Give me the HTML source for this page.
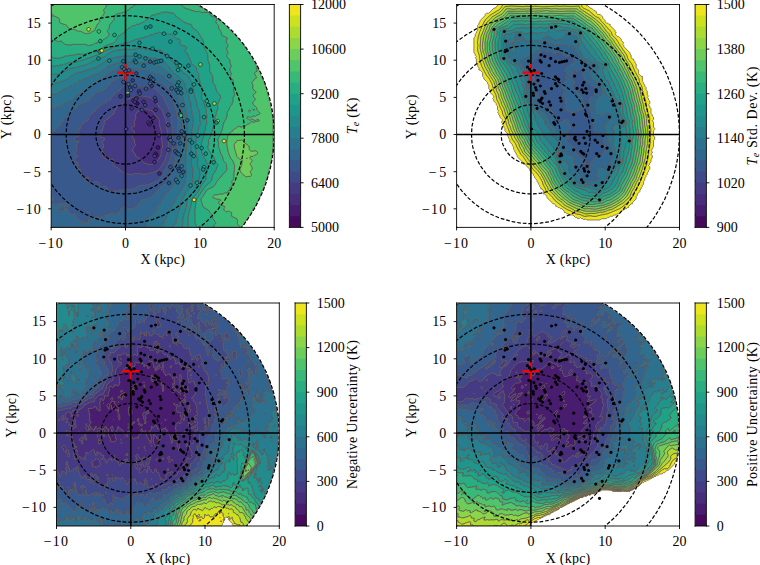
<!DOCTYPE html>
<html><head><meta charset="utf-8"><style>
html,body{margin:0;padding:0;background:#fff;width:760px;height:565px;overflow:hidden}
svg{display:block}
text{font-family:"Liberation Serif",serif}
</style></head><body>
<svg width="760" height="565" viewBox="0 0 760 565">
<defs>
<style type="text/css">*{stroke-linejoin: round; stroke-linecap: butt}</style>
</defs>
<g id="figure_1">
<g id="patch_1">
<path d="M0 565l760 0 0-565-760 0z" style="fill: #ffffff"/>
</g>
<g id="axes_1">
<g id="patch_2">
<path d="M51.2 227.4l223 0 0-222.9-223 0z" style="fill: #ffffff"/>
</g>
<g id="QuadContourSet_1">
<path clip-path="url(#p6381751999)" style="fill: #460a5d; stroke: #615252; stroke-opacity: 0.8; stroke-width: 0.9"/>
<path clip-path="url(#p6381751999)" style="fill: #481c6e; stroke: #615252; stroke-opacity: 0.8; stroke-width: 0.9"/>
<path d="M149.1 164.3l2.5 .4 4.9-2.6 2.5-3.1 2.3-4.7-.2-3.7 1.4-3.7 .1-1.2-1.4-9.9 .4-3.8-1.6-4.9-1-7.8-1.3-2.1-3.2-2.5-.7-2.5-1.3-1.2-7.1-2.1-2.5-.1-1.3-.6-1.2 .5-.2 1.1-1 1-2.4 1.4-.7 1.3-.6 1.2 .4 2.5-.2 1.2-1.7 3.7 .8 2.5-.6 1.6-2.7 .9-.5 1.2 2.9 2.5 .6 1.2-.3 1.5-1.8 2.3 .2 1.2 1.5 2.5 .6 3.7 .8 1.2 0 1.3-1.3 .8-2 4.1 3.2 3.7-.2 1.3 1.2 1.2 2.8 1.3 3.6 3.7 1.8 1.2 3.2 1.2z" clip-path="url(#p6381751999)" style="fill: #472d7b; stroke: #615252; stroke-opacity: 0.8; stroke-width: 0.9"/>
<path d="M130.5 174.5l1.2 .1 2.5-.9 3.7-.2 1.3-.1 3.7 .9 4.9-.4 2.5-.9 2.5-.2 3.7-1.7 3.8-3.1 4.9-8.3 .7-2.9 1.2-2.5 1.1-7.4 .2-6.2-.9-4.9 0-3.8-.9-4.9-.5-6.2-3.6-9.9-.8-1.2-2.7-3.2-1.8-3-6.9-6.2-7.4-1.3-5-.1-4.9 1.2-2.5 1.3-2.5 .6-1.2 1-2.6 1-1.1 1.6-2.5 1.5-1.3 1.5-2.3 1.6-2.2 3.7-.7 2.5-2.2 1.6-1.2 1.6-2.5 1.3-1.2 1.4-2.5 1.4-.4 3.8-.9 2.2-.5 2.8-.8 1.2-1.1 4-1 1 1 1.5 2.4 .3 .9 .6 .6 1.3-1.5 1.3-.5 1.2 0 1.2 1 2.5 0 1.2-1.5 1.2-.3 1.3 .2 1.2 1.9 2.5 0 1.2-2 1.1 .3 1.4 2.2 1.4 6.2 1.3 1.2-.5 1 .3 .5 1.2-.8 1.3-.2 1.2 2 3.1 1.2 1 2.5 .9 3.7 3.4 2.5 1.6 1.2 .6 4 .6zM147.8 164.2l-3.2-1.2-1.8-1.2-3.6-3.7-2.8-1.3-1.2-1.2 .2-1.3-3.2-3.7 2-4.1 1.3-.8 0-1.3-.8-1.2-.6-3.7-1.5-2.5-.2-1.2 1.8-2.3 .3-1.5-.6-1.2-2.9-2.5 .5-1.2 2.7-.9 .6-1.6-.8-2.5 1.7-3.7 .2-1.2-.4-2.5 .6-1.2 .7-1.3 2.4-1.4 1-1 .2-1.1 1.2-.5 1.3 .6 2.5 .1 7.1 2.1 1.3 1.2 .7 2.5 3.2 2.5 1.3 2.1 1 7.8 1.6 4.9-.4 3.8 1.4 9.9-.1 1.2-1.4 3.7 .2 3.7-2.3 4.7-2.5 3.1-4.9 2.6-2.5-.4z" clip-path="url(#p6381751999)" style="fill: #443b84; stroke: #615252; stroke-opacity: 0.8; stroke-width: 0.9"/>
<path d="M109.4 191.6l1.3 .3 1.2-.3 1.2-.9 2.7 .8 2.3-1.2 2.5 .4 2.5-1 8.6 .1 1.3-.9 2.4-.8 2.3-1.6 3.9-1.5 2.5 .2 5-.7 2.5-1.1 2.3-.6 1.4-1.2 2.4-1.2 1.3-1.5 2.5-1.9 1.8-2.8 1.2-3.8 2.1-2.4 3.5-8.7 2-6.2 .9-6.2 .1-6.2-.5-4.9 .3-5-1.3-6.2 .1-4.9-1.1-5-2.3-7.4-3-5-1.9-4.9-.9-1.3-3.5-2.9-2.5-3.3-2.5-1.7-3.7-.7-2.5-.9-3.7 .4-4.9 0-3.3-2-1.7-.3-5 .1-4.9 1.2-1.2 1.2-2.5 1.4-1.3 1.8-4.9 3.5-4.7 6-2.4 1.2-1.6 1.6-1.2 .2-1.1 .7-.9 1.2-2.7 1.2-1.5 1.6-1.7 .9-1.8 2.5-1.5 .9-1.2 1.5-2.4 1.3-.6 1.3-.2 2.4-1.9 2.5-2.6 1.2-2.2 2.1-1.3 .4-.1 3.7-1.9 1.3-.7 1.2 .2 1.2 1.9 2.5-.5 1.3-2.6 .6-1.2 1.7-1.8 1.4 .5 1.1 1.3 .8 2.5-.2 .7 .8-.7 .8-1.3 .5-.4 1.1-.2 1.3 .6 2.4-1 2.5-.5 2.5 .5 1.2 1.4 1.3 .7 1.2-2.3 .4-1.3 2.6-2.5 .7 1.3 1.5 2.5-.4 1.7 1.4 .7 1.2-.7 2.5 .4 1.3 3.1 2.4-.8 1.3-.1 1.2 .4 1.3 3.7 3.7 .9 2.4 1.6 1.3 6.4 1 2.5-1.3 1.3 .3 2.1 1.2 .1 2.5 1.3 1.2 1.4 .3 2.5-.4 1.2 .6 2.1 2 1.4 2.5zM85.6 177.9l1.5-1.1 1.3 .9 0 .5-1.3 .5-1.2-.8zM129.5 174.2l-4-.6-1.2-.6-2.5-1.6-3.7-3.4-2.5-.9-1.2-1-2-3.1 .2-1.2 .8-1.3-.5-1.2-1-.3-1.2 .5-6.2-1.3-2.2-1.4-.3-1.4 2-1.1 0-1.2-1.9-2.5-.2-1.2 .3-1.3 1.5-1.2 0-1.2-1-2.5 0-1.2 .5-1.2 1.5-1.3-.6-1.3-.9-.6-2.4-.3-1-1.5 1-1 1.1-4 .8-1.2 .5-2.8 .9-2.2 .4-3.8 2.5-1.4 1.2-1.4 2.5-1.3 1.2-1.6 2.2-1.6 .7-2.5 2.2-3.7 2.3-1.6 1.3-1.5 2.5-1.5 1.1-1.6 2.6-1 1.2-1 2.5-.6 2.5-1.3 4.9-1.2 5 .1 7.4 1.3 6.9 6.2 1.8 3 2.7 3.2 .8 1.2 3.6 9.9 .5 6.2 .9 4.9 0 3.8 .9 4.9-.2 6.2-1.1 7.4-1.2 2.5-.7 2.9-4.9 8.3-3.8 3.1-3.7 1.7-2.5 .2-2.5 .9-4.9 .4-3.7-.9-1.3 .1-3.7 .2-2.5 .9-1.2-.1z" clip-path="url(#p6381751999)" style="fill: #3e4a89; stroke: #615252; stroke-opacity: 0.8; stroke-width: 0.9"/>
<path d="M84.6 224.5l.3-.8-.8-2.5 .5-.2 2.2 1.4 1.1 0 .5-.6 0-2.4 1.2-.7 1.2 0 1.4-1.2 1.1-.5 2.5 .3 2.5-.5 2.5 .5 2.4-1.3 2.5-.6 1.3-1 3.7-.6 1.2-.9 2.5 1 1.2 .1 1.3-1 2.6-.5 .7-1.2-.2-2.5 1.8-.3 2.5-1.9 1.2 .2 2.5 1.6 2.5-.2 2.5 .4 2.4-1.6 2.1-.7 1-2.4 3.1-3.8 2.5-.7 1.3-.9 2.4 0 4.2-2.1 1.9-2.4 5.1-4.2 1.2-2.2 2.5-2.6 2.7-2.2 1.7-2.5 1.6-3.7 1.4-2.2 .6-2.7 3.5-7.5 2.4-11.1 1.2-14.9-.1-9.9-.4-4.9 .1-3.7-.7-7.5-3.5-9.9 0-3.7-.6-2.1-2.3-5.3-3.2-3.7-5.6-3.9-5-1.9-3.7-2.3-6.2-1.6-6.2-1.2-3.7-.2-3.7-1.1-5-.3-4.9 1.5-1.3 .9-2.5 .6-4.6 2-3.7 2.5-4.5 5-1.9 1.2-1.4 2.1-2.4 .4-1.3 1-2.5 .3-3.7 2.6-1.3 2.3-3.6 3-2.5 1.1-1.3 1.2-3.1 .9-.9 1.2-2.1 .3-1.9 2.2-1.9 .9-2.5 2.8-.7 1.2-.2 1.3-.9 1.2-1.9 .8-1.2 1.2-3.1 1.7-.6 1.4-1.2 1.4-1.3 3.4-2 1.3-.6 1.2-1.1 1.2-1.2 .4-1.4 2.1-2.2 1.2-.4 3.8-1 1 0 59.2 2.3 1.7 .5 1.2-.6 1.3-2 1.2 0 1.2 2.3 1.7 2.5-.6 2.4 .3 2.5-1.3 3.7 1.1 1.3-.9 2.4 .9 .8 1.3-.2 1.2-.6 .7-2.4-1-1.2 1.6 2.9 2.5 2.2 3.7 1 .5 1.3 .1 1.2-1 1.2 .4 1.3 1.5 1.5 3.4 4 2.5 2.3 2.5zM87.6 212.5l.3-1.2 .5-.3 1.2 .2 .7 1.3-.7 .8-1.2-.2zM109.2 191.5l-1.4-2.5-2.1-2-1.2-.6-2.5 .4-1.4-.3-1.3-1.2-.1-2.5-2.1-1.2-1.3-.3-2.5 1.3-6.4-1-1.6-1.3-.9-2.4-3.7-3.7-.4-1.3 .1-1.2 .8-1.3-3.1-2.4-.4-1.3 .7-2.5-.7-1.2-1.7-1.4-2.5 .4-1.3-1.5 2.5-.7 1.3-2.6 2.3-.4-.7-1.2-1.4-1.3-.5-1.2 .5-2.5 1-2.5-.6-2.4 .2-1.3 .4-1.1 1.3-.5 .7-.8-.7-.8-2.5 .2-1.3-.8-.5-1.1 1.8-1.4 1.2-1.7 2.6-.6 .5-1.3-1.9-2.5-.2-1.2 .7-1.2 1.9-1.3 .1-3.7 1.3-.4 2.2-2.1 2.6-1.2 1.9-2.5 .2-2.4 .6-1.3 2.4-1.3 1.2-1.5 1.5-.9 1.8-2.5 1.7-.9 1.5-1.6 2.7-1.2 .9-1.2 1.1-.7 1.2-.2 1.6-1.6 2.4-1.2 4.7-6 4.9-3.5 1.3-1.8 2.5-1.4 1.2-1.2 4.9-1.2 5-.1 1.7 .3 3.3 2 4.9 0 3.7-.4 2.5 .9 3.7 .7 2.5 1.7 2.5 3.3 3.5 2.9 .9 1.3 1.9 4.9 3 5 2.3 7.4 1.1 5-.1 4.9 1.3 6.2-.3 5 .5 4.9-.1 6.2-.9 6.2-2 6.2-3.5 8.7-2.1 2.4-1.2 3.8-1.8 2.8-2.5 1.9-1.3 1.5-2.4 1.2-1.4 1.2-2.3 .6-2.5 1.1-5 .7-2.5-.2-3.9 1.5-2.3 1.6-2.4 .8-1.3 .9-8.6-.1-2.5 1-2.5-.4-2.3 1.2-2.7-.8-1.2 .9-1.2 .3-1.3-.3zM58.6 210.2l1.3-.1 3.7 .7 .7-.7 .4-2.5-3.6-1.2-2.4 2.4-.3 1.3zM85.9 177.9l1.2 .8 1.3-.5 0-.5-1.3-.9-1.5 1.1z" clip-path="url(#p6381751999)" style="fill: #38598c; stroke: #615252; stroke-opacity: 0.8; stroke-width: 0.9"/>
<path d="M52.4 227.4l92.9 0 .7-1.2 0-3.8 1.6-2.4 .9-2.5 3.1-3.3 1.4-.4 3.2-2.5 .5-1.2 0-2.5 2.3-2 2.1-3 1.1-3.7 1.7-1.6 1.3-2.6 2.5-2.8 2.5-1.7 2.4-2.4 .6-1.3 .2-2.4 1.7-2.5 .6-2.5 3.1-7 .6-4.1 .8-2.5 .2-5 1.2-8.6-.4-6.2 1.3-7.5 .5-6.2-.9-8.6 .4-5-.5-4.9-1.5-5-.4-3.7-1.5-3.7-1.8-9.9-2.1-3.7-.8-2.5-1.3-1.8-4.9-3.1-2.6-2.5-3.6-2.4-7.5-3-3.7-.8-3.7-2-8.7-.2-6.2-.7-3.7-1.1-3.7-.3-1.2 .1-6.2 2.7-2.5 .6-5 2.1-3.7 2.4-4.9 4.3-1.6 .7-2.2 1.9-9.1 5.6-5.7 4.7-6.2 3.5-1.3 1.7-1.2 .5-1.4 2-7.3 3.4-1.2 1-2.5 .9-1.2 1.5-2.5 .4-1.8 1.4-3.2-.2-1.2 1 0 27.5 1-1 .4-3.8 2.2-1.2 1.4-2.1 1.2-.4 1.1-1.2 .6-1.2 2-1.3 1.3-3.4 1.2-1.4 .6-1.4 3.1-1.7 1.2-1.2 1.9-.8 .9-1.2 .2-1.3 .7-1.2 2.5-2.8 1.9-.9 1.9-2.2 2.1-.3 .9-1.2 3.1-.9 1.3-1.2 2.5-1.1 3.6-3 1.3-2.3 3.7-2.6 2.5-.3 1.3-1 2.4-.4 1.4-2.1 1.9-1.2 4.5-5 3.7-2.5 4.6-2 2.5-.6 1.3-.9 4.9-1.5 5 .3 4.9 1.3 2.5 0 11.2 2.4 6.1 3.3 5 2.1 4.4 3.1 3 3.5 2.8 6.4 .3 4.9 3.5 9.9 .7 7.5-.1 3.7 .4 4.9 .1 9.9-1 9.9 0 3.8-2.6 12.3-3.5 7.5-.6 2.7-4.7 8.4-2.7 2.2-2.5 2.6-1.7 2.6-4.6 3.8-1.9 2.4-4.2 2.1-2.4 0-1.3 .9-2.5 .8-3.1 3.7-1 2.4-2.1 .7-2.4 1.6-2.5-.4-2.5 .2-2.5-1.6-1.2-.2-2.5 1.9-1.8 .3 .2 2.5-.7 1.2-2.6 .5-1.3 1-1.2-.1-2.5-1-1.2 .9-3.7 .6-1.3 1-2.5 .6-2.4 1.3-2.5-.5-2.5 .5-2.5-.3-1.1 .5-1.4 1.2-1.2 0-1.2 .7 0 2.4-.5 .6-1.1 0-2.2-1.4-.5 .2 .8 2.5-.3 .8-3.1-3.3-4-2.5-1.5-3.4-1.3-1.5-1.2-.4-1.2 1-1.3-.1-1-.5-2.2-3.7-2.9-2.5 1.2-1.6 2.4 1 .6-.7 .2-1.2-.7-1.2-2.5-1-1.3 .9-3.7-1.1-2.5 1.3-2.4-.3-2.5 .6-1-.4-1.3-1.3 0-1.2 2-1.2 .6-1.3-.5-1.2-2.3-1.7 0 31.4zM58.4 210.1l.3-1.3 2.4-2.4 3.6 1.2-.4 2.5-.7 .7-3.7-.7-1.3 .1zM88.4 213.1l1.2 .2 .7-.8-.7-1.3-1.2-.2-.5 .3-.3 1.2z" clip-path="url(#p6381751999)" style="fill: #31668e; stroke: #615252; stroke-opacity: 0.8; stroke-width: 0.9"/>
<path d="M145.4 227.4l16 0 1.3-.8 1.4-2.9 .7-3.7 2.4-2.5 .1-3.7 4.2-5 .3-2.5 .6-1.2 1.6-1.2 2.6-6.2 2.2-2.9 1.2-2.6 3.8-5.7 1.4-4.9 1.2-7.4-.8-6.2 .6-7.5-.1-4.9 1.6-29.7-.8-3.8 .4-3.7-.6-3.7 0-2.5-1.5-4.9-.4-3.7-.9-2.5-.7-3.7-1.4-3.7-.7-3.8-2.5-6.1-4.8-5.3-4.2-3.4-3.2-4.4-6.2-4.1-7.4-3.2-11.2-.9-7.4 .2-5-1.1-4.9 0-5 .7-8.9 2.9-4.4 2.5-4.3 3.7-4.7 2.4-18.5 7.6-2.5 1.8-2.1 .6-1.6 1.7-2.5 .9-1.3 1.1-2.4 .6-3.7 2-2.5 1.9-1.7 .4-2 1.2-2.5 .2-2.5 1 0 14.5 1.2-1 3.2 .2 1.8-1.4 2.5-.4 1.2-1.5 2.5-.9 1.2-1 7.3-3.4 1.4-2 1.2-.5 1.3-1.7 6.2-3.5 5.7-4.7 9.1-5.6 2.2-1.9 1.6-.7 4.9-4.3 3.7-2.4 5-2.1 2.5-.6 6.2-2.7 4.9 .2 3.7 1.1 6.2 .7 8.7 .2 3.7 2 5 1.2 7.4 3.3 2.4 1.7 2.6 2.5 3.7 2.1 1.7 1.6 1.6 3.7 2.1 3.7 1.8 9.9 1.5 3.7 .4 3.7 1.3 3.7 .7 6.2-.4 5 .6 3.7 .2 6.2-.4 4.9-1.3 7.5 .4 6.2-1.2 8.6-.2 5-.8 2.5-.6 4.1-3.1 7-.6 2.5-1.7 2.5-.2 2.4-.6 1.2-2.5 2.6-2.1 1.2-2.8 3.2-1.3 2.6-1.7 1.6-1.1 3.7-2.1 3-2.3 2 0 2.5-.5 1.2-3.2 2.5-1.4 .4-3.1 3.3-.9 2.5-1.6 2.4 0 3.8-.7 1.2z" clip-path="url(#p6381751999)" style="fill: #2c728e; stroke: #615252; stroke-opacity: 0.8; stroke-width: 0.9"/>
<path d="M161.5 227.4l10.9 0 3.5-3.7 .6-1.3-.1-3.7 1.2-2.4 0-2.5 2.4-5 1.2-6.2 2.1-4.9 2.9-5 4.3-4.9 2.2-5-.1-3.7 .7-3.7-.8-7.4-1.1-3.8 .2-11.1-.4-8.7 .8-6.2 .2-8.6 1.2-5 .1-6.2-.1-1.2-1-2.5-.4-3.7-1.1-3.7 .4-3.7-1.8-3.7-.7-3.8-1.3-3.1-.5-3.1-1.5-2.4-1.1-5-5.9-6.2-5.4-3.7-2.4-3.7-5.6-6.2-2.4-1.6-7.4-3.1-5-.2-7.4-1.6-3.7 .2-2.5-.4-11.2-.3-4.9 .6-9.9 2.2-4 1.7-9.7 6.7-3.7 1.5-2.5 .3-6.2 2.3-7.4 1.8-4.9 2.2-5 4.1-3.7 1.8-2.5 .5-4.9 1.9-3 1.7-2 1.8 0 8 2.5-1 2.5-.2 2-1.2 1.7-.4 2.5-1.9 3.7-2 2.4-.6 1.3-1.1 2.5-.9 1.6-1.7 2.1-.6 2.5-1.8 18.5-7.6 4.7-2.4 4.3-3.7 4.4-2.5 8.9-2.9 5-.7 4.9 0 5 1.1 7.4-.2 11.2 .9 1.2 .4 6.2 2.8 6.2 4.1 3.2 4.4 4.2 3.4 3.9 4 1.1 1.6 2.3 5.8 .7 3.8 1.4 3.7 .7 3.7 .9 2.5 .4 3.7 1.5 4.9 0 2.5 .6 3.7-.4 3.7 .8 3.8-1.6 29.7 .1 4.9-.6 7.5 .6 7.4-.6 2.5-.4 3.7-1.5 4.9-3.7 5.7-1.2 2.6-2.2 2.9-2.6 6.2-1.6 1.2-.6 1.2-.3 2.5-4.2 5-.1 3.7-2 1.9-1.6 5.5-.9 1.7-1.3 .8z" clip-path="url(#p6381751999)" style="fill: #277e8e; stroke: #615252; stroke-opacity: 0.8; stroke-width: 0.9"/>
<path d="M172.6 227.4l9.8 0 .6-8.7 1.1-4.9 2.4-6.2 .4-6.2 1.8-4.5 2.5-3 2.8-2.4 1.8-2.5 1-3.7 2.2-5 1.1-7.4-1.2-4.9-1.4-3.8-.1-1.2 .6-2.5-.1-1.2-1.4-3.7-.6-12.4 1.2-8.7 1.9-7.4 1.5-2.5 .3-1.2-1-3.7 .3-3.7-1.2-6.2-1.8-3.8 .2-2.4-.3-1.3-1.1-2.4-1.8-6.2-.4-5-1.7-3.7-.1-2.5-.5-1.2-1.9-2.5-.9-2.5-1.1-1.2-2.5-1.1-1.9-1.4-1.6-2.5-1.3-1.2-4.1-2.5-1-3.7-1.3-1.1-2.6-1.4-1.3-1.2-1-2.5-3.8-2.5-3.6-3.5-1.3-.5-7.4 0-5-1.1-2.4 .1-3.8-1.3-4.9 .7-2.5 .9-3.7 .3-3.7-.4-11.2 1-3.7 1.4-3.7 2-2.5 2.1-3.6 2-6.3 1.8-6.2 3.7-3.7 1.5-9.9 2.7-7.5 1.4-6.1 3.8-3.8 1.4-7.4 .4 0 12.4 2-1.8 4.2-2.3 6.2-1.8 4.3-2.1 1.9-1.9 3.7-2.6 3.7-1.5 7.4-1.8 6.2-2.3 2.5-.3 3.7-1.5 10-6.8 3.7-1.6 4.9-1.2 9.9-1.6 11.2 .3 2.5 .4 3.7-.2 7.4 1.6 3.7 0 1.3 .2 7.4 3.1 3.7 2.8 4.3 5 3.1 4.4 4.7 3 5.3 5.5 1.1 2 .6 3.7 1.5 2.4 .5 3.1 1.3 3.1 .7 3.8 1.8 3.7-.4 3.7 1.1 3.7 .4 3.7 1 2.5 .1 6.2-1.3 6.2-.2 8.6-.8 6.2 .4 8.7-.2 11.1 1.1 3.8 .7 6.2-.6 4.9 .2 2.5-.4 2-1.9 4.2-4.3 4.9-2.9 5-2.1 4.9-1.2 6.2-2.4 5 0 2.5-1.3 2.8 0 3.9-3.9 4.4z" clip-path="url(#p6381751999)" style="fill: #238a8d; stroke: #615252; stroke-opacity: 0.8; stroke-width: 0.9"/>
<path d="M182.5 227.4l5.9 0-.2-8.7 .6-4.9 2.2-7.5 .8-6.1 1.3-2.5 3.1-3.1 2.3-3.1 2.9-6.2 4-5 .6-1.2 .1-3.7 1.2-2.5 .1-3.7 1.5-2.5-.1-1.2-2.3-3.7-.9-2.5-2.7-3.7-1.7-6.2 .4-7.4 2-5 .4-3.7 1.4-2.5 .1-3.7 1.5-3.7-.6-3.7 .6-3.7-.8-3.8 .3-2.4-1.8-3.8-.7-3.7-2.3-3.7-.1-7.4 .9-2.5-.1-1.2-2-2.5-.4-3.7-1.2-3.7-.1-3.8-1.8-2.4-.5-3.7-.9-1.3-4-2.5-.9-3.7-2.1-3.7-.6-2.5-2.5-2.4-.4-1.3 1.2-1.1 .6-1.4-.5-1.2-2.5-1.1-2.5-.1-1.3-1-.4-1.5 .8-1.3 .2-1.2-.6-.7-1.2-.8-2.5-.4-1.3-.6-1.6-2.4-1.3-1.3-2-.3-2.4 .5-6.1-1.4-2.6-1.2-2.5 1.6-2.5 0-1.2 1.2-2.5 .3-1.2 .4-1.3 1.1-2.4 .2-2.5 1.3-6.5 1.3-7.2 2.8-6.1 1.3-5 1.7-6.2 3.1-6.2 2.4-6.2 3.6-21 7.3-8.7 1-6.2 2-2.5 .3-2.5 .8-2.4 .1-2.5 .7-2.5-.5 0 8.6 7.4-.4 3.8-1.4 6.1-3.8 7.5-1.4 9.9-2.7 3.7-1.5 6.2-3.7 6.3-1.8 3.6-2 2.5-2.1 3.7-2 3.7-1.4 11.2-1 3.7 .4 3.7-.3 2.5-.9 4.9-.7 3.8 1.3 2.4-.1 5 1.1 7.4 0 1.3 .5 3.6 3.5 3.8 2.5 1 2.5 1.3 1.2 2.6 1.4 1.3 1.1 1 3.7 4.1 2.5 1.3 1.2 1.6 2.5 1.9 1.4 2.5 1.1 1.1 1.2 .9 2.5 1.9 2.5 .5 1.2 .1 2.5 1.7 3.7 .4 5 1.8 6.2 1.1 2.4 .3 1.3-.2 2.4 1.8 3.8 1.2 6.2-.3 3.7 1 3.7-.3 1.2-1.5 2.5-1.9 7.4-1.2 8.7 .6 12.4 1.4 3.7 .1 1.2-.6 2.5 .1 1.2 1.4 3.8 1.2 6.2-1.5 7.4-1.8 3.7-1 3.7-1.8 2.5-2.8 2.4-2.5 3-1.8 4.5-.4 6.2-2.4 6.2-1.1 4.9-.6 8.7z" clip-path="url(#p6381751999)" style="fill: #1f968b; stroke: #615252; stroke-opacity: 0.8; stroke-width: 0.9"/>
<path d="M188.7 227.4l8.5 0-2.2-5 .3-4.9-.5-5 1.4-12.3 8-12.4 3.1-3.3 2.3-1.7 2.1-2.5 1.1-4.9 3.1-5 2-4.9-.2-1.3-2.1-2.4-1.7-5-2.3-2.5-3.1-4.9-.6-2.5 .9-2.5-.3-4.4 1.9-3 .4-2.5 1.8-3.7 1.2-6.2 1.1-2.5 .1-4.9 1.3-2.5 .1-2.5 1.5-3.7-.3-3.7 1.9-4.9 1.4-2.5-.9-2.5-3.3-3.7-1.3-5-2.3-3.7-.3-6.2-3.3-6.2 .3-4.9-2-6.2 .2-2.5-.3-2.5-4-7.4-.1-5-.4-1.2-5.2-8.7-1.8-1.8-3.7-1.9-.6-2.4-.7-1.3-3.7-.8-3.8-1.7-2.9-2.4-4.2-2.5-2.8-3.6-1.2-.5-2.5-.1-3.7-.8-4.9 .5-2.5 1.2-2.5 .3-1.2 .8-3.7 .5-1.1 1.7-1.4 .3-1.5 2.2-2.2 .8-2.5 2-2.5 .8-1.2 1.3-2.5-.2-2.2 1.5-1.5-.1-1.3 .6-1.2 1.3-2.5 1.1-1.2 1.6-1.3 .6-1.9 2.3-1.8 .8-4 2.9-1.8 3.7-2.3 2.5-6.7 2.3-3.8 1.9-2.3 2-3.9 2.3-6.2 1-7.4 1.8-3.7-.2-3.7 .3-2.5 .9-3.6 .1-1.4 .5-2.4-.1-2.5 1.1-5 1.5-4.9-.6-2.5-1 0 9.1 2.5 .5 2.5-.7 2.4-.1 2.5-.8 2.5-.3 6.2-2 8.7-1 21-7.3 6.2-3.6 6.2-2.4 6.2-3.1 5-1.7 6.1-1.3 7.2-2.8 6.5-1.3 2.5-1.3 2.4-.2 1.3-1.1 1.2-.4 2.5-.3 1.2-1.2 2.5 0 2.5-1.6 2.6 1.2 6.1 1.4 2.4-.5 2 .3 1.3 1.3 1.6 2.4 1.3 .6 2.5 .4 1.2 .8 .6 .7-.2 1.2-.8 1.3 .4 1.5 1.3 1 2.5 .1 2.5 1.1 .5 1.2-.6 1.4-1.2 1.1 .4 1.3 2.5 2.4 .6 2.5 2.1 3.7 .9 3.7 4 2.5 .9 1.3 .5 3.7 1.8 2.4 .1 3.8 1.2 3.7 .4 3.7 2 2.5 .1 1.2-.9 2.5 .3 3.7-.4 2.5 .2 1.2 2.3 3.7 .7 3.7 1.8 3.8-.3 2.4 .8 3.8-.6 3.7 .6 3.7-1.5 3.7-.1 3.7-1.4 2.5-.4 3.7-2 5-.4 7.4 1.7 6.2 2.7 3.7 .9 2.5 2.3 3.7 .1 1.2-1.5 2.5-.1 3.7-1.2 2.5-.1 3.7-.6 1.2-4 5-2.9 6.2-2.3 3.1-3.1 3.1-1.3 2.5-.8 6.1-2.2 7.5-.6 4.9 .2 8.7z" clip-path="url(#p6381751999)" style="fill: #1fa287; stroke: #615252; stroke-opacity: 0.8; stroke-width: 0.9"/>
<path d="M197.4 227.4l17 0-.6-1.2 .6-1.3 1.3-1.2 0-1.3-.6-1.2-2.1-2.5-.4-3.7-2.5-2.5-1.6-2.4-4.3-2.5-1.1-1.3-2-6.1 .1-1.3 3.4-4.9 1.5-3.1 3.7-2.5 2.5-.9 2.6-2.2 1.9-3.7 2.9-3.6 1.2-.9 1.3-2.2 2.4-1.8 2-2.7 .4-1.2-.5-5-3-3.7-.8-3.7-2.1-3.7-.5-2.5-1.6-3.7-.1-1.2 .4-2.5-.9-3.7 .5-1.6 1.7-2.1 .6-2.5 1.2-2.5 2.2-8.7 1.7-2.4 1.5-3.7 0-3.8 .6-1.2 1.3-1.2 .5-2.5 2.1-2.5 .9-2.5 .4-1.2 .2-3.7 1.3-2.5 0-1.2-1.1-3.8 .6-2.4-.6-2.5 0-3.7-.4-1.3-2.3-2.4-.4-1.3 1.2-2.5-1.6-3.7 .1-1.2 1.3-2.5-1.3-3.7 0-2.5-3.3-3.7-.1-1.2 1.6-2.5-1.7-3.7 .1-1.3 .4-.7 1-.5 .2-1.2-1.8-2.5-.1-1.3 1-3.7-5.2-2.5-.6-1.2-.4-2.5-2.8-3.7 .3-2.4-2.4-2.5-.2-1.3 .7-2.4-.3-1.3-1.8-1.1-4-1.4-.8-1.2 1.1-1.2-1.2 0-.6-.6-4.4-.5-2.5 .5-3.7-1.4-2.4 .4-1.3-.3-11.1-3.8-2.6-3-44.3 0-2.7 .4-1.2 1.8-2.5 .9-1.3 1.9-2.4 1.2-1.3 1.3-2.4 .3-2.5 .9-2.5 .1-3.8 2.3-.6 1.3 .4 2.5-2.9 3.7-1.5 1.2-.4 1.3 0 2.4-1.9 2.5 .1 1.2 1.5 2.5-.2 1.3-3.1 2.8-2.5 1.3-1.2 1.3-2.5 .4-2.5 1.5-2.4 .6-1.3 1-4.9 1.1-3.8-1.4-2.4 .4-2.5-.3-2.5 .3-3.7-.2-2.5 .5-4.9-.2-1.4-.5-2.3-2.3-1.3-.7-1.2 0-1.3 .6-3.7-1.5-3.7 .2 0 16.3 2.5 1 4.9 .6 5-1.5 2.5-1.1 2.4 .1 1.4-.5 3.6-.1 2.5-.9 3.7-.3 3.7 .2 7.4-1.8 6.2-1 3.9-2.3 2.3-2 3.8-1.9 6.7-2.3 2.3-2.5 1.8-3.7 4-2.9 1.8-.8 1.9-2.3 1.3-.6 1.2-1.6 2.5-1.1 1.2-1.3 1.3-.6 1.5 .1 2.2-1.5 2.5 .2 1.2-1.3 2.5-.8 2.5-2 2.2-.8 1.5-2.2 1.4-.3 1.1-1.7 3.7-.5 1.2-.8 2.5-.3 2.5-1.2 4.9-.5 7.3 1.3 2.9 3.7 4.2 2.5 2.9 2.4 3.8 1.7 3.7 .8 .7 1.3 .6 2.4 2.4 1.1 2.5 1.9 5.8 9.4 .4 1.2 .1 5 4 7.4 .3 2.5-.2 2.5 2 6.2-.3 4.9 3.3 6.2 .3 6.2 2.3 3.7 1.3 5 3.3 3.7 .9 2.5-1.4 2.5-1.9 4.9 .3 3.7-1.5 3.7-.1 2.5-1.3 2.5-.1 4.9-1.1 2.5-1.2 6.2-1.8 3.7-.4 2.5-1.9 3 .3 4.4-.9 2.5 .6 2.5 3.1 4.9 2.3 2.5 1.7 5 2.1 2.4 .2 1.3-2 4.9-3.1 5-1.1 4.9-2.1 2.5-2.3 1.7-3.1 3.3-8 12.4-1.4 12.3 .5 5-.3 4.9 2.2 5z" clip-path="url(#p6381751999)" style="fill: #28ae80; stroke: #615252; stroke-opacity: 0.8; stroke-width: 0.9"/>
<path d="M214.7 227.4l25.3 0-.5-1.2-2-2.5 0-3.7-.5-1.3-5.2-2.4-.2-3.8-2-1.1-1.2-.2-1.3 .5-1.7-.4-1.2-1.2-.2-1.3 .6-1.2 .1-1.3-3.8-1-1.8-1.4-.3-1.3 .5-1.2 .4-.6 1.4-.6-1.4-1-2.5-.1-4.1-1.4 .1-1.3 1.5-1.5 2.5 0 2.5-.8 2.5 .3 2.4-1.2 2.5-.2 1.3-2.3 1.2 0 .6-.5 0-2.4 .6-1.2 1.9-1.3-.7-3.7 1.6-2.5 .3-1.2 .8-12.4-1.3-3.7-3.4-5-1.7-4.9-1.5-7.5 .2-3.7 .8-4.9 3-3.8 2.2-1.2 1.6-2.1 1.3-.4 2.4-1.9 3.7 .9 1.2-1.3 2.5 .2 1.3-1.6 2.4-.8 2.5-2 2.5 .7 .8-.4 .4-.7 2.5 0 1.2-.4-.5-1.3-.7-.5-1.2 .1-1.3 1.4-3.7-1.9-1.2 1-1.3-.1-2.2-1.3-.1-1.2 1.1-.5 2.5 1.1 2.4-1.6 2.5 .2 1.3-1.2 2.4-.7 .8-1-.6-1.3-2.4-2.4-.6-2.5-2.8-2.5-.8-1.2 .2-1.4 2.4-2.3-.4-1.3-1.9-2.5 .1-1.2 1.1-1.2 1.2-.5 .5-.8-.6-1.2-1.7-1.3-.8-1.2-.1-3.7-1-2.5 1.2-1.1 1.3-2.1 2.4-1.7-2.1-3.8 .3-1.2 .6-.7 1.6-.5 0-1.3-1-2.4 .7-2.5-1.3-1.3 0-1.2-2.5-2.5 0-1.2-1.2-1.3 0-1.2-2.5-2.5 0-1.2-2.5-2.5 0-1.2-2.4-2.5 0-1.2-5-5 0-1.2-18.6-18.6-1.2 0-5-5-1.2 0-2.4-2.3-1.2 1.1 .8 1.2 4 1.4 1.8 1.1 .3 1.3-.7 2.4 .2 1.3 2.4 2.5-.3 2.4 2.8 3.7 .4 2.5 .6 1.2 5.2 2.5-1 3.7 .1 1.3 1.8 2.5-.2 1.2-1 .5-.4 .7-.1 1.3 1.7 3.7-1.6 2.5 .1 1.2 3.3 3.7 0 2.5 1.3 3.7-1.3 2.5-.1 1.2 1.6 3.7-1.2 2.5 .4 1.3 2.3 2.4 .4 1.3 0 3.7 .6 2.5-.6 2.4 1.1 3.8 0 1.2-1.3 2.5-.2 3.7-.4 1.2-.9 2.5-2.1 2.5-.5 2.5-1.3 1.2-.6 1.2 0 3.8-1.5 3.7-1.7 2.4-2.2 8.7-1.2 2.5-.6 2.5-1.7 2.1-.5 1.6 .9 3.7-.4 2.5 .1 1.2 1.6 3.7 .5 2.5 2.1 3.7 .8 3.7 3 3.7 .5 5-.4 1.2-2 2.7-2.4 1.8-1.3 2.2-1.2 .9-2.9 3.6-1.9 3.7-2.6 2.2-2.5 .9-3.7 2.5-1.5 3.1-3.4 4.9-.1 1.3 2 6.1 1.1 1.3 4.3 2.5 1.6 2.4 2.5 2.5 .4 3.7 2.7 3.7 0 1.3-1.3 1.2-.6 1.3 .6 1.2zM248.3 111l1.1-.8 1.2 .8-1.2 .9zM252.9 109.8l.2-.4 1.3 .3-1.3 .2zM88.4 45.5l4.9-1.1 1.3-1 2.4-.6 2.5-1.5 2.5-.4 1.2-1.3 2.5-1.3 3.1-2.8 .2-1.3-1.5-2.5-.1-1.2 1.9-2.5 0-2.4 .4-1.3 1.5-1.2 2.9-3.7-.4-2.5 .7-1.4 3.7-2.2 2.5-.1 2.5-.9 2.4-.3 1.3-1.3 2.4-1.2 1.3-1.9 2.5-.9 1.2-1.8 2.7-.4-30.9 0 .2 2.5-2.6 2.5 0 1.2 .8 2.5-2.4 3.3-2 1.6-.5 1.3 .3 2.4-2.6 2.5-2.6 6.1-2.5 1.1-1.3 1.2-4.9 1-5-2.5-2.4 0-5-2.1-1.2 .4-2.5-.7-1.3-.8-1.6-2.4-.8-.7-5.6-1.8-.9-1.3 .1-2.4-.9-1.3-5.1-2.5-2.5 .5 0 24.3 3.7-.2 3.7 1.5 1.3-.6 1.2 0 1.3 .7 2.3 2.3 1.4 .5 4.9 .2 2.5-.5 3.7 .2 2.5-.3 2.5 .3 2.4-.4 3.5 1.3zM52.4 15l.3-.6-.3-.3-.6 .3zM201.1 12l1.2 .6 2.5-.5 4.4 .5-1.9-1.9-1.2 0-2.5-2.5-1.3 0-1.2-1.2-1.2 0-2.5-2.5-16.2 0 2.6 3 11.1 3.8 1.3 .3 2.4-.4 2.3 .7z" clip-path="url(#p6381751999)" style="fill: #38b977; stroke: #615252; stroke-opacity: 0.8; stroke-width: 0.9"/>
<path d="M239.5 226.2l.5 1.2 .8 0 3.7-3.7 0-1.3 2.4-2.4 0-1.3 2.5-2.4 0-1.3 2.5-2.5 0-1.2 1.2-1.2 0-1.3 2.5-2.5 0-1.2 1.3-1.2 0-1.3 1.2-1.2 0-1.2 1.2-1.3 0-1.2 1.3-1.3 0-2.4 1.2-1.3 0-1.2 1.2-1.3 0-1.2 1.3-1.2 0-2.5 1.2-1.2 0-2.5 1.3-1.3 0-2.4 1.2-1.3 0-3.7 1.2-1.2 0-3.7 1.3-1.3 0-4.9 1.2-1.3 0-6.2 1.3-1.2 0-17.3 1.2-1.3-1.2-1.2 0-17.3-1.3-1.3 0-6.2-1.2-1.2 0-5-1.3-1.2 0-3.7-1.2-1.3 0-3.7-1.2-1.2 0-2.5-1.3-1.2 0-2.5-1.2-1.2 0-2.5-1.3-1.3 0-1.2-1.2-1.2 0-1.3-1.2-1.2 0-2.5-1.3-1.2 0-1.3-1.2-1.2 0-1.2-1.2-1.5-.3 .2-.4 1.3 1 2.4 0 1.3-1.6 .5-.6 .7-.3 1.2 2.1 3.8-2.4 1.7-1.3 2.1-1.2 1.1 1 2.5 .1 3.7 .8 1.2 1.7 1.3 .6 1.2-.5 .8-1.2 .5-1.1 1.2-.1 1.2 1.9 2.5 .4 1.3-2.4 2.3-.2 1.4 .8 1.2 2.8 2.5 .6 2.5 2.4 2.4 .6 1.3-.8 1-2.4 .7-1.3 1.2-2.5-.2-2.4 1.6-2.5-1.1-1.1 .5 .1 1.2 2.2 1.3 1.3 .1 1.2-1 3.7 1.9 1.3-1.4 1.2-.1 .7 .5 .6 1.2-1.3 .5-2.5 0-.4 .7-.8 .4-2.5-.7-2.5 2-2.4 .8-1.3 1.6-2.5-.2-1.2 1.3-3.7-.9-2.4 1.9-1.3 .4-1.6 2.1-2.2 1.2-3 3.8-.8 4.9-.2 3.7 1.5 7.5 1.7 4.9 3.4 5 1.3 3.7-.8 12.4-.3 1.2-1.6 2.5 .7 3.7-1.9 1.3-.6 1.2 0 2.4-.6 .5-1.2 0-1.3 2.3-2.5 .2-2.4 1.2-2.5-.3-2.5 .8-2.5 0-1.5 1.5-.1 1.3 4.1 1.4 2.5 .1 1.4 1-1.4 .6-.4 .6-.5 1.2 .3 1.3 1.8 1.4 3.8 1-.1 1.3-.6 1.2 .2 1.3 1.2 1.2 1.7 .4 1.3-.5 1.2 .2 2 1.1 .2 3.8 5.2 2.4 .5 1.3 0 3.7 2 2.5zM245.7 176.6l-3.7-3.1-1.2-1.6-.6-1.5-.1-1.2 1.5-3.7 .4-2.7 .6-1-.1-1.3-3-1.5-2.5-2.6-2.5-8.3-.2-2.4 .2-1.3 2.5-3.7 5-.5 1.2 .8 1.8 2.2 3.4 2.5 .7 1.2 .1 2.5 .7 1.2 2 .9 3.7-.6 1.7 1 .5 1.2-.9 1.2-2.5 .9-1.3 1.3-2.4-.3-.8 .6 .1 1.3 1.9 2.4-.1 1.3-1.6 1.2 0 1.2 1.9 3.8-.2 1.7-1.2 .9-.6 1.1 1.3 2.5-.1 1.2-.6 .9-5 .4zM246.9 158.9l.5-.8-.8 0zM249.4 111.9l1.2-.9-1.2-.8-1.1 .8zM253.1 109.9l1.3-.2-1.3-.3-.2 .4zM84.6 33.3l1.3 .4 4-.7 .9-.3 1.3-1.2 2.5-1.1 2.6-6.1 2.6-2.5-.3-2.4 .5-1.3 2-1.6 2.4-3.3-.8-2.5 0-1.2 2.6-2.5-.2-2.5-52.3 0-2.5 2.5 0 9.1 2.5-.5 5.1 2.5 .9 1.3-.1 2.4 .9 1.3 5.6 1.8 .8 .7 1.6 2.4 1.3 .8 2.5 .7 1.2-.4 5 2.1 2.4 0 3.3 1.8zM51.8 14.4l.6-.3 .3 .3-.3 .6z" clip-path="url(#p6381751999)" style="fill: #50c46a; stroke: #615252; stroke-opacity: 0.8; stroke-width: 0.9"/>
<path d="M245.7 176.7l5-.4 .6-.9 .1-1.2-1.3-2.5 .6-1.1 1.2-.9 .2-1.7-1.9-3.8 0-1.2 1.6-1.2 .1-1.3-1.9-2.4-.1-1.3 .8-.6 2.4 .3 1.3-1.3 2.5-.9 .9-1.2-.5-1.2-1.7-1-3.7 .6-2-.9-.7-1.2-.1-2.5-.7-1.2-3.4-2.5-1.8-2.2-1.2-.8-5 .5-2.5 3.7-.2 1.3 .2 2.4 2.5 8.3 2.5 2.6 3 1.5 .1 1.3-.6 1-.4 2.7-1.5 3.7 .1 1.2 .6 1.5 1.2 1.6 3.7 3.1zM246.6 158.1l.8 0-.5 .8z" clip-path="url(#p6381751999)" style="fill: #6ccd5a; stroke: #615252; stroke-opacity: 0.8; stroke-width: 0.9"/>
<path clip-path="url(#p6381751999)" style="fill: #8bd646; stroke: #615252; stroke-opacity: 0.8; stroke-width: 0.9"/>
<path clip-path="url(#p6381751999)" style="fill: #addc30; stroke: #615252; stroke-opacity: 0.8; stroke-width: 0.9"/>
<path clip-path="url(#p6381751999)" style="fill: #cde11d; stroke: #615252; stroke-opacity: 0.8; stroke-width: 0.9"/>
<path clip-path="url(#p6381751999)" style="fill: #efe51c; stroke: #615252; stroke-opacity: 0.8; stroke-width: 0.9"/>
</g>
<g id="matplotlib.axis_1">
<g id="xtick_1">
<g id="line2d_1">
<defs>
<path id="mfb5e76a77d" d="M0 0l0 3" style="stroke: #000000; stroke-width: 0.9"/>
</defs>
<g>
<use href="#mfb5e76a77d" x="51.2" y="227.4" style="stroke: #000000; stroke-width: 0.9"/>
</g>
</g>
</g>
<g id="xtick_2">
<g id="line2d_2">
<g>
<use href="#mfb5e76a77d" x="125.5" y="227.4" style="stroke: #000000; stroke-width: 0.9"/>
</g>
</g>
</g>
<g id="xtick_3">
<g id="line2d_3">
<g>
<use href="#mfb5e76a77d" x="199.9" y="227.4" style="stroke: #000000; stroke-width: 0.9"/>
</g>
</g>
</g>
<g id="xtick_4">
<g id="line2d_4">
<g>
<use href="#mfb5e76a77d" x="274.2" y="227.4" style="stroke: #000000; stroke-width: 0.9"/>
</g>
</g>
</g>
</g>
<g id="matplotlib.axis_2">
<g id="ytick_1">
<g id="line2d_5">
<defs>
<path id="m0a2475117b" d="M0 0l-3 0" style="stroke: #000000; stroke-width: 0.9"/>
</defs>
<g>
<use href="#m0a2475117b" x="51.2" y="208.8" style="stroke: #000000; stroke-width: 0.9"/>
</g>
</g>
</g>
<g id="ytick_2">
<g id="line2d_6">
<g>
<use href="#m0a2475117b" x="51.2" y="171.7" style="stroke: #000000; stroke-width: 0.9"/>
</g>
</g>
</g>
<g id="ytick_3">
<g id="line2d_7">
<g>
<use href="#m0a2475117b" x="51.2" y="134.5" style="stroke: #000000; stroke-width: 0.9"/>
</g>
</g>
</g>
<g id="ytick_4">
<g id="line2d_8">
<g>
<use href="#m0a2475117b" x="51.2" y="97.4" style="stroke: #000000; stroke-width: 0.9"/>
</g>
</g>
</g>
<g id="ytick_5">
<g id="line2d_9">
<g>
<use href="#m0a2475117b" x="51.2" y="60.2" style="stroke: #000000; stroke-width: 0.9"/>
</g>
</g>
</g>
<g id="ytick_6">
<g id="line2d_10">
<g>
<use href="#m0a2475117b" x="51.2" y="23.1" style="stroke: #000000; stroke-width: 0.9"/>
</g>
</g>
</g>
</g>
<g id="line2d_11">
<path d="M155.3 134.5l-.5-5.1-2.3-7.4-2.6-4.5-3.3-4-4-3.3-6.9-3.6-5-1.3-5.2-.5-5.1 .5-5 1.3-6.9 3.6-4 3.3-4.7 6.2-2.2 4.7-1.3 5-.5 5.1 .5 5.2 1.3 5 2.2 4.7 4.7 6.1 4 3.4 6.9 3.6 5 1.3 5.1 .4 5.2-.4 5-1.3 6.9-3.6 4-3.4 3.3-3.9 2.6-4.5 2.3-7.4 .5-5.2" clip-path="url(#p6381751999)" style="fill: none; stroke-dasharray: 3.72,1.92; stroke-dashoffset: 0; stroke: #000000; stroke-width: 1.2"/>
</g>
<g id="line2d_12">
<path d="M185 134.5l-.1-4.1-1.2-8.2-2.3-8-1.5-3.9-3.9-7.3-4.9-6.7-2.8-3.1-6.2-5.5-6.8-4.7-3.7-1.9-3.8-1.7-7.9-2.5-4-.9-8.3-.9-4.1 0-8.3 .9-4.1 .9-7.8 2.5-3.8 1.7-7.2 4.1-3.4 2.5-6.1 5.5-5.4 6.4-2.3 3.4-2.1 3.6-3.3 7.6-1.3 3.9-1.8 8.2-.5 8.2 .5 8.3 1.8 8.1 1.3 4 3.3 7.5 2.1 3.6 2.3 3.5 5.4 6.3 6.1 5.6 3.4 2.4 7.2 4.1 3.8 1.7 7.8 2.6 4.1 .9 8.3 .8 4.1 0 8.3-.8 4-.9 7.9-2.6 7.5-3.6 3.5-2.2 3.3-2.4 6.2-5.6 2.8-3.1 4.9-6.7 3.9-7.3 1.5-3.8 2.3-8 1.2-8.2 .1-4.2" clip-path="url(#p6381751999)" style="fill: none; stroke-dasharray: 3.72,1.92; stroke-dashoffset: 0; stroke: #000000; stroke-width: 1.2"/>
</g>
<g id="line2d_13">
<path d="M214.7 134.5l-.5-9.3-1.4-9.2-2.4-9-3.4-8.7-6.7-12.3-5.4-7.6-6.3-6.9-6.9-6.3-7.6-5.5-12.3-6.6-8.7-3.4-9-2.4-9.2-1.4-9.4-.5-9.3 .5-9.2 1.4-13.4 4-8.6 3.8-8 4.6-7.6 5.5-6.9 6.3-6.3 6.9-5.5 7.6-4.6 8-3.8 8.6-2.9 8.8-2 9.2-1.1 13.9 1.1 14 2 9.1 2.9 8.9 3.8 8.5 4.6 8.1 5.5 7.5 6.3 7 6.9 6.2 7.6 5.5 8 4.7 8.6 3.8 13.4 3.9 9.2 1.5 9.3 .5 9.4-.5 9.2-1.5 9-2.4 8.7-3.3 12.3-6.7 7.6-5.5 6.9-6.2 6.3-7 5.4-7.5 6.7-12.3 3.4-8.7 2.4-9 1.4-9.3 .5-9.3" clip-path="url(#p6381751999)" style="fill: none; stroke-dasharray: 3.72,1.92; stroke-dashoffset: 0; stroke: #000000; stroke-width: 1.2"/>
</g>
<g id="line2d_14">
<path d="M244.5 134.5l-.7-12.4-1.9-12.3-3.3-12-4.4-11.6-2.7-5.6-6.2-10.8-7.3-10.1-8.4-9.2-4.5-4.3-9.7-7.9-10.4-6.7-11.1-5.7-11.6-4.4-12-3.3-12.3-1.9-12.5-.7-12.4 .7-12.3 1.9-12 3.3-11.6 4.4-5.7 2.7-10.7 6.2-10.1 7.3-9.3 8.4-8.3 9.2-7.3 10.1-6.2 10.8-5.1 11.3-3.8 11.9-1.5 6-1.9 12.3-.7 12.4 .7 12.5 1.9 12.2 1.5 6.1 3.8 11.8 5.1 11.4 6.2 10.8 7.3 10 8.3 9.3 9.3 8.3 10.1 7.3 10.7 6.2 5.7 2.7 11.6 4.5 12 3.2 12.3 2 12.4 .6 12.5-.6 12.3-2 12-3.2 11.6-4.5 11.1-5.6 10.4-6.8 9.7-7.8 4.5-4.3 8.4-9.3 7.3-10 6.2-10.8 2.7-5.6 4.4-11.6 3.3-12.1 1.9-12.2 .7-12.5" clip-path="url(#p6381751999)" style="fill: none; stroke-dasharray: 3.72,1.92; stroke-dashoffset: 0; stroke: #000000; stroke-width: 1.2"/>
</g>
<g id="line2d_15">
<path d="M274.2 134.5l-.4-10.3-1-10.4-1.8-10.2-2.6-10-3.2-9.9-3.9-9.6-4.5-9.3-5.2-9-5.8-8.6-6.4-8.2-6.9-7.7-7.5-7.2-7.9-6.7-8.4-6.1-8.8-5.5-13.4-6.8M64.6-1l-13.4 6.8-8.8 5.5-8.4 6.1-7.9 6.7-7.5 7.2-7 7.7-6.3 8.2-6.3 9.3M-1 212.5l7.8 11.5 6.5 8 7.1 7.6 11.6 10.4 8.3 6.3 8.7 5.6 13.7 7.3 9.6 4.1 9.8 3.3 10 2.7 15.3 2.7 10.4 .9 10.3 .2 10.4-.5 10.3-1.3 15.2-3.2 9.9-3.1 14.5-5.8 13.7-7.3 8.7-5.6 12.3-9.6 7.6-7.1 7-7.6 6.6-8 5.9-8.5 5.4-8.9 6.8-14 3.7-9.7 4.3-14.9 2-10.2 1.2-10.3 .6-13" clip-path="url(#p6381751999)" style="fill: none; stroke-dasharray: 3.72,1.92; stroke-dashoffset: 0; stroke: #000000; stroke-width: 1.2"/>
</g>
<g id="line2d_16">
<path d="M51.2 134.5l223 0" clip-path="url(#p6381751999)" style="fill: none; stroke: #000000; stroke-width: 1.5; stroke-linecap: square"/>
</g>
<g id="line2d_17">
<path d="M125.5 227.4l0-222.9" clip-path="url(#p6381751999)" style="fill: none; stroke: #000000; stroke-width: 1.5; stroke-linecap: square"/>
</g>
<g id="patch_3">
<path d="M51.2 227.4l0-222.9" style="fill: none; stroke: #000000; stroke-width: 0.9; stroke-linejoin: miter; stroke-linecap: square"/>
</g>
<g id="patch_4">
<path d="M274.2 227.4l0-222.9" style="fill: none; stroke: #000000; stroke-width: 0.9; stroke-linejoin: miter; stroke-linecap: square"/>
</g>
<g id="patch_5">
<path d="M51.2 227.4l223 0" style="fill: none; stroke: #000000; stroke-width: 0.9; stroke-linejoin: miter; stroke-linecap: square"/>
</g>
<g id="patch_6">
<path d="M51.2 4.5l223 0" style="fill: none; stroke: #000000; stroke-width: 0.9; stroke-linejoin: miter; stroke-linecap: square"/>
</g>
<g id="line2d_18">
<path d="M125.5 72.6" clip-path="url(#p6381751999)" style="fill: none; stroke: #ff0000; stroke-width: 1.5; stroke-linecap: square"/>
<defs>
<path id="m2eb061f581" d="M-8.5 0l17 0M0 8.5l0-17" style="stroke: #ff0000; stroke-width: 2.1"/>
</defs>
<g clip-path="url(#p6381751999)">
<use href="#m2eb061f581" x="125.5" y="72.6" style="fill: #ff0000; stroke: #ff0000; stroke-width: 2.1"/>
</g>
</g>
<g id="PathCollection_1">
<defs>
<path id="C0_0_d106ea09ab" d="M 0 1.8 C 0.5 1.8 0.9 1.6 1.3 1.3 C 1.6 0.9 1.8 0.5 1.8 0 C 1.8 -0.5 1.6 -0.9 1.3 -1.3 C 0.9 -1.6 0.5 -1.8 0 -1.8 C -0.5 -1.8 -0.9 -1.6 -1.3 -1.3 C -1.6 -0.9 -1.8 -0.5 -1.8 0 C -1.8 0.5 -1.6 0.9 -1.3 1.3 C -0.9 1.6 -0.5 1.8 0 1.8 z"/>
</defs>
<g clip-path="url(#p6381751999)">
<use href="#C0_0_d106ea09ab" x="88.6" y="29.3" style="fill: #d8e219; stroke: #000000; stroke-width: 0.55"/>
</g>
<g clip-path="url(#p6381751999)">
<use href="#C0_0_d106ea09ab" x="98.9" y="31.5" style="fill: #44bf70; stroke: #000000; stroke-width: 0.55"/>
</g>
<g clip-path="url(#p6381751999)">
<use href="#C0_0_d106ea09ab" x="114.5" y="35" style="fill: #24aa83; stroke: #000000; stroke-width: 0.55"/>
</g>
<g clip-path="url(#p6381751999)">
<use href="#C0_0_d106ea09ab" x="100.3" y="41.1" style="fill: #21a685; stroke: #000000; stroke-width: 0.55"/>
</g>
<g clip-path="url(#p6381751999)">
<use href="#C0_0_d106ea09ab" x="99.7" y="51.6" style="fill: #1e9d89; stroke: #000000; stroke-width: 0.55"/>
</g>
<g clip-path="url(#p6381751999)">
<use href="#C0_0_d106ea09ab" x="101.8" y="50.6" style="fill: #e5e419; stroke: #000000; stroke-width: 0.55"/>
</g>
<g clip-path="url(#p6381751999)">
<use href="#C0_0_d106ea09ab" x="98.4" y="58.5" style="fill: #20928c; stroke: #000000; stroke-width: 0.55"/>
</g>
<g clip-path="url(#p6381751999)">
<use href="#C0_0_d106ea09ab" x="109.3" y="60.6" style="fill: #1f968b; stroke: #000000; stroke-width: 0.55"/>
</g>
<g clip-path="url(#p6381751999)">
<use href="#C0_0_d106ea09ab" x="139.4" y="42.8" style="fill: #218f8d; stroke: #000000; stroke-width: 0.55"/>
</g>
<g clip-path="url(#p6381751999)">
<use href="#C0_0_d106ea09ab" x="135.6" y="54.8" style="fill: #287d8e; stroke: #000000; stroke-width: 0.55"/>
</g>
<g clip-path="url(#p6381751999)">
<use href="#C0_0_d106ea09ab" x="139.4" y="56.4" style="fill: #228c8d; stroke: #000000; stroke-width: 0.55"/>
</g>
<g clip-path="url(#p6381751999)">
<use href="#C0_0_d106ea09ab" x="134.8" y="60.6" style="fill: #26828e; stroke: #000000; stroke-width: 0.55"/>
</g>
<g clip-path="url(#p6381751999)">
<use href="#C0_0_d106ea09ab" x="135.9" y="62.2" style="fill: #297b8e; stroke: #000000; stroke-width: 0.55"/>
</g>
<g clip-path="url(#p6381751999)">
<use href="#C0_0_d106ea09ab" x="123.2" y="61.2" style="fill: #2f6b8e; stroke: #000000; stroke-width: 0.55"/>
</g>
<g clip-path="url(#p6381751999)">
<use href="#C0_0_d106ea09ab" x="122" y="67.1" style="fill: #2f6c8e; stroke: #000000; stroke-width: 0.55"/>
</g>
<g clip-path="url(#p6381751999)">
<use href="#C0_0_d106ea09ab" x="124.1" y="69.1" style="fill: #2c738e; stroke: #000000; stroke-width: 0.55"/>
</g>
<g clip-path="url(#p6381751999)">
<use href="#C0_0_d106ea09ab" x="125.8" y="71.3" style="fill: #3e4c8a; stroke: #000000; stroke-width: 0.55"/>
</g>
<g clip-path="url(#p6381751999)">
<use href="#C0_0_d106ea09ab" x="129" y="70.3" style="fill: #355f8d; stroke: #000000; stroke-width: 0.55"/>
</g>
<g clip-path="url(#p6381751999)">
<use href="#C0_0_d106ea09ab" x="136.3" y="73.5" style="fill: #414287; stroke: #000000; stroke-width: 0.55"/>
</g>
<g clip-path="url(#p6381751999)">
<use href="#C0_0_d106ea09ab" x="146.1" y="27.5" style="fill: #21908d; stroke: #000000; stroke-width: 0.55"/>
</g>
<g clip-path="url(#p6381751999)">
<use href="#C0_0_d106ea09ab" x="150.4" y="26.5" style="fill: #24868e; stroke: #000000; stroke-width: 0.55"/>
</g>
<g clip-path="url(#p6381751999)">
<use href="#C0_0_d106ea09ab" x="164" y="33.7" style="fill: #1f988b; stroke: #000000; stroke-width: 0.55"/>
</g>
<g clip-path="url(#p6381751999)">
<use href="#C0_0_d106ea09ab" x="175.2" y="32.9" style="fill: #238a8d; stroke: #000000; stroke-width: 0.55"/>
</g>
<g clip-path="url(#p6381751999)">
<use href="#C0_0_d106ea09ab" x="170.4" y="41.6" style="fill: #1e9d89; stroke: #000000; stroke-width: 0.55"/>
</g>
<g clip-path="url(#p6381751999)">
<use href="#C0_0_d106ea09ab" x="152.5" y="48.6" style="fill: #1f948c; stroke: #000000; stroke-width: 0.55"/>
</g>
<g clip-path="url(#p6381751999)">
<use href="#C0_0_d106ea09ab" x="145.4" y="58.4" style="fill: #277f8e; stroke: #000000; stroke-width: 0.55"/>
</g>
<g clip-path="url(#p6381751999)">
<use href="#C0_0_d106ea09ab" x="150.1" y="61.6" style="fill: #3b528b; stroke: #000000; stroke-width: 0.55"/>
</g>
<g clip-path="url(#p6381751999)">
<use href="#C0_0_d106ea09ab" x="154.2" y="62.5" style="fill: #2c728e; stroke: #000000; stroke-width: 0.55"/>
</g>
<g clip-path="url(#p6381751999)">
<use href="#C0_0_d106ea09ab" x="156.5" y="61.8" style="fill: #277e8e; stroke: #000000; stroke-width: 0.55"/>
</g>
<g clip-path="url(#p6381751999)">
<use href="#C0_0_d106ea09ab" x="158.9" y="61.3" style="fill: #25838e; stroke: #000000; stroke-width: 0.55"/>
</g>
<g clip-path="url(#p6381751999)">
<use href="#C0_0_d106ea09ab" x="161.3" y="60.8" style="fill: #2f6c8e; stroke: #000000; stroke-width: 0.55"/>
</g>
<g clip-path="url(#p6381751999)">
<use href="#C0_0_d106ea09ab" x="143.7" y="65.7" style="fill: #2f6b8e; stroke: #000000; stroke-width: 0.55"/>
</g>
<g clip-path="url(#p6381751999)">
<use href="#C0_0_d106ea09ab" x="167.2" y="56" style="fill: #27808e; stroke: #000000; stroke-width: 0.55"/>
</g>
<g clip-path="url(#p6381751999)">
<use href="#C0_0_d106ea09ab" x="176.5" y="62.9" style="fill: #25858e; stroke: #000000; stroke-width: 0.55"/>
</g>
<g clip-path="url(#p6381751999)">
<use href="#C0_0_d106ea09ab" x="179.9" y="65.7" style="fill: #20a486; stroke: #000000; stroke-width: 0.55"/>
</g>
<g clip-path="url(#p6381751999)">
<use href="#C0_0_d106ea09ab" x="188.4" y="65.7" style="fill: #228c8d; stroke: #000000; stroke-width: 0.55"/>
</g>
<g clip-path="url(#p6381751999)">
<use href="#C0_0_d106ea09ab" x="200.4" y="64.5" style="fill: #8bd646; stroke: #000000; stroke-width: 0.55"/>
</g>
<g clip-path="url(#p6381751999)">
<use href="#C0_0_d106ea09ab" x="178.1" y="70" style="fill: #1e9b8a; stroke: #000000; stroke-width: 0.55"/>
</g>
<g clip-path="url(#p6381751999)">
<use href="#C0_0_d106ea09ab" x="169.2" y="76.1" style="fill: #2f6c8e; stroke: #000000; stroke-width: 0.55"/>
</g>
<g clip-path="url(#p6381751999)">
<use href="#C0_0_d106ea09ab" x="150.1" y="76.9" style="fill: #34608d; stroke: #000000; stroke-width: 0.55"/>
</g>
<g clip-path="url(#p6381751999)">
<use href="#C0_0_d106ea09ab" x="151.7" y="78.5" style="fill: #33628d; stroke: #000000; stroke-width: 0.55"/>
</g>
<g clip-path="url(#p6381751999)">
<use href="#C0_0_d106ea09ab" x="153.3" y="79.6" style="fill: #34608d; stroke: #000000; stroke-width: 0.55"/>
</g>
<g clip-path="url(#p6381751999)">
<use href="#C0_0_d106ea09ab" x="132.6" y="80.4" style="fill: #424086; stroke: #000000; stroke-width: 0.55"/>
</g>
<g clip-path="url(#p6381751999)">
<use href="#C0_0_d106ea09ab" x="123.5" y="82" style="fill: #375a8c; stroke: #000000; stroke-width: 0.55"/>
</g>
<g clip-path="url(#p6381751999)">
<use href="#C0_0_d106ea09ab" x="150.1" y="83.6" style="fill: #2e6e8e; stroke: #000000; stroke-width: 0.55"/>
</g>
<g clip-path="url(#p6381751999)">
<use href="#C0_0_d106ea09ab" x="151.7" y="86" style="fill: #453781; stroke: #000000; stroke-width: 0.55"/>
</g>
<g clip-path="url(#p6381751999)">
<use href="#C0_0_d106ea09ab" x="135" y="86" style="fill: #34608d; stroke: #000000; stroke-width: 0.55"/>
</g>
<g clip-path="url(#p6381751999)">
<use href="#C0_0_d106ea09ab" x="146.1" y="88.7" style="fill: #3b518b; stroke: #000000; stroke-width: 0.55"/>
</g>
<g clip-path="url(#p6381751999)">
<use href="#C0_0_d106ea09ab" x="130.2" y="87.6" style="fill: #414487; stroke: #000000; stroke-width: 0.55"/>
</g>
<g clip-path="url(#p6381751999)">
<use href="#C0_0_d106ea09ab" x="131" y="89.9" style="fill: #2e6f8e; stroke: #000000; stroke-width: 0.55"/>
</g>
<g clip-path="url(#p6381751999)">
<use href="#C0_0_d106ea09ab" x="177.3" y="85.2" style="fill: #27808e; stroke: #000000; stroke-width: 0.55"/>
</g>
<g clip-path="url(#p6381751999)">
<use href="#C0_0_d106ea09ab" x="176.5" y="89.9" style="fill: #38598c; stroke: #000000; stroke-width: 0.55"/>
</g>
<g clip-path="url(#p6381751999)">
<use href="#C0_0_d106ea09ab" x="180.5" y="88.7" style="fill: #29798e; stroke: #000000; stroke-width: 0.55"/>
</g>
<g clip-path="url(#p6381751999)">
<use href="#C0_0_d106ea09ab" x="178.1" y="92.4" style="fill: #2a778e; stroke: #000000; stroke-width: 0.55"/>
</g>
<g clip-path="url(#p6381751999)">
<use href="#C0_0_d106ea09ab" x="181.2" y="93.1" style="fill: #2b748e; stroke: #000000; stroke-width: 0.55"/>
</g>
<g clip-path="url(#p6381751999)">
<use href="#C0_0_d106ea09ab" x="171.7" y="88.4" style="fill: #2d708e; stroke: #000000; stroke-width: 0.55"/>
</g>
<g clip-path="url(#p6381751999)">
<use href="#C0_0_d106ea09ab" x="190.8" y="89.9" style="fill: #238a8d; stroke: #000000; stroke-width: 0.55"/>
</g>
<g clip-path="url(#p6381751999)">
<use href="#C0_0_d106ea09ab" x="194" y="84.4" style="fill: #1f9e89; stroke: #000000; stroke-width: 0.55"/>
</g>
<g clip-path="url(#p6381751999)">
<use href="#C0_0_d106ea09ab" x="127.8" y="93.1" style="fill: #6ccd5a; stroke: #000000; stroke-width: 0.55"/>
</g>
<g clip-path="url(#p6381751999)">
<use href="#C0_0_d106ea09ab" x="139" y="91.6" style="fill: #443b84; stroke: #000000; stroke-width: 0.55"/>
</g>
<g clip-path="url(#p6381751999)">
<use href="#C0_0_d106ea09ab" x="139.8" y="93.5" style="fill: #3e4a89; stroke: #000000; stroke-width: 0.55"/>
</g>
<g clip-path="url(#p6381751999)">
<use href="#C0_0_d106ea09ab" x="136.6" y="98" style="fill: #453781; stroke: #000000; stroke-width: 0.55"/>
</g>
<g clip-path="url(#p6381751999)">
<use href="#C0_0_d106ea09ab" x="154.9" y="98" style="fill: #3e4989; stroke: #000000; stroke-width: 0.55"/>
</g>
<g clip-path="url(#p6381751999)">
<use href="#C0_0_d106ea09ab" x="155.7" y="101.2" style="fill: #472d7b; stroke: #000000; stroke-width: 0.55"/>
</g>
<g clip-path="url(#p6381751999)">
<use href="#C0_0_d106ea09ab" x="133.4" y="100.3" style="fill: #46337f; stroke: #000000; stroke-width: 0.55"/>
</g>
<g clip-path="url(#p6381751999)">
<use href="#C0_0_d106ea09ab" x="143.7" y="101.9" style="fill: #453781; stroke: #000000; stroke-width: 0.55"/>
</g>
<g clip-path="url(#p6381751999)">
<use href="#C0_0_d106ea09ab" x="206.8" y="101.2" style="fill: #27ad81; stroke: #000000; stroke-width: 0.55"/>
</g>
<g clip-path="url(#p6381751999)">
<use href="#C0_0_d106ea09ab" x="128.5" y="84.1" style="fill: #31678e; stroke: #000000; stroke-width: 0.55"/>
</g>
<g clip-path="url(#p6381751999)">
<use href="#C0_0_d106ea09ab" x="128.1" y="95.5" style="fill: #472d7b; stroke: #000000; stroke-width: 0.55"/>
</g>
<g clip-path="url(#p6381751999)">
<use href="#C0_0_d106ea09ab" x="120.5" y="96.3" style="fill: #443b84; stroke: #000000; stroke-width: 0.55"/>
</g>
<g clip-path="url(#p6381751999)">
<use href="#C0_0_d106ea09ab" x="135.6" y="99.5" style="fill: #3e4a89; stroke: #000000; stroke-width: 0.55"/>
</g>
<g clip-path="url(#p6381751999)">
<use href="#C0_0_d106ea09ab" x="137.3" y="103.5" style="fill: #470d60; stroke: #000000; stroke-width: 0.55"/>
</g>
<g clip-path="url(#p6381751999)">
<use href="#C0_0_d106ea09ab" x="134.9" y="101.9" style="fill: #46327e; stroke: #000000; stroke-width: 0.55"/>
</g>
<g clip-path="url(#p6381751999)">
<use href="#C0_0_d106ea09ab" x="131.7" y="108.3" style="fill: #453781; stroke: #000000; stroke-width: 0.55"/>
</g>
<g clip-path="url(#p6381751999)">
<use href="#C0_0_d106ea09ab" x="142" y="109.9" style="fill: #3e4c8a; stroke: #000000; stroke-width: 0.55"/>
</g>
<g clip-path="url(#p6381751999)">
<use href="#C0_0_d106ea09ab" x="145.2" y="105.1" style="fill: #414487; stroke: #000000; stroke-width: 0.55"/>
</g>
<g clip-path="url(#p6381751999)">
<use href="#C0_0_d106ea09ab" x="155.6" y="109.9" style="fill: #46337f; stroke: #000000; stroke-width: 0.55"/>
</g>
<g clip-path="url(#p6381751999)">
<use href="#C0_0_d106ea09ab" x="168.3" y="114.7" style="fill: #404688; stroke: #000000; stroke-width: 0.55"/>
</g>
<g clip-path="url(#p6381751999)">
<use href="#C0_0_d106ea09ab" x="153.2" y="117.9" style="fill: #472a7a; stroke: #000000; stroke-width: 0.55"/>
</g>
<g clip-path="url(#p6381751999)">
<use href="#C0_0_d106ea09ab" x="148.4" y="122.6" style="fill: #3e4a89; stroke: #000000; stroke-width: 0.55"/>
</g>
<g clip-path="url(#p6381751999)">
<use href="#C0_0_d106ea09ab" x="149.5" y="124.3" style="fill: #482374; stroke: #000000; stroke-width: 0.55"/>
</g>
<g clip-path="url(#p6381751999)">
<use href="#C0_0_d106ea09ab" x="168.3" y="125" style="fill: #414287; stroke: #000000; stroke-width: 0.55"/>
</g>
<g clip-path="url(#p6381751999)">
<use href="#C0_0_d106ea09ab" x="126.1" y="129" style="fill: #433e85; stroke: #000000; stroke-width: 0.55"/>
</g>
<g clip-path="url(#p6381751999)">
<use href="#C0_0_d106ea09ab" x="158.8" y="135.4" style="fill: #472d7b; stroke: #000000; stroke-width: 0.55"/>
</g>
<g clip-path="url(#p6381751999)">
<use href="#C0_0_d106ea09ab" x="169.2" y="138.6" style="fill: #414287; stroke: #000000; stroke-width: 0.55"/>
</g>
<g clip-path="url(#p6381751999)">
<use href="#C0_0_d106ea09ab" x="158" y="147.4" style="fill: #481668; stroke: #000000; stroke-width: 0.55"/>
</g>
<g clip-path="url(#p6381751999)">
<use href="#C0_0_d106ea09ab" x="155.6" y="153.8" style="fill: #472c7a; stroke: #000000; stroke-width: 0.55"/>
</g>
<g clip-path="url(#p6381751999)">
<use href="#C0_0_d106ea09ab" x="156.4" y="155.3" style="fill: #482374; stroke: #000000; stroke-width: 0.55"/>
</g>
<g clip-path="url(#p6381751999)">
<use href="#C0_0_d106ea09ab" x="168.3" y="149.8" style="fill: #375b8d; stroke: #000000; stroke-width: 0.55"/>
</g>
<g clip-path="url(#p6381751999)">
<use href="#C0_0_d106ea09ab" x="178.6" y="82.4" style="fill: #25848e; stroke: #000000; stroke-width: 0.55"/>
</g>
<g clip-path="url(#p6381751999)">
<use href="#C0_0_d106ea09ab" x="190.9" y="91.6" style="fill: #238a8d; stroke: #000000; stroke-width: 0.55"/>
</g>
<g clip-path="url(#p6381751999)">
<use href="#C0_0_d106ea09ab" x="182.5" y="105.1" style="fill: #287c8e; stroke: #000000; stroke-width: 0.55"/>
</g>
<g clip-path="url(#p6381751999)">
<use href="#C0_0_d106ea09ab" x="208.1" y="105.1" style="fill: #1e9c89; stroke: #000000; stroke-width: 0.55"/>
</g>
<g clip-path="url(#p6381751999)">
<use href="#C0_0_d106ea09ab" x="214.4" y="103.5" style="fill: #addc30; stroke: #000000; stroke-width: 0.55"/>
</g>
<g clip-path="url(#p6381751999)">
<use href="#C0_0_d106ea09ab" x="180.2" y="113.9" style="fill: #31688e; stroke: #000000; stroke-width: 0.55"/>
</g>
<g clip-path="url(#p6381751999)">
<use href="#C0_0_d106ea09ab" x="181" y="115.5" style="fill: #5ec962; stroke: #000000; stroke-width: 0.55"/>
</g>
<g clip-path="url(#p6381751999)">
<use href="#C0_0_d106ea09ab" x="187.4" y="120.3" style="fill: #32648e; stroke: #000000; stroke-width: 0.55"/>
</g>
<g clip-path="url(#p6381751999)">
<use href="#C0_0_d106ea09ab" x="204.1" y="117.1" style="fill: #1e9d89; stroke: #000000; stroke-width: 0.55"/>
</g>
<g clip-path="url(#p6381751999)">
<use href="#C0_0_d106ea09ab" x="217.6" y="121.1" style="fill: #9bd93c; stroke: #000000; stroke-width: 0.55"/>
</g>
<g clip-path="url(#p6381751999)">
<use href="#C0_0_d106ea09ab" x="216.4" y="122.6" style="fill: #228b8d; stroke: #000000; stroke-width: 0.55"/>
</g>
<g clip-path="url(#p6381751999)">
<use href="#C0_0_d106ea09ab" x="181.7" y="131.4" style="fill: #32648e; stroke: #000000; stroke-width: 0.55"/>
</g>
<g clip-path="url(#p6381751999)">
<use href="#C0_0_d106ea09ab" x="184.2" y="135.4" style="fill: #33628d; stroke: #000000; stroke-width: 0.55"/>
</g>
<g clip-path="url(#p6381751999)">
<use href="#C0_0_d106ea09ab" x="169.8" y="137" style="fill: #3e4c8a; stroke: #000000; stroke-width: 0.55"/>
</g>
<g clip-path="url(#p6381751999)">
<use href="#C0_0_d106ea09ab" x="170.6" y="140.2" style="fill: #2c718e; stroke: #000000; stroke-width: 0.55"/>
</g>
<g clip-path="url(#p6381751999)">
<use href="#C0_0_d106ea09ab" x="178.6" y="137.8" style="fill: #3a538b; stroke: #000000; stroke-width: 0.55"/>
</g>
<g clip-path="url(#p6381751999)">
<use href="#C0_0_d106ea09ab" x="180.2" y="143.4" style="fill: #355e8d; stroke: #000000; stroke-width: 0.55"/>
</g>
<g clip-path="url(#p6381751999)">
<use href="#C0_0_d106ea09ab" x="173.8" y="143.4" style="fill: #38588c; stroke: #000000; stroke-width: 0.55"/>
</g>
<g clip-path="url(#p6381751999)">
<use href="#C0_0_d106ea09ab" x="189.8" y="140.2" style="fill: #24868e; stroke: #000000; stroke-width: 0.55"/>
</g>
<g clip-path="url(#p6381751999)">
<use href="#C0_0_d106ea09ab" x="192.1" y="142.5" style="fill: #25838e; stroke: #000000; stroke-width: 0.55"/>
</g>
<g clip-path="url(#p6381751999)">
<use href="#C0_0_d106ea09ab" x="197.7" y="135.7" style="fill: #218f8d; stroke: #000000; stroke-width: 0.55"/>
</g>
<g clip-path="url(#p6381751999)">
<use href="#C0_0_d106ea09ab" x="224" y="141" style="fill: #eae51a; stroke: #000000; stroke-width: 0.55"/>
</g>
<g clip-path="url(#p6381751999)">
<use href="#C0_0_d106ea09ab" x="196.9" y="146.6" style="fill: #1f9a8a; stroke: #000000; stroke-width: 0.55"/>
</g>
<g clip-path="url(#p6381751999)">
<use href="#C0_0_d106ea09ab" x="201.7" y="148.1" style="fill: #228d8d; stroke: #000000; stroke-width: 0.55"/>
</g>
<g clip-path="url(#p6381751999)">
<use href="#C0_0_d106ea09ab" x="175.4" y="151.3" style="fill: #375a8c; stroke: #000000; stroke-width: 0.55"/>
</g>
<g clip-path="url(#p6381751999)">
<use href="#C0_0_d106ea09ab" x="177" y="153" style="fill: #34618d; stroke: #000000; stroke-width: 0.55"/>
</g>
<g clip-path="url(#p6381751999)">
<use href="#C0_0_d106ea09ab" x="191.3" y="153.7" style="fill: #2c738e; stroke: #000000; stroke-width: 0.55"/>
</g>
<g clip-path="url(#p6381751999)">
<use href="#C0_0_d106ea09ab" x="193.7" y="156.1" style="fill: #218e8d; stroke: #000000; stroke-width: 0.55"/>
</g>
<g clip-path="url(#p6381751999)">
<use href="#C0_0_d106ea09ab" x="205.7" y="153.7" style="fill: #20938c; stroke: #000000; stroke-width: 0.55"/>
</g>
<g clip-path="url(#p6381751999)">
<use href="#C0_0_d106ea09ab" x="154.6" y="156" style="fill: #424086; stroke: #000000; stroke-width: 0.55"/>
</g>
<g clip-path="url(#p6381751999)">
<use href="#C0_0_d106ea09ab" x="154.6" y="162" style="fill: #453581; stroke: #000000; stroke-width: 0.55"/>
</g>
<g clip-path="url(#p6381751999)">
<use href="#C0_0_d106ea09ab" x="178.5" y="154.1" style="fill: #31668e; stroke: #000000; stroke-width: 0.55"/>
</g>
<g clip-path="url(#p6381751999)">
<use href="#C0_0_d106ea09ab" x="213.6" y="162.3" style="fill: #1e9c89; stroke: #000000; stroke-width: 0.55"/>
</g>
<g clip-path="url(#p6381751999)">
<use href="#C0_0_d106ea09ab" x="170.5" y="167.1" style="fill: #38588c; stroke: #000000; stroke-width: 0.55"/>
</g>
<g clip-path="url(#p6381751999)">
<use href="#C0_0_d106ea09ab" x="178.5" y="168.7" style="fill: #3f4889; stroke: #000000; stroke-width: 0.55"/>
</g>
<g clip-path="url(#p6381751999)">
<use href="#C0_0_d106ea09ab" x="179.3" y="171.1" style="fill: #375a8c; stroke: #000000; stroke-width: 0.55"/>
</g>
<g clip-path="url(#p6381751999)">
<use href="#C0_0_d106ea09ab" x="181.7" y="166.3" style="fill: #2b758e; stroke: #000000; stroke-width: 0.55"/>
</g>
<g clip-path="url(#p6381751999)">
<use href="#C0_0_d106ea09ab" x="183.3" y="171.9" style="fill: #3c508b; stroke: #000000; stroke-width: 0.55"/>
</g>
<g clip-path="url(#p6381751999)">
<use href="#C0_0_d106ea09ab" x="181.7" y="175.9" style="fill: #27808e; stroke: #000000; stroke-width: 0.55"/>
</g>
<g clip-path="url(#p6381751999)">
<use href="#C0_0_d106ea09ab" x="159.4" y="173.5" style="fill: #482979; stroke: #000000; stroke-width: 0.55"/>
</g>
<g clip-path="url(#p6381751999)">
<use href="#C0_0_d106ea09ab" x="204" y="167.1" style="fill: #1fa287; stroke: #000000; stroke-width: 0.55"/>
</g>
<g clip-path="url(#p6381751999)">
<use href="#C0_0_d106ea09ab" x="203.2" y="169.5" style="fill: #23898e; stroke: #000000; stroke-width: 0.55"/>
</g>
<g clip-path="url(#p6381751999)">
<use href="#C0_0_d106ea09ab" x="176.2" y="179.8" style="fill: #29798e; stroke: #000000; stroke-width: 0.55"/>
</g>
<g clip-path="url(#p6381751999)">
<use href="#C0_0_d106ea09ab" x="177.7" y="182.3" style="fill: #2c728e; stroke: #000000; stroke-width: 0.55"/>
</g>
<g clip-path="url(#p6381751999)">
<use href="#C0_0_d106ea09ab" x="168.9" y="183" style="fill: #3e4989; stroke: #000000; stroke-width: 0.55"/>
</g>
<g clip-path="url(#p6381751999)">
<use href="#C0_0_d106ea09ab" x="190.5" y="185.5" style="fill: #1f968b; stroke: #000000; stroke-width: 0.55"/>
</g>
<g clip-path="url(#p6381751999)">
<use href="#C0_0_d106ea09ab" x="196.9" y="182.7" style="fill: #20a386; stroke: #000000; stroke-width: 0.55"/>
</g>
<g clip-path="url(#p6381751999)">
<use href="#C0_0_d106ea09ab" x="194.1" y="199.8" style="fill: #ece51b; stroke: #000000; stroke-width: 0.55"/>
</g>
</g>
</g>
<g id="axes_2">
<g id="patch_7">
<path d="M289.4 227.4l11.2 0 0-222.9-11.2 0z" style="fill: #ffffff"/>
</g>
<g id="patch_8">
<path d="M289.4 227.4l11.2 0 0-14.5-11.2 0z" clip-path="url(#p7b3d6b9c51)" style="fill: #460a5d"/>
</g>
<g id="patch_9">
<path d="M289.4 216.3l11.2 0 0-14.5-11.2 0z" clip-path="url(#p7b3d6b9c51)" style="fill: #481c6e"/>
</g>
<g id="patch_10">
<path d="M289.4 205.1l11.2 0 0-14.5-11.2 0z" clip-path="url(#p7b3d6b9c51)" style="fill: #472d7b"/>
</g>
<g id="patch_11">
<path d="M289.4 194l11.2 0 0-14.5-11.2 0z" clip-path="url(#p7b3d6b9c51)" style="fill: #443b84"/>
</g>
<g id="patch_12">
<path d="M289.4 182.8l11.2 0 0-14.5-11.2 0z" clip-path="url(#p7b3d6b9c51)" style="fill: #3e4a89"/>
</g>
<g id="patch_13">
<path d="M289.4 171.7l11.2 0 0-14.5-11.2 0z" clip-path="url(#p7b3d6b9c51)" style="fill: #38598c"/>
</g>
<g id="patch_14">
<path d="M289.4 160.5l11.2 0 0-14.5-11.2 0z" clip-path="url(#p7b3d6b9c51)" style="fill: #31668e"/>
</g>
<g id="patch_15">
<path d="M289.4 149.4l11.2 0 0-14.5-11.2 0z" clip-path="url(#p7b3d6b9c51)" style="fill: #2c728e"/>
</g>
<g id="patch_16">
<path d="M289.4 138.2l11.2 0 0-14.4-11.2 0z" clip-path="url(#p7b3d6b9c51)" style="fill: #277e8e"/>
</g>
<g id="patch_17">
<path d="M289.4 127.1l11.2 0 0-14.5-11.2 0z" clip-path="url(#p7b3d6b9c51)" style="fill: #238a8d"/>
</g>
<g id="patch_18">
<path d="M289.4 116l11.2 0 0-14.5-11.2 0z" clip-path="url(#p7b3d6b9c51)" style="fill: #1f968b"/>
</g>
<g id="patch_19">
<path d="M289.4 104.8l11.2 0 0-14.5-11.2 0z" clip-path="url(#p7b3d6b9c51)" style="fill: #1fa287"/>
</g>
<g id="patch_20">
<path d="M289.4 93.7l11.2 0 0-14.5-11.2 0z" clip-path="url(#p7b3d6b9c51)" style="fill: #28ae80"/>
</g>
<g id="patch_21">
<path d="M289.4 82.5l11.2 0 0-14.5-11.2 0z" clip-path="url(#p7b3d6b9c51)" style="fill: #38b977"/>
</g>
<g id="patch_22">
<path d="M289.4 71.4l11.2 0 0-14.5-11.2 0z" clip-path="url(#p7b3d6b9c51)" style="fill: #50c46a"/>
</g>
<g id="patch_23">
<path d="M289.4 60.2l11.2 0 0-14.5-11.2 0z" clip-path="url(#p7b3d6b9c51)" style="fill: #6ccd5a"/>
</g>
<g id="patch_24">
<path d="M289.4 49.1l11.2 0 0-14.5-11.2 0z" clip-path="url(#p7b3d6b9c51)" style="fill: #8bd646"/>
</g>
<g id="patch_25">
<path d="M289.4 37.9l11.2 0 0-14.5-11.2 0z" clip-path="url(#p7b3d6b9c51)" style="fill: #addc30"/>
</g>
<g id="patch_26">
<path d="M289.4 26.8l11.2 0 0-14.5-11.2 0z" clip-path="url(#p7b3d6b9c51)" style="fill: #cde11d"/>
</g>
<g id="patch_27">
<path d="M289.4 15.6l11.2 0 0-11.1-11.2 0z" clip-path="url(#p7b3d6b9c51)" style="fill: #efe51c"/>
</g>
<g id="matplotlib.axis_3"/>
<g id="matplotlib.axis_4">
<g id="ytick_7">
<g id="line2d_19">
<defs>
<path id="m253cf10b20" d="M0 0l3 0" style="stroke: #000000; stroke-width: 0.9"/>
</defs>
<g>
<use href="#m253cf10b20" x="300.6" y="227.4" style="stroke: #000000; stroke-width: 0.9"/>
</g>
</g>
</g>
<g id="ytick_8">
<g id="line2d_20">
<g>
<use href="#m253cf10b20" x="300.6" y="182.8" style="stroke: #000000; stroke-width: 0.9"/>
</g>
</g>
</g>
<g id="ytick_9">
<g id="line2d_21">
<g>
<use href="#m253cf10b20" x="300.6" y="138.2" style="stroke: #000000; stroke-width: 0.9"/>
</g>
</g>
</g>
<g id="ytick_10">
<g id="line2d_22">
<g>
<use href="#m253cf10b20" x="300.6" y="93.7" style="stroke: #000000; stroke-width: 0.9"/>
</g>
</g>
</g>
<g id="ytick_11">
<g id="line2d_23">
<g>
<use href="#m253cf10b20" x="300.6" y="49.1" style="stroke: #000000; stroke-width: 0.9"/>
</g>
</g>
</g>
<g id="ytick_12">
<g id="line2d_24">
<g>
<use href="#m253cf10b20" x="300.6" y="4.5" style="stroke: #000000; stroke-width: 0.9"/>
</g>
</g>
</g>
</g>
<g id="patch_28">
<path d="M289.4 227.4l0-222.9" style="fill: none; stroke: #000000; stroke-width: 0.9; stroke-linejoin: miter; stroke-linecap: square"/>
</g>
<g id="patch_29">
<path d="M300.6 227.4l0-222.9" style="fill: none; stroke: #000000; stroke-width: 0.9; stroke-linejoin: miter; stroke-linecap: square"/>
</g>
<g id="patch_30">
<path d="M289.4 227.4l11.2 0" style="fill: none; stroke: #000000; stroke-width: 0.9; stroke-linejoin: miter; stroke-linecap: square"/>
</g>
<g id="patch_31">
<path d="M289.4 4.5l11.2 0" style="fill: none; stroke: #000000; stroke-width: 0.9; stroke-linejoin: miter; stroke-linecap: square"/>
</g>
</g>
<g id="axes_3">
<g id="patch_32">
<path d="M456.6 227.4l222.9 0 0-222.9-222.9 0z" style="fill: #ffffff"/>
</g>
<g id="QuadContourSet_2">
<path clip-path="url(#p42eccacd5f)" style="fill: #460a5d; stroke: #615252; stroke-opacity: 0.8; stroke-width: 0.9"/>
<path clip-path="url(#p42eccacd5f)" style="fill: #481c6e; stroke: #615252; stroke-opacity: 0.8; stroke-width: 0.9"/>
<path clip-path="url(#p42eccacd5f)" style="fill: #472d7b; stroke: #615252; stroke-opacity: 0.8; stroke-width: 0.9"/>
<path clip-path="url(#p42eccacd5f)" style="fill: #443b84; stroke: #615252; stroke-opacity: 0.8; stroke-width: 0.9"/>
<path clip-path="url(#p42eccacd5f)" style="fill: #3e4a89; stroke: #615252; stroke-opacity: 0.8; stroke-width: 0.9"/>
<path d="M586.6 172.1l2.9-1.7 1.4-3.7-1.2-2.5 1.2-1.2 .4-1.2 1.7-1.3 1.1-1.7 2.4-1.7 1.3-.2 1.2-1 2.5 0 .8-1.6 3.7-3.7 .8-1.2-.1-1.3-1.5 .3-.2-.3-2.1-12.3-1.4-1.4-1.3-.2-.3-.9-.9-.6-3.4-.7-1.8-1.2-.4-1.2 .8-2.5-1.4-3.7 .5-1.3-.5-3.7-.9-1.2-.6-5-1.2-2.4-.5-3.8-1.1-2.4 .7-2.5-.1-1.4 2.5-2.9 1.7-.7 1.5-2.4-.1-2.5 1-1.3 .3-1.2 .8-1.2-.3-.3-1.2 .4-1.2-.9-1.3-.4-2.5-2-1.5-.5-3.4-3.6-2.5-3.4-1-.5-.2-1.2 1.2-1 .5-1.5 1-1.2-1.5-2.9-1.2-.1-2.5 1.1-2.5 2-2.5-2.5-1.2 .8 0 .7 1.2 .2 .3 .7-1.5 1.3-.7 2.4-.5 .2-.7 1 .9 2.5 2.3 2.5 .2 1.2-.4 1.3-1.6 2.4 .2 1.3 1.5 1.9 1.3 .5 2.5 3.2 1.2 .6 1.3 1.2 .1 1.2 1.2 1.3 1.1 2.2 .2 2.7 1.4 3.7-.3 1.3-2.5 2.3-1.3 0-2.2 1.4-5.2 1.8-2.4-.6-2.6-1.1-1.7-1.3-.8-2.5 .7-1.3 .1-1.2-1.2-2.5 .3-2.4-.2-1.3-1.8-2.5-.5-1.2 .9-2.5 1.1-1.2 .1-1.3-3.1-2.3-.3-1.4 1.8-2.4 1.4-1.3 2.2-3.7-.2-.7-1.3-.5 1.3-1.5 .4-1-1.1-2.5-.2-1.2-.8-1.3 .1-1.2 2.8-3 2.5-.3 2-1.7 2-2.4 0-1.3-2.7-4.3-2.5-.6-1.3 .2-1.2 .9-1.2-.1-1.3-.5-1.2-1.6-2.4-1.4-1.3 .1-1.3-.6-1.2 .6-1.2-.4 0 1.7-1.3-.5-1.2 0-1.2-1.9-1.3-1.1-2.5 1.6-2.4-1.1-.4-.9-.9-.4-1.2 .9-2.5 .9-3.7 4.1-1 1.9-3.6 3.8-1.9 3.7-1.3 1.2-.1 3.7 .5 1.1 1.2 .8 1.2 1.4 .8 1.7 1.8 2.5 .2 1.2-.8 5 .5 1 1.3 .7 1.2 2 0 1.2-.7 1.2 .3 1.3 1.6 2.5-.2 2.4 1.1 2.5 .7 3.7 2.9 2.5 1.7 3.5 3.7 .8 1.3 .7 1.2 .2 2.1 2.2-.2 2.5 .7 1.3-.2 2.4 .5 1.3 .3 3.7 .5 1 3.7-.4 1.3-1.5 1.2-.4 1.3 .3 3.7-3.2 2.4 1 .5 .7 1 2.5-.4 1.2 1 1.3 .4 2.4-1.2 1-1.3 2.3-1.2 .4 .5 2.5-1.1 1.3 .6 1 1.2-1.4 1.5 .4-1.2 2.4-.3 1.6-1.2 .5-.1 .4 1.3 2.2 1.3 .3 2.5 3.1 3 1.8 1.1 2.5-.3 2.5 1.1 .6 2.5 3.6 2.5 1.2 1.2-.4-.2 1.2 .9 1.2 .5 2.1 1.3 0 .2 .4-1.5 1.3-1.2-1.2-1.8 3.6 1.4 3.7 1.6 1 1.4 .3zM586.4 161.8l.2-.5 .3 .5-.3 .1zM547.9 72.6l.3-.3 .3 .3-.3 .3zM574.9 72.6l.6-.3 0 .5zM568 77.6l0-1.5-.8 .2 .7 1.3zM571.8 72.1l.4-.7-.5 0zM559.4 52.5l.1-.9-.5 0z" clip-path="url(#p42eccacd5f)" style="fill: #38598c; stroke: #615252; stroke-opacity: 0.8; stroke-width: 0.9"/>
<path d="M587.9 181.8l3.7-.2 2.5-1.4 1.2 .6 1.2 0 .7-.5 .9-2.4-1.6-1.1-.3-1.4 1-2.5 .2-2.5 .6-1.2-.4-1.2 .2-1.3 1.2 .6 1.2 0 1.3 .9 1.2-.3 3.7 2.1 2.7-2 1.5-2.5 .3-1.3-1.8-2.4 1.6-1.3 1.2-2.4 .5-5-1.4-6.2-2.3-3.7 .1-2.5-1.5-3.7-.9-4.5-.8-1.7-.1-1.2-1.2-3.7 .9-1.2 0-1.5 2.5-.5 2.5-2.3 1.4-2 .4-2.4-1.2-1.3-1.9-.7-1.2-1.4-1.3-.6-3.7 3.5-1.2 .4-3.7-2.5-1.9-2.4-.9-2.5-.2-3.7 .9-3.7 1.5-2.5 4.3-3.1 1.4-3.1-2.1-7.4-.6-1.2-1.2-.9-2.5-.9-4.4-3.2-1.5-3.7-1-1.3 .8-2.4 2.7-3.7 0-1.3-1-1.2-3-1.5-1.2-1.2-3.8-1.7-3.7-3.1-3.4-4.9-1.6-1.2-.5-3.8-.7-1-3.7-1.8-2.5 .4-3.7-.8-1.2 .2-7.4-.4-1.3 .5-1.2 0-6.2-3.1-.8-1.4-.4-.1-2.5 1-1.5 1.6-2 4.9-2.6 2.5-3.7 2.5-3.8 3.3-5 1.6-3.7 2.2-1.2 .3-.8 1.3 .8 1.3 1.8 1.1 1 1.3 .7 2.5 1.7 2.4 1.5 3.7 2.3 8.7-.2 3.7 .5 2.5 .8 1.2-.1 5 .5 1.2 1.8 2.3 2.1 3.9 2.3 2.5 .6 2.3 1.2 1.9 1.8 2 1.9 1.2 1.3 .1 1.3 1.2 1.2 2.2 2.4 2.4 1.3 5.1 1.2 2 4.4 4.4 .6 1.2 2.6 2.5 1.6 2.5 1.9 6.2 0 3.7-.6 2.4 .7 3.8 1.2-.2 2.5 .9 2.4 2.4 3.8 1.2 2.4 1.9-.2 4.9 1.5 5-.6 1.2 .1 1.2 4.8 5 .9 1.2 .3 2.5 1.2 1.2 .7 .4 1.2-.2 2.5 .5 .9 .6zM585.5 171.7l-1.4-.3-1.6-1-1.4-3.7 1.8-3.6 1.2 1.2 1.5-1.3-.2-.4-1.3 0-.5-2.1-.9-1.2 .2-1.2-1.2 .4-2.5-1.2-2.5-3.6-1.1-.6 .3-2.5-1.1-2.5-3-1.8-2.5-3.1-1.3-.3-1.3-2.2 .1-.4 1.2-.5 .3-1.6 1.2-2.4-1.5-.4-1.2 1.4-.6-1 1.1-1.3-.5-2.5 1.2-.4 1.3-2.3 1.2-1-.4-2.4-1-1.3 .4-1.2-1-2.5-.5-.7-2.4-1-3.7 3.2-1.3-.3-1.2 .4-1.3 1.5-3.7 .4-.5-1-.3-3.7-.5-1.3 .2-2.4-.7-1.3 .2-2.5-2.1-2.2-1.2-.2-1.3-.7-3.7-.8-1.7-3.5-2.9-2.5-.7-3.7-1.1-2.5 .2-2.4-1.6-2.5-.3-1.3 .7-1.2 0-1.2-1.2-2-1.3-.7-.5-1 .8-5-.2-1.2-1.8-2.5-.8-1.7-1.2-1.4-1.2-.8-.5-1.1 .1-3.7 1.3-1.2 1.9-3.7 3.6-3.8 1-1.9 3.7-4.1 2.5-.9 1.2-.9 .9 .4 .4 .9 2.4 1.1 2.5-1.6 1.3 1.1 1.2 1.9 1.2 0 1.3 .5 0-1.7 1.2 .4 1.2-.6 1.3 .6 1.3-.1 2.4 1.4 1.2 1.6 1.3 .5 1.2 .1 1.2-.9 1.3-.2 2.5 .6 2.7 4.3 0 1.3-2 2.4-2 1.7-2.5 .3-2.8 3-.1 1.2 .8 1.3 .2 1.2 1.1 2.5-.4 1-1.3 1.5 1.3 .5 .2 .7-2.2 3.7-1.4 1.3-1.8 2.4 .3 1.4 3.1 2.3-.1 1.3-1.1 1.2-.9 2.5 .5 1.2 1.8 2.5 .2 1.3-.3 2.4 1.2 2.5-.1 1.2-.7 1.3 .8 2.5 1.7 1.3 2.6 1.1 2.4 .6 5.2-1.8 2.2-1.4 1.3 0 2.5-2.3 .3-1.3-1.4-3.7-.2-2.7-1.1-2.2-1.2-1.3-.1-1.2-1.3-1.2-1.2-.6-2.5-3.2-1.3-.5-1.5-1.9-.2-1.3 1.6-2.4 .4-1.3-.2-1.2-2.3-2.5-.9-2.5 .7-1 .5-.2 .7-2.4 1.5-1.3-.3-.7-1.2-.2 0-.7 1.2-.8 2.5 2.5 2.5-2 2.5-1.1 1.2 .1 1.5 2.9-1 1.2-.5 1.5-1.2 1 .2 1.2 1 .5 2.5 3.4 3.4 3.6 1.5 .5 2.5 2 1.3 .4 1.2 .9 1.2-.4 .3 .3-.8 1.2-.3 1.2-1 1.3 .1 2.5-1.5 2.4-1.7 .7-2.5 2.9 .1 1.4-.7 2.5 1.1 2.4 .5 3.8 1.2 2.4 .6 5 .9 1.2 .5 3.7-.5 1.3 1.4 3.7-.8 2.5 .4 1.2 1.8 1.2 3.4 .7 .9 .6 .3 .9 1.3 .2 1.4 1.4 2.1 12.3 .2 .3 1.5-.3 .1 1.3-.8 1.2-3.7 3.7-.8 1.6-2.5 0-1.2 1-1.3 .2-2.4 1.7-1.1 1.7-1.7 1.3-.4 1.2-1.2 1.2 1.2 2.5-1.4 3.7-2.9 1.7zM567.9 77.6l-.7-1.3 .8-.2 0 1.5zM571.7 71.4l.5 0-.4 .7zM559 51.6l.5 0-.1 .9zM599 179.3l0-.4-.8 .2zM586.6 161.9l.3-.1-.3-.5-.2 .5zM548.2 72.9l.3-.3-.3-.3-.3 .3zM575.5 72.8l0-.5-.6 .3z" clip-path="url(#p42eccacd5f)" style="fill: #31668e; stroke: #615252; stroke-opacity: 0.8; stroke-width: 0.9"/>
<path d="M587.9 185.5l2.4-.1 7.5 1 3.1-1.1 4.3-4.6 4.3-7.8 4.5-4.9 1.5-2.5 1.5-3.7 0-3.7-1.1-3.8-.1-2.4-2.9-8.7 1.2-1.2-.4-2.5 .4-1.3-.8-1.2-.1-1.2 1.2-2.5-.5-3.4-1.5-.3 .3-3.7 3.6-1.5 2.5 .3 2.5-.8 .5-.5 .1-1.3-.6-1.3-1.2-.7-1.6-1.7-.8-2.4-1.9-3.8-.4-1.2 .4-1.2 1.8-3.8 0-1.2-1.2-2.5-1.8-2.4-6.9-4-1.5-2.2-.5-2.5-1.9-3.7-1.1-4.6-3.6-5.3-.4-1.3-2.3-2.5 .1-1.8 2.6-4.3-.9-2.5-10.3-5.5-2-.7-1.4-1.3-5.5-8.6-.3-1.3 .3-3.7-1.4-3.7-.1-2.5-.6-1.2-2.7-1.1-1.2 .1-3.7-1.8-2.5-.1-1.2 .6-3.7 4.5-3.8 .8-3.7 .1-4.9-3.2-1.3-.4-3.7 1-4.9 3.2-3.7 .3-2.5-.4-1.3 .5-1.2-.5-2.5 .6-2.5-.1-2.4-2-3.7 3.1-2.5-.7-1.1-.8 1.1-1 2.5 .3 1.2-1 1.2 0 .6-.8-.1-1.2-.8-1.2-2-1.3-2.6-.1-2.3 1.4-.6 2.4 1.2 2.5-2 1.4-1.3-.4 .4 1.5-.4 .8-1.2-1.1-1.3-.2-1.2-1.9-1.2-1-.8 .9 0 2.5-.6 1.2-.6 3.7 1.1 3.8-.3 1.2 1.2 2.9 1.2 2 3.5 2.5 2.2 2.5 5 3.7 4.1 6.2 2.6 9.9-.2 2.5 .7 6.2-.4 2.5 .3 2.4 6.9 9.9 1.3 4.1 3.3 3.4 2.9 1.5 2.5 4.1 1.2 .7 .6 2.3-.4 2.5 3.4 2.5 2.7 3.7-.8 2.5 .5 1.2 1.5 1.6 1.2 .3 1.2 .9 .8 .9 .5 1.7 1.2 1 1.2 .2 .5 .9 .2 1.2-.8 4.9 .5 2.5-.1 5 1 3.3 1.3 1.6 1.2 .4 1.2-.3 2.5 .1 .8 1.1 2.7 4.9-.2 5 2.9 3.1 2.4 1.9 .6 1.2 .7 3.7 4.9 2.6 3.7 .2 2.8 .9zM587.5 181.6l-.9-.6-2.5-.5-1.2 .2-.7-.4-1.2-1.2-.3-2.5-.9-1.2-4.8-5-.1-1.2 .6-1.2-1.5-5 .2-4.9-2.4-1.9-3.8-1.2-2.4-2.4-2.5-.9-1.2 .2-.7-3.8 .6-2.4 0-3.7-1.9-6.2-1.6-2.5-2.6-2.5-.6-1.2-4.4-4.4-1.2-2-1.3-5.1-2.4-2.4-1.2-2.2-1.3-1.2-1.3-.1-1.9-1.2-1.8-2-1.2-1.9-.6-2.3-2.3-2.5-2.1-3.9-1.8-2.3-.5-1.2 .1-5-.8-1.2-.5-2.5 .2-3.7-2.3-8.7-1.5-3.7-1.7-2.4-.7-2.5-1-1.3-1.8-1.1-.8-1.3 .8-1.3 1.2-.3 3.7-2.2 5-1.6 3.8-3.3 3.7-2.5 2.6-2.5 2-4.9 1.5-1.6 2.5-1 .4 .1 .8 1.4 6.2 3.1 1.2 0 1.3-.5 7.4 .4 1.2-.2 3.7 .8 2.5-.4 3.7 1.8 .7 1 .5 3.8 1.6 1.2 3.4 4.9 3.7 3.1 3.8 1.7 1.2 1.2 3 1.5 1 1.2 0 1.3-2.7 3.7-.8 2.4 1 1.3 1.5 3.7 4.4 3.2 2.5 .9 1.2 .9 .6 1.2 2.1 7.4-1.4 3.1-4.3 3.1-1.5 2.5-.9 3.7 .2 3.7 .9 2.5 1.9 2.4 3.7 2.5 1.2-.4 3.7-3.5 1.3 .6 1.2 1.4 1.9 .7 1.2 1.3-.4 2.4-1.4 2-2.5 2.3-2.5 .5 0 1.5-.9 1.2 1.2 3.7 .1 1.2 .8 1.7 .9 4.5 1.5 3.7-.1 2.5 2.3 3.7 1.4 6.2-.5 5-1.2 2.4-1.6 1.3 1.8 2.4-.3 1.3-1.5 2.5-2.7 2-3.7-2.1-1.2 .3-1.3-.9-1.2 0-1.2-.6-.2 1.3 .4 1.2-.6 1.2-.2 2.5-1 2.5 .3 1.4 1.6 1.1-.9 2.4-.7 .5-1.2 0-1.2-.6-2.5 1.4-3.7 .2zM598.2 179.1l.8-.2 0 .4zM512.1 51.6l-1.2-1.3-.3-1.2 .6-2.5 2.4-1.9 2.2 6.9-1 .8-1.2-1.1-1.3 .4zM509.8 40l.5-.8-.5-.3-.7 .3z" clip-path="url(#p42eccacd5f)" style="fill: #2c728e; stroke: #615252; stroke-opacity: 0.8; stroke-width: 0.9"/>
<path d="M596.5 190.3l1.3 .2 2.4-1.1 5.2-5.3 2-2.5 4.9-8.7 7.3-8.7 .6-1.2 .4-2.5-.9-7.4 .6-2.5 0-4.9 1.1-5-1-3.7 .7-1.2 .8-3.8-1.9-3.7 2.5-.9 1.3-1.1 .7-1.7 .2-2.5-.9-2.4-2.3-3.7-2.1-5-.1-1.2 1.3-3.8 .1-1.2-.4-1.2-4-5.1-1.6-1.1-.8-3.8-2.3-3.7-.2-2.1-2.1-2.8-.7-3.7-.9-1.1-1.3-.1-1.2-1.3-.2-2.5-1.1-2.5-1.2-1.2 0-2.5 1.2-2.4-.1-2.5-3.6-2.4-4-1.3-1-2.5-3.8-3.7-3.5-5.3-1.7-.9-.8-1.3-.1-1.2-.7-1.2-2.4-2.5-1.5-2.5-.4-4.9-1.1-1.3-5-2.7-3.7-.7-1.2-.6-6.2-.2-1.2 .3-2.5-.1-1.3 .7-1.2-.2-1.2-.5-1.3-2.1-1.2-.4-1.3 .3-6.1 5-2.5-.6-3.7 .3-1.3 .5-7.4-1-2.5 1.1-3.7 .3-1.2-.5-1.3-1.1-6.2-.3-3.7 .9-2.5 1-4.9 .6-1.2 3.7-.4 2.5 .3 2.5-.5 6.2 .6 2.5 0 4.6 3.7 4.6 3.7 2.9 4.5 2.7 1.7 2.5-.1 2.5 2.5 3.7 .7 3.7 2.3 3.7 .1 1.3-.4 1.2 1.3 3.7 .1 1.2-.3 6.2 1.2 2 2.6 3 3.9 6.2 1.6 4.9 2 3.8-.2 2.4 1 2.5 1.8 2.5 .4 2.5 .5 .9 3.3 4 2.9 6.5 1.3 1.1 3.7 5 2.8 2.3 .9 1.2 .6 2.5 2.2 2.5 .9 5.9 1.1 2.7 1.4 2.8 4.9 7.1 .2 2.5 1.1 1.8 2.4 2.2 4.7 5.9 1.5 1.3 5 2.2 8.7 1.2 3.7 1.3 2.5 .3 2.4 1.1zM586.9 185.3l-2.8-.9-3.7-.2-4.9-2.6-.7-3.7-.6-1.2-2.4-1.9-2.9-3.1 .2-5-2.7-4.9-.8-1.1-2.5-.1-1.2 .3-1.2-.4-1.3-1.6-1-3.3 .1-5-.5-2.5 .8-4.9-.2-1.2-.5-.9-1.2-.2-1.2-1-.5-1.7-.8-.9-1.2-.9-1.2-.3-1.5-1.6-.5-1.2 .8-2.5-2.7-3.7-3.4-2.5 .4-2.5-.6-2.3-1.2-.7-2.5-4.1-2.9-1.5-3.3-3.4-1.3-4.1-6.9-9.9-.3-2.4 .4-2.5-.7-6.2 .2-2.5-2.6-9.9-4.1-6.2-5-3.7-2.2-2.5-3.5-2.5-1.2-2-1.2-2.9 .3-1.2-1.1-3.8 .6-3.7 .6-1.2 0-2.5 .8-.9 1.2 1 1.2 1.9 1.3 .2 1.2 1.1 .4-.8-.4-1.5 1.3 .4 2-1.4-1.2-2.5 .6-2.4 2.3-1.4 2.6 .1 2 1.3 .8 1.2 .1 1.2-.6 .8-1.2 0-1.2 1-2.5-.3-1.1 1 1.1 .8 2.5 .7 3.7-3.1 2.4 2 2.5 .1 2.5-.6 1.2 .5 1.3-.5 2.5 .4 3.7-.3 4.9-3.2 3.7-1 1.3 .4 4.9 3.2 3.7-.1 3.8-.8 3.7-4.5 1.2-.6 2.5 .1 3.7 1.8 1.2-.1 2.7 1.1 .6 1.2 .1 2.5 1.4 3.7-.3 3.7 .3 1.3 5.5 8.6 1.4 1.3 2 .7 10.3 5.5 .9 2.5-2.6 4.3-.1 1.8 2.3 2.5 .4 1.3 3.6 5.3 1.1 4.6 1.9 3.7 .5 2.5 1.5 2.2 6.9 4 1.8 2.4 1.2 2.5 0 1.2-1.8 3.8-.4 1.2 .4 1.2 1.9 3.8 .8 2.4 1.6 1.7 1.2 .7 .6 1.3-.1 1.3-.5 .5-2.5 .8-2.5-.3-3.6 1.5-.3 3.7 1.5 .3 .5 3.4-1.2 2.5 .1 1.2 .8 1.2-.4 1.3 .4 2.5-1.2 1.2 2.9 8.7 .1 2.4 1.1 3.8 0 3.7-1.5 3.7-1.5 2.5-4.5 4.9-4.3 7.8-4.3 4.6-3.1 1.1-7.5-1-2.4 .1zM509.1 39.2l.7-.3 .5 .3-.5 .8zM512.3 51.7l1.3-.4 1.2 1.1 1-.8-2.2-6.9-2.4 1.9-.6 2.5 .3 1.2 1.2 1.3z" clip-path="url(#p42eccacd5f)" style="fill: #277e8e; stroke: #615252; stroke-opacity: 0.8; stroke-width: 0.9"/>
<path d="M589.1 192.7l3.7-.4 3.7 1.2 2.5-.1 1.2-.5 2.5-2.9 5-1.7 3.3-3 3.1-6.2 4-6.2 .5-1.2-.2-1.3 .7-2.4 2.2-2.7 1.2-2.3 .6-4.9 .8-2.5 0-3.7 .8-2.5 .8-1.3 .1-3.7 .6-1.2 1.7-1.2 1-2.5-.5-1.3-1.9-2.4 .2-3.8-.7-4.9 .5-5-1.2-3.7-1.9-3.7-.8-6.2 .2-2.5-.7-3.7-1.9-2.4-.4-1.3 .1-2.5-2-2.4-1-3.8-1.3-2.4-1.4-3.7-4-7.7-1.3-4.4-2.4-2.8 .7-3.7-.7-1.3-1.3-1.1-2.4-1.3-2.6-2.3-1.5-2.7-2.5-2.5-.9-2.7-2.5-2.6-4.9-6.9-2.7-2.6-3.3-6.2-1.5-1.2-2.4-1.1-6.2-2.1-1.3-.9-7.4-.2-6.2-2.3-2.5-.3-3.7 .7-3.7 2.3-2.5 .2-3.7-1-4.9 1-3.8-.9-4.9 .5-6.2 0-3.7 .5-1.3-.2-3.7 2.3-7.4 .6-1.2 .4-.8 .4-.8 1.3-.8 6.2 .4 6.2-.5 2.4 .5 5-.4 3.7 1.1 2.5 6.2 5.7 2.8 4.2 1.1 3.7 2.8 3.7-.3 2.5 1 2.5 1 1.2 .3 2 1.7 4.2 .9 3.7 .9 1.3 1.5 4.9 2 2.5 .2 3.7 2 2.5 .5 1.2 .2 3.3 1.8 2.9 .2 2.5 2.3 3.7 .5 2.5-.5 3.7 .6 2.4 2.5 .4 1.7 .9 .8 1.3 .5 2.4 2.2 3.7 .7 2.5 2.6 2.5 1.5 2.5 2.5 2.4 2.2 3.8 4.4 3.7 1.5 2.5 7.8 17.3 1.3 1.8 6.7 6.9 2 1.5 5 2.6 7.4 2.2 3.7 2.3zM596.5 190.2l-2.4-1.1-2.5-.3-3.7-1.3-8.7-1.2-5-2.2-1.5-1.3-4.7-5.9-2.4-2.2-1.1-1.8-.2-2.5-4.9-7.1-1.4-2.8-1.1-2.7-.9-5.9-2.2-2.5-.6-2.5-.9-1.2-2.8-2.3-3.7-5-1.3-1.1-2.9-6.5-3.3-4-.5-.9-.4-2.5-1.8-2.5-1-2.5 .2-2.4-2-3.8-1.6-4.9-3.9-6.2-2.6-3-1.2-2 .3-6.2-.1-1.2-1.3-3.7 .4-1.2-.1-1.3-2.3-3.7-.7-3.7-2.5-3.7 .1-2.5-1.7-2.5-4.5-2.7-3.7-2.9-3.7-4.6 0-4.6-.6-2.5 .5-6.2-.3-2.5 .4-2.5 1.2-3.7 4.9-.6 2.5-1 3.7-.9 6.2 .3 1.3 1.1 1.2 .5 3.7-.3 2.5-1.1 7.4 1 1.3-.5 3.7-.3 2.5 .6 6.1-5 1.3-.3 1.2 .4 1.3 2.1 1.2 .5 1.2 .2 1.3-.7 2.5 .1 1.2-.3 6.2 .2 1.2 .6 3.7 .7 5 2.7 1.1 1.3 .4 4.9 1.5 2.5 2.4 2.5 .7 1.2 .1 1.2 .8 1.3 1.7 .9 3.5 5.3 3.8 3.7 1 2.5 4 1.3 3.6 2.4 .1 2.5-1.2 2.4 0 2.5 1.2 1.2 1.1 2.5 .2 2.5 1.2 1.3 1.3 .1 .9 1.1 .7 3.7 2.1 2.8 .2 2.1 2.3 3.7 .8 3.8 1.6 1.1 4 5.1 .4 1.2-.1 1.2-1.3 3.8 .1 1.2 2.1 5 2.3 3.7 .9 2.4-.2 2.5-.7 1.7-1.3 1.1-2.5 .9 1.9 3.7-.8 3.8-.7 1.2 1 3.7-1.1 5 0 4.9-.6 2.5 .9 7.4-.4 2.5-.6 1.2-7.3 8.7-4.9 8.7-2 2.5-5.2 5.3-2.4 1.1-1.3-.2z" clip-path="url(#p42eccacd5f)" style="fill: #238a8d; stroke: #615252; stroke-opacity: 0.8; stroke-width: 0.9"/>
<path d="M590.3 196.5l2.5-.2 2.5-.7 3.7 1.2 3.7-3.1 5-1.9 4.9-3.1 2.5-2.7 2.1-3.2 1-2.5 .3-2.4 1.4-2.5 1.3-1.2 1.7-2.5 .5-2.5 2.6-7.4 .3-2.1 3.2-11.6-.2-2.4 1.6-5 0-1.2-1.1-5 .5-4.9-1.5-5 .7-2.5 0-1.2-1.8-3.7-1.7-11.2-1.1-2.4-2.3-9.9-2.2-6.2-2.8-6.4-7.7-13.4-1.1-3.8-3.7-4.9-2.4-2.5-1.5-3.7-1.4-1.2-2-3.5-2.5-2.4-1.7-2.8-1.6-1.3-5.4-7.2-4.9-4.2-2.7-.9-7.2-4.9-1.3-.2-2.5 .4-3.7-.8-6.2-.4-6.1 0-5 .8-16.1-.3-6.2 .9-3.7-1-3.7 .5-3.7-.2-5 4.1-2.5 .7-3.7 .3-2.3 1.3-1 2.5 .4 2.5-.2 2.4-1.8 6.2 .6 2.5-.1 2.5 1.2 3.7 1 6.2 5.9 8.1 5.4 10.5 .1 2.4 .6 2.5 1.6 2.5 1.4 4.9 3.3 6.8 3 9.3 1.9 3.8 .1 2.5 1.8 3.7 1 3.7 1.3 2.4 .7 3.8 1.3 3.7 1.3 1.9 1.2 .5 1.3 2 4.3 9.2 2.7 2.5 1.6 2.9 1.3 .9 2.5 3.3 2.4 2.3 2.5 3.8 5.8 6.6 1.6 2.8 2.3 5.9 2.5 4.9 6.4 7.1 6.2 4.8 3.7 1.4 2.5 2.1 2.4 1 6 .9zM589.1 192.7l-3.7-2.3-7.4-2.2-5-2.6-2-1.5-6.7-6.9-1.3-1.8-7.8-17.3-1.5-2.5-4.4-3.7-2.2-3.8-2.5-2.4-1.5-2.5-2.6-2.5-.7-2.5-2.2-3.7-.5-2.4-.8-1.3-1.7-.9-2.5-.4-.6-2.4 .5-3.7-.5-2.5-2.3-3.7-.2-2.5-1.8-2.9-.2-3.3-.5-1.2-2-2.5-.2-3.7-2-2.5-1.5-4.9-.9-1.3-.9-3.7-1.7-4.2-.3-2-1-1.2-1-2.5 .3-2.5-2.8-3.7-1.1-3.7-2.8-4.2-6.2-5.7-1.1-2.5 .4-3.7-.5-5 .5-2.4-.4-6.2 .8-6.2 .8-1.3 .8-.4 1.2-.4 7.4-.6 3.7-2.3 1.3 .2 3.7-.5 6.2 0 4.9-.5 3.8 .9 4.9-1 3.7 1 2.5-.2 3.7-2.3 3.7-.7 2.5 .3 6.2 2.3 7.4 .2 1.3 .9 6.2 2.1 2.4 1.1 1.5 1.2 3.3 6.2 2.7 2.6 4.9 6.9 2.5 2.6 .9 2.7 2.5 2.5 1.5 2.7 2.6 2.3 2.4 1.3 1.3 1.1 .7 1.3-.7 3.7 2.4 2.8 1.3 4.4 4 7.7 1.4 3.7 1.3 2.4 1 3.8 2 2.4-.1 2.5 .4 1.3 1.9 2.4 .7 3.7-.2 2.5 .8 6.2 1.9 3.7 1.2 3.7-.5 5 .7 4.9-.2 3.8 1.9 2.4 .5 1.3-1 2.5-1.7 1.2-.6 1.2-.1 3.7-.8 1.3-.8 2.5 0 3.7-.8 2.5-.6 4.9-1.2 2.3-2.2 2.7-.7 2.4 .2 1.3-.5 1.2-4 6.2-3.1 6.2-3.3 3-5 1.7-2.5 2.9-1.2 .5-2.5 .1-3.7-1.2-3.7 .4z" clip-path="url(#p42eccacd5f)" style="fill: #1f968b; stroke: #615252; stroke-opacity: 0.8; stroke-width: 0.9"/>
<path d="M599 200.2l2.2-1.3 1.5-2.1 7.5-2.5 4.9-3.4 2-1.9 5.3-11.1 2.6-3.8 2.8-8.6 2.9-7.4 .6-6.2 1.1-5-.3-2.5 .3-3.7 1.5-6.2-.7-6.2-1-4.9 .4-2.5-.7-2.5-.8-1.2-1.1-7.5-6-21-3.5-8.7-6.4-12.3-3.6-5-6.4-11.1-2.4-2.5-5.2-7.8-2.2-2.1-1.7-2.5-3.2-2.5-1.5-2.3-2.5-1.7-2.5-2.4-4.9-2.7-5-4-1.2-.3-5-.4-4.9 .5-12.4-.1-3.7 .1-2.5 .6-3.7-.4-5 .6-7.4-1.1-1.3 .4-3.7-.5-6.2 .5-3.7-.2-4.9 4.5-7.5 2.9-1.8 1.1-1.2 1.2-.1 5-1.4 3.7-.6 4.9 .1 3.7 2.2 9.9 3.4 7.5 6.4 9.9 2.4 7.4 1.7 3.7 .9 3.7 4.4 11.2 1.8 3.7 1.4 5 3.8 8.6 .4 2.5 2.2 5.8 2.8 5.3 .7 2.5 6.2 11.2 10.2 11.1 2.2 3.7 3.8 5 2.6 2.2 3.7 8.6 1.3 1.6 1.7 3.7 5.3 6.2 6.6 4.9 9 5 8.3 1.4 2.5 0 2.5-.7 3.6 1.8zM590.1 196.4l-6-.9-2.4-1-2.5-2.1-3.7-1.4-6.2-4.8-6.4-7.1-2.5-4.9-2.3-5.9-1.6-2.8-5.8-6.6-2.5-3.8-2.4-2.3-2.5-3.3-1.3-.9-1.6-2.9-2.7-2.5-4.3-9.2-1.3-2-1.2-.5-1.3-1.9-1.3-3.7-.7-3.8-1.3-2.4-1-3.7-1.8-3.7-.1-2.5-1.9-3.8-3-9.3-3.3-6.8-1.4-4.9-1.6-2.5-.6-2.5-.1-2.4-5.4-10.5-5.9-8.1-1-6.2-1.2-3.7 .1-2.5-.6-2.5 1.8-6.2 .2-2.4-.4-2.5 1-2.5 2.3-1.3 3.7-.3 2.5-.7 5-4.1 3.7 .2 3.7-.5 3.7 1 6.2-.9 16.1 .3 5-.8 6.1 0 6.2 .4 3.7 .8 2.5-.4 1.3 .2 7.2 4.9 2.7 .9 4.9 4.2 5.4 7.2 1.6 1.3 1.7 2.8 2.5 2.4 2 3.5 1.4 1.2 1.5 3.7 2.4 2.5 3.7 4.9 1.1 3.8 7.7 13.4 2.8 6.4 2.2 6.2 2.3 9.9 1.1 2.4 1.7 11.2 1.8 3.7 0 1.2-.7 2.5 1.5 5-.5 4.9 1.1 5 0 1.2-1.6 5 .2 2.4-3.2 11.6-.3 2.1-2.6 7.4-.5 2.5-1.7 2.5-1.3 1.2-1.4 2.5-.3 2.4-1 2.5-2.1 3.2-2.5 2.7-4.9 3.1-5 1.9-3.7 3.1-3.7-1.2-2.5 .7-2.5 .2z" clip-path="url(#p42eccacd5f)" style="fill: #1fa287; stroke: #615252; stroke-opacity: 0.8; stroke-width: 0.9"/>
<path d="M589.1 201.5l5 .6 2.4-.5 3.7 .2 3.8-2.3 7.4-3.2 2.5-1.9 3.7-2.1 2.3-2.1 1.7-4.9 5.6-9.9 1.6-5 2-3.7 1.4-3.7 2.8-14.9 1.7-14.8-1.6-8.7-.5-6.2-1.2-3.7-1.5-8.7-3-9.9-.8-4.9-3.1-6.7-1.5-4.5-1.1-1.2-1.6-3.7-2.2-3.7-1.1-3.7-4.3-6.2-1.6-3.8-6.5-8.6-3-5-8-9.8-2.8-2.6-1-1.6-3.5-2.1-2.5-2.4-11.3-7.3-3.7-.3-2.5 .4-8.7 0-2.4-.4-3.7 .4-5-.5-3.7 .5-5-.4-2.4 .7-6.2-.8-7.5 .4-2.4-.5-7.5 .6-1.2-.4-3.7 3.6-8.2 5.2-1.7 .6-2.5 1.9-.8 2.4 .1 2.5-2.3 8.7 .2 4.9 .5 3.8 2.6 8.6 2.3 5 3.6 5.9 3.7 7.3 1.2 4.1 4.7 11.2 .6 2.4 3.9 9.9 .8 3.8 3.1 6.2 4.5 12.3 8.6 17.4 7.7 8.6 2 3.2 2.5 2.2 7.2 9.5 1.5 3.7 5.4 9.9 5.3 6.2 5.4 3.8 2.5 2.4 4 2.5 7.1 2.9 5.6 .8zM598.9 200.2l-3.6-1.8-2.5 .7-2.5 0-8.3-1.4-9-5-6.6-4.9-5.3-6.2-1.7-3.7-1.3-1.6-3.7-8.6-2.6-2.2-3.8-5-2.2-3.7-10.2-11.1-6.2-11.2-.7-2.5-2.8-5.3-2.2-5.8-.4-2.5-3.8-8.6-1.4-5-1.8-3.7-4.4-11.2-.9-3.7-1.7-3.7-2.4-7.4-6.4-9.9-3.4-7.5-2.2-9.9-.1-3.7 .6-4.9 1.4-3.7 .1-5 1.2-1.2 1.8-1.1 7.5-2.9 4.9-4.5 3.7 .2 6.2-.5 3.7 .5 1.3-.4 7.4 1.1 5-.6 3.7 .4 2.5-.6 3.7-.1 12.4 .1 4.9-.5 5 .4 1.2 .3 5 4 4.9 2.7 2.5 2.4 2.5 1.7 1.5 2.3 3.2 2.5 1.7 2.5 2.2 2.1 5.2 7.8 2.4 2.5 6.4 11.1 3.6 5 6.4 12.3 3.5 8.7 6 21 1.1 7.5 .8 1.2 .7 2.5-.4 2.5 1 4.9 .7 6.2-1.5 6.2-.3 3.7 .3 2.5-1.1 5-.6 6.2-2.9 7.4-2.8 8.6-2.6 3.8-5.3 11.1-2 1.9-4.9 3.4-7.5 2.5-1.5 2.1-2.2 1.3z" clip-path="url(#p42eccacd5f)" style="fill: #28ae80; stroke: #615252; stroke-opacity: 0.8; stroke-width: 0.9"/>
<path d="M585.4 203.9l1.2 .4 6.2 .3 5-1 4.9-.4 3.7-2 5-1.6 6.2-4.3 4.1-3.8 7.8-14.9 2.1-6.2 3.2-7.4 3.1-16.1 .1-6.2 .9-6.2-1.4-9.9-.2-4.9-2.7-11.2-.3-3.7-1.5-3.7-1.3-5-.8-4.9-4.2-11.2-2.8-3.7-1.2-3.7-1.8-2.5-1.4-3.7-2.4-3.7-2.9-6.2-2.6-3-1.9-3.2-3-3.7-1.3-2.6-4.4-4.8-8.7-11.2-3-1.4-7.4-6-5-2.7-2.5-2-3.7-.2-2.5 .3-9.9-.6-4.9 .4-2.5 .1-1.2-.4-7.5 .4-4.9-.6-13.6 .8-2.5-.5-6.2 .2-2.5-.4-2.5 .1-1.9 2.6-1.8 1.5-7.4 4.3-5 4.1-1.4 2.5-1 3.7-.7 5-.9 2.4-.4 2.5 .4 6.2 3.1 11.2 9 16.1 2 4.9 .5 2.5 3.7 8.7 1.5 4.9 1.8 3.7 2.8 8.7 2.3 5 1.5 4.9 1.7 3.7 .9 3.7 2.2 3.7 1.5 3.8 1.8 2.4 3.6 7.5 4.6 6.2 2.4 2.4 2.6 3.8 3.5 3.7 6.8 8.4 1.6 4 1.6 2.4 1.7 4.6 1.9 2.9 4.5 4.9 11.5 9.9 2.4 1.3 3.3 .8 3.7 1.9 3.4 1zM588.5 201.4l-5.6-.8-7.1-2.9-4-2.5-2.5-2.4-5.4-3.8-5.3-6.2-5.4-9.9-1.5-3.7-7.2-9.5-2.5-2.2-2-3.2-7.7-8.6-8.6-17.4-4.5-12.3-3.1-6.2-.8-3.8-3.9-9.9-.6-2.4-4.7-11.2-1.2-4.1-3.7-7.3-3.6-5.9-2.3-5-2.6-8.6-.5-3.8-.2-4.9 2.3-8.7-.1-2.5 .8-2.4 2.5-1.9 1.7-.6 8.2-5.2 3.7-3.6 1.2 .4 7.5-.6 2.4 .5 7.5-.4 6.2 .8 2.4-.7 5 .4 3.7-.5 5 .5 3.7-.4 2.4 .4 8.7 0 2.5-.4 3.7 .3 11.3 7.3 2.5 2.4 3.5 2.1 1 1.6 2.8 2.6 8 9.8 3 5 6.5 8.6 1.6 3.8 4.3 6.2 1.1 3.7 2.2 3.7 1.6 3.7 1.1 1.2 1.5 4.5 3.1 6.7 .8 4.9 3 9.9 1.5 8.7 1.2 3.7 .5 6.2 1.6 8.7-1.7 14.8-2.8 14.9-1.4 3.7-2 3.7-1.6 5-5.6 9.9-1.7 4.9-2.3 2.1-3.7 2.1-2.5 1.9-7.4 3.2-3.8 2.3-3.7-.2-2.4 .5-5-.6z" clip-path="url(#p42eccacd5f)" style="fill: #38b977; stroke: #615252; stroke-opacity: 0.8; stroke-width: 0.9"/>
<path d="M585.4 206.8l3.7-.3 5 .3 9.9-1.6 6.2-2.3 8.6-5.1 4.8-5.1 6.2-12.4 2.3-3.7 1.6-3.7 2.3-7.4 1.2-2.5 .8-4.9 1.4-5-.2-2.5 1.3-6.2-.2-4.9 1.2-5-.1-1.2-1.2-7.4-.9-9.9-1.2-3.8-1.6-8.6-1.8-3.7-.4-3.8-.9-2.4-1-5-2.8-7.4-8.3-16-2.1-2.6-1.2-3.7-5.2-7.4-1.1-2.5-2.2-2.5-1.8-3.1-3.9-4.3-2.3-3.7-7.7-8.7-18.3-13.3-2.5-.3-11.1 .4-11.2-.5-7.4 .3-6.2-.5-2.5 .4-3.7 .2-3.7-.4-2.5 .4-16.1-.4-2.5 3.1-2.4 1.9-3.8 2-3.7 2.6-3.9 4.1-3.9 8.7-.1 2.4-1.3 5 .2 7.4 3.4 12.4 4.4 7.4 1.6 3.7 2.9 3.8 1.9 4.9 1.4 5 1.9 3.7 2.3 7.4 1.6 3.1 3.2 9.3 1.9 3.7 3.8 11.2 1 3.9 2.1 3.5 1.3 3.7 2.1 2.5 1.4 3.7 5.7 8.7 3.5 3.7 5.9 7.4 1.5 2.5 5.6 6.2 1.7 3.7 1.6 2.5 1.1 3.7 4.3 6.2 8.9 8.6 5.3 4.2 2.5 1.3 3.7 1.2 7.7 3.2zM585.1 203.9l-3.4-1-3.7-1.9-3.3-.8-2.4-1.3-11.5-9.9-4.5-4.9-1.9-2.9-1.7-4.6-1.6-2.4-1.6-4-6.8-8.4-3.5-3.7-2.6-3.8-2.4-2.4-4.6-6.2-3.6-7.5-1.8-2.4-1.5-3.8-2.2-3.7-.9-3.7-1.7-3.7-1.5-4.9-2.3-5-2.8-8.7-1.8-3.7-1.5-4.9-3.7-8.7-.5-2.5-2-4.9-9-16.1-3.1-11.2-.4-6.2 .4-2.5 .9-2.4 .7-5 1-3.7 1.4-2.5 5-4.1 7.4-4.3 1.8-1.5 1.9-2.6 2.5-.1 2.5 .4 6.2-.2 2.5 .5 13.6-.8 4.9 .6 7.5-.4 1.2 .4 2.5-.1 4.9-.4 9.9 .6 2.5-.3 3.7 .2 2.5 2 5 2.7 7.4 6 3 1.4 8.7 11.2 4.4 4.8 1.3 2.6 3 3.7 1.9 3.2 2.6 3 2.9 6.2 2.4 3.7 1.4 3.7 1.8 2.5 1.2 3.7 2.8 3.7 4.2 11.2 .8 4.9 1.3 5 1.5 3.7 .3 3.7 2.7 11.2 .2 4.9 1.4 9.9-.9 6.2-.1 6.2-3.1 16.1-3.2 7.4-2.1 6.2-7.8 14.9-4.1 3.8-6.2 4.3-5 1.6-3.7 2-4.9 .4-5 1-6.2-.3-1.2-.4z" clip-path="url(#p42eccacd5f)" style="fill: #50c46a; stroke: #615252; stroke-opacity: 0.8; stroke-width: 0.9"/>
<path d="M584.1 208.9l1.3 .2 2.5-.4 7.4 .7 9.9-2.4 6.2-2.3 8.7-4.9 4.9-5 4.7-8.3 1.5-3.9 3-4.7 3.1-8.7 .5-2.5 2.4-4.9 .3-5 .9-2.5 .2-2.4 0-3.8 1.2-3.7-.1-4.9 1.1-5-2.1-18.5-1.9-6.2-.8-5-2.3-7.4-.2-2.5-1.5-3.7-.1-2.5-2.2-4.9-.7-2.5-2.3-3.7-2.6-6.2-2.2-3.7-1.3-3.8-2.3-2.7-1.3-3.5-4.4-6.1-2-3.8-2.2-2.4-2.2-3.8-2.7-2.4-3.8-6-1.2-1.4-1.3-.8-3.7-4.5-6.2-5.8-2.8-1.3-7.1-5.4-3.7-2.5-1.2-.5-7.5-.1-4.9 .4-9.9-.4-2.5 .2-3.7-.7-5 .6-3.7-.3-4.9 .5-5-.4-4.9 .4-16.1-.1-2.6 3.3-3.2 2.5-6.4 3.7-4.2 3.7-.9 1.3-1.2 3.7-2.5 4.9-.5 2.5-1.2 7.4 .4 2.5-.2 3.7 1.5 3.7 .7 5 1.8 4.9 3.6 7.6 3 4.8 2.1 2.5 2.9 8.7 1.8 3.7 1.8 6.2 2.7 6.2 .5 2.4 2 3.8 .9 3.7 2.1 3.6 .4 2.6 1.7 3.7 2.3 7.4 2.1 3.7 1.1 3.7 2 2.5 4.5 8.7 3.3 4.4 3 3 1.9 3 2.5 2.2 3.7 5.8 4.6 5.1 7.9 14.9 4.8 5.4 3.8 3.6 7.4 5.7 7.4 3.4 3.7 1.1 3.7 1.8zM584.4 206.3l-7.7-3.2-3.7-1.2-2.5-1.3-5.3-4.2-8.9-8.6-4.3-6.2-1.1-3.7-1.6-2.5-1.7-3.7-5.6-6.2-1.5-2.5-5.9-7.4-3.5-3.7-5.7-8.7-1.4-3.7-2.1-2.5-1.3-3.7-2.1-3.5-1-3.9-3.8-11.2-1.9-3.7-3.2-9.3-1.6-3.1-2.3-7.4-1.9-3.7-1.4-5-1.9-4.9-2.9-3.8-1.6-3.7-4.4-7.4-3.4-12.4-.2-7.4 1.3-5 .1-2.4 3.9-8.7 3.9-4.1 3.7-2.6 3.8-2 2.4-1.9 2.5-3.1 16.1 .4 2.5-.4 3.7 .4 3.7-.2 2.5-.4 6.2 .5 7.4-.3 11.2 .5 11.1-.4 2.5 .3 18.3 13.3 7.7 8.7 2.3 3.7 3.9 4.3 1.8 3.1 2.2 2.5 1.1 2.5 5.2 7.4 1.2 3.7 2.1 2.6 8.3 16 2.8 7.4 1 5 .9 2.4 .4 3.8 1.8 3.7 1.6 8.6 1.2 3.8 .9 9.9 1.2 7.4 .1 1.2-1.2 5 .2 4.9-1.3 6.2 .2 2.5-1.4 5-.8 4.9-1.2 2.5-2.3 7.4-1.6 3.7-2.3 3.7-6.2 12.4-4.8 5.1-8.6 5.1-6.2 2.3-9.9 1.6-5-.3-3.7 .3z" clip-path="url(#p42eccacd5f)" style="fill: #6ccd5a; stroke: #615252; stroke-opacity: 0.8; stroke-width: 0.9"/>
<path d="M585.4 211.3l11.1 0 2.5-.8 5-.6 4.9-2 2.5-.6 4.9-2.6 6.2-4.1 4.3-4.2 4.7-8.6 1.6-3.7 3.1-5 1.2-4.3 2-4.4 .5-2.4 2.6-6.2 .2-3.7 1.2-6.2 .2-3.8 .8-2.4 .3-6.2 .8-5-.5-6.2-.9-3.7-.1-4.9-.8-5-1.9-4.9-.5-5-1.3-3.7-3.2-13.6-3.5-8.7-2.1-3.3-3.7-7.8-1.3-3.8-3.2-4.9-.9-2.5-9.5-13.1-1.5-3-2.6-2.5-2.3-3.7-4.7-5.2-2.5-3.4-6.6-6.2-8-5-2.7-2.3-2.7-1.4-1-1.4-1.3-.6-18.6 .1-3.7-.4-2.4 .4-6.2-.5-2.5 .4-7.4-.1-5 .3-3.7-.2-5 .3-3.7-.4-4.9 .5-5-.5-2.5 .2-3.3 4.4-2.9 1.9-3.7 1.8-2.4 2-1.3 1.7-3.7 3.1-1.2 1.9-4 9.9-1.2 8.6 .1 3.7 .4 3.8 1.5 3.7 .3 3.7 2.8 7.4 1.6 2.5 1.4 3.7 5 7.4 .7 3 1.6 3.2 .6 2.5 2 3.7 .8 4.1 6 14.5 .9 3.7 1.7 2.8 1.2 4.6 1.4 2.5 .8 3.7 5.2 11.2 1.8 2.5 1.5 3.7 1.8 2.4 1.2 3.8 6.1 6.2 1.4 2.4 3.6 3.7 1.6 2.5 4.6 5.5 10 17.7 4.9 5.4 3.7 3.6 2.5 1.4 3.7 3.4 9.9 5 8.6 2.6zM584.1 208.8l-3.7-1.8-3.7-1.1-7.4-3.4-7.4-5.7-3.8-3.6-4.8-5.4-7.9-14.9-4.6-5.1-3.7-5.8-2.5-2.2-1.9-3-3-3-3.3-4.4-4.5-8.7-2-2.5-1.1-3.7-2.1-3.7-2.3-7.4-1.7-3.7-.4-2.6-2.1-3.6-.9-3.7-2-3.8-.5-2.4-2.7-6.2-1.8-6.2-1.8-3.7-2.9-8.7-2.1-2.5-3-4.8-3.6-7.6-1.8-4.9-.7-5-1.5-3.7 .2-3.7-.4-2.5 1.2-7.4 .5-2.5 2.5-4.9 1.2-3.7 .9-1.3 4.2-3.7 6.4-3.7 3.2-2.5 2.6-3.3 16.1 .1 4.9-.4 5 .4 4.9-.5 3.7 .3 5-.6 3.7 .7 2.5-.2 9.9 .4 4.9-.4 7.5 .1 1.2 .5 3.7 2.5 7.1 5.4 2.8 1.3 6.2 5.8 3.7 4.5 1.3 .8 1.2 1.4 3.8 6 2.7 2.4 2.2 3.8 2.2 2.4 2 3.8 4.4 6.1 1.3 3.5 2.3 2.7 1.3 3.8 2.2 3.7 2.6 6.2 2.3 3.7 .7 2.5 2.2 4.9 .1 2.5 1.5 3.7 .2 2.5 2.3 7.4 .8 5 1.9 6.2 2.1 18.5-1.1 5 .1 4.9-1.2 3.7 0 3.8-.2 2.4-.9 2.5-.3 5-2.4 4.9-.5 2.5-3.1 8.7-3 4.7-1.5 3.9-4.7 8.3-4.9 5-8.7 4.9-6.2 2.3-9.9 2.4-7.4-.7-2.5 .4-1.3-.2z" clip-path="url(#p42eccacd5f)" style="fill: #8bd646; stroke: #615252; stroke-opacity: 0.8; stroke-width: 0.9"/>
<path d="M585.4 214.1l4.9-.7 5 .1 4.9-1.2 2.5 .1 2.5-.7 2.5-1.2 4.9-1.3 11.2-6.6 5.3-4.9 1-1.3 1.7-4.9 2.5-3.7 2.1-5 2.2-3.7 3.8-9.9 3-11.1 1-8.7 1.4-6.2-.2-2.5 .6-6.2-.6-7.4-1.1-3.7 .4-5-1.6-6.2-1.4-3.7-.3-3.7-1.2-3.7-2.9-13.6-4.6-10.9-4.3-7.7-2-5-3.1-4.9-1.4-3.7-8.9-12.4-2.2-3.7-2.5-2.5-1.6-3.1-2.5-2.6-5-6.7-5.5-4.9-8-5.8-7.5-4.7-1.2-2.8-1.2-.2-5 .5-6.2-.1-1.2-.4-6.2 .4-2.5-.4-6.2 .6-8.7 .2-7.4-.7-2.5 .6-6.2-.5-2.4 .5-12.4-.7-6.2 .6-3.7 4.5-2.9 2.2-6.3 3.7-1.9 2.5-2.9 2.4-1.4 2.5-5 12.4-.8 11.1 2.2 9.9 .2 2.5 1.7 3.7 .6 2.5 3 5 .9 2.4 4.9 7.5 2.2 6.2 .9 3.7 2 3.7 .2 2.5 1.9 3.7 1.1 3.7 2 3.7 2.3 7.5 1.9 3.7 .6 3.7 1.7 3.7 .6 2.5 2 3.7 2.1 4.9 3.5 5 1.1 3.7 3.3 6.2 3 3.1 3.9 5.6 2.7 2.4 2.1 3.2 2.5 2.2 3.7 4.6 3.5 6.1 1.2 3.8 1.6 2.4 1.1 2.8 1.9 2.2 3.1 2.5 3.8 4.9 4.9 3.4 2.4 2.8 8.7 4.4 2.5 1.7 6.2 1.4 3 1.2zM585.3 211.3l-8.6-2.6-9.9-5-3.7-3.4-2.5-1.4-3.7-3.6-4.9-5.4-10-17.7-4.6-5.5-1.6-2.5-3.6-3.7-1.4-2.4-6.1-6.2-1.2-3.8-1.8-2.4-1.5-3.7-1.8-2.5-5.2-11.2-.8-3.7-1.4-2.5-1.2-4.6-1.7-2.8-.9-3.7-6-14.5-.8-4.1-2-3.7-.6-2.5-1.6-3.2-.7-3-5-7.4-1.4-3.7-1.6-2.5-2.8-7.4-.3-3.7-1.5-3.7-.4-3.8-.1-3.7 1.2-8.6 4-9.9 1.2-1.9 3.7-3.1 1.3-1.7 2.4-2 3.7-1.8 2.9-1.9 3.3-4.4 2.5-.2 5 .5 4.9-.5 3.7 .4 5-.3 3.7 .2 5-.3 7.4 .1 2.5-.4 6.2 .5 2.4-.4 3.7 .4 18.6-.1 1.3 .6 1 1.4 2.7 1.4 2.7 2.3 8 5 6.6 6.2 2.5 3.4 4.7 5.2 2.3 3.7 2.6 2.5 1.5 3 9.5 13.1 .9 2.5 3.2 4.9 1.3 3.8 3.7 7.8 2.1 3.3 3.5 8.7 3.2 13.6 1.3 3.7 .5 5 1.9 4.9 .8 5 .1 4.9 .9 3.7 .5 6.2-.8 5-.3 6.2-.8 2.4-.2 3.8-1.2 6.2-.2 3.7-2.6 6.2-.5 2.4-2 4.4-1.2 4.3-3.1 5-1.6 3.7-4.7 8.6-4.3 4.2-6.2 4.1-4.9 2.6-2.5 .6-4.9 2-5 .6-2.5 .8-11.1 0z" clip-path="url(#p42eccacd5f)" style="fill: #addc30; stroke: #615252; stroke-opacity: 0.8; stroke-width: 0.9"/>
<path d="M584.1 216.5l6.2-.6 2.5 .5 3.7 0 2.5-.9 6.2-1 6.2-2 8.7-3.9 6-4.7 6-6.2 1.6-2.5 1.8-5 2.4-3.7 3.2-6.1 .5-2.5 3.2-7.3 .2-1.4 1.8-5 1.6-7.4 .4-4.9 1.6-9.9-.1-6.2 .7-6.2-1.6-7.5 .4-3.7-3.2-11.1-.2-3.7-4-13.7-.1-2.4-1-2.5-1.6-2.5-.6-3.7-4.2-7.7-3-7.2-3.9-4.9-1-3.7-6.8-9.9-2-3.8-2.9-3.7-2.7-2.4-1.5-3.8-10.1-11.1-1.7-2.5-5.2-2.8-5-4.6-6.2-3.2-1.2-1.6-.1-1.4-78.8 0-1.3 2.5-2.1 2.5-9.4 5.7-4.9 4.8-2.9 5.6-2.5 6.1-2 7.5-.3 3.7 .5 2.5-.4 1.2 .2 4.5 1.5 4.2 .6 4.9 1.8 6.2 4.7 8.8 2.9 3.6 2.6 5 2.1 7.4 1.9 3.7 1 5 1.9 3.3 1.4 4.1 1.9 3.7 .8 3.7 2.3 3.7 1 5.3 6.2 15.8 2.9 3.7 1.5 3.7 4.1 7.4 2.4 2.5 3.2 5 2 2.3 2.5 2 1.8 3.1 2.7 2.5 3.9 4.9 2.7 4.6 1.2 4.1 1.6 2.5 1.5 3.7 5.4 4.9 2.8 3.8 7.5 6.1 5.8 3.8 2.7 .8 3.7 2.4 2.5 .9 3.7 .5 3.4 1.6zM584.7 213.8l-3-1.2-6.2-1.4-2.5-1.7-8.7-4.4-2.4-2.8-4.9-3.4-3.8-4.9-3.1-2.5-1.9-2.2-1.1-2.8-1.6-2.4-1.2-3.8-3.5-6.1-3.7-4.6-2.5-2.2-2.1-3.2-2.7-2.4-3.9-5.6-3-3.1-3.3-6.2-1.1-3.7-3.5-5-2.1-4.9-2-3.7-.6-2.5-1.7-3.7-.6-3.7-1.9-3.7-2.3-7.5-2-3.7-1.1-3.7-1.9-3.7-.2-2.5-2-3.7-.9-3.7-2.2-6.2-4.9-7.5-.9-2.4-3-5-.6-2.5-1.7-3.7-.2-2.5-2.2-9.9 .8-11.1 5-12.4 1.4-2.5 2.9-2.4 1.9-2.5 6.3-3.7 2.9-2.2 3.7-4.5 6.2-.6 12.4 .7 2.4-.5 6.2 .5 2.5-.6 7.4 .7 8.7-.2 6.2-.6 2.5 .4 6.2-.4 1.2 .4 6.2 .1 5-.5 1.2 .2 1.2 2.8 7.5 4.7 8 5.8 5.5 4.9 5 6.7 2.5 2.6 1.6 3.1 2.5 2.5 2.2 3.7 8.9 12.4 1.4 3.7 3.1 4.9 2 5 4.3 7.7 4.6 10.9 2.9 13.6 1.2 3.7 .3 3.7 1.4 3.7 1.6 6.2-.4 5 1.1 3.7 .6 7.4-.6 6.2 .2 2.5-1.4 6.2-1 8.7-3 11.1-3.8 9.9-2.2 3.7-2.1 5-2.5 3.7-1.7 4.9-1 1.3-5.3 4.9-11.2 6.6-4.9 1.3-2.5 1.2-2.5 .7-2.5-.1-4.9 1.2-5-.1-4.9 .7z" clip-path="url(#p42eccacd5f)" style="fill: #cde11d; stroke: #615252; stroke-opacity: 0.8; stroke-width: 0.9"/>
<path d="M584.1 220l1.3-1.3 1.2 1.3 13.6 0 1.3-1.3 4.9 0 1.3-1.2 1.2 0 1.3-1.2 2.4 0 1.3-1.3 2.4 0 1.3-1.2 1.2 0 3.7-3.7 1.3 0 1.2-1.3 1.3 0 1.2-1.2 1.2 0 0-1.3 2.5-2.4 1.2 0 0-1.3 3.8-3.7 0-2.5 1.2-1.2 0-1.2 2.5-2.5 0-1.3 1.2-1.2 0-1.2 1.3-1.3 0-1.2 1.2-1.2 0-2.5 1.2-1.3 0-2.4 1.3-1.3 0-1.2 1.2-1.2 0-1.3 1.2-1.2 0-1.3 1.3-1.2 0-2.5-1.3-1.2 1.3-1.3 0-1.2 1.2-1.2 0-2.5 1.3-1.2 0-2.5-1.3-1.3 1.3-1.2 0-1.2-1.3-1.3 1.3-1.2 0-1.3 1.2-1.2 0-6.2 1.2-1.2 0-2.5-1.2-1.2 0-5 1.2-1.2 0-1.3-1.2-1.2 0-5-1.2-1.2 1.2-1.2 0-2.5-1.2-1.2 0-1.3-1.3-1.2 0-5-1.2-1.2 0-1.3-1.3-1.2 1.3-1.2 0-2.5-1.3-1.2 0-1.3-1.2-1.2 1.2-1.3-1.2-1.2 0-3.7-1.2-1.3 0-2.4-1.3-1.3 0-1.2-1.2-1.2 0-1.3-1.2-1.2 0-5-1.3 0-2.5-2.5 0-3.7-2.4-2.4 0-3.8-1.3-1.2 0-1.2-1.2-1.3 0-1.2-1.3 0-1.2-1.3 0-2.4-1.2-1.3 0-1.2-6.2-6.2 0-1.2-1.3-1.3 1.3-1.2-2.5-2.5 0-1.2-2.5-2.5-1.2 0-2.5-2.5 1.2-1.2-1.2-1.3 0-1.2-4.9-4.9 0-1.3-1.3 0-1.2-1.2-1.3 0-1.2-1.3 0-1.2-2.5-2.5 0-1.2-2.5-2.5-2.4 0-1.3-1.2 0-1.3-1.2-1.2-1.2 0-2.5-2.5-1.3 0-2.4-2.5-1.3 0-1.2-1.2-3.8 0 .1 1.4 .6 1.1 1.5 1.2 5.3 2.5 6.2 5.5 4 1.9 1.7 2.5 10.1 11.1 1.5 3.8 2.7 2.4 2 2.5 2.9 5 6.8 9.9 1 3.7 3.9 4.9 3 7.2 4.2 7.7 .6 3.7 1.6 2.5 1 2.5 .1 2.4 4 13.7 .2 3.7 3.2 11.1-.4 3.7 1.6 7.5-.7 6.2 .1 6.2-1.6 9.9-.4 4.9-1.6 7.4-1.8 5-.2 1.4-3.2 7.3-.5 2.4-3.2 6.2-2.4 3.7-2.6 6.2-.8 1.3-6 6.2-6 4.7-12.4 5.2-8.7 1.7-2.5 .9-3.7 0-2.5-.5-6.2 .6-3.7-1.8-3.7-.5-2.5-.9-3.7-2.4-2.7-.8-4.7-3-8.6-6.9-2.8-3.8-5.4-4.9-1.5-3.7-1.6-2.5-1.2-4.1-2.7-4.6-3.9-4.9-2.7-2.5-1.8-3.1-2.5-2-2-2.3-3.2-5-2.4-2.5-4.1-7.4-1.5-3.7-2.9-3.7-6.2-15.8-1-5.3-2.3-3.7-.8-3.7-1.9-3.7-1.4-4.1-1.9-3.3-1-5-1.9-3.7-2.1-7.4-2.6-5-2.9-3.6-4.7-8.8-1.8-6.2-.6-4.9-1.7-5 0-3.7 .4-1.2-.5-2.5 .5-5 1.8-6.2 4.1-9.6 1.3-2.1 4.4-4.4 3-2.1 6.9-4 2.1-2.5 1.3-2.5-4.1 0-3.7 3.7-1.2 0-5 5-2.5 0-1.2 1.2 0 1.2-5 5 0 1.2-1.2 1.3 0 1.2-1.2 1.3 0 4.9-1.3 1.2 0 1.3-1.2 1.2 0 2.5-1.3 1.2 0 14.9 1.3 1.2 0 1.3 1.2 1.2-1.2 1.2 1.2 1.3 0 3.7 1.3 1.2 0 2.5 1.2 1.3 0 2.4 1.2 0 2.5 2.5 0 3.7 1.2 1.3 0 1.2 3.8 3.7 0 1.3 1.2 1.2 0 3.7 1.2 1.2 0 2.5 3.8 3.7 0 1.3-1.3 1.2 1.3 1.3 0 1.2 2.4 2.5 0 1.2 1.3 1.2 0 3.8 1.2 1.2-1.2 1.2 1.2 1.3 0 1.2 1.2 1.3 0 1.2 2.5 2.5 0 1.2-1.2 1.2 1.2 1.3 0 1.2 1.3 1.3 0 1.2 1.2 1.2 0 2.5 2.5 2.5 0 2.5 1.2 1.2 0 1.2 1.2 1.3 0 2.5 2.5 2.4 0 1.3 1.3 1.2 0 2.5 1.2 1.2 0 1.3 1.2 1.2 0 1.2 1.3 1.3 0 1.2 6.2 6.2 0 1.2 1.2 0 5 5 0 1.2 3.7 3.8 0 1.2 1.2 1.2 0 1.3 2.5 2.4 0 1.3 1.2 1.2 0 1.3 1.3 1.2 0 1.2 1.2 1.3 0 1.2 1.2 0 1.3 1.2 0 3.8 1.2 0 2.5 2.4 0 1.3 6.2 6.2 1.2 0 1.3 1.2 0 1.2 1.2 0 1.2 1.3 1.3 0 1.2 1.2 1.3 0 2.4 2.5 0 1.2 1.3 0 1.2 1.3 1.2 0 1.3 1.2 3.7 0 2.5 2.5 1.2 0 1.3 1.2 1.2 0 1.2-1.2 1.3 1.2 1.2 0z" clip-path="url(#p42eccacd5f)" style="fill: #efe51c; stroke: #615252; stroke-opacity: 0.8; stroke-width: 0.9"/>
</g>
<g id="matplotlib.axis_5">
<g id="xtick_5">
<g id="line2d_25">
<g>
<use href="#mfb5e76a77d" x="456.6" y="227.4" style="stroke: #000000; stroke-width: 0.9"/>
</g>
</g>
</g>
<g id="xtick_6">
<g id="line2d_26">
<g>
<use href="#mfb5e76a77d" x="530.9" y="227.4" style="stroke: #000000; stroke-width: 0.9"/>
</g>
</g>
</g>
<g id="xtick_7">
<g id="line2d_27">
<g>
<use href="#mfb5e76a77d" x="605.2" y="227.4" style="stroke: #000000; stroke-width: 0.9"/>
</g>
</g>
</g>
<g id="xtick_8">
<g id="line2d_28">
<g>
<use href="#mfb5e76a77d" x="679.5" y="227.4" style="stroke: #000000; stroke-width: 0.9"/>
</g>
</g>
</g>
</g>
<g id="matplotlib.axis_6">
<g id="ytick_13">
<g id="line2d_29">
<g>
<use href="#m0a2475117b" x="456.6" y="208.8" style="stroke: #000000; stroke-width: 0.9"/>
</g>
</g>
</g>
<g id="ytick_14">
<g id="line2d_30">
<g>
<use href="#m0a2475117b" x="456.6" y="171.7" style="stroke: #000000; stroke-width: 0.9"/>
</g>
</g>
</g>
<g id="ytick_15">
<g id="line2d_31">
<g>
<use href="#m0a2475117b" x="456.6" y="134.5" style="stroke: #000000; stroke-width: 0.9"/>
</g>
</g>
</g>
<g id="ytick_16">
<g id="line2d_32">
<g>
<use href="#m0a2475117b" x="456.6" y="97.4" style="stroke: #000000; stroke-width: 0.9"/>
</g>
</g>
</g>
<g id="ytick_17">
<g id="line2d_33">
<g>
<use href="#m0a2475117b" x="456.6" y="60.2" style="stroke: #000000; stroke-width: 0.9"/>
</g>
</g>
</g>
<g id="ytick_18">
<g id="line2d_34">
<g>
<use href="#m0a2475117b" x="456.6" y="23.1" style="stroke: #000000; stroke-width: 0.9"/>
</g>
</g>
</g>
</g>
<g id="line2d_35">
<path d="M560.6 134.5l-.4-5.1-1.4-5-3.6-6.9-3.3-4-4-3.3-6.8-3.6-5-1.3-5.2-.5-5.2 .5-5 1.3-6.8 3.6-4 3.3-3.3 4-3.6 6.9-1.4 5-.4 5.1 .4 5.2 1.4 5 3.6 6.9 3.3 3.9 4 3.4 6.8 3.6 5 1.3 5.2 .4 5.2-.4 5-1.3 6.8-3.6 4-3.4 3.3-3.9 3.6-6.9 1.4-5 .4-5.2" clip-path="url(#p42eccacd5f)" style="fill: none; stroke-dasharray: 3.72,1.92; stroke-dashoffset: 0; stroke: #000000; stroke-width: 1.2"/>
</g>
<g id="line2d_36">
<path d="M590.3 134.5l-.5-8.2-.8-4.1-1-4.1-2.8-7.8-3.9-7.3-4.9-6.7-2.7-3.1-6.2-5.5-6.9-4.7-3.6-1.9-3.8-1.7-7.9-2.5-4.1-.9-8.2-.9-4.2 0-8.2 .9-4.1 .9-7.9 2.5-7.4 3.6-3.5 2.2-3.4 2.5-6.2 5.5-2.7 3.1-4.9 6.7-3.9 7.3-2.8 7.8-1 4.1-.8 4.1-.5 8.2 .5 8.3 .8 4.1 1 4 2.8 7.8 3.9 7.3 4.9 6.7 2.7 3.1 6.2 5.6 6.9 4.6 3.6 1.9 3.8 1.7 7.9 2.6 4.1 .9 8.2 .8 4.2 0 8.2-.8 4.1-.9 7.9-2.6 7.4-3.6 3.5-2.2 3.4-2.4 6.2-5.6 2.7-3.1 4.9-6.7 3.9-7.3 2.8-7.8 1-4 .8-4.1 .5-8.3" clip-path="url(#p42eccacd5f)" style="fill: none; stroke-dasharray: 3.72,1.92; stroke-dashoffset: 0; stroke: #000000; stroke-width: 1.2"/>
</g>
<g id="line2d_37">
<path d="M620.1 134.5l-.5-9.3-1.5-9.2-4-13.4-3.8-8.6-4.6-8-5.5-7.6-6.3-6.9-6.9-6.3-7.5-5.5-8.1-4.6-8.5-3.8-13.5-4-9.2-1.4-9.3-.5-9.3 .5-9.2 1.4-13.5 4-8.5 3.8-8.1 4.6-7.5 5.5-6.9 6.3-6.3 6.9-5.5 7.6-4.6 8-3.8 8.6-4 13.4-1.5 9.2-.5 9.3 .5 9.3 1.5 9.3 4 13.4 3.8 8.5 4.6 8.1 5.5 7.5 6.3 7 6.9 6.2 7.5 5.5 8.1 4.7 8.5 3.8 13.5 3.9 9.2 1.5 9.3 .5 9.3-.5 9.2-1.5 13.5-3.9 8.5-3.8 8.1-4.7 7.5-5.5 6.9-6.2 6.3-7 5.5-7.5 4.6-8.1 3.8-8.5 4-13.4 1.5-9.3 .5-9.3" clip-path="url(#p42eccacd5f)" style="fill: none; stroke-dasharray: 3.72,1.92; stroke-dashoffset: 0; stroke: #000000; stroke-width: 1.2"/>
</g>
<g id="line2d_38">
<path d="M649.8 134.5l-.7-12.4-1.9-12.3-3.2-12-2.1-5.9-5.1-11.3-6.2-10.8-7.3-10.1-8.3-9.2-9.3-8.4-10.1-7.3-10.7-6.2-11.4-5.1-5.9-2-12-3.3-12.3-1.9-12.4-.7-12.4 .7-12.3 1.9-12 3.3-5.9 2-11.4 5.1-10.7 6.2-10.1 7.3-9.3 8.4-8.3 9.2-7.3 10.1-6.2 10.8-5.1 11.3-2.1 5.9-3.2 12-1.9 12.3-.7 12.4 .7 12.5 1.9 12.2 3.2 12.1 2.1 5.8 5.1 11.4 6.2 10.8 7.3 10 8.3 9.3 9.3 8.3 10.1 7.3 10.7 6.2 11.4 5.1 5.9 2.1 12 3.2 12.3 2 12.4 .6 12.4-.6 12.3-2 12-3.2 5.9-2.1 11.4-5.1 10.7-6.2 10.1-7.3 9.3-8.3 8.3-9.3 7.3-10 6.2-10.8 5.1-11.4 2.1-5.8 3.2-12.1 1.9-12.2 .7-12.5" clip-path="url(#p42eccacd5f)" style="fill: none; stroke-dasharray: 3.72,1.92; stroke-dashoffset: 0; stroke: #000000; stroke-width: 1.2"/>
</g>
<g id="line2d_39">
<path d="M679.5 134.5l-.4-10.3-1-10.4-1.8-10.2-2.6-10-3.2-9.9-3.8-9.6-4.6-9.3-5.2-9-5.8-8.6-6.4-8.2-6.9-7.7-7.5-7.2-7.9-6.7-8.4-6.1-8.8-5.5-13.4-6.8M470-1l-8.9 4.3-8.9 5.2-8.6 5.8-8.2 6.4-7.7 6.9-7.2 7.5-6.7 7.9-6.1 8.4-5.5 8.8-4.9 9.2-4.2 9.5-3.5 9.7-2.9 10-2.1 10.1-1.9 15.5-.4 10.3 .4 10.4 1 10.3 1.8 10.2 2.6 10.1 3.2 9.8 3.8 9.7 4.6 9.3 8 13.3 6.1 8.4 6.7 8 7.2 7.4 7.7 7 8.2 6.3 8.6 5.8 8.9 5.2 9.4 4.6 9.6 3.9 9.8 3.2 10.1 2.5 10.2 1.8 15.5 1.3 10.4 0 10.3-.7 10.3-1.4 10.1-2.2 10-2.8 9.8-3.6 9.4-4.2 9.2-4.9 8.8-5.5 8.4-6.1 7.9-6.6 7.5-7.2 10.2-11.8 6.1-8.4 5.5-8.8 4.9-9.1 4.2-9.5 3.5-9.8 2.9-9.9 2.1-10.2 1.5-10.2 .8-15.6" clip-path="url(#p42eccacd5f)" style="fill: none; stroke-dasharray: 3.72,1.92; stroke-dashoffset: 0; stroke: #000000; stroke-width: 1.2"/>
</g>
<g id="line2d_40">
<path d="M456.6 134.5l222.9 0" clip-path="url(#p42eccacd5f)" style="fill: none; stroke: #000000; stroke-width: 1.5; stroke-linecap: square"/>
</g>
<g id="line2d_41">
<path d="M530.9 227.4l0-222.9" clip-path="url(#p42eccacd5f)" style="fill: none; stroke: #000000; stroke-width: 1.5; stroke-linecap: square"/>
</g>
<g id="patch_33">
<path d="M456.6 227.4l0-222.9" style="fill: none; stroke: #000000; stroke-width: 0.9; stroke-linejoin: miter; stroke-linecap: square"/>
</g>
<g id="patch_34">
<path d="M679.5 227.4l0-222.9" style="fill: none; stroke: #000000; stroke-width: 0.9; stroke-linejoin: miter; stroke-linecap: square"/>
</g>
<g id="patch_35">
<path d="M456.6 227.4l222.9 0" style="fill: none; stroke: #000000; stroke-width: 0.9; stroke-linejoin: miter; stroke-linecap: square"/>
</g>
<g id="patch_36">
<path d="M456.6 4.5l222.9 0" style="fill: none; stroke: #000000; stroke-width: 0.9; stroke-linejoin: miter; stroke-linecap: square"/>
</g>
<g id="line2d_42">
<path d="M530.9 72.6" clip-path="url(#p42eccacd5f)" style="fill: none; stroke: #ff0000; stroke-width: 1.5; stroke-linecap: square"/>
<g clip-path="url(#p42eccacd5f)">
<use href="#m2eb061f581" x="530.9" y="72.6" style="fill: #ff0000; stroke: #ff0000; stroke-width: 2.1"/>
</g>
</g>
<g id="PathCollection_2">
<defs>
<path id="m4749da2731" d="M 0 1.6 C 0.4 1.6 0.8 1.4 1.1 1.1 C 1.4 0.8 1.6 0.4 1.6 0 C 1.6 -0.4 1.4 -0.8 1.1 -1.1 C 0.8 -1.4 0.4 -1.6 0 -1.6 C -0.4 -1.6 -0.8 -1.4 -1.1 -1.1 C -1.4 -0.8 -1.6 -0.4 -1.6 0 C -1.6 0.4 -1.4 0.8 -1.1 1.1 C -0.8 1.4 -0.4 1.6 0 1.6 z"/>
</defs>
<g clip-path="url(#p42eccacd5f)">
<use href="#m4749da2731" x="494" y="29.3"/>
<use href="#m4749da2731" x="504.3" y="31.5"/>
<use href="#m4749da2731" x="519.8" y="35"/>
<use href="#m4749da2731" x="505.6" y="41.1"/>
<use href="#m4749da2731" x="505.1" y="51.6"/>
<use href="#m4749da2731" x="507.2" y="50.6"/>
<use href="#m4749da2731" x="503.8" y="58.5"/>
<use href="#m4749da2731" x="514.7" y="60.6"/>
<use href="#m4749da2731" x="544.7" y="42.8"/>
<use href="#m4749da2731" x="541" y="54.8"/>
<use href="#m4749da2731" x="544.7" y="56.4"/>
<use href="#m4749da2731" x="540.1" y="60.6"/>
<use href="#m4749da2731" x="541.2" y="62.2"/>
<use href="#m4749da2731" x="528.5" y="61.2"/>
<use href="#m4749da2731" x="527.4" y="67.1"/>
<use href="#m4749da2731" x="529.5" y="69.1"/>
<use href="#m4749da2731" x="531.1" y="71.3"/>
<use href="#m4749da2731" x="534.3" y="70.3"/>
<use href="#m4749da2731" x="541.7" y="73.5"/>
<use href="#m4749da2731" x="551.5" y="27.5"/>
<use href="#m4749da2731" x="555.8" y="26.5"/>
<use href="#m4749da2731" x="569.4" y="33.7"/>
<use href="#m4749da2731" x="580.5" y="32.9"/>
<use href="#m4749da2731" x="575.7" y="41.6"/>
<use href="#m4749da2731" x="557.9" y="48.6"/>
<use href="#m4749da2731" x="550.7" y="58.4"/>
<use href="#m4749da2731" x="555.5" y="61.6"/>
<use href="#m4749da2731" x="559.5" y="62.5"/>
<use href="#m4749da2731" x="561.9" y="61.8"/>
<use href="#m4749da2731" x="564.3" y="61.3"/>
<use href="#m4749da2731" x="566.6" y="60.8"/>
<use href="#m4749da2731" x="549.1" y="65.7"/>
<use href="#m4749da2731" x="572.6" y="56"/>
<use href="#m4749da2731" x="581.8" y="62.9"/>
<use href="#m4749da2731" x="585.3" y="65.7"/>
<use href="#m4749da2731" x="593.8" y="65.7"/>
<use href="#m4749da2731" x="605.7" y="64.5"/>
<use href="#m4749da2731" x="583.4" y="70"/>
<use href="#m4749da2731" x="574.6" y="76.1"/>
<use href="#m4749da2731" x="555.5" y="76.9"/>
<use href="#m4749da2731" x="557.1" y="78.5"/>
<use href="#m4749da2731" x="558.7" y="79.6"/>
<use href="#m4749da2731" x="538" y="80.4"/>
<use href="#m4749da2731" x="528.9" y="82"/>
<use href="#m4749da2731" x="555.5" y="83.6"/>
<use href="#m4749da2731" x="557.1" y="86"/>
<use href="#m4749da2731" x="540.3" y="86"/>
<use href="#m4749da2731" x="551.5" y="88.7"/>
<use href="#m4749da2731" x="535.6" y="87.6"/>
<use href="#m4749da2731" x="536.3" y="89.9"/>
<use href="#m4749da2731" x="582.6" y="85.2"/>
<use href="#m4749da2731" x="581.8" y="89.9"/>
<use href="#m4749da2731" x="585.8" y="88.7"/>
<use href="#m4749da2731" x="583.4" y="92.4"/>
<use href="#m4749da2731" x="586.6" y="93.1"/>
<use href="#m4749da2731" x="577" y="88.4"/>
<use href="#m4749da2731" x="596.1" y="89.9"/>
<use href="#m4749da2731" x="599.3" y="84.4"/>
<use href="#m4749da2731" x="533.2" y="93.1"/>
<use href="#m4749da2731" x="544.3" y="91.6"/>
<use href="#m4749da2731" x="545.2" y="93.5"/>
<use href="#m4749da2731" x="542" y="98"/>
<use href="#m4749da2731" x="560.2" y="98"/>
<use href="#m4749da2731" x="561.1" y="101.2"/>
<use href="#m4749da2731" x="538.8" y="100.3"/>
<use href="#m4749da2731" x="549.1" y="101.9"/>
<use href="#m4749da2731" x="612.1" y="101.2"/>
<use href="#m4749da2731" x="533.9" y="84.1"/>
<use href="#m4749da2731" x="533.5" y="95.5"/>
<use href="#m4749da2731" x="525.8" y="96.3"/>
<use href="#m4749da2731" x="541" y="99.5"/>
<use href="#m4749da2731" x="542.6" y="103.5"/>
<use href="#m4749da2731" x="540.3" y="101.9"/>
<use href="#m4749da2731" x="537.1" y="108.3"/>
<use href="#m4749da2731" x="547.4" y="109.9"/>
<use href="#m4749da2731" x="550.6" y="105.1"/>
<use href="#m4749da2731" x="561" y="109.9"/>
<use href="#m4749da2731" x="573.7" y="114.7"/>
<use href="#m4749da2731" x="558.5" y="117.9"/>
<use href="#m4749da2731" x="553.8" y="122.6"/>
<use href="#m4749da2731" x="554.9" y="124.3"/>
<use href="#m4749da2731" x="573.7" y="125"/>
<use href="#m4749da2731" x="531.5" y="129"/>
<use href="#m4749da2731" x="564.1" y="135.4"/>
<use href="#m4749da2731" x="574.5" y="138.6"/>
<use href="#m4749da2731" x="563.4" y="147.4"/>
<use href="#m4749da2731" x="561" y="153.8"/>
<use href="#m4749da2731" x="561.7" y="155.3"/>
<use href="#m4749da2731" x="573.7" y="149.8"/>
<use href="#m4749da2731" x="584" y="82.4"/>
<use href="#m4749da2731" x="596.2" y="91.6"/>
<use href="#m4749da2731" x="587.9" y="105.1"/>
<use href="#m4749da2731" x="613.4" y="105.1"/>
<use href="#m4749da2731" x="619.8" y="103.5"/>
<use href="#m4749da2731" x="585.5" y="113.9"/>
<use href="#m4749da2731" x="586.3" y="115.5"/>
<use href="#m4749da2731" x="592.7" y="120.3"/>
<use href="#m4749da2731" x="609.4" y="117.1"/>
<use href="#m4749da2731" x="623" y="121.1"/>
<use href="#m4749da2731" x="621.7" y="122.6"/>
<use href="#m4749da2731" x="587.1" y="131.4"/>
<use href="#m4749da2731" x="589.5" y="135.4"/>
<use href="#m4749da2731" x="575.2" y="137"/>
<use href="#m4749da2731" x="575.9" y="140.2"/>
<use href="#m4749da2731" x="584" y="137.8"/>
<use href="#m4749da2731" x="585.5" y="143.4"/>
<use href="#m4749da2731" x="579.1" y="143.4"/>
<use href="#m4749da2731" x="595.1" y="140.2"/>
<use href="#m4749da2731" x="597.5" y="142.5"/>
<use href="#m4749da2731" x="603" y="135.7"/>
<use href="#m4749da2731" x="629.3" y="141"/>
<use href="#m4749da2731" x="602.2" y="146.6"/>
<use href="#m4749da2731" x="607.1" y="148.1"/>
<use href="#m4749da2731" x="580.8" y="151.3"/>
<use href="#m4749da2731" x="582.3" y="153"/>
<use href="#m4749da2731" x="596.7" y="153.7"/>
<use href="#m4749da2731" x="599" y="156.1"/>
<use href="#m4749da2731" x="611" y="153.7"/>
<use href="#m4749da2731" x="560" y="156"/>
<use href="#m4749da2731" x="560" y="162"/>
<use href="#m4749da2731" x="583.9" y="154.1"/>
<use href="#m4749da2731" x="618.9" y="162.3"/>
<use href="#m4749da2731" x="575.9" y="167.1"/>
<use href="#m4749da2731" x="583.9" y="168.7"/>
<use href="#m4749da2731" x="584.6" y="171.1"/>
<use href="#m4749da2731" x="587.1" y="166.3"/>
<use href="#m4749da2731" x="588.6" y="171.9"/>
<use href="#m4749da2731" x="587.1" y="175.9"/>
<use href="#m4749da2731" x="564.7" y="173.5"/>
<use href="#m4749da2731" x="609.4" y="167.1"/>
<use href="#m4749da2731" x="608.5" y="169.5"/>
<use href="#m4749da2731" x="581.5" y="179.8"/>
<use href="#m4749da2731" x="583.1" y="182.3"/>
<use href="#m4749da2731" x="574.3" y="183"/>
<use href="#m4749da2731" x="595.8" y="185.5"/>
<use href="#m4749da2731" x="602.2" y="182.7"/>
<use href="#m4749da2731" x="599.5" y="199.8"/>
</g>
</g>
</g>
<g id="axes_4">
<g id="patch_37">
<path d="M695.1 227.4l11.3 0 0-222.9-11.3 0z" style="fill: #ffffff"/>
</g>
<g id="patch_38">
<path d="M695.1 227.4l11.3 0 0-14.5-11.3 0z" clip-path="url(#p87b4551f37)" style="fill: #460a5d"/>
</g>
<g id="patch_39">
<path d="M695.1 216.3l11.3 0 0-14.5-11.3 0z" clip-path="url(#p87b4551f37)" style="fill: #481c6e"/>
</g>
<g id="patch_40">
<path d="M695.1 205.1l11.3 0 0-14.5-11.3 0z" clip-path="url(#p87b4551f37)" style="fill: #472d7b"/>
</g>
<g id="patch_41">
<path d="M695.1 194l11.3 0 0-14.5-11.3 0z" clip-path="url(#p87b4551f37)" style="fill: #443b84"/>
</g>
<g id="patch_42">
<path d="M695.1 182.8l11.3 0 0-14.5-11.3 0z" clip-path="url(#p87b4551f37)" style="fill: #3e4a89"/>
</g>
<g id="patch_43">
<path d="M695.1 171.7l11.3 0 0-14.5-11.3 0z" clip-path="url(#p87b4551f37)" style="fill: #38598c"/>
</g>
<g id="patch_44">
<path d="M695.1 160.5l11.3 0 0-14.5-11.3 0z" clip-path="url(#p87b4551f37)" style="fill: #31668e"/>
</g>
<g id="patch_45">
<path d="M695.1 149.4l11.3 0 0-14.5-11.3 0z" clip-path="url(#p87b4551f37)" style="fill: #2c728e"/>
</g>
<g id="patch_46">
<path d="M695.1 138.2l11.3 0 0-14.4-11.3 0z" clip-path="url(#p87b4551f37)" style="fill: #277e8e"/>
</g>
<g id="patch_47">
<path d="M695.1 127.1l11.3 0 0-14.5-11.3 0z" clip-path="url(#p87b4551f37)" style="fill: #238a8d"/>
</g>
<g id="patch_48">
<path d="M695.1 116l11.3 0 0-14.5-11.3 0z" clip-path="url(#p87b4551f37)" style="fill: #1f968b"/>
</g>
<g id="patch_49">
<path d="M695.1 104.8l11.3 0 0-14.5-11.3 0z" clip-path="url(#p87b4551f37)" style="fill: #1fa287"/>
</g>
<g id="patch_50">
<path d="M695.1 93.7l11.3 0 0-14.5-11.3 0z" clip-path="url(#p87b4551f37)" style="fill: #28ae80"/>
</g>
<g id="patch_51">
<path d="M695.1 82.5l11.3 0 0-14.5-11.3 0z" clip-path="url(#p87b4551f37)" style="fill: #38b977"/>
</g>
<g id="patch_52">
<path d="M695.1 71.4l11.3 0 0-14.5-11.3 0z" clip-path="url(#p87b4551f37)" style="fill: #50c46a"/>
</g>
<g id="patch_53">
<path d="M695.1 60.2l11.3 0 0-14.5-11.3 0z" clip-path="url(#p87b4551f37)" style="fill: #6ccd5a"/>
</g>
<g id="patch_54">
<path d="M695.1 49.1l11.3 0 0-14.5-11.3 0z" clip-path="url(#p87b4551f37)" style="fill: #8bd646"/>
</g>
<g id="patch_55">
<path d="M695.1 37.9l11.3 0 0-14.5-11.3 0z" clip-path="url(#p87b4551f37)" style="fill: #addc30"/>
</g>
<g id="patch_56">
<path d="M695.1 26.8l11.3 0 0-14.5-11.3 0z" clip-path="url(#p87b4551f37)" style="fill: #cde11d"/>
</g>
<g id="patch_57">
<path d="M695.1 15.6l11.3 0 0-11.1-11.3 0z" clip-path="url(#p87b4551f37)" style="fill: #efe51c"/>
</g>
<g id="matplotlib.axis_7"/>
<g id="matplotlib.axis_8">
<g id="ytick_19">
<g id="line2d_43">
<g>
<use href="#m253cf10b20" x="706.4" y="227.4" style="stroke: #000000; stroke-width: 0.9"/>
</g>
</g>
</g>
<g id="ytick_20">
<g id="line2d_44">
<g>
<use href="#m253cf10b20" x="706.4" y="182.8" style="stroke: #000000; stroke-width: 0.9"/>
</g>
</g>
</g>
<g id="ytick_21">
<g id="line2d_45">
<g>
<use href="#m253cf10b20" x="706.4" y="138.2" style="stroke: #000000; stroke-width: 0.9"/>
</g>
</g>
</g>
<g id="ytick_22">
<g id="line2d_46">
<g>
<use href="#m253cf10b20" x="706.4" y="93.7" style="stroke: #000000; stroke-width: 0.9"/>
</g>
</g>
</g>
<g id="ytick_23">
<g id="line2d_47">
<g>
<use href="#m253cf10b20" x="706.4" y="49.1" style="stroke: #000000; stroke-width: 0.9"/>
</g>
</g>
</g>
<g id="ytick_24">
<g id="line2d_48">
<g>
<use href="#m253cf10b20" x="706.4" y="4.5" style="stroke: #000000; stroke-width: 0.9"/>
</g>
</g>
</g>
</g>
<g id="patch_58">
<path d="M695.1 227.4l0-222.9" style="fill: none; stroke: #000000; stroke-width: 0.9; stroke-linejoin: miter; stroke-linecap: square"/>
</g>
<g id="patch_59">
<path d="M706.4 227.4l0-222.9" style="fill: none; stroke: #000000; stroke-width: 0.9; stroke-linejoin: miter; stroke-linecap: square"/>
</g>
<g id="patch_60">
<path d="M695.1 227.4l11.3 0" style="fill: none; stroke: #000000; stroke-width: 0.9; stroke-linejoin: miter; stroke-linecap: square"/>
</g>
<g id="patch_61">
<path d="M695.1 4.5l11.3 0" style="fill: none; stroke: #000000; stroke-width: 0.9; stroke-linejoin: miter; stroke-linecap: square"/>
</g>
</g>
<g id="axes_5">
<g id="patch_62">
<path d="M56.5 526l222.8 0 0-223-222.8 0z" style="fill: #ffffff"/>
</g>
<g id="QuadContourSet_3">
<path d="M113.4 419.8l.4-.3-.5 0zM119.6 420.2l.4-.7-.4-5-1.2 .2-.6 1 0 1.3 1.4 1.2-.6 1.3zM129.5 415.9l2.5-2.6 .2-1.3-2.7-5.6-1.2 1.9 .4 1.2-.5 2.5 1.2 3.7zM118.4 413.8l.3-3-.3-3.7 .3-1.3-.3-.4-.5 .4 .2 1.3-1.1 0-1.1-2.7-2.1-1 1.6-1.3-.7-.6-2.5-.3-1.1 .9-1.4 2.3-1.2-.6-1.4 .8-.6 1.2 1.3 1.3 .7 2.4 1.2-1.2-1-1.2 1-2.1 1.3 0 .5 .8-.1 2.5 .8 .5 1.2-1.4 1.3-.5 .4 .2-.2 1.2 1 2.1 1.3-1.1 .9 .2-.5 1.3 .6 2.5zM118.4 402.4l0-.8-.7 .5zM111 400.1l1.2 .1 .8-1.8-.8-1-1.2 .9-.4 1.3zM120.9 399.7l1.2 .3 .3-.4 .5-1.2-.6-1.2 1-1.5 1 .2 .1 1.3 .3 0 1-3.8-1.1-.9-2.5 1-1.2 1-1.3 2.3-1.2-.5-.3 .9 .3 1.6 1.2-1.5 1.3 .4 .4 .7-.5 1.2zM134.5 394.3l.2-.9-.4 0zM120.9 392.3l2.1-1.3-.9-.8-1.2 .4-.3 .4 .2 1.2zM132 391.9l1.9-.9 .5-1.3-1.2-.5-.3-.7 1.6-1.9 .8-1.8-.8-.2-1.3 1.4-2.4 1-.3 1.5 .3 .6 1.6 .6-1.2 1.3zM144.4 387.4l.7-1.4-.7-1.5-.6 1.5 .4 1.2zM137 385.1l0-1.6-.9 1.3zM143.1 382.7l1.3-.1 0-.7-1.4 .4z" clip-path="url(#p9298c22aac)" style="fill: #460a5d; stroke: #615252; stroke-opacity: 0.8; stroke-width: 0.9"/>
<path d="M174.1 467.3l.7-.8-.7-.5-.4 .5zM175.3 465.7l1.3-.2 0-.6-1.5 .4zM169.1 462.7l2.5-1.9 1.3 0 0-1-2.5 .2-1.3-.6-.5 2.2zM156.8 460.4l.3-1.3-.3-.7-.6 .7 .3 1.2zM162.9 460l.6-2.1-.6-.3-.2 .3-.5 1.2zM167.9 458.4l1.2 .6 .7-1.1 0-1.3-.7-.6-1 .6-.6 1.3zM145.6 451.3l0-1.5-.7 .6zM179 450.6l1.1-1.4-.6-1.2-.2-5-1.3-1.2 .4-2.5-.6-2.7-.5 .2-.4 1.2-1.6 1-1.2 1.5 1.2 .1 1.3-.8 .6 .7 .5 1.3-.9 1.2 1 4.3 .6 .7-.1 1.2 .5 1.2zM138.2 448.2l1.2-.2-1.2-.4-.2 .4zM144.4 448.4l.5-.4 0-1.3-.5-.8-.4 2.1zM151.8 446.4l.3-.9-.3-.5-.4 .5zM155.5 446.2l1.3-.5 1.2 .1 .3-.3 .4-2.5-.5-1.2 1-2.1 1.5-.4-.2-1-1.3 .9-1.2-.5-1.2 .2-.5-.9 .8-1.2-1.6-.5-.8-.7 .1-1.3-.5-.9-.7 .9 .2 3.7-.4 2.5 .7 3.7 1 1.3zM98.6 443.4l1.2 .5 1.3-.5 .3-1.6-.3-.8-1.6-.5 .7-1.2-.4-1-1.4 1 .1 3.7zM120.9 443.1l1.2 .2 0-.7-1.2-.3-.1 .7zM150.6 443.4l.7-.4-.4-1.2 1.2-1.3-.8-1.2 0-1.3 .6-1.2-1.6-1.2 .8-2.5-.5-.5-1.5 .5-.4-1.3 1.9-1.4 1.2-2.3-1-1.2 1-.7 1.2 1.5 2.1-2.1 .4-1 1.8 2.3-.2 1.2 2 1.3-.2 1.2 1.6 .8 1.2-1.8 1.2-.9 1.3 .3 1.2-1.4 .4 .5-.1 1.3 2.2 1.2-1.1 1.2 0 1.3 1.1 .4 1.2-.9 .7 .5-.4 2.5 1.2 1.2 .3 1.2-.4 1.3 .7 1.2-.1 2.5 .5 .5 .5-.5 .3-1.2-.2-5-.5-1.2 1.2-1.6 .5 .3 .4 2.5 1.5 0 1.3-1.2 .4-1.3-1.7-1.2 1-2.5-1-2.2 .1-1.5 1-1.3-1.1-.9 0-.5 1.3-.4 1.2-1.2 2.5 1.3 .9-2-.5-1.2 .8-2.4 2.1-.1 0 2.5 .4 .1 .5-1.3-.2-1.3 .7-1.2-.5-2.5-1 0-1.7 2.5-.3 1-.4-1-1.1-1.3 .9-1.2 .2-1.2-2.1-1.2-1.2 .5-2-3.1 .9-1.2 .2-1.2-1.4-1.3 .7-1.2 1.6 0-.1 1.2 1.3 1 1.5-2.2-.5-1.2 .3-2 1.2-.7 1.3-.1 1.2-1.1 .5 .1-.5 2.2-.6 .3 1.8 .5 .9-1.7-1.4-2.5 1.1-1.2-.6-1.2-1.2 .2-.2-.3 1.7-2.5-.3-.7-1.5-.5 .7-2.5-2.1-1.2 .5-1.9 .9-.6-1.4-1.2 .1-2.5-.9-1.1-1.2-.1-.5 1.2 .4 6.2 .6 1.2-.5 2-1.3 .8-.7-.3-.9-1.2-2.6-1.3 .5-.8 0-1-1.2-.6-1.2 .4-.2-.5 .8-1.2-.6-.8-.1-1.7 1.3 .8 .6-2-.8-1.3 .6-1.2 0-1.2-.4-.8-1.2 1-.5-1.5-1.5-1.2-.5-1.5-1.3-.6-1.2 .3-2.5 1.4-.4-2.1-1.3-1.2 .1-1.3-1-2.4 .7-2.5-.6-2.1-.6 3.3-.6 .6-1.2-.3-1.3 .4-1.2 1.5-1.2-.2-.1 .5-1.2 1.1-.6-1.1 .6-.9 1.3-.4 .5-1.2-.5-.9-1.3 1.7-1.2-.2-.5-.6 .1-2.5-1.3-1.2 .5-1.2-.1-.7-1.2-.5-1.7-.1-.8-1.1-.5 2.4 .2 1.2-.7 1.2 .1 1.3 .8 1.2-1.1 1.3-.5-1.3 .4-1.2-1.1-.8-1.3 0-1.2 1.7-.7-.9 .9-1.3-1.5-1.1-1.5-.1 1-1.2-.7-1.2-1.2 .6-1.3 0-1.2 1.4-2.5-1.6-.7 .8 0 2.4-.5 1.4-1.3 .4-3.2-1.8 0-2.4-.5-.4-.6 .4-.6 1.2 .8 1.2-.8 2.2-1.2 .6-1.3-.2-2.5 2.8-1.2 3-2.5 .7-.7 2.1 .9 6.2-.2 1.2-1.2 2.3-1.2-.9-1.3 .3-1.2-.8-.5 .4 .2 1.2-1 1.1-1.2 .4-1.2-1.6-1.3 .9-.7 1.7 .6 1.2-1.5 3.7 .4 1.3-.8 1.2-.5 .3-2.4-.6-.5 2.8-.8 1.9-1.2 0-1.2-1.9-1.4 1.2 .9 1.3-.7 1.2-.1 1.3 .3 2.4-.3 2.5 .6 1.2-.6 1.5-2.5-1.2-1.2-3-1.2-.3-1.3 1.6-1.2-.1-1.2 .5-2.5-.3-.5 1.3 1 2.5-.4 1.3 1.1 1.2-.5 2.5 .5 1.2-.4 2.5 .4 .7 1.5 .5-2.4 3.7 .9 .9 1.4 .4-1.4 1.1-.9 1.4 .9 .3 1.3-1 1.2 .1 1 .6-.1 1.2 .3 .5 .7-.5 .6-2.5 1.2 1 1.2-.2 1.3-.9 1.6 .1 .9 1.5 1.2-.7 1.2 .4 1.3-2.3 1.2-.5 .5 .4 .1 1.2 .6 1.1 1.3-.1 .5 .3-.5 1.2 .2 5 1.5 2.4 .8 3.8 3.7 .2 1.2-2.2 .8-.5-1.4-1.3 .1-2.4-1.3-2.5 1.1-1.3 1.8-1.2 .7-3.7 .7-.5 .5 1.7 3.2 1.6 1 .9 0 2.5 2.7 .5 .1 2 1.2 1.5 .8-2.8-.2-2.5 .6-.9 1.2 .8 3.7 7.3 1.3 .1 1.2-1.8 1.3 .1 1 .6 .2 .7 .5-3.1 2.4-2.5 .3-1.3-.9-1.2 1.4-1.9 .4 .7-.2 1.2 1 .9 1.1 .3 .2 1.3 1.1-1.3-.2-1.2 .3-.5 0 1.7 1.3 2.4-.3 1.4 .2 1.2 1.4 1.2-.1 2 2.1 .5 .3 1.3-.9 1.2zM112 435.6l.8 0-.6 .2zM112 431.8l-.6-2.4-.9-1.3 .5-1.2 1.2-.9 .7 .9-.2 1.2 .7 1.3-.2 1.2-1 1.4zM128.1 428.1l.2-1.5 .4 .3-.4 1.5zM94.8 426.9l1.3-.7 .3 .7-1.5 1.2zM100.8 426.9l1.5-.4 .1 .4-1.3 1zM139.4 426.9l.3 0-.3 .1zM140.4 425.6l.6-1.2 .9-.3 .5 .3-.5 1.3-1.2 .3zM128.2 424.4l.1-.8 0 .9zM131.8 424.4l.2-1.4 1.2-.4 1.3-1.1 .4 .4-.7 1.3-2.2 1.4zM138.3 424.4l1.1-1.9 .5 1.9-.5 .2zM144.3 423.2l1.3-2.5 .5 1.2-.5 1.6-1.2-.1zM161.5 423.2l.2-.4 0 .5zM178.7 421.9l.3-.2 0 .7zM137.1 420.7l1.1-2.3 .7 1.1 .2 1.2-.9 .8zM165.1 420.7l.3-1.7 .5 .5-.5 1.4zM113.3 419.5l.5 0-.4 .3zM118.6 419.5l.6-1.3-1.4-1.2 0-1.3 .6-1 1.2-.2 .4 5-.4 .7zM144 419.5l-.3-1.3 .4-1.2-1.1-1.3-.3-1.2 .5-1.2 1.2-1.3 1.2 .6 1.3-.4 1.2-1.9 .6 .5 .3 1.2-.5 1.3-.4 .4-1.2-.1-1.7 2.1 .8 2.5-1.6 2.2zM129.4 415.7l-1.2-3.7 .5-2.5-.4-1.2 1.2-1.9 2.7 5.6-.2 1.3-2.5 2.6zM118.2 413.3l-.6-2.5 .5-1.3-.9-.2-1.3 1.1-1-2.1 .2-1.2-.4-.2-1.3 .5-1.2 1.4-.8-.5 .1-2.5-.5-.8-1.3 0-1 2.1 1 1.2-1.2 1.2-.7-2.4-1.3-1.3 .6-1.2 1.4-.8 1.2 .6 1.4-2.3 1.1-.9 2.5 .3 .7 .6-1.6 1.3 2.1 1 1.1 2.7 1.1 0-.2-1.3 .5-.4 .3 .4-.3 1.3 .3 3.7-.3 3zM174 404.6l.1-1.5 .7 .3-.7 1.6zM103.1 403.4l.4-.4 0 .7zM117.7 402.1l.7-.5 0 .8zM110.6 399.6l.4-1.3 1.2-.9 .8 1-.8 1.8-1.2-.1zM120.8 399.6l.5-1.2-.4-.7-1.3-.4-1.2 1.5-.3-1.6 .3-.9 1.2 .5 1.3-2.3 1.2-1 2.5-1 1.1 .9-1 3.8-.3 0-.1-1.3-1-.2-1 1.5 .6 1.2-.5 1.2-.3 .4-1.2-.3zM180 398.4l.3-.4 .9 .4-.9 1zM180.1 394.7l.2-1.4 0 1.5zM134.3 393.4l.4 0-.2 .9zM120.8 392.2l-.2-1.2 .3-.4 1.2-.4 .9 .8-2.1 1.3zM172.2 392.2l.7-1.7 1.2 0 .3 .5-.8 1.2-.7 .5zM131.2 391l1.2-1.3-1.6-.6-.3-.6 .3-1.5 2.4-1 1.3-1.4 .8 .2-.8 1.8-1.6 1.9 .3 .7 1.2 .5-.5 1.3-1.9 .9zM162.9 391l-.7-3.8 .6-1.2-1.7-1.2 0-1.3 .6-.8 1.2 .1 .3 .7-.2 2.5 .9 3.7-1 2zM144.2 387.2l-.4-1.2 .6-1.5 .7 1.5-.7 1.4zM136.1 384.8l.9-1.3 0 1.6zM143 382.3l1.4-.4 0 .7-1.3 .1zM151.8 381l.6-1.2-.6-.1-.8-1.1-.1-1.3 .9-2.2 2.5 3.3 1.2-1.1 .7 1.3-.7 3.3-1.2-.8-1.3 .7-1.2-.6zM154.8 374.9l.7-.8 .7 .8-.7 .9zM133.6 369.9l.9-1 .4 1-.4 .8zM161.3 369.9l.4-.8 .5 .8-.5 .4zM120.9 440.6l.2-1.3-.2-.5-.2 .5 .2 1.2zM97.3 437.3l3.8-2.6 1-1.6-1-.4-3.5 1.6-.5 2.5zM103.5 437.1l.9-.3 .7-2.5-1-1.2 1-2.5-.3-.4-1.3-.8-.9 1.2-.5 1.2 .3 1.3 1 1.2-.1 2.5zM124.6 436.9l.4-.1-.6 0zM161.7 437.4l0-.8-.5 .2zM160.5 435.3l1-1 .2-1.2-1.2-.7-.7 1.9zM181.5 434.9l.9-.6 .4-.9 1.2 0 1.6-1.6-1.6-.1-1.2 1.3-1.3 .2-.5 1.1zM97.3 433l.7-1.2-.7-1.1-.3 1.1zM87.4 431.2l1.4-.6-.5-1.2 .1-2.5-1-1-1.2 0-.5 2.2 1.4 1.3-.3 1.2zM99.8 430.9l.5-.3-.5-.7-.7 .7zM120.9 430.7l0-.5-.1 .4zM86.2 425.3l.3-.9-.3-1.2-.6 1.2zM190.2 414.6l0-.5-.2 .4zM182.8 413.2l.1-1.2-.3 0zM188.9 412.6l1.3-.6 .4-1.2-.4-1.3-.9-1.2 .8-2.5-1.1-1.2-.1-1.3-.2 1.3-.8 1.2 0 1.3 1 2.4-.6 1.3 .3 1.2zM182.8 403.5l.2-.1-.2-.9-.9 .9zM187.7 391.5l.5-.5 .1-1.3-.6-3.7-.8 2.5 .5 1.2-.1 1.3zM180.3 381l.9-1.2 .2-1.2-.3-3.7-.8-.8-.5 .8-.2 1.2 .5 1.2-.9 2.5zM176.6 378l.7-.7-.7-.6-.7 .6zM158 366.4l1.2 .2 .7-1.7-.7-.2-1.6 1.5zM156.8 363.7l.3-1.2-.5 0zM161.7 362.7l1.2 1 .8-1.2 .1-1.3-.8-1.2 0-1.2-1.4 3.7zM145.6 359.1l.4-.3-.6 0zM149.3 357.9l.6-1.6-.6-.6-.6 .6 .1 1.2z" clip-path="url(#p9298c22aac)" style="fill: #481c6e; stroke: #615252; stroke-opacity: 0.8; stroke-width: 0.9"/>
<path d="M164.2 480.5l2.3-2.8-1.1-1.3 2.5-3.6 1.2-.4 1.3 .3 1.2-1.5 1.4 1.5 .6 1.3-.2 1.2 .7 1.1 2.5-.8 .8-1.5 .4-1.8 1.2-.7 1.3 .4 .6-.4 .7-1.3 3.9-3.7-2.7 .3-.4-.3 1.7-2.4 2.4-1.6 .5-2.2-.6-1.2 1-1.2 .3-.4 1.2 1.2 1.3 .1 2.1-2.2-1-1.2 .9-1.3 .2-1.2-1.2-1.2-.3-2.5-.7-.3-.6-.9 .1-2.5-.8-.9-1.2 0-1.2 2.4-.2-1.5-.7-1.3 .9-.7 1.2 .7 1.2-.2 1.3-2.3 1.2 2.2 1.3-.3 .6-.6 1-5-.7-2.4 2-3.8-1.6-1.2 2.4-1.3 1.2 1.5 .1-3.9-1.3-.2-1.3 .8-1.2 .2-1.2 1.6-1.2-1.2 .5-1.2 1.9-.4 1.2-1.1 1.3-.5 1.2-1.2 .3-1.8-1.2-1.2 .3-1.2-.6-1.6-1.3 1.2-1.1-.9 1.1-2.5 1.3 0 .9-1.2 0-1.2-.5-1.3 .2-3.7-.5-1.2 0-1.3-.8-1.2-.6-2.5-1.2-.2-.8-1 .5-1.3-.9-1-1.3-.2 4.4-5-.4-2.4 .7-2.5-1.2-1.3 .4-1.2-.1-1.2-1-1.3 .2-1.2-.5-1-2.5 .4-1.2 1.3-1.3-.2-.6-1.8-.4-3.7-.5-1.2 .4-3.7-.3-2.5 1.4-.8 .8 .8-.7 1.2 1.2 1 .7-1-.5-3.7-.2-.4-2.5 .9-.8-.5-.2-1.2 .3-1.3-.5-.4-.9 .4-.7 1.3-3.4 1.3-.8-2.6-1.6-1.2 .5-1.2-.6-.7-1.2 1.6-1.2-.1-1.3 .6-.2-.2 .8-1.2 0-1.3-1.4-1.2 .1-1.2-.5-.7-1.2-.8-2.5 2.1-.5-.6 .1-1.3-.9-.8-1.2 .3-.6-.7 .2-1.3-2.1-.4-1.2 .5-.3-1.3-1.2-1.2-1-2-2.5 .2-.5 1.8-.7 .6-1.2-.2-.4-.4 .4-1.1 2.4-1.8 1.6-2.1-.3-.5-1.3-.2-2.4 2.7-1.1-.8 .3-2.4 .8-1.1 1.2 .5 1.2-.7 .1-1.2-1.3-1.2-1.2 2.2-1.4-1 1.4-2.1 1.1-.4-2.4-.4-1.2 1.4-.8 5.2 1.8 1.2-2.3 1.8-1.2-.7-1.2 .6-1-.4-.2-1.3 .4-1.2-1.7-.3-1.2 .7-1.4-1.6-.3-1.3-.8-1-.8 1-.4 1.3-1.3 .2-1.2 .8-1.3-.2-1.2-1-.7 1.4-.3 2.5 .5 3.7-.7 1.9-1.3-1.3-1.2 0-2.5 1.4-1.2 1.3-1.2-.8-1.3-1.7-1.2 1-.9-.6 .2-1.2-.6-.9-1.2 .2-1.3 1-1.2 0-1.2 1.3-1.3-.1-1.2-1.4-.7 2.4 .3 1.2-.5 1.3 .2 1.2 1.2 1.2-.3 1.3 1 .4 1.3-1 .7 .6 0 1.2-.7 1.1-1.3 .5-3.7 4-.5 4.3 .8 1.3-2.1 2.4-1.9 3.4-2.5 1.2-2.9 2.9-.8 4.5-1.5 1.7-1 2.9-1.2 1.1-1.2-.7-3.3 1.6-1.7 2.4-1.2 .5-.5 .8 .1 1.3-.9 1.1-2.4-.2-2.5 1.1-1.3 1.1-2.4 .2-1.3 2.6-3.7 2.4-1.2-.3-1.3 3.8-1.2-.1-1.1-.6 .6-1.2-.7-.8-1.3 .6-1.4 .2-.2 1.2-.8 1.2-1.3-.2-1.2-1.4-1.3 1-1.7 .7-1 1.2 .3 1.1 .5 .1 0 1.3-1 1.2 .5 .7 2.6-.7 .2 1.3-.4 .8-1.9 1.6 .7 .9 1.2-.6 1.3 .6 .3 .4-.4 1.2 1.3 1.2 1.1-1.2 .2-1.4 1.5-1.1 .4-1.2-.3-2.5 .8-1 1.3 1-.7 1.3 1.4 1.2-.7 3.4-2.2 .3 2.2 0 1.2 1-.4 1.5-.8 .9-2.2 .3-1.5 2.1-1.3 .6-.4 1 .3 5 2.6-.3 .1 .3-.3 1.2-1.7 1.3 .2 1.2 .5 .7 1.3-.7 1.1 2.5 1.2 1.2-.7 1.3 .8 .9 1.2-.2 .3 .5-.3 1-2.5 .6-.8 .9 .5 4.9-.1 1.3 1.2 2.5-.2 1.2 .7 .4 2.4-2.5 1.3 .3 1.2-.7 1.3 1.9 1.2 .2 1.2-1.4 1.3 .1 .5-.8 .6-2.5-.3-1.2 .4-1 .8 1 1.7 .6 2.5-2.7 1.2-.8 1.2-.2 .7 .6 .1 2.5 1.2 1.2-.2 1.3 .7 .7 1.3-2-.8-1.2 .7-1.6 1.3 2.1 1.2-.8 .7 .3 .6 .7 .1 1.8 1.1 .5 1.2-.7 .4 .2-.4 2.5 1.5 1.2 1 4 2.2-.3-1.6-1.2 4.4-3.9 .3 .2 0 2.4 .9 .7 2.5-2.3 1.2 2.4 1.3-.1 1 .6-.1 1.2 .9 1.3 .6 1.8 .6-.6-.1-1.2 .8-1.2 2.4 .4 .8-.5-1.7-1.2 2.2-2 1.2 0 1.3-1.1 0 1.4-2.1 1.7 .8 .6 1.3-1.5 1.5 .9 .9 3.7 .3-1.2 1-1 1.2-.7 1.1 .4 1.8 1.3 .2 2.4 .6 1.3 1.3 0 1.1-2.5-2.1-1.2 .4-2.5-.6-1.3 .7-2.4-.7-1.3 0-1.2 1.2-1.4 1.1 1.4 0 1.2 1.9 1.3 .7 1.2 1.2 .2 1.2-1.7 1.3-.7 .5 1-.1 1.2 .8 1 5-2.9 .3 .7-.3 1-1.5 1.4 .1 2.5-.6 1.3-.5 .6-1.2-.2-2.5 3-.9-1 .3-1.2-.7-.9-2.1-.3 .9-.4 .7-.9 .6-1.2 0-1.3-1.3 .6-1.8 1.9-.8 1.3 .1 .9 1.3-.6 1.3 3.4-2.6 .6-.7 .6 1.5 1.2-1 1.3 .1 1.2 1.4 .3 2.4-2 1.3-1.6 1.2 0 .8 .8-.2 1.3 .7 1.2 .7-1.2-.2-3.7 .4-1.3 .3-.3 1.2 .2 .5 .1-.9 2.5 2.8 1.2-.9 1.3 2.2 1.2 1.7-1.2-.1-1.3 .9-1.6 1 1.6-.1 1.3 2.3 1.2 0 1.3 1.3 2.4 .2 2.5 .3 .3 1.2-.5 .8 .2 .9 1.3zM167 470.2l.9-1.8 .7 .6-.2 1.2-.5 .4zM173.7 466.5l.4-.5 .7 .5-.7 .8zM175.1 465.3l1.5-.4 0 .6-1.3 .2zM168.6 461.6l.5-2.2 1.3 .6 2.5-.2 0 1-1.3 0-2.5 1.9zM156.5 460.3l-.3-1.2 .6-.7 .3 .7-.3 1.3zM162.2 459.1l.5-1.2 .2-.3 .6 .3-.6 2.1zM167.5 457.9l.6-1.3 1-.6 .7 .6 0 1.3-.7 1.1-1.2-.6zM113.9 456.6l.8-1.3 0 1.6zM75.7 455.4l1.8-1.6 .6 .3-.6 2-1.2 .3zM125.7 455.4l1.4-2.4 .9 1.1-.9 1.6-1.3-.2zM75.4 451.7l.9-2.1 1.2 .6-.1 1.5-1.1 .9zM144.9 450.4l.7-.6 0 1.5zM178.8 450.4l-.5-1.2 .1-1.2-.6-.7-1-4.3 .9-1.2-.5-1.3-.6-.7-1.3 .8-1.2-.1 1.2-1.5 1.6-1 .4-1.2 .5-.2 .6 2.7-.4 2.5 1.3 1.2 .2 5 .6 1.2-1.1 1.4zM138 448l.2-.4 1.2 .4-1.2 .2zM144 448l.4-2.1 .5 .8 0 1.3-.5 .4zM151.4 445.5l.4-.5 .3 .5-.3 .9zM155.1 445.5l-1-1.3-.7-3.7 .4-2.5-.2-3.7 .7-.9 .5 .9-.1 1.3 .8 .7 1.6 .5-.8 1.2 .5 .9 1.2-.2 1.2 .5 1.3-.9 .2 1-1.5 .4-1 2.1 .5 1.2-.4 2.5-.3 .3-1.2-.1-1.3 .5zM82.1 444.2l-.3-1.2 .6-1.2-1.1-1-1.3 .1-.7-.4 .7-1.9 1.3-.7 1.2-1.4 .6 1.5-.5 3.8 .4 1.2-.5 1.4zM98.5 443l-.1-3.7 1.4-1 .4 1-.7 1.2 1.6 .5 .3 .8-.3 1.6-1.3 .5-1.2-.5zM120.8 443l.1-.7 1.2 .3 0 .7-1.2-.2zM149.6 443l.9-1.2-.3-1.3-2.1-.5 .1-2-1.4-1.2-.2-1.2 .3-1.4-1.3-2.4 0-1.7-.3 .5 .2 1.2-1.1 1.3-.2-1.3-1.1-.3-1-.9 .2-1.2-.4-.7-1.4 1.9 .9 1.2-.3 1.3-2.4 2.5-.5 3.1-.2-.7-1-.6-1.3-.1-1.2 1.8-1.3-.1-3.7-7.3-1.2-.8-.6 .9 .2 2.5-.8 2.8-1.2-1.5-.1-2-2.7-.5 0-2.5-1-.9-3.2-1.6-.5-1.7-.7 .5-.7 3.7-1.8 1.2-1.1 1.3 1.3 2.5-.1 2.4 1.4 1.3-.8 .5-1.2 2.2-3.7-.2-.8-3.8-1.5-2.4-.2-5 .5-1.2-.5-.3-1.3 .1-.6-1.1-.1-1.2-.5-.4-1.2 .5-1.3 2.3-1.2-.4-1.2 .7-.9-1.5-1.6-.1-1.3 .9-1.2 .2-1.2-1-.6 2.5-.7 .5-.3-.5 .1-1.2-1-.6-1.2-.1-1.3 1-.9-.3 .9-1.4 1.4-1.1-1.4-.4-.9-.9 2.4-3.7-1.5-.5-.4-.7 .4-2.5-.5-1.2 .5-2.5-1.1-1.2 .4-1.3-1-2.5 .5-1.3 2.5 .3 1.2-.5 1.2 .1 1.3-1.6 1.2 .3 1.2 3 2.5 1.2 .6-1.5-.6-1.2 .3-2.5-.3-2.4 .1-1.3 .7-1.2-.9-1.3 1.4-1.2 1.2 1.9 1.2 0 .8-1.9 .5-2.8 2.4 .6 .5-.3 .8-1.2-.4-1.3 1.5-3.7-.6-1.2 .7-1.7 1.3-.9 1.2 1.6 1.2-.4 1-1.1-.2-1.2 .5-.4 1.2 .8 1.3-.3 1.2 .9 1.2-2.3 .2-1.2-.9-6.2 .7-2.1 2.5-.7 1.2-3 2.5-2.8 1.3 .2 1.2-.6 .8-2.2-.8-1.2 .6-1.2 .6-.4 .5 .4 0 2.4 3.2 1.8 1.3-.4 .5-1.4 0-2.4 .7-.8 2.5 1.6 1.2-1.4 1.3 0 1.2-.6 .7 1.2-1 1.2 1.5 .1 1.5 1.1-.9 1.3 .7 .9 1.2-1.7 1.3 0 1.1 .8-.4 1.2 .5 1.3 1.1-1.3-.8-1.2-.1-1.3 .7-1.2-.2-1.2 .5-2.4 .8 1.1 1.7 .1 1.2 .5 .1 .7-.5 1.2 1.3 1.2-.1 2.5 .5 .6 1.2 .2 1.3-1.7 .5 .9-.5 1.2-1.3 .4-.6 .9 .6 1.1 1.2-1.1 .1-.5 1.2 .2 1.2-1.5 1.3-.4 1.2 .3 .6-.6 .6-3.3 .6 2.1-.7 2.5 1 2.4-.1 1.3 1.3 1.2 .4 2.1 2.5-1.4 1.2-.3 1.3 .6 .5 1.5 1.5 1.2 .5 1.5 1.2-1 .4 .8 0 1.2-.6 1.2 .8 1.3-.6 2-1.3-.8 .1 1.7 .6 .8-.8 1.2 .2 .5 1.2-.4 1.2 .6 0 1-.5 .8 2.6 1.3 .9 1.2 .7 .3 1.3-.8 .5-2-.6-1.2-.4-6.2 .5-1.2 1.2 .1 .9 1.1-.1 2.5 1.4 1.2-.9 .6-.5 1.9 2.1 1.2-.7 2.5 1.5 .5 .3 .7-1.7 2.5 .2 .3 1.2-.2 .6 1.2-1.1 1.2 1.4 2.5-.9 1.7-1.8-.5 .6-.3 .5-2.2-.5-.1-1.2 1.1-1.3 .1-1.2 .7-.3 2 .5 1.2-1.5 2.2-1.3-1 .1-1.2-1.6 0-.7 1.2 1.4 1.3-.2 1.2-.9 1.2 2 3.1 1.2-.5 2.1 1.2-.2 1.2-.9 1.2 1.1 1.3 .4 1 .3-1 1.7-2.5 1 0 .5 2.5-.7 1.2 .2 1.3-.5 1.3-.4-.1 0-2.5-2.1 .1-.8 2.4 .5 1.2-.9 2-2.5-1.3-1.2 1.2-1.3 .4 0 .5 1.1 .9-1 1.3-.1 1.5 1 2.2-1 2.5 1.7 1.2-.4 1.3-1.3 1.2-1.5 0-.4-2.5-.5-.3-1.2 1.6 .5 1.2 .2 5-.3 1.2-.5 .5-.5-.5 .1-2.5-.7-1.2 .4-1.3-.3-1.2-1.2-1.2 .4-2.5-.7-.5-1.2 .9-1.1-.4 0-1.3 1.1-1.2-2.2-1.2 .1-1.3-.4-.5-1.2 1.4-1.3-.3-1.2 .9-1.2 1.8-1.6-.8 .2-1.2-2-1.3 .2-1.2-1.8-2.3-.4 1-2.1 2.1-1.2-1.5-1 .7 1 1.2-1.2 2.3-1.9 1.4 .4 1.3 1.5-.5 .5 .5-.8 2.5 1.6 1.2-.6 1.2 0 1.3 .8 1.2-1.2 1.3 .4 1.2-.7 .4zM120.9 440.5l-.2-1.2 .2-.5 .2 .5-.2 1.3zM85.2 439.3l-1.3-3.7 1.1-1.8 1 .5-.3 2.5 1.1 1.2-.6 2.3zM97.1 436.8l.5-2.5 3.5-1.6 1 .4-1 1.6-3.8 2.6zM103.3 436.8l.1-2.5-1-1.2-.3-1.3 .5-1.2 .9-1.2 1.3 .8 .3 .4-1 2.5 1 1.2-.7 2.5-.9 .3zM124.4 436.8l.6 0-.4 .1zM161.2 436.8l.5-.2 0 .8zM159.8 434.3l.7-1.9 1.2 .7-.2 1.2-1 1zM181 434.3l.5-1.1 1.3-.2 1.2-1.3 1.6 .1-1.6 1.6-1.2 0-.4 .9-.9 .6zM78.5 431.8l.3-.4 0 .9zM97 431.8l.3-1.1 .7 1.1-.7 1.2zM86.8 430.6l.3-1.2-1.4-1.3 .5-2.2 1.2 0 1 1-.1 2.5 .5 1.2-1.4 .6zM99.1 430.6l.7-.7 .5 .7-.5 .3zM120.8 430.6l.1-.4 0 .5zM85.6 424.4l.6-1.2 .3 1.2-.3 .9zM188.5 424.4l-.1-1.2 .5-1 1 1 .3 1 1.2-.3 .4 .5-2.9 1zM192.3 423.2l.7 0-.3 .3zM194.2 421.9l.9-1 .7 1-.7 .8zM71.3 417l-.3-1.3 .4-2.2 .3 1 1.1 1.2-1.4 1.4zM76.8 415.7l.7-1.4 .3 .2 .6 1.2-.9 .9zM190 414.5l.2-.4 0 .5zM182.6 412l.3 0-.1 1.2zM188.6 412l-.3-1.2 .6-1.3-1-2.4 0-1.3 .8-1.2 .2-1.3 .1 1.3 1.1 1.2-.8 2.5 .9 1.2 .4 1.3-.4 1.2-1.3 .6zM181.9 403.4l.9-.9 .2 .9-.2 .1zM187.3 391l.1-1.3-.5-1.2 .8-2.5 .6 3.7-.1 1.3-.5 .5zM179.2 379.8l.9-2.5-.5-1.2 .2-1.2 .5-.8 .8 .8 .3 3.7-.2 1.2-.9 1.2zM175.9 377.3l.7-.6 .7 .6-.7 .7zM169.9 367.4l.5-1.3 1.2-.4 .3 .5-.3 .9-1.2 .6zM157.6 366.2l1.6-1.5 .7 .2-.7 1.7-1.2-.2zM156.6 362.5l.5 0-.3 1.2zM161.6 362.5l1.4-3.7 0 1.2 .8 1.2-.1 1.3-.8 1.2-1.2-1zM120.6 358.8l.3-.7 .3 .7-.3 .6zM145.4 358.8l.6 0-.4 .3zM148.8 357.5l-.1-1.2 .6-.6 .6 .6-.6 1.6zM170.4 478.1l.2-.4-.2-.6-.2 .6zM170.4 474.9l0-2.1-.1 1.2zM137 469.8l.4-.8-.4-1.2-.2 1.2zM92.4 466.8l2.5-.4 1.2 1.3 1.2-1.3 2.5-.7 .7-1.6-.8-1.3 0-2.5-3.6-1.9-2.5 3.1-1.2-.4-1.2 1.7 1.1 1.3-.1 2.4zM93.2 464.1l.4-.3 0 .3zM186.5 465.7l0-.7-.3 .3zM145.6 463l1.3 .4 .3-.6-.3-.5-1.3 .5zM85 460.3l.5-1.2-.5-.6-.5 .6zM102.3 459.6l.6-.5-.6-.9-.7 .9zM67.6 456.6l1.3 .1 .7-1.3-.1-1.3-.6-.5-1.2 1.8-.1 1.2zM65.2 453l2.4 .3 .6-.4 .7-.8 0-1.7-1.3-.3-.5 .3-.7 1.7-1.3 .8zM63.9 451l1.3 .3 .7-.9 .3-1.2-.2-1.2-1-1.3 0-1.2-1.1-.3-2.5 2.8 1.3 .1 1 1.1-.4 1.2zM66.4 435.7l1.2 .9 .3-2.3-.3-.4-.6 .4-.7 1.3zM112.2 435.8l.6-.2-.8 0zM112.2 432l1-1.4 .2-1.2-.7-1.3 .2-1.2-.7-.9-1.2 .9-.5 1.2 .9 1.3 .6 2.4zM66.4 431.6l1-1-1-.4-.3 .4zM70.1 428.5l.7-.4-.7-.8-.2 .8zM128.3 428.4l.4-1.5-.4-.3-.2 1.5zM71.4 427l1.7-1.4-.5-1.1-1.1 1.1-.4 1.3zM94.9 428.1l1.5-1.2-.3-.7-1.3 .7zM101.1 427.9l1.3-1-.1-.4-1.5 .4zM139.4 427l.3-.1-.3 0zM140.7 426l1.2-.3 .5-1.3-.5-.3-.9 .3-.6 1.2zM128.3 424.5l0-.9-.1 .8zM132 424.6l2.2-1.4 .7-1.3-.4-.4-1.3 1.1-1.2 .4-.2 1.4zM139.4 424.6l.5-.2-.5-1.9-1.1 1.9zM144.4 423.4l1.2 .1 .5-1.6-.5-1.2-1.3 2.5zM161.7 423.3l0-.5-.2 .4zM179 422.4l0-.7-.3 .2zM59 421l1.2-1.5 0-.5-1.2-.3-.3 2zM138.2 421.5l.9-.8-.2-1.2-.7-1.1-1.1 2.3zM165.4 420.9l.5-1.4-.5-.5-.3 1.7zM62.7 420.5l1.7-1-1-1.3 .3-1.2-.2-1.3-.8-.2-1.3 1.5 1.2 2.5zM144.4 420.4l1.6-2.2-.8-2.5 1.7-2.1 1.2 .1 .4-.4 .5-1.3-.3-1.2-.6-.5-1.2 1.9-1.3 .4-1.2-.6-1.2 1.3-.5 1.2 .3 1.2 1.1 1.3-.4 1.2 .3 1.3zM174.1 405l.7-1.6-.7-.3-.1 1.5zM103.5 403.7l0-.7-.4 .4zM198.8 403.6l1.3 .2 .4-.4-.1-1.3-.3-.3-.5 .3-.9 1.3zM180.3 399.4l.9-1-.9-.4-.3 .4zM180.3 394.8l0-1.5-.2 1.4zM172.9 392.7l.7-.5 .8-1.2-.3-.5-1.2 0-.7 1.7zM162.9 391.7l1-2-.9-3.7 .2-2.5-.3-.7-1.2-.1-.6 .8 0 1.3 1.7 1.2-.6 1.2 .7 3.8zM151.8 381.2l1.2 .6 1.3-.7 1.2 .8 .7-3.3-.7-1.3-1.2 1.1-2.5-3.3-.9 2.2 .1 1.3 .8 1.1 .6 .1-.6 1.2zM191.4 379.1l.3-.5-.3-1-.4 1zM155.5 375.8l.7-.9-.7-.8-.7 .8zM190.2 375.6l1.2-.2 .3-.5-.3-1.1-1.4 1.1zM134.5 370.7l.4-.8-.4-1-.9 1zM161.7 370.3l.5-.4-.5-.8-.4 .8zM132 352.8l.4-.2-.4-.8-.1 .8zM132 348.2l.5-.6-.8 0z" clip-path="url(#p9298c22aac)" style="fill: #472d7b; stroke: #615252; stroke-opacity: 0.8; stroke-width: 0.9"/>
<path d="M104.8 487.9l.4-.3-.4-.8-.9 .8zM148.1 488l2.5-.4 2.4-2 .6 2 .7 .7 2.5-2.4 3.7 1.1 2.4-2.4 1.3 .5 1.2-.4 3.7-2.7 1.3 1.3 1.2-.2 1.3-1.7 2.4-.7 1.3 .1 1.2-.6 1.2-2.4 2.5-.1 1.2-1.3 1.3 0 1.1-1.2 .1-.7 1.3-.3 .3-1.5 1.3-1.2 .8-2.7 1.3-1.5 .7-3.2 .5-.9 1.3-.5 2.4-3.4 1.7-1.4 .2-1.3-.4-1.2 1.1-2.5-.6-2.5 .4-1.2-.8-2.5 .9-1.4 1.1 1.4 .1 1 .3-3.5 .7-1.2-.5-2.5 .3-2.5-.3-2.4 .8-3.4 1.2 0 1.3-.9 1.2 .2 2.1-3.4-.9-.1-.4-1.1 .4-1 1.3-.6 .3 1.6-.3 1.2 1.2 .5 1.5-1.7 .2-1.3-1-1.2 .5-2.5-.9-6.2 .7-1.2 .1-1.2-.6-1.3 .7-1.2-.1-1.3-1.5-1.2 .1-1.2 .7-1.3-1.2-1.2-.1-3.7-.8-1.3 .5-2.4-.6-1.3 .1-2.5-.5-1.2 .2-2.5-.4-2.5 .7-1.2-.1-1.2-.9-1.3 1.5-1.3 .8 1.3-.2 1.3 .6 .6 1.2 .3 .4-.9-.1-2.5-.5-1.3-.5-6.1-.5-1.1-1.3-.2 .3-2.5-1.5 .5-.5-.5-.6-1.2 .2-1.2-1.1-1.3 .2-2.5-.6-.4-1.4 .4-.2-1.2 1.3-2.5-2.1-4.9-.1-1.6-1.3-.8-1.2 2-1.2-.2-.6 .6-1.2 2.5-.7 .4-1.2-.2-1.3 1.2-.1-1.4 1.4-.5 .4-.8-.4-1.2-1.3 .1-.9-1.4 .5-1.2-1.1-1.2-1-5-1.2 .5-1.2 1.2-1.3-1.1-1.2-.4-2.5-4.9-1.2 .8-1.3-.4-.4-.7 .1-1.2-.9-1.3-1.2 1.8-2.5 1.9-1.2-1-.7-3.9 0-2.5-.6-1.2 .3-1.2-.8-1.3-.7-2.7-2.5 1.1-2.5 2.3-1.2 0-1.3 2.8-2.4 .3-1.3-.1-.2-1.2-1-.7-1.2 .3-.5-.8-2-1.2-2.5 2.8-2.5 .5-.4-.9 .4-1.2-1.1-1.3-.5-1.2-.8-.6-.7 1.8 .3 2.5-.9 .8-1.5-.8 1-1.2-.7-.7-2.5 .4-.8-1-.1-1.2-.3-.1-.4 1.3 .3 2.5-.5 1.2 .2 1.3-.9 2.1-1.2-1.1-2.5 1-1.1-.8 .3-1.2-.4-1-2.8 2.2 .3 .8 1.2-.2 .5 .7-.5 .4-1.2 0-1.2-.5-1.3 3.8-1.2 .2-1.2 2.9-1.3 .4-1.2-1 .3-1.3-.3-.2-3 .2-2 2.7-1.2 .1-1.2 1.2-2.5 3.2-1.3 .7-1.2-1-1.2 .3-.8 2.7-.5 .6-1.2 .1-.7 3.1 .7 .5 1.3-.5 .1 1.2-.6 1.2 1.7 .4 .4 2.1 1.1 2.5-.4 1.2 .7 2.5-1.3 3.7 .7 1.3-1.2 1.7-1.3 .8-1.2 1.5-1.6 .9-1 1.2-1.1 2.5-1 1.3-.1 1.2-1.4 2.6-1.2 .6-6.2 5-1.7 3-4.5 1.6-2.5 1.8-1.2 .2-3.7 3.6-1.3 .4-1.2-.7-2.5 2.3-1.2-.6-2.5 .6-2.5 2.3-1.2-.7-3.7 .8-1.3 .7-3.7 1.1-1.2-.4-1.2 .6-1.3 1.2 0 54.3 .5 .2-.5 2.6 3.2 6.1 .5 2.3 1.2-3.5-.4-1.3 .5-1.4 1.2-.2 3.4 1.6-.5 1.3 .8 .7 .6-.7-.5-1.3 .3-2.5-.4-.8-1-.4 2-3.7-2-1.2 1-2.3 1.2-.1 .3 3.6 .8 1.2-.2 1.3 1.1 1.2 .2 2.5 .3 .2 1.3-.9 1.2 .1 1.2-2.3 1.3-.3 1.2 .2 1.2-2.3 .5 .3 .1 2.5 1.3 5 .8 1.2 0 1.2 2.3 .8 1.2 .8 1.1-2.8 .5 0 2.1 5 1.3-1 1.2 .3 5-5 1.6 .7 .1 1.2 .7 1.2 1.3-.7 0 .8-1.9 2.5 .6 1.3 1.5-.1-.7 2.5 1.7 2.3 1.3 .9 1.2-1.8 2.5-.3 1.2-1.2 1.2-.5 1.1-3.1-.6-1.3 .8-1.5 1.2 1.3 1.3 .1 1.2-1 .9 1.1-.7 1.3 1 1.4 2-1.4 .5-1.3-1.9-1.2 1.9-1 .4 1 .9 .7 1.2-.6 2.5 1.5 1.2-2.3 1.9 1.9 0 1.3 2.2 1.2-.2 1.2 .5 1.3 .6 .3 1.6-1.6 .8-2 1.3 .2 1.2-1.5 1.2 .2 1.3-.8 1.1 .2-1.3 1.3 1.9 1.2 0 1.2 .8 1.8 1.2-.4 1.2-1.3 1.3 0 1.2 1.6 2.5 .3 .6-2-.6-1.2 1.2-3.5 .6 2.3 1 1.2-.4 2.5 1.2 1.2-.2 2.5zM155.2 483.9l1.6-.5 .3 .5-.3 .7-1.3 .3zM163.4 480.2l-.9-1.3-.8-.2-1.2 .5-.3-.3-.2-2.5-1.3-2.4 0-1.3-2.3-1.2 .1-1.3-1-1.6-.9 1.6 .1 1.3-1.7 1.2-2.2-1.2 .9-1.3-2.8-1.2 .9-2.5-.5-.1-1.2-.2-.3 .3-.4 1.3 .2 3.7-.7 1.2-.7-1.2 .2-1.3-.8-.8-1.2 0-1.3 1.6-2.4 2-1.4-.3-.1-1.2 1-1.3-1.5-1.2 .7-.6 2.6-.6-1.3-3.4-1.3 .6-.1-.9 .8-1.3 1.8-1.9 1.3-.6 0 1.3-.6 1.2-.7 .9-.9 .4 2.1 .3 .7 .9-.3 1.2 .9 1 2.5-3 1.2 .2 .5-.6 .6-1.3-.1-2.5 1.5-1.4 .3-1-.3-.7-5 2.9-.8-1 .1-1.2-.5-1-1.3 .7-1.2 1.7-1.2-.2-.7-1.2-1.9-1.3 0-1.2-1.1-1.4-1.2 1.4 0 1.2 .7 1.3-.7 2.4 .6 1.3-.4 2.5 2.1 1.2-1.1 2.5-1.3 0-.6-1.3-.2-2.4-1.8-1.3-1.1-.4-1.2 .7-1 1-.3 1.2-.9-3.7-1.5-.9-1.3 1.5-.8-.6 2.1-1.7 0-1.4-1.3 1.1-1.2 0-2.2 2 1.7 1.2-.8 .5-2.4-.4-.8 1.2 .1 1.2-.6 .6-.6-1.8-.9-1.3 .1-1.2-1-.6-1.3 .1-1.2-2.4-2.5 2.3-.9-.7 0-2.4-.3-.2-4.4 3.9 1.6 1.2-2.2 .3-1-4-1.5-1.2 .4-2.5-.4-.2-1.2 .7-1.1-.5-.1-1.8-.6-.7-.7-.3-1.2 .8-1.3-2.1-.7 1.6 .8 1.2-1.3 2-.7-.7 .2-1.3-1.2-1.2-.1-2.5-.7-.6-1.2 .2-1.2 .8-2.5 2.7-1.7-.6-.8-1-.4 1 .3 1.2-.6 2.5-.5 .8-1.3-.1-1.2 1.4-1.2-.2-1.3-1.9-1.2 .7-1.3-.3-2.4 2.5-.7-.4 .2-1.2-1.2-2.5 .1-1.3-.5-4.9 .8-.9 2.5-.6 .3-1-.3-.5-1.2 .2-.8-.9 .7-1.3-1.2-1.2-1.1-2.5-1.3 .7-.5-.7-.2-1.2 1.7-1.3 .3-1.2-.1-.3-2.6 .3-.3-5 .4-1 1.3-.6 1.5-2.1 2.2-.3 .8-.9 .4-1.5-1.2-1-2.2 0 2.2-.3 .7-3.4-1.4-1.2 .7-1.3-1.3-1-.8 1 .3 2.5-.4 1.2-1.5 1.1-.2 1.4-1.1 1.2-1.3-1.2 .4-1.2-.3-.4-1.3-.6-1.2 .6-.7-.9 1.9-1.6 .4-.8-.2-1.3-2.6 .7-.5-.7 1-1.2 0-1.3-.5-.1-.3-1.1 1-1.2 1.7-.7 1.3-1 1.2 1.4 1.3 .2 .8-1.2 .2-1.2 1.4-.2 1.3-.6 .7 .8-.6 1.2 1.1 .6 1.2 .1 1.3-3.8 1.2 .3 3.7-2.4 1.3-2.6 2.4-.2 1.3-1.1 2.5-1.1 2.4 .2 .9-1.1-.1-1.3 .5-.8 1.2-.5 1.7-2.4 3.3-1.6 1.2 .7 1.2-1.1 1-2.9 1.5-1.7 .8-4.5 2.9-2.9 2.5-1.2 1.9-3.4 2.1-2.4-.8-1.3 .5-4.3 3.7-4 1.3-.5 .7-1.1 0-1.2-.7-.6-1.3 1-1-.4 .3-1.3-1.2-1.2-.2-1.2 .5-1.3-.3-1.2 .7-2.4 1.2 1.4 1.3 .1 1.2-1.3 1.2 0 1.3-1 1.2-.2 .6 .9-.2 1.2 .9 .6 1.2-1 1.3 1.7 1.2 .8 1.2-1.3 2.5-1.4 1.2 0 1.3 1.3 .7-1.9-.5-3.7 .3-2.5 .7-1.4 1.2 1 1.3 .2 1.2-.8 1.3-.2 .4-1.3 .8-1 .8 1 .3 1.3 1.4 1.6 1.2-.7 1.7 .3-.4 1.2 .2 1.3 1 .4 1.2-.6 1.2 .7 2.3-1.8-1.8-1.2 .8-5.2 1.2-1.4 2.4 .4-1.1 .4-1.4 2.1 1.4 1 1.2-2.2 1.3 1.2-.1 1.2-1.2 .7-1.2-.5-.8 1.1-.3 2.4 1.1 .8 2.4-2.7 1.3 .2 .3 .5-1.6 2.1-2.4 1.8-.4 1.1 .4 .4 1.2 .2 .7-.6 .5-1.8 2.5-.2 1 2 1.2 1.2 .3 1.3 1.2-.5 2.1 .4-.2 1.3 .6 .7 1.2-.3 .9 .8-.1 1.3 .5 .6 2.5-2.1 1.2 .8 .5 .7-.1 1.2 1.4 1.2 0 1.3-.8 1.2 .2 .2 1.3-.6 1.2 .1 1.2-1.6 .6 .7-.5 1.2 1.6 1.2 .8 2.6 3.4-1.3 .7-1.3 .9-.4 .5 .4-.3 1.3 .2 1.2 .8 .5 2.5-.9 .2 .4 .5 3.7-.7 1-1.2-1 .7-1.2-.8-.8-1.4 .8 .3 2.5-.4 3.7 .5 1.2 .4 3.7 .6 1.8 1.3 .2 1.2-1.3 2.5-.4 .5 1-.2 1.2 1 1.3 .1 1.2-.4 1.2 1.2 1.3-.7 2.5 .4 2.4-4.4 5 1.3 .2 .9 1-.5 1.3 .8 1 1.2 .2 .6 2.5 .8 1.2 0 1.3 .5 1.2-.2 3.7 .5 1.3 0 1.2-.9 1.2-1.3 0-1.1 2.5 1.1 .9 1.3-1.2 .6 1.6-.3 1.2 1.2 1.2-.3 1.8-1.2 1.2-1.3 .5-1.2 1.1-1.9 .4-.5 1.2 1.2 1.2 1.2-1.6 1.2-.2 1.3-.8 1.3 .2-.1 3.9-1.2-1.5-2.4 1.3 1.6 1.2-2 3.8 .7 2.4-1 5-.6 .6-1.3 .3-1.2-2.2-1.3 2.3-1.2 .2-1.2-.7-.9 .7 .7 1.3 .2 1.5 1.2-2.4 1.2 0 .8 .9-.1 2.5 .6 .9 .7 .3 .3 2.5 1.2 1.2-.2 1.2-.9 1.3 1 1.2-2.1 2.2-1.3-.1-1.2-1.2-.3 .4-1 1.2 .6 1.2-.5 2.2-2.4 1.6-1.7 2.4 .4 .3 2.7-.3-3.9 3.7-.7 1.3-.6 .4-1.3-.4-1.2 .7-.4 1.8-.8 1.5-2.5 .8-.7-1.1 .2-1.2-.6-1.3-1.4-1.5-1.2 1.5-1.3-.3-1.2 .4-2.5 3.6 1.1 1.3-2.3 2.8zM129.2 478.9l.3-.4 .5 .4-.5 .8zM151.4 478.9l.4-.4 .3 .4-.3 .6zM170.2 477.7l.2-.6 .2 .6-.2 .4zM90.6 475.2l.6-2.3 1.2 1.1-.2 1.2-1 .3zM106 475.2l1.2-.4 1.3 .3-1.3 .4zM112 475.2l.2-.6 0 .8zM170.3 474l.1-1.2 0 2.1zM136.8 469l.2-1.2 .4 1.2-.4 .8zM92.2 466.5l.1-2.4-1.1-1.3 1.2-1.7 1.2 .4 2.5-3.1 3.6 1.9 0 2.5 .8 1.3-.7 1.6-2.5 .7-1.2 1.3-1.2-1.3-2.5 .4zM186.2 465.3l.3-.3 0 .7zM145.6 462.8l1.3-.5 .3 .5-.3 .6-1.3-.4zM84.5 459.1l.5-.6 .5 .6-.5 1.2zM101.6 459.1l.7-.9 .6 .9-.6 .5zM67.6 456.6l.1-1.2 1.2-1.8 .6 .5 .1 1.3-.7 1.3-1.3-.1zM65.1 452.9l1.3-.8 .7-1.7 .5-.3 1.3 .3 0 1.7-.7 .8-.6 .4-2.4-.3zM63.3 450.4l.4-1.2-1-1.1-1.3-.1 2.5-2.8 1.1 .3 0 1.2 1 1.3 .2 1.2-.3 1.2-.7 .9-1.3-.3zM66.3 435.6l.7-1.3 .6-.4 .3 .4-.3 2.3-1.2-.9zM66.1 430.6l.3-.4 1 .4-1 1zM200 430.6l1.3 0-1.2 .6zM69.9 428.1l.2-.8 .7 .8-.7 .4zM71.1 426.9l.4-1.3 1.1-1.1 .5 1.1-1.7 1.4zM204.4 423.2l.6-2.5-2.1-1.2 .8-1.3 1.3-.8 .9 .8-.8 2.5 1.1 1.2-1.2 1.9zM58.7 420.7l.3-2 1.2 .3 0 .5-1.2 1.5zM62.6 419.5l-1.2-2.5 1.3-1.5 .8 .2 .2 1.3-.3 1.2 1 1.3-1.7 1zM198.7 403.4l.9-1.3 .5-.3 .3 .3 .1 1.3-.4 .4-1.3-.2zM202.3 394.7l.3-.7 0 .8zM191 378.6l.4-1 .3 1-.3 .5zM190 374.9l1.4-1.1 .3 1.1-.3 .5-1.2 .2zM198.8 367.4l-.4-1.2 .4-.7 .7 .7-.7 1.3zM196.7 360l-.2-1.2 1.1-1.3 .9 1.3-.9 1.9zM181.1 358.8l.4-.7 0 .9zM131.9 352.6l.1-.8 .4 .8-.4 .2zM131.7 347.6l.8 0-.5 .6zM168.9 346.4l1.5-1.3 0 1.6-1.3 0zM176.2 345.1l-.4-1.2 .8-.6 .6 .6-.6 1.3zM162.6 337.7l.3-.7 0 1.4zM165.8 335.2l.9-.7 .7 .7-.7 .5zM106 486.4l1.3 0 .3-1.3-.4-.5-1.3 1.8zM144.4 486.7l0-1.1-.2 .8zM93.6 484.2l.5-1.6-.4-1.2 .3-1.2-.4-.9-3.7 1.4-.2 .7 .2 1.3 1.3-.4 1.2-1.4 1.2 .5-.7 2.5zM111 482.9l0-.8-.4 .5zM109.7 480.2l.4 0-.4-.5-.3 .5zM76.3 470.7l.3-.5-.3-.4-.2 .4zM167.9 470.6l.5-.4 .2-1.2-.7-.6-.9 1.8zM93.6 464.1l0-.3-.4 .3zM114.7 456.9l0-1.6-.8 1.3zM76.3 456.4l1.2-.3 .6-2-.6-.3-1.8 1.6zM125.8 455.5l1.3 .2 .9-1.6-.9-1.1-1.4 2.4zM76.3 452.6l1.1-.9 .1-1.5-1.2-.6-.9 2.1zM82.5 444.4l.5-1.4-.4-1.2 .5-3.8-.6-1.5-1.2 1.4-1.3 .7-.7 1.9 .7 .4 1.3-.1 1.1 1-.6 1.2 .3 1.2zM86.2 440.3l.6-2.3-1.1-1.2 .3-2.5-1-.5-1.1 1.8 1.3 3.7zM78.8 432.3l0-.9-.3 .4zM188.9 425.4l2.9-1-.4-.5-1.2 .3-.3-1-1-1-.5 1 .1 1.2zM192.7 423.5l.3-.3-.7 0zM195.1 422.7l.7-.8-.7-1-.9 1zM71.4 417.1l1.4-1.4-1.1-1.2-.3-1-.4 2.2 .3 1.3zM77.5 416.6l.9-.9-.6-1.2-.3-.2-.7 1.4zM210 411.9l0-1.4-.6 .3zM170.4 367.7l1.2-.6 .3-.9-.3-.5-1.2 .4-.5 1.3zM108.5 362.7l.4-.2-.4-.5-.2 .5zM120.9 359.4l.3-.6-.3-.7-.3 .7zM177.8 338l.8-1.6-.8-.6-.8 .6 .1 1.3zM175.3 334.5l1.3 .5 1.2-.7 .1-1.6-1.3 .1-1.4 1.2zM153 331.8l1.3-.6 .3-.9-.3-.5-1.3 .2-.2 1.5zM158 328l2.5-1.8 .4-.9-1.3-3.7-1-1.3 0-1.2-1.8-.4-.6 1.6 .4 1.3 .1 3.7 1.1 1.2-.2 1.3zM153 327.1l.5-.6-.5-.6-.3 .6zM162.9 319.3l0-.6-.2 .4z" clip-path="url(#p9298c22aac)" style="fill: #443b84; stroke: #615252; stroke-opacity: 0.8; stroke-width: 0.9"/>
<path d="M108.5 506.3l1.2-1.4-.3-1.2 .3-.8 1.3-.4 1.2 2 .8-2-.2-2.5 .6-2.2 2.5-.9 1.3 .6 1.2 2.2 1.2-1.1 1.3-.1 1.2 1.7 .5-1.5 .7-.5 1.3-.1 2.5-2.4 1.2-.2 1.2-1.6 1.3 0 1.2 1.1 0 2.5 1.2-1.6 1.3-.2 1.2-3 1.3 .4 .6 .7 .6 2.2 2.5-1.4 2.4-.6 .2 1 1.1 1.5 1.2-.6 1.3-1.7 1.2-.2 1.2-1.3 1.3-.2 1.2 .8 1.2-.3 2 .8 .5 .6 1.3-1.9 1.2 .6 2.5-.6 1.2-1 1.2-2 2.5 .2 2.5-.7 .3-1.4 .9-1 1.3 .7 1.2-.1 3.7-2.6 1.3-.4 1.2 .2 1.2-1.3 2.5-.3 1.3-1.2 1.2 0 3.7-3.1 .4-.8 .1-1.3 .7-1.3 1.3-.1 .8-1 .1-1.3 1.3-2.5 1.5-.5 1.2-1.1 1.3 .1 1.7-3.4-.5-1.2 .5-1.3 2-1.7 .4-.8 .2-2.4 .6-2.2 1.3-1.5 .9-3.8 2.7-4.9-.7-1.3 .1-3.7 .7-3 4.4-3.2 1.1-2.5-.4-1.2 .6-2.5 0-2.5 .5-1.1 1.2-.2 1-3.6 .2-2.7 1-1-1.1-1.3 .1-2.8 .5 .4 .9 2.4 1.1 .7 1.6-1.9-2.1-2.5 .7-1.2 .1-1.3-.4-1.2 .7-2.5-1.6-1.2 1-2 2.5-2.3 1.2 .6-.4 2.5 1 1.2-.1 1.2 .7 1.3 1.3-.1 1.7-2.4 3.3-1.8 .2-.7-.2-5-2.5 .5-1.3 1.1-1.3-.3 1.3-1.7 1.3-.1 1.2-1.9-1.2-1-1.3 .9-1.2 1.9-1.2-1.8-1.3-.7-1.2 1.2-1.3 0-1.2 1.1-.5-.4 .5-1.4 1.2-.3 1.3-1.7 1.2-.2 1.3-.7 1.2-2.4 .8 .5-.2 1.3 .4 1.2 .2 .2 1.3-1 1.1-2.9-.6-1.3 3.5-3.7-1.5-.2-2.5 .8-.4-.6 .4-.9 1.2-.4 2.1-2.4-.8-.9-1.3-.3-1.2 .7-1.3-1-2.4 .9-.5-.6 0-2.5-1.4-6.2 .6-1.8 2.5-.8 .7-1.1 .5-1.3-.7-1.2 .7-2.4 2.5-.8 1.3-.1 .8 .8 .4 1.4 .3-2.6-.3-2.9-1.2 .1-3.8 2.7-.9-1.1 .9-1.5 1.3 .1 2.7-3.6-1.5 0-.8-1.2 .3-1.3-.7-1.1-2.5 .8-.3-.9 .4-1.3-.6-1.2 .3-2.5-.6-3.7 .6-1.2-1.1-1.3-.4-2.5-1-1.2 .2-1.4-2.9 .2-2 1.9-.7-.7 .2-1.2-.8-1-2.1 2.2-.1 1.2 .8 1.3-1 1.8-4.8 3.1-.2 1.3 .5 3.7 1.4 2.5 0 1.2-.3 1.3-1.6 .8-1-.8-.2-1.3 .2-1.2-.7-2.5 .3-2.5-1.1-.9-1.2 1.7-.6-.8-.1-1.2-.5-.6-1.7-.7 .1-1.2 1.3-1.2-1-1.1-1.2 .6-.9-.8-.4-1.8-2.4 2.3-.9-1.7 .4-1.3-1.7-1.2 .5-2.5-.8-.9-1.1-.3 .2-1.2-1.6-.6-2.5 2.2-.9-.4 .9-2.5-1.2-.8-1.2 .7-1.3 1.6-1.2-2.7-1.3 0 .1-1.6 .8-.9-2.1-1.2 .1-1.3-.5-1.2-.8-1.1-1-.2 1-.3 .3-.9-.3-1.4-2.5 1-.6-.8 .6-1.5 1.2-.4 1-1.8-1-.9-1.2 .5-.6-.9-.1-1.2-1-1.3 0-1.2 .7-1.2-2.7-.8-.4-.5 .4-1.2-1.2-.9-1 .9-1.5 3.8-1.7-2.6 .4-1.3-2.4 .6-2 2 .7 .7 1.5 .5-1.5 3.3-1.2 0-.7-.8 0-2.5-.6-.9-1.2-.8-2.5 .2-.3 1.5 .3 .5 1.3-.9 .1 .4-.9 2.5-1.7 1.4-.5-.2-.6-1.2 .4-1.3-.5-.5-1.3-.2-.8 2 .6 1.2 .1 1.3-1.1 1.1-1-1.1 .4-1.3-.7-.9-1.8-.3 1.7-1.3 .6-1.2-1.2-2.5 .8-1.2-.1-1.3-1.2-.6-2.1 1.9-.8 2.5 .4 .4 1.3-.7 .7 .3 .1 1.2-.8 1.2-1.3 .5-.4 .8-.4 1.2 .8 1.3-.8 1.2-.4 .5-1.2-.6-.7 2.6-1.3 2.4-.5 3-.4-.5 .1-1.2-1-.8-1.2 1.4-1.2-.1-1.3 .4-1.2 1.2-1-4.6-1.5-1.2-.7 1.2 .5 2.5-.4 2.5 .2 1.2-.8 2.1-2.5 1.7-.9-.1 .2-1.2-.5-1-1.3 .7 0 .7 1.1 .8-2.3 3.3-.8-.8 .2-1.2-.6-1-1.3 .1-.8-.4 .8-1.3-1.2-.4-1.1 .5 0 1.2 1 3.7 1.3-.3 .4 .3-.7 2.5 .6 1.2-.3 2.1-2.5 1.8-1.2-2.4-1.2-.6-2.8 2.9-1.9 1.2-.9 1.2-.8 2.5 .3 1.3-1.4 2.7-1.2-.4-1.2-1.2-1.3 .8-1.2-.3-3.7 2.7-.9 1.9 .2 2.4-.5 3.8 .5 2.4 .8 1.3 0 2.4 1.6 1.3-.1 1.2 1.6 1.3-.2 2.4 1.2 1.3-1.1 2.5-4.4 3.1-1.2 3-1.5 1.3 .5 1.2-1.5 .6-.5 1.9-2.5 2.5-.7 1.5-1.2 .1-.8 .9-1.6 3.7-1.3-.3-2.5 .6-2.5 2.8-1.2-.1-3.7 3.5-1.3 .7-2.2 .2-1.5 1.2-1.2-.7-2.5 .3-1.2 .3-1.3 1.3-3.7 .9-1.2-.5-5 2.6-1.2-1-1.3 .2-1.2 .9 0 4.4 1.3-1.2 1.2-.6 1.2 .4 3.7-1.1 1.3-.7 3.7-.8 1.2 .7 2.5-2.3 2.5-.6 1.2 .6 2.5-2.3 1.2 .7 1.3-.4 3.7-3.6 1.2-.2 2.5-1.8 4.5-1.6 1.7-3 6.2-5 1.2-.6 1.4-2.6 .1-1.2 1-1.3 1.1-2.5 1-1.2 1.6-.9 1.2-1.5 1.3-.8 1.2-1.7-.7-1.3 1.3-3.7-.7-2.5 .4-1.2-1.1-2.5-.4-2.1-1.7-.4 .6-1.2-.1-1.2-1.3 .5-.7-.5 .7-3.1 1.2-.1 .5-.6 .4-2.4 1.6-.6 1.2 1 1.3-.7 2.7-3.5 1-.9 1.2-.1 2.5-2.9 1.2 .3 1.3-.3 .3 .2-.3 1.3 1.2 1 1.3-.4 1.2-2.9 1.2-.2 1.3-3.8 1.2 .5 1.2 0 .5-.4-.5-.7-1.2 .2-.3-.8 2.8-2.2 .4 1-.3 1.2 1.1 .8 2.5-1 1.2 1.1 .9-2.1-.2-1.3 .5-1.2-.3-2.5 .4-1.3 .3 .1 .1 1.2 .8 1 2.5-.4 .7 .7-1 1.2 1.5 .8 .9-.8-.3-2.5 .7-1.8 .8 .6 .5 1.2 1.1 1.3-.4 1.2 .4 .9 2.5-.5 2.5-2.8 2 1.2 .5 .8 1.2-.3 1 .7 .2 1.2 1.3 .1 2.4-.3 1.3-2.8 1.2 0 2.5-2.3 2.5-1.1 .7 2.7 .8 1.3-.3 1.2 .6 1.2 0 2.5 .7 3.9 1.2 1 2.5-1.9 1.2-1.8 .9 1.3-.1 1.2 .4 .7 1.3 .4 1.2-.8 2.5 4.9 1.2 .4 1.3 1.1 1.2-1.2 1.2-.5 1 5 1.1 1.2-.5 1.2 .9 1.4 1.3-.1 .4 1.2-.4 .8-1.4 .5 .1 1.4 1.3-1.2 1.2 .2 .7-.4 1.2-2.5 .6-.6 1.2 .2 1.2-2 1.3 .8 .1 1.6 2.1 4.9-1.3 2.5 .2 1.2 1.4-.4 .6 .4-.2 2.5 1.1 1.3-.2 1.2 .6 1.2 .5 .5 1.5-.5-.3 2.5 1.3 .2 .5 1.1 .5 6.1 .5 1.3 .1 2.5-.4 .9-1.2-.3-.6-.6 .2-1.3-.8-1.3-1.5 1.3 .9 1.3 .1 1.2-.7 1.2 .4 2.5-.2 2.5 .5 1.2-.1 2.5 .6 1.3-.5 2.4 .8 1.3 .1 3.7 1.2 1.2-.7 1.3-.1 1.2 1.5 1.2 .1 1.3-.7 1.2 .6 1.3-.1 1.2-.7 1.2 .9 6.2-.5 2.5 1 1.2-.5 1.8-1.2 1.2-1.2-.5 .3-1.2-.3-1.6-1.3 .6-.4 1 .4 1.1 .9 .1-2.1 3.4-1.2-.2-1.3 .9-1.2 0-.8 3.4 .3 2.4-.3 2.5 .5 2.5-.7 1.2-.3 3.5-.1-1-1.1-1.4-.9 1.4 .8 2.5-.4 1.2 .6 2.5-1.1 2.5 .4 1.2-.2 1.3-1.7 1.4-2.4 3.4-1.3 .5-.9 2.1-.3 2-1.3 1.5-.8 2.7-1.3 1.2-.1 1.3-1.5 .5-.1 .7-1.1 1.2-1.3 0-1.2 1.3-2.5 .1-1.2 2.4-1.2 .6-1.3-.1-2.4 .7-1.3 1.7-1.2 .2-1.3-1.3-3.7 2.7-1.2 .4-1.3-.5-2.4 2.4-3.7-1.1-2.5 2.4-.7-.7-.6-2-2.4 2-2.5 .4-.3-.4 .2-2.5-1.2-1.2 .4-2.5-1-1.2-.6-2.3-1.2 3.5 .6 1.2-.6 2-2.5-.3-1.2-1.6-1.3 0-1.2 1.3-1.2 .4-.8-1.8 0-1.2-1.9-1.2 1.3-1.3-1.1-.2-1.3 .8-1.2-.2-1.2 1.5-1.3-.2-.8 2-1.6 1.6-.6-.3-.5-1.3 .2-1.2-2.2-1.2 0-1.3-1.9-1.9-1.2 2.3-2.5-1.5-1.2 .6-.9-.7-.4-1-1.2 .4-.7 .6 1.9 1.2-.5 1.3-2 1.4-1-1.4 .7-1.3-.9-1.1-1.2 1-1.3-.1-1.2-1.3-.8 1.5 .6 1.3-1.1 3.1-1.2 .5-1.2 1.2-2.5 .3-1.2 1.8-1.3-.9-1.7-2.3 .7-2.5-1.5 .1-.6-1.3 1.9-2.5 0-.8-1.3 .7-.7-1.2-.1-1.2-1.6-.7-5 5-1.2-.3-1.3 1-2.1-5-.5 0-1.1 2.8-1.2-.8-2.3-.8 0-1.2-.8-1.2-1.3-5-.1-2.5-.5-.3-1.2 2.3-1.2-.2-1.3 .3-1.2 2.3-1.2-.1-1.3 .9-.3-.2-.2-2.5-1.1-1.2 .2-1.3-.8-1.2-.3-3.6-1.2 .1-1 2.3 2 1.2-2 3.7 1 .4 .4 .8-.3 2.5 .5 1.3-.6 .7-.8-.7 .5-1.3-3.4-1.6-1.2 .2-.5 1.4 .4 1.3-1.2 3.5-.5-2.3-3.2-6.1 0 19 2.5-2.8 3.7 1.5 .6 .8 .6 2.4 1.5 .1-.3 2.5 1.3 .8 .1 1.6 1.1 1.3 1.1-2.5-.6-1.2 .8-2.6 1.2-.7 1.3 .2 1.2-.6 .5 1.2-1.7 1.3 2.4 .2 1.3-2.4 1.2-.1 .7 1-.3 1.2 1.6 2.5-.1 1.2 .6 .3 2.5-.4 1.2-1.7 1.2 .5-.4 1.3 .4 .6 1.3-.3 1.1-1.5-1.7-1.2 .6-.3 1.2-2.5 .4 1.5-.3 2.5 2.4 2.3 2.5-1.6 1.2-1.5 1.2 0 1.1 .8-.4 1.2 .6 1.2 3.7-3.2 1.2-.5 .7 2.5 .6 .5 2.4-1.5 .4 1-2.6 2.5-.5 1.2 .3 .4 1.2-.2 1.2-.6 .5 .4 2 5.4 1.2 .4 1.2 1.7zM107 496.3l.5 0-.3 .2zM112.8 496.3l.6-1.8 .7 .5-.1 1.3-.6 .8zM95.4 492.6l.7-.6 1.2 .6-1.2 1.1zM105.6 492.6l.4-.5 1.3 .5-1.3 .8zM128.9 492.6l.8-1.3 .3 1.3-.5 .8zM135 491.3l.4-1.2 .6 0-.3 2.3zM82.1 490.1l.4-1.1 .5 1.1-.5 .4zM68.8 487.6l.7 0-.6 .9zM74.5 487.6l-.1-1.2 .4-1.3-1.2-1.2 1.5-1.6 .2 .3 .3 1.3-.4 1.2 1.1 1.3-1.2 2zM80.7 487.6l0-1.2 1.8-1.5 1.2 1.2 1.5 .3 0 1.2-.2 .3-1.3-1.3-1.2 2.1-1.2-1zM103.9 487.6l.9-.8 .4 .8-.4 .3zM105.9 486.4l1.3-1.8 .4 .5-.3 1.3-1.3 0zM144.2 486.4l.2-.8 0 1.1zM57.6 483.9l1.4-1.7 .3 .4 .1 1.3-.4 .8-1.3-.6zM92.9 483.9l.7-2.5-1.2-.5-1.2 1.4-1.3 .4-.2-1.3 .2-.7 3.7-1.4 .4 .9-.3 1.2 .4 1.2-.5 1.6zM110.6 482.6l.4-.5 0 .8zM109.4 480.2l.3-.5 .4 .5-.4 0zM76.1 470.2l.2-.4 .3 .4-.3 .5zM209.4 410.8l.6-.3 0 1.4zM214.7 410.8l.2-1.7 .7 .4-.7 2.4zM214.3 405.8l.6-.6 0 1.3zM217.3 399.6l.8-1.2 1.8-1.3 .3 1.3-.3 .5-1.6 .7-.9 1.3zM218.4 389.7l1.5-.8 .6 .8-.6 1-1.3-.3zM215.5 374.9l.7-.8 .3 .8-.3 .7zM220.9 366.2l.2-1.7 1.5 .4-1.5 1.9zM108.3 362.5l.2-.5 .4 .5-.4 .2zM216.9 361.2l-.1-1.2-.6-.9-1.3 .3-1.2-.6 .2-1.3-1.4-2.5 .6-1.2 0-3.7 .6-1.9 1.2 .8 1.3 2.1 1.2-.5 .9 .7 .2 2.5 1.4 .5 .6 .7-1.2 1.3-.3 1.2 .9 .5 1.3-.5-.1 1.4-1.2 .5-1.3 1.6-1.2 .4zM207.3 355l.2-.6 1.2 .1 .6 .5-1.8 .5zM219.7 341.4l.2-1.6 .2 .4-.2 1.3zM177.1 337.7l-.1-1.3 .8-.6 .8 .6-.8 1.6zM217.5 337.7l1.1-.3 .8 .3-.8 .3zM128.1 335.2l1.4-.2 0 .3-1.2 .3zM188.3 335.2l.6-.6 .4 .6-.4 .3zM175.2 334l1.4-1.2 1.3-.1-.1 1.6-1.2 .7-1.3-.5zM186 332.7l.5-.6 0 1zM152.8 331.5l.2-1.5 1.3-.2 .3 .5-.3 .9-1.3 .6zM157.6 327.8l.2-1.3-1.1-1.2-.1-3.7-.4-1.3 .6-1.6 1.8 .4 0 1.2 1 1.3 1.3 3.7-.4 .9-2.5 1.8zM152.7 326.5l.3-.6 .5 .6-.5 .6zM177.3 322.8l.5-2.2 1 1-1 1.6zM162.7 319.1l.2-.4 0 .6zM164.7 314.2l.7-1.1 .6 1.1-.6 .8zM85 499.1l0-.7-.3 .3zM145.6 498.3l.4-.8-.4-.7-.8 .7zM60.2 488l1.3 0 .3-.4-.3-1.1-1.4 1.1zM155.5 484.9l1.3-.3 .3-.7-.3-.5-1.6 .5zM129.5 479.7l.5-.8-.5-.4-.3 .4zM151.8 479.5l.3-.6-.3-.4-.4 .4zM91.2 475.5l1-.3 .2-1.2-1.2-1.1-.6 2.3zM107.2 475.5l1.3-.4-1.3-.3-1.2 .4zM112.2 475.4l0-.8-.2 .6zM196.4 471.7l.6-1.5-.6-.7-.7 2zM56.6 467.8l.4-1.3-.5-.2 0 2.2zM200.1 431.2l1.2-.6-1.3 0zM205 423.8l1.2-1.9-1.1-1.2 .8-2.5-.9-.8-1.3 .8-.8 1.3 2.1 1.2-.6 2.5zM219.9 417.8l.3-.8-.3-.4-1 .4zM202.6 394.8l0-.8-.3 .7zM231 378.2l.2-.9-.6 0zM240.9 377.5l1-.2-.2-1.2 .7-2.5-1-1.2 0-2.5-.5-.6-1.2 .4-1.3 1.4 1.5 1.3-.4 2.5 1 1.2 .3 1.2zM198.8 367.5l.7-1.3-.7-.7-.4 .7 .4 1.2zM103.5 366.4l0-.4-.2 .2zM102.3 364.3l.9-1.8-.9-.5-.3 1.7zM197.6 360.7l.9-1.9-.9-1.3-1.1 1.3 .2 1.2zM102.3 359.1l1-.3-1.1 0zM181.5 359l0-.9-.4 .7zM233.5 359.5l1.2-1 1.3-.4 .9-1.8-.9-1.3 .5-2.4-.4-1.3-3.8 .2-.3 4.8 .7 2.5zM234.6 355l1.1 0-1 .3zM169.1 346.7l1.3 0 0-1.6-1.5 1.3zM176.6 345.2l.6-1.3-.6-.6-.8 .6 .4 1.2zM205 343.5l.4-.9-.4-.5-.9 .5zM224.8 343l.5-.4-.7 0zM228.6 340.7l.6-.5-.5-2.5 .5-1.3 0-1.2-1.4-1.2-.5-1.2-2.5 .8-.6 1.6 .6 .9 1.1 .3-1.8 2.5 .7 .8 1.3-1 1.2-.2 1.2 .4-.3 1.3zM203.8 339.2l1.2-.4 .4-1.1-.4-1.4-1.2 2.2-1 .4zM162.9 338.4l0-1.4-.3 .7zM124.6 336.7l.5-.3-.6 0zM197.6 336.5l.4-1.3-.2-1.2-.5 1.2 .3 1.2zM166.7 335.7l.7-.5-.7-.7-.9 .7zM203.8 335.2l1.2-.4 .5-.8 .4-1.3-.4-1.2 .8-1.7 1.2 .4 1.2-1.3 1.3 .4 1.2-.3 1.3-1.1 1.2 1.1-1.2 2-1.5 .5-.4 1.2 .6 .5 1.3-1.1 2.4 .1 1.3-2.7 1.2 .1 .9-1.8-.9-1.2-1.2 1.7-1.3 .1-.9-.6 .9-1.5 1.3-.5 1.2 .4 0-1.6-3.5-.5 1-1.5 2.5-2 0-1.5-2.5 1.1-1.2-1-1.2 2.4-.2 1.2 1.3 1.3-1.1 2.9-1.3-2.2-1.2-1-1.3 .7-.4-.4 .4-2.5-1.2-.8-1.2 1.8-.4 1.5-.9 .3-1.2-1.6-2.8-1.2 .1-2.5-1-.7-1.3 .8-1.4-1.3 .3-2.5 1.2-2.5 2.2-2.5-1-.7-2.5 0 0-.8 1.7-.9 .4-1.3-.9-.4-1.2 1.1-.5-.7 .2-2.5-1.8-1.2-2.9 0-1.2 1.1-1.2 0-.4-1.1-9.2 0-.3 .5-.6-.5-1.8 0 .5 1.2-.2 1.3 .8 1.4 1.3-1.3 1.2-.4 .6 .3 .2 1.2-.7 1.3 1.2 1.2-.6 2.5 1 2.5 .2 2.4 .8 1.3-.3 1.2 1.3 .6 .4 .6-.7 1.3 0 1.2 1.6 1 .8-1 .3-1.2-1-3.7 .4-1.3-.1-4.9-1.3-1.3 .9-1.2 1.2-.7 1.1 .7-.9 2.5 1.5 1.2-.3 1.3 .5 1.2 .6 .9 1.2-1.5 .6 .6-.6 1-1.2 .4-.9 2.3 .9 1.1 1.2-.4 .9 .5-1.5 2.5 1.9 .6 .5 .7-.9 1.2 .4 .7 1.2 .2 1.2-.6 .9 .9 .2 1.3 .9 1.2-.6 2.5 1.1 .4 1.2-2.7 1.3 .2 1 .9-.2 1.2 .4 .5 1.3 .1 .6 .6-.2 1.3zM198 327.8l.8-2.4 1.5 1.1-1.5 2.4zM205 326.5l1.3-2 .4 2-.4 .4-1.3-.3zM197.6 324.1l1.2-2 .8 .7-.1 1.3-.7 1-1.2-1zM193.3 312.9l.6-.8 .6 .8-.6 .8zM191.2 311.7l0-2.5-1.2-1.2 .4-1.3 1-1.2 2.5-1.3 0 1.6-2 2.2 .8 1.2 1.2-.2 0 .7-2.5 2.4zM207.5 331.7l0-1.3-.3 1.1zM190.2 329l1.2-.6 .8-1.9-.8-.4-1.9 1.7zM186.5 325.3l1.2 0-1.2 0zM212.5 318.8l1.2 .2 .5-2.4-.5-.5-1.2 .5-.5 1.3zM206.3 315l1.2-.8-.3-1.3-.9-1-.5 2.3zM208.7 312l1.3 .6 1-.9 .6-1.3-1.6-.5-1.4 1.8zM145.6 310.8l.6-.4-.6-1.1-.1 1.1zM206.3 311.6l1.2-3.6-.9-2.2-.7-.3-2.1 2.1-1.2 .1-.9 1.5 .9 .8 1.2-1.5 1.2 0 .9 .7-.3 1.2zM145.6 309.1l.2-2.4-.2-.5-.2 .5 .1 1.3zM155.5 308.4l0-1.7-.5 1.3zM208.7 308.7l1.4-.6-.7-.7-.7-.4-1.1 1zM155.5 304.2l.5-1.2-1.2 0z" clip-path="url(#p9298c22aac)" style="fill: #3e4a89; stroke: #615252; stroke-opacity: 0.8; stroke-width: 0.9"/>
<path d="M118.4 516.5l1.2 0 .9-1.7-.9-1-1.8 2.3zM109.7 515l.7-1.4-.6-1.2 1.2-2.6 .4 .1 .4 1.2-.4 1.3 .8 .8 2.5-2 1.1 1.2 .1 .7 1.3-.4 2.4 0 1.3-1.6 1.2 2.5 1.8 1.2 1.9 .6 1.1-1.8-.5-1.2 .7-1.9 1 .6-.1 1.3 1.5 1.2 0 .6 2.5-.2 1.3-1.6-1.2-2.5 1.3-1.2-.8-1.3 .4-1.2 .2-.4 1.3-.2 1.2 .9 .4-2.8 .9-1.8 1.2-.1 2.5 .8 4.8 3.6 .1 1.3 .2-1.3 1.1-2.5 1.2-.1 1.2 1 1.1-.9-.7-2.5 .9-1.8 2.4-1.9 1.3 .4 .5 .8-.2 1.3 .9 1.6 3-1.6 0-1.3 .7-.2 2.5 .8 1.4-1.8 .2-2.5 .9-.9 1.2 1.1 2.5-.5 2.5-3.4 1.2 .1 1.4-1.3 3.6-2.2 3.7-1.4 1.2 .1 1.3-1.3 4.3-2.7 1.8-3 2.5-1.6 1.3-1.8 2.4-1.7 2.5 .5 1.2-2.4 1.6-1.1 .8-1.3 .6-2.4 1.2-2.5 .1-3.7 1.9-1.6 1.3-.1 .4-2-.4-1.3 .7-2.5-.3-2.4 .2-1.3 .6-1 1.2-.4 1.3-3.6 3-3.6 .7-.6 1.3 1.8 1.1-12.4 1.3-.2 .7-1 3-2.7 1.3-1.9 1.2-.3 1-1.3-.3-3.7 .5-2.1 2.5-.4 .2-1.3 1.1-.9 1.1 .9-.7 1.3 0 1.2 .2 1.3 .6 .5 .8-1.8 1.3-1.2-2-1.3 1.3-2.4-.7-2.5 .5-.9 1.3 0 .3 .9-.3 1.2 1.2 1.1 .4-6 .8-1 1.8-.3 .7-1.5 1.3-.3 1.2-1 .7-2.1 .1-2.5 .4-.5 .7 .5 .2 1.2 .4 .1 1-1.3-.4-1.2 .2-1.3 1-1.2-1.8-1.3 1.1-2.4-.6-3.8 .7-.9 .6 .9-.3 1.3 .9 1.1 2.5-1.4 1 .3-.2 1.2-2.8 2.5-.5 1.2 2.5-1.1 .8 1.1-.5 1.3 1 .6 .6-.6 .1-3.7-.8-3.8 .8-2.4-.7-2-1.3 1.6-1.2-.7-.5-1.4 .5-1.5 2.5 1.2 .2-1-.7-1.2-.1-1.2 1.2-1.3 .4-1.2-1.1-1.2-.1-2.5-.6-1.3 .1-1.2 .7-1.2 1.2-.4 1 .4-.2 2.4 .4 .4 1.3-.7 .5 .3 .1 1.3-.9 1.2 2.7 .9 .7-.9 .6-2.2 1.2-.8 .3-.7-.3-1.3-1.2 1.8-.4-.5 .4-1.7 1.2-1.5 0-1.1-1.2 .1-1.3-.4-.1-1.6-1.7-2.5-2-1.2 0-2.5-.9-1.2-.2-2.8-2.6 1.5-.5-1.2 .2-1.2 .4-.9 1.3-.4 .3-2.5-.3-.2-1.3 .2-1.2-1.7-2.5 1.2-.6-.7 .6-.9 2.5-1.5 0-1.4-2.5 1.2-1.2 0-.9 2.6-.5 0-.6-1.2 .1-1.3-.9-1.2 .3-2.5-.4-1.2-1.4-1.3 .7-2.5-1.3-1.2 2.3-2.5-.3-.3-2.3-2.3-2.3-.8-1.2 1.1-.6-.1 .5-1.3 1.8-.7-.9-1-2 .6-.4-1.4 .4-.8 .3 0-6.5-6.6-1.3 0-4.9-4.9-1.3 0-2.4-2.5-1.3 0-2.4-2.5-1.3 0-1.1-1.1-1.4 .6-1.1-.7 1.1-1 .7 .4-.7-.7-1.2 0-.9-.9 .9 2.2-1.2 3.6-.7-1.2 .3-1.2-.9-.7-1.2 0-1.2 1.5-.9-.8 .9-1.5 1.2-.1 2.1-2.1-.9 0-2.4-2.5-7.1 0 1.8 1.2-.2 2.5 .5 .7 1.2-1.1 .9 .4-.4 1.3-1.7 .9 0 .8 2.5 0 1 .7-2.2 2.5-1.2 2.5-.3 2.5 1.4 1.3 1.3-.8 1 .7-.1 2.5 2.8 1.2 1.2 1.6 .9-.3 .4-1.5 1.2-1.8 1.2 .8-.4 2.5 .4 .4 1.3-.7 1.2 1 1.3 2.2 1.1-2.9-1.3-1.3 .2-1.2 1.2-2.4 1.2 1 2.5-1.1 0 1.5-2.5 2-1 1.5 3.5 .5 0 1.6-1.2-.4-1.3 .5-.9 1.5 .9 .6 1.3-.1 1.2-1.7 .9 1.2-.9 1.8-1.2-.1-1.3 2.7-2.4-.1-1.3 1.1-.6-.5 .4-1.2 1.5-.5 1.2-2-1.2-1.1-1.3 1.1-1.2 .3-1.3-.4-1.2 1.3-1.2-.4-.8 1.7 .4 1.2-.4 1.3-.5 .8-1.2 .4-.8-1.2 .2-1.3-.6-.6-1.3-.1-.4-.5 .2-1.2-1-.9-1.3-.2-1.2 2.7-1.1-.4 .6-2.5-.9-1.2-.2-1.3-.9-.9-1.2 .6-1.2-.2-.4-.7 .9-1.2-.5-.7-1.9-.6 1.5-2.5-.9-.5-1.2 .4-.9-1.1 .9-2.3 1.2-.4 .6-1-.6-.6-1.2 1.5-.6-.9-.5-1.2 .3-1.3-1.5-1.2 .9-2.5-1.1-.7-1.2 .7-.9 1.2 1.3 1.3 .1 4.9-.4 1.3 1 3.7-.3 1.2-.8 1-1.6-1 0-1.2 .7-1.3-.4-.6-1.3-.6 .3-1.2-.8-1.3-.2-2.4-1-2.5 .6-2.5-1.2-1.2 .7-1.3-.2-1.2-.6-.3-1.2 .4-1.3 1.3-.8-1.4 .2-1.3-.5-1.2-21.9 0-.5 1.2-.7-1.2-17.6 0-.2 .8-1.3 .5-1.2 1.9-1.3 .3-.6-1 .5-1.3-1.1-.8-1.2 1.1-2.5 .1-.5 2.1 .5 1.1 1.2-.1 1.3-1.4 .9 .4-.9 1.5-1.3 0-2 2.2-.4 2.2-1.3-.6-.7 .9 .7 1.7 1.3-1.7 1.2 .4 .3 .9-.3 1.2 1 2.5-2.2 1.6-2.5 .7-1.3-.7-2.4 2.1-1.3 .4-1.1 2.1 .6 1.2-.7 1.7-1.2-.1-1.1 .9-.3 1.2-2.4 2.1-1.2 1.9-1.2 0-1.3 1.1-1.2 2-1.3 .2-2.4 1.9 0 1 1.2-.5 1.2 0 1.3-2 1.3 1-1.3 1.5-1.3-.1-.4 1.1-2 1.6-1.3 3.3-1.2 .2-1.2-1-.9 .8-.4 1.5-2.5 2.8-2.1 .7 .9 .9 1.2-.4 1.1 .7-2.3 2.1-1.3 2.9 2.3 1.2-1 .6-.3 1.9 .3 .3 1.2-.9 .4 .6-.4 1.5-1.2 .5-1 1.7 1 1.4 1.2-1.3 1 2.4 1.2 1.2 .1 2.5 1.4 1.2 .6 3.8-.5 1.4-1.3 .6-2.5 3.2-.5 3.4-.7 1-1.2 .3-1-1.3-.3-1.3-.5 2.6 .4 1.2-1.1 2.3-2.5 2.2-1.2 0-1.3 .7-1.2 3.7-1.2-.6-1.3 .4-1.1 1.2-.4 1.3-2.2 1.9-1.2-.6-1.3 .2-1.2 .8-3.7 .3-1.2 .4-1.3 1.1-1.2 .3-2.5 1.3-2.5-1.1-1.2 0-1.2 .4-1.3 1.6-1.2-.1-1.3-.7-1.2 .5 0 4.1 1.2-.9 1.3-.2 1.2 1 5-2.6 1.2 .5 3.7-.9 1.3-1.3 1.2-.3 2.5-.3 1.2 .7 1.5-1.2 2.2-.2 1.7-1 3.3-3.2 1.2 .1 2.5-2.8 2.5-.6 1.3 .3 1.6-3.7 .8-.9 1.2-.1 .7-1.5 2.5-2.5 .5-1.9 1.5-.6-.5-1.2 1.5-1.3 1.2-3 4.4-3.1 1.1-2.5-1.2-1.3 .2-2.4-1.6-1.3 .1-1.2-1.6-1.3 0-2.4-.8-1.3-.5-2.4 .5-3.8-.2-2.4 .9-1.9 3.7-2.7 1.2 .3 1.3-.8 1.2 1.2 1.2 .4 1.4-2.7-.3-1.3 .8-2.5 .9-1.2 1.9-1.2 2.8-2.9 1.2 .6 1.2 2.4 2.5-1.8 .3-2.1-.6-1.2 .7-2.5-.4-.3-1.3 .3-1-3.7 0-1.2 1.1-.5 1.2 .4-.8 1.3 .8 .4 1.3-.1 .6 1-.2 1.2 .8 .8 2.3-3.3-1.1-.8 0-.7 1.3-.7 .5 1-.2 1.2 .9 .1 2.5-1.7 .8-2.1-.2-1.2 .4-2.5-.5-2.5 .7-1.2 1.5 1.2 1 4.6 1.2-1.2 1.3-.4 1.2 .1 1.2-1.4 1 .8-.1 1.2 .4 .5 .5-3 1.3-2.4 .7-2.6 1.2 .6 .4-.5 .8-1.2-.8-1.3 .4-1.2 .4-.8 1.3-.5 .8-1.2-.1-1.2-.7-.3-1.3 .7-.4-.4 .8-2.5 2.1-1.9 1.2 .6 .1 1.3-.8 1.2 1.2 2.5-.6 1.2-1.7 1.3 1.8 .3 .7 .9-.4 1.3 1 1.1 1.1-1.1-.1-1.3-.6-1.2 .8-2 1.3 .2 .5 .5-.4 1.3 .6 1.2 .5 .2 1.7-1.4 .9-2.5-.1-.4-1.3 .9-.3-.5 .3-1.5 2.5-.2 1.2 .8 .6 .9 0 2.5 .7 .8 1.2 0 1.5-3.3-1.5-.5-.7-.7 2-2 2.4-.6-.4 1.3 1.7 2.6 1.5-3.8 1-.9 1.2 .9-.4 1.2 .4 .5 2.7 .8-.7 1.2 0 1.2 1 1.3 .1 1.2 .6 .9 1.2-.5 1 .9-1 1.8-1.2 .4-.6 1.5 .6 .8 2.5-1 .3 1.4-.3 .9-1 .3 1 .2 .8 1.1 .5 1.2-.1 1.3 2.1 1.2-.8 .9-.1 1.6 1.3 0 1.2 2.7 1.3-1.6 1.2-.7 1.2 .8-.9 2.5 .9 .4 2.5-2.2 1.6 .6-.2 1.2 1.1 .3 .8 .9-.5 2.5 1.7 1.2-.4 1.3 .9 1.7 2.4-2.3 .4 1.8 .9 .8 1.2-.6 1 1.1-1.3 1.2-.1 1.2 1.7 .7 .5 .6 .1 1.2 .6 .8 1.2-1.7 1.1 .9-.3 2.5 .7 2.5-.2 1.2 .2 1.3 1 .8 1.6-.8 .3-1.3 0-1.2-1.4-2.5-.5-3.7 .2-1.3 4.8-3.1 1-1.8-.8-1.3 .1-1.2 2.1-2.2 .8 1-.2 1.2 .7 .7 2-1.9 2.9-.2-.2 1.4 1 1.2 .4 2.5 1.1 1.3-.6 1.2 .6 3.7-.3 2.5 .6 1.2-.4 1.3 .3 .9 2.5-.8 .7 1.1-.3 1.3 .8 1.2 1.5 0-2.7 3.6-1.3-.1-.9 1.5 .9 1.1 3.8-2.7 1.2-.1 .3 2.9-.3 2.6-.4-1.4-.8-.8-1.3 .1-2.5 .8-.7 2.4 .7 1.2-.5 1.3-.7 1.1-2.5 .8-.6 1.8 1.4 6.2 0 2.5 .5 .6 2.4-.9 1.3 1 1.2-.7 1.3 .3 .8 .9-2.1 2.4-1.2 .4-.4 .9 .4 .6 2.5-.8 1.5 .2-3.5 3.7 .6 1.3-1.1 2.9-1.3 1-.2-.2-.4-1.2 .2-1.3-.8-.5-1.2 2.4-1.3 .7-1.2 .2-1.3 1.7-1.2 .3-.5 1.4 .5 .4 1.2-1.1 1.3 0 1.2-1.2 1.3 .7 1.2 1.8 1.2-1.9 1.3-.9 1.2 1-1.2 1.9-1.3 .1-1.3 1.7 1.3 .3 1.3-1.1 2.5-.5 .2 5-.2 .7-3.3 1.8-1.7 2.4-1.2 .1-.8-1.3 .1-1.2-1-1.2 .4-2.5-1.2-.6-2.5 2.3-1 2 1.6 1.2-.7 2.5 .4 1.2-.1 1.3-.7 1.2 2.1 2.5-1.6 1.9-1.1-.7-.9-2.4-.5-.4-.1 2.8 1.1 1.3-1 1-.2 2.7-1 3.6-1.2 .2-.5 1.1 0 2.5-.6 2.5 .4 1.2-1.1 2.5-4.4 3.2-.7 3-.1 3.7 .7 1.3-2.7 4.9-.9 3.8-1.3 1.5-.6 2.2-.2 2.4-.4 .8-2 1.7-.5 1.3 .5 1.2-1.7 3.4-1.3-.1-1.2 1.1-1.5 .5-1.3 2.5-.1 1.3-.8 1-1.3 .1-.7 1.3-.1 1.3-.4 .8-3.7 3.1-1.2 0-1.3 1.2-2.5 .3-1.2 1.3-1.2-.2-1.3 .4-3.7 2.6-1.2 .1-1.3-.7-.9 1-.3 1.4-2.5 .7-2.5-.2-1.2 2-1.2 1-2.5 .6-1.2-.6-1.3 1.9-.5-.6-2-.8-1.2 .3-1.2-.8-1.3 .2-1.2 1.3-1.2 .2-1.3 1.7-1.2 .6-1.1-1.5-.2-1-2.4 .6-2.5 1.4-.6-2.2-.6-.7-1.3-.4-1.2 3-1.3 .2-1.1 1.6-.1-2.5-1.2-1.1-1.3 0-1.2 1.6-1.2 .2-2.5 2.4-1.3 .1-.7 .5-.5 1.5-1.2-1.7-1.3 .1-1.2 1.1-1.2-2.2-1.3-.6-2.5 .9-.6 2.2 .2 2.5-.8 2-1.2-2-1.3 .4-.3 .8 .3 1.2-1.2 1.4-1.3-1.8-1.2-.4-2-5.4-.5-.4-1.2 .6-1.2 .2-.3-.4 .5-1.2 2.6-2.5-.4-1-2.4 1.5-.6-.5-.7-2.5-1.2 .5-3.7 3.2-.6-1.2 .4-1.2-1.1-.8-1.2 0-1.2 1.5-2.5 1.6-2.4-2.3 .3-2.5-.4-1.5-1.2 2.5-.6 .3 1.7 1.2-1.1 1.5-1.3 .3-.4-.6 .4-1.3-1.2-.5-1.2 1.7-2.5 .4-.6-.3 .1-1.2-1.6-2.5 .3-1.2-.7-1-1.2 .1-1.3 2.4-2.4-.2 1.7-1.3-.5-1.2-1.2 .6-1.3-.2-1.2 .7-.8 2.6 .6 1.2-1.1 2.5-1.1-1.3-.1-1.6-1.3-.8 .3-2.5-1.5-.1-.6-2.4-.6-.8-3.7-1.5-2.5 2.8 0 12.6 1.2 0 1.3-1.1 1.2 0 1.3 2.5 1.2 1.3 2.5-.4 1.2-1 .4 1.7 1.9 2.5 .2 .7 1.5 .5 .9 1.3 .3 1.2 3.5 2.3 .7-1.1 .4-3.7 1.3-1.1 1.1 1.1 .2 .8 1.2-1.9 3.7-.2 .5 1.3-.3 1.3 2.3 3.9 2.5-1.7 1.2-1.9 1.3-.5 1 1.4 .2 1.4 .6-1.4-.1-2.5 .7-1.2 1.3 .3 .5 .9-1.4 1.3 1.4 2.4-.1 1.3 .8 .7 1.4-2-.9-1.2 .7-2 1.3 1.9 1.2-.6 2.5-.3 1.2-2 1.3 .2 .4 1.6 2.4 1.2 .9 2 1.2 .5-.2 2.4zM116.2 511.1l.3-1.2 .7-.7 2.2 .7-2.2 2zM127 507.4l-.2-1.2 .3-.3 .3 .3-.3 1.3zM79.9 504.9l.1-.8 1.4-.4-1.4 2.2zM89.6 504.9l.3-.4 .4 .4-.4 .9zM91.8 503.7l1.8-1.8 .7 1.8-.7 1.1-1.2-.7zM84.7 498.7l.3-.3 0 .7zM144.8 497.5l.8-.7 .4 .7-.4 .8zM60.1 487.6l1.4-1.1 .3 1.1-.3 .4-1.3 0zM195.7 471.5l.7-2 .6 .7-.6 1.5zM222.2 421.9l.5 0-.3 .4zM218.9 417l1-.4 .3 .4-.3 .8zM224.8 415.7l1.4 0-1.4 .1zM227.2 413.3l1.4-.4 0 .4 0 .3-1.3 .5zM239.6 387.2l.1-3.7-.6-1.2 .6-.6 0 1.8 1.2 1 2.1 .3-.9 1.2-2.4 1.4zM230.6 377.3l.6 0-.2 .9zM240.8 377.3l-.3-1.2-1-1.2 .4-2.5-1.5-1.3 1.3-1.4 1.2-.4 .5 .6 0 2.5 1 1.2-.7 2.5 .2 1.2-1 .2zM103.3 366.2l.2-.2 0 .4zM248.1 366.2l.3-1.3 .4 1.3-.4 1.1zM102 363.7l.3-1.7 .9 .5-.9 1.8zM247.9 362.5l-.3-1.3 .8-.5 .7 .5-.7 1.6zM102.2 358.8l1.1 0-1 .3zM232.7 358.8l-.7-2.5 .3-4.8 3.8-.2 .4 1.3-.5 2.4 .9 1.3-.9 1.8-1.3 .4-1.2 1zM244.5 352.6l.1-1.3 0 1.4zM246.8 350.1l.3-1.2 1.1 1.2-1.1 .8zM204.1 342.6l.9-.5 .4 .5-.4 .9zM224.6 342.6l.7 0-.5 .4zM228.2 340.2l.3-1.3-1.2-.4-1.2 .2-1.3 1-.7-.8 1.8-2.5-1.1-.3-.6-.9 .6-1.6 2.5-.8 .5 1.2 1.4 1.2 0 1.2-.5 1.3 .5 2.5-.6 .5zM202.8 338.9l1-.4 1.2-2.2 .4 1.4-.4 1.1-1.2 .4zM124.5 336.4l.6 0-.5 .3zM197.6 336.4l-.3-1.2 .5-1.2 .2 1.2-.4 1.3zM235.3 332.7l.7-1.2 1.2-.9 .7 .9-1.9 1.7zM207.2 331.5l.3-1.1 0 1.3zM189.5 327.8l1.9-1.7 .8 .4-.8 1.9-1.2 .6zM186.5 325.3l1.2 0-1.2 0zM130.4 317.9l-.2-1.3 .6-1.5 0 3zM212 317.9l.5-1.3 1.2-.5 .5 .5-.5 2.4-1.2-.2zM205.8 314.2l.5-2.3 .9 1 .3 1.3-1.2 .8zM208.6 311.7l1.4-1.8 1.6 .5-.6 1.3-1 .9-1.3-.6zM145.5 310.4l.1-1.1 .6 1.1-.6 .4zM145.5 308l-.1-1.3 .2-.5 .2 .5-.2 2.4zM155 308l.5-1.3 0 1.7zM136.1 306.7l.9-.7 0 1.2zM107.2 496.5l.3-.2-.5 0zM113.4 497.1l.6-.8 .1-1.3-.7-.5-.6 1.8zM96.1 493.7l1.2-1.1-1.2-.6-.7 .6zM106 493.4l1.3-.8-1.3-.5-.4 .5zM129.5 493.4l.5-.8-.3-1.3-.8 1.3zM135.7 492.4l.3-2.3-.6 0-.4 1.2zM82.5 490.5l.5-.4-.5-1.1-.4 1.1zM68.9 488.5l.6-.9-.7 0zM75.1 488.4l1.2-2-1.1-1.3 .4-1.2-.3-1.3-.2-.3-1.5 1.6 1.2 1.2-.4 1.3 .1 1.2zM81.3 487.7l1.2 1 1.2-2.1 1.3 1.3 .2-.3 0-1.2-1.5-.3-1.2-1.2-1.8 1.5 0 1.2zM57.7 484.1l1.3 .6 .4-.8-.1-1.3-.3-.4-1.4 1.7zM217.4 432l.3-.2-.3-.6-.4 .6zM233.5 417.3l.7-1.6-.1-1.2-.6-1.1-.9 2.3 .1 1.3zM245.9 412.1l.3-.1-.2-1.2 .4-1.3-.5-1.7-.5 .5-.1 1.2 .5 1.3 0 1.2zM214.9 411.9l.7-2.4-.7-.4-.2 1.7zM239.7 410.1l.5-.6-.5-.8-.3 .8zM214.9 406.5l0-1.3-.6 .6zM238.5 406.4l1.2 .1 .4-.7-.4-1.3-2 1.3zM217.4 400.9l.9-1.3 1.6-.7 .3-.5-.3-1.3-1.8 1.3-.8 1.2zM218.6 390.4l1.3 .3 .6-1-.6-.8-1.5 .8zM250.8 384.4l1.3-.6 0-1.1-1.3 0-.6 .8zM257 377.8l1.2-.5-1.2-.3-.2 .3zM216.2 375.6l.3-.7-.3-.8-.7 .8zM250.8 375.8l.6-.9-.6-.9-.7 .9zM257 375l0-1.7-.4 .3 .1 1.3zM221.1 366.8l1.5-1.9-1.5-.4-.2 1.7zM217.4 361.4l1.2-.4 1.3-1.6 1.2-.5 .1-1.4-1.3 .5-.9-.5 .3-1.2 1.2-1.3-.6-.7-1.4-.5-.2-2.5-.9-.7-1.2 .5-1.3-2.1-1.2-.8-.6 1.9 0 3.7-.6 1.2 1.4 2.5-.2 1.3 1.2 .6 1.3-.3 .6 .9 .1 1.2zM207.5 355.5l1.8-.5-.6-.5-1.2-.1-.2 .6zM234.7 355.3l1-.3-1.1 0zM219.9 341.5l.2-1.3-.2-.4-.2 1.6zM242.2 340.3l.3-1.4-.3-.8-.6 .8 .5 1.3zM218.6 338l.8-.3-.8-.3-1.1 .3zM128.3 335.6l1.2-.3 0-.3-1.4 .2zM188.9 335.5l.4-.3-.4-.6-.6 .6zM240.9 335.6l.4-.4 0-.8-1.4-1.4 .7 1-.1 1.2zM186.5 333.1l0-1-.5 .6zM198.8 328.9l1.5-2.4-1.5-1.1-.8 2.4zM205 326.6l1.3 .3 .4-.4-.4-2-1.3 2zM197.6 324.1l1.2 1 .7-1 .1-1.3-.8-.7-1.2 2zM177.8 323.2l1-1.6-1-1-.5 2.2zM119.6 319.4l0-1.7-.3 1.4zM125.8 316.8l1.6-.2-1.6-.5-.1 .5zM165.4 315l.6-.8-.6-1.1-.7 1.1zM193.9 313.7l.6-.8-.6-.8-.6 .8zM191.4 312.1l2.5-2.4 0-.7-1.2 .2-.8-1.2 2-2.2 0-1.6-2.5 1.3-1 1.2-.4 1.3 1.2 1.2 0 2.5zM128.3 304l.6-1-1 0zM134.5 303.3l.4-.3-1.4 0zM180.3 303.5l.3-.5-.9 0zM190.2 304.1l1.2 0 1.2-1.1-2.8 0z" clip-path="url(#p9298c22aac)" style="fill: #38598c; stroke: #615252; stroke-opacity: 0.8; stroke-width: 0.9"/>
<path d="M93.6 526l0-.3-.2 .3zM103.5 526l6.7 0 .8-1.5 1.2 0 2.2 1.5 3.2 0 .8-1.6 2 1.6 1.3 0-.6-1.2 1-1.7 1.2 0 2.5 1.6-.1 1.3 5.8 0-.7-1.2 1.2-2.2 1.3-.3 1.2-2.2 2.5-.3 1.2-1.5 .7 .3-.2 2.4 .7 .5 1.3 .1 2.8-3 .1-1.3-1.4-1.2 2.2-3.2 .8 .7 .4 1.7 1.3 .6 .6-1.1-.4-2.4 1-1.6 1.1 .3 .9 1.3 1.7 .1 1.2-.6 1.3-3.2 1.2 .5 1.3-.2 2.4-1.6 1.3-2.8 1.2 0 1.2-.4 1.3-2.9 3.7-2.1 2.5-3 1.2-.7 5-4.9 1.2 .1 2.5-1.4 1.2-.2 1.4-1.5 2.3-1.4 1.3-.5 1.2 .1 1.2-2.4 2.5-1.9 2-2.6 1.7-1.3 1.3-.3 1.2 .4 4.5-3.7 1.7-2.5 1.2-3.7 2.5-.6 2.5-1.7 1.2-1.9 1.6-.8 .2-1.2-.5-4.3-1.3 .8-.2-.2 .2-1.6 1.3-1.6 .4-4.3 .8-1.1 1.2 .2 1.3 1.2 .5-1.5-.1-1.2 1.4-2.5-.3-3.7 1.4-3.8 .6-1.2 1.4-.8 1.6-2.9 .9-.7 1.2 .1 .6-.7 2-3.7-.6-1.2 1.8-1.5 0 1.5 1.2 .5 1.2 0 1.3-1.6 1.2-.7 2.5-.9 1.2 .4 1.3-4.1 1.2-.2 .6 .4 .3 1.2-.4 1.3 .7 .2 1.3-1.2 1.2-.3 2.5-2.7 1.2-.2 1.3-1.6 2.4-1.5 1.3-1.3 1.2-.2 1.2-1.8 .9-.6 .7-2.5-.3-.3-1.3 .2-1.2-1.8-1.9-.5 1.2-1.3 .9-2.4-1.4-.5-.5-.8 1.6-2.5-1.4-1.2 .7-1.2 .8-.8 1.4-.5 .3 1.3-.3 1.2 1 1.2-.2 2.5 .3 .2 1.2-1.2 1.5-.2 .5 2.5 .5 .3 4-2.8 .3-1.3-1.1-1.2 2.2-3.7-1.7-.4-.5-.9 3-2.1 .5-2.8 .7-1.4 1.3 4.5 1.2 .3 2.5-.4 .8-1-.8-.8 0-2.5-1.3-1.2 0-2.3-1.2-.2-.7-3.7-.5-.7-1.3 .2-1.3-.7 1.3-2.2 .6 .3-.6-.6 0-1.2-1.2-1.3 0-2.5-1.3-1.2 0-1.2-1.2-1.3 0-1.2-1.2-1.3 0-1.2-1.3-1.2 0-1.3-2.4-2.4 0-1.3-1.3-1.2 0-1.3-2.5-2.4 0-1.3-2.4-2.5 0-1.2-2.5-2.5 0-1.2-5-5 0-1.2-3.3-3.3 0 .8-.4 .4-.4-.4 .1-1.2-1.3-1.6 .3 .3-2.3 2.5 1.3 1.2-.7 2.5 1.4 1.3 .4 1.2-.3 2.5 .9 1.2-.1 1.3 .6 1.2 .5 0 .9-2.6 1.2 0 2.5-1.1 0 1.3-2.5 1.5-.6 .9 .6 .7 2.5-1.2 1.2 1.7 1.3-.2 .3 .2-.3 2.5-1.3 .4-.4 .9-.2 1.2 .5 1.2 2.6-1.5 .2 2.8 .9 1.2 0 2.5 2 1.2 1.7 2.5 .1 1.6 1.3 .4 1.2-.1 0 1.1-1.2 1.5-.4 1.7 .4 .5 1.2-1.8 .3 1.3-.3 .7-1.2 .8-.6 2.2-.7 .9-2.7-.9 .9-1.2-.1-1.3-.5-.3-1.3 .7-.4-.4 .2-2.4-1-.4-1.2 .4-.8 2.4 .6 1.3 .1 2.5 1.1 1.2-.4 1.2-1.2 1.3 .1 1.2 .7 1.2-.2 1-2.5-1.2-.5 1.5 .5 1.4 1.2 .7 1.3-1.6 .7 2-.8 2.4 .8 3.8-.1 3.7-.6 .6-1-.6 .5-1.3-.8-1.1-2.5 1.1 .5-1.2 2.8-2.5 .2-1.2-1-.3-2.5 1.4-.9-1.1 .3-1.3-.6-.9-.7 .9 .6 3.8-1.1 2.4 1.8 1.3-1 1.2-.2 1.3 .4 1.2-1 1.3-.4-.1-.2-1.2-.7-.5-.4 .5-.1 2.5-.7 2.1-1.2 1-1.3 .3-.7 1.5-1.8 .3-.8 1-.4 6-1.2-1.1 .3-1.2-.3-.9-1.3 0-.5 .9 .7 2.5-1.3 2.4 2 1.3-1.3 1.2-.8 1.8-.6-.5-.2-1.3 0-1.2 .7-1.3-1.1-.9-1.1 .9-.2 1.3-2.5 .4-.5 2.1 .3 3.7-1 1.3-1.2 .3-1.3 1.9-3 2.7-.7 1-1.3 .2-1.1 12.4-1.3-1.8-.7 .6-3 3.6-1.3 3.6-1.2 .4-.6 1-.2 1.3 .3 2.4-.7 2.5 .4 1.3-.4 2-1.3 .1-1.9 1.6-.1 3.7-1.2 2.5-.6 2.4-.8 1.3-1.6 1.1-1.2 2.4-2.5-.5-2.4 1.7-1.3 1.8-2.5 1.6-1.8 3-4.3 2.7-1.3 1.3-1.2-.1-3.7 1.4-3.6 2.2-1.4 1.3-1.2-.1-2.5 3.4-2.5 .5-1.2-1.1-.9 .9-.2 2.5-1.4 1.8-2.5-.8-.7 .2 0 1.3-3 1.6-.9-1.6 .2-1.3-.5-.8-1.3-.4-2.4 1.9-.9 1.8 .7 2.5-1.1 .9-1.2-1-1.2 .1-1.1 2.5-.2 1.3-.1-1.3-4.8-3.6-2.5-.8-1.2 .1-.9 1.8-.4 2.8-1.2-.9-1.3 .2-.2 .4-.4 1.2 .8 1.3-1.3 1.2 1.2 2.5-.8 1.2-.5 .4-2.5 .2 0-.6-1.5-1.2 .1-1.3-1-.6-.7 1.9 .5 1.2-1.1 1.8-1.9-.6-1.8-1.2-1.2-2.5-1.3 1.6-2.4 0-1.3 .4-.1-.7-1.1-1.2-2.5 2-.8-.8 .4-1.3-.4-1.2-.4-.1-1.2 2.6 .6 1.2-.7 1.4 0-2.6-1.2-.5-.9-2-2.4-1.2-.4-1.6-1.3-.2-1.2 2-2.5 .3-1.2 .6-1.3-1.9-.7 2 .9 1.2-1.4 2-.8-.7 .1-1.3-1.4-2.4 1.4-1.3-.5-.9-1.3-.3-.7 1.2 .1 2.5-.6 1.4-.2-1.4-1-1.4-1.3 .5-1.2 1.9-2.5 1.7-2.3-3.9 .3-1.3-.5-1.3-3.7 .2-1.2 1.9-.2-.8-1.1-1.1-1.3 1.1-.4 3.7-.7 1.1-3.5-2.3-.3-1.2-.9-1.3-1.5-.5-.2-.7-1.9-2.5-.4-1.7-1.2 1-2.5 .4-1.2-1.3-1.3-2.5-1.2 0-1.3 1.1-1.2 0 0 8.5 1.1 .7-1.1 2.1 0 2.4 .6 .4-.6 1.4 0 1.6 1.2-.4 .9 1.2-.5 1.2 .5 1.2 1.6-.1 1.3-.7 1.2 1.2 1.2-.7 1.1-.9 .4-1.2 1.9-1.3-.6-1.2 .9-1.5 .4 .2 .1 2.5 1.3 1.3-.9 1.2 .4 .7 1.2 .3 1.3-2.2 2.4-.4 .9 .4 0 1.2 1.4 1.2 .2 .9 .7-2.1 .5-5 1.3 0-.3 1.3 .3 .3 1.2 .6 1.3-.2 .4 .5-.4 1.3-1.3 1.4 2.5 .3 .7-.5 .5-1.6 1.3-.6 .9 1-.4 1.2 .7 .7 2.5-1.4 1.2 1.1 2.5 .1 2.5-2.1 .8 .4 .4 1.8 3.1 .6-.6 1.3 1.2 .6 1.1-3.1-.3-1.2 .5-.4 .3 .4-.3 1.2 1.2 1.3 .1 2.4 .7 1.3 0 1.2zM131.8 521l.4 0-.2 .3zM90.5 518.6l.7-.3 0 .7zM69.9 517.3l1.5-1.8 .6 .6-.6 2.5-1.3-1.1zM83.3 516.1l.4-.5 0 .9zM117.8 516.1l1.8-2.3 .9 1-.9 1.7-1.2 0zM59.6 508.7l.6-1.9 .9 .6-.1 1.3-.8 .7zM154.2 507.4l.1-.3 .1 .3-.1 1zM210.9 461.6l.3-.5 .5 .5-.5 .3zM217 431.8l.4-.6 .3 .6-.3 .2zM238 418.2l.5-1.2 .3 1.2-.3 .8zM232.7 417l-.1-1.3 .9-2.3 .6 1.1 .1 1.2-.7 1.6zM245.8 412l0-1.2-.5-1.3 .1-1.2 .5-.5 .5 1.7-.4 1.3 .2 1.2-.3 .1zM239.4 409.5l.3-.8 .5 .8-.5 .6zM237.7 405.8l2-1.3 .4 1.3-.4 .7-1.2-.1zM250.8 403.4l.4 0-.4 0zM260.5 400.9l-.2-1.3 .4-.5 1.3 .1 .6 .4-1.9 1.4zM256.9 398.4l-.1-1.2-.8-1.3 .7-1.2 .3-1.7 .4 .4 .1 1.3 .8 .8 2.4 .2 0 .3-1.2 .1-2.5 2.4zM256.9 391l-.1-1.3 .2-.3 .2 .3-.2 1.4zM263 389.7l.2-.2 .6 .2-.6 .2zM270.4 387.2l.2-.3 .3 .3-.3 .2zM250.2 383.5l.6-.8 1.3 0 0 1.1-1.3 .6zM256.8 377.3l.2-.3 1.2 .3-1.2 .5zM250.1 374.9l.7-.9 .6 .9-.6 .9zM256.7 374.9l-.1-1.3 .4-.3 0 1.7zM242.1 340.2l-.5-1.3 .6-.8 .3 .8-.3 1.4zM123.3 525.2l.3-.4-.3-.8-.3 .8zM92.4 523.8l.6-.3-.6-.4-.2 .4zM117.2 511.9l2.2-2-2.2-.7-.7 .7-.3 1.2zM127.1 507.5l.3-1.3-.3-.3-.3 .3 .2 1.2zM80 505.9l1.4-2.2-1.4 .4-.1 .8zM89.9 505.8l.4-.9-.4-.4-.3 .4zM92.4 504.1l1.2 .7 .7-1.1-.7-1.8-1.8 1.8zM222.4 422.3l.3-.4-.5 0zM224.8 415.8l1.4-.1-1.4 0zM227.3 414.1l1.3-.5 0-.3 0-.4-1.4 .4zM56.9 403.4l.8-.4 1.3 .7 1.2 .1 1.3-1.6 1.2-.4 1.2 0 2.5 1.1 2.5-1.3 1.2-.3 1.3-1.1 1.2-.4 3.7-.3 1.2-.8 1.3-.2 1.2 .6 2.2-1.9 .4-1.3 1.1-1.2 1.3-.4 1.2 .6 1.2-3.7 1.3-.7 1.2 0 2.5-2.2 1.1-2.3-.4-1.2 .5-2.6 .3 1.3 1 1.3 1.2-.3 .7-1 .5-3.4 2.5-3.2 1.3-.6 .5-1.4-.5-3.4-1.5-1.6-.1-2.5-1.2-1.2-1-2.4-1.2 1.3-1-1.4 1-1.7 1.2-.5 .4-1.5-.4-.6-1.2 .9-.3-.3 .3-1.9 1-.6-2.3-1.2 1.3-2.9 2.3-2.1-1.1-.7-1.2 .4-.9-.9 2.1-.7 2.5-2.8 .4-1.5 .9-.8 1.2 1 1.2-.2 1.3-3.3 2-1.6 .4-1.1 1.3 .1 1.3-1.5-1.3-1-1.3 2-1.2 0-1.2 .5 0-1 2.4-1.9 1.3-.2 1.2-2 1.3-1.1 1.2 0 1.2-1.9 2.4-2.1 .3-1.2 1.1-.9 1.2 .1 .7-1.7-.6-1.2 1.1-2.1 1.3-.4 2.4-2.1 1.3 .7 2.5-.7 2.2-1.6-1-2.5 .3-1.2-.3-.9-1.2-.4-1.3 1.7-.7-1.7 .7-.9 1.3 .6 .4-2.2 2-2.2 1.3 0 .9-1.5-.9-.4-1.3 1.4-1.2 .1-.5-1.1 .5-2.1 2.5-.1 1.2-1.1 1.1 .8-.5 1.3 .6 1 1.3-.3 1.2-1.9 1.3-.5 .2-.8-2.3 0-.4 .3-1-.3-4.6 0-.6 1-.4-1-13.3 0-1.2 2.3-1.2 .2-1.4 1.2-2.8 3.7 1.1 1.3-.7 1.2-.3 2.5-.9 .7-1.2-.6-.7 1.1 .7 1.2 1.2-.1-.4 1.4 .4 1.2 1.3 .2 1 3.6-.4 1.2-1.6 2.5 2 1.2-.7 1.3-2.8 1.8-.8-.6-.2-1.2-1.5-1.1-1.2 3.3-.5 .2 .7 1.3-.2 2.3-3.7 1.8-.9 .8-1.6 2.9-1.2-.6-1.3 1.2-1.1 4 .3 2.4-.4 2.9-1.2-1-2.5 .4-1.3 1.9-1.2 .2-1.1-1.9-.1-1.6-.8 .4-1.9 3.7 .6 1.2-.8 1.3 .4 4.5 1.2 .6 .5 1.1-.4 1.2 .4 1.2 1.4 1.3-.4 1.2 1 .7 1.2-1.4 1.3 .7-.1 1.3-.9 1.2 1.4 1.2 .1 1.3-.6 1.2 .7 1.3-.6 1.7-1.3 .5-1.2 1.7-.4 2.2 .3 2.5-.4 1.3 .7 1.2-.2 1.4-1.2 1.5-3.7 2.5-1.3 2-1.2 .6-.8-.6-.2-2.4-.3-.3-1.2 1-1.2-.3-.4-.4 .1-1.3-1-.6-1.9 1.9-.7 1.2 .2 .7 1.2-.2 .1 .7-.6 1.3-.7 .3-2.1 2.2-1.7 .3-1.2 1.2-1.1-.3-.3-1.2-2.3 0-.2-1.3-1-1.3-1.7 1.3-.8 1.2-1.3 0-1.2 1 0 5.4zM94.8 376.1l-.3-1.2 .4-.7 .3 .7-.3 1.4zM86.7 355l.7-.8 .6 .8-.6 .6zM119.3 319.1l.3-1.4 0 1.7zM125.7 316.6l.1-.5 1.6 .5-1.6 .2zM265.7 403.2l.8-1.1-.2-1.2-.6-.6-1 1.8zM239.7 387.4l2.4-1.4 .9-1.2-2.1-.3-1.2-1 0-1.8-.6 .6 .6 1.2-.1 3.7zM80 370.5l.8-3.1-.8-.9-.8 .9 .7 2.5zM248.4 367.3l.4-1.1-.4-1.3-.3 1.3zM78.8 365.4l1.2-.3 .3-1.4-.3-.5-1.2 .5-.3 1.2zM248.4 362.8l.7-1.6-.7-.5-.8 .5 .3 1.3zM244.6 352.7l0-1.4-.1 1.3zM247.1 350.9l1.1-.8-1.1-1.2-.3 1.2zM98.6 335.5l1.2-.1 1.8-1.4-.5-.6-1.3 .4-1.5 1.4zM236 333.2l1.9-1.7-.7-.9-1.2 .9-.7 1.2zM233.5 330.4l1.2-1.1 2.3 .8-1.8-1.8-1.8 .7-.5 1.3zM103.5 328.8l.3-1-.3-.6-1.1 .6zM232.3 327.9l2-.6-2-1.6-.4 .8 .3 1.3zM130.8 318.1l0-3-.6 1.5 .2 1.3zM108.5 307.1l.5-.4 .5-1.2-1-.8-1 2zM137 307.2l0-1.2-.9 .7zM106 303.3l.8-.3-1.1 0z" clip-path="url(#p9298c22aac)" style="fill: #31668e; stroke: #615252; stroke-opacity: 0.8; stroke-width: 0.9"/>
<path d="M57.7 526l35.7 0 .2-.3 .2 .3 9.3 0 0-1.2-.7-1.3-.1-2.4-1.2-1.3 .3-1.2-.3-.4-.5 .4 .3 1.2-1.1 3.1-1.2-.6 .6-1.3-3.1-.6-.4-1.8-.8-.4-2.5 2.1-2.5-.1-1.2-1.1-2.5 1.4-.7-.7 .4-1.2-.9-1-1.3 .6-.5 1.6-.7 .5-2.5-.3 1.3-1.4 .4-1.3-.4-.5-1.3 .2-1.2-.6-.3-.3 .3-1.3-1.3-.1-.5 5.1-.7 2.1-.2-.9-1.4-1.2 0-1.2-.9-.4-2.4 .4-1.3 2.2-1.2-.3-.4-.7 .9-1.2-1.3-1.3-.1-2.5-.4-.2-.9 1.5 .6 1.2-1.9 1.3-.4 1.2-2.3 1.6-1.2-1.2-1.3 .7-1.6 .1-.5-1.2 .5-1.2-.9-1.2-1.2 .4 0 8.2zM92.2 523.5l.2-.4 .6 .4-.6 .3zM111 526l3.4 0-2.2-1.5-1.2 0-.8 1.5zM118.4 526l2 0-2-1.6-.8 1.6zM122.1 526l3.6 0 .1-1.2-2.5-1.7-1.2 0-1 1.7 .6 1.2zM123 524.8l.3-.8 .3 .8-.3 .4zM132 526l12.9 0-.6-2.5 1.3-1.9 .7 .7 .6 1.5 4.9-3.7 1.2-.1 1.8-2.7-.8-1.2 1.5-2.3 2.5-1.7 1.2-.4 1.3-2 2.4-.5 1.3-2.1 1.6-.9 4.6-6 2.7-2.7 1-1.8 1.2-.5 1.3-1.3 1.2 .2 2.5-1.5 1.2-.2 5-3.9 1.2-.3 2.5-2.5 3.7-2.4 2.5-2.9 1.2-.1 5-3.9 1.2-.4 2.5-3.3 3.7-1.8 1.2-1.4 2.5-1.8 1.2-2.6 1.1-1 .4-1.3-.7-1.2 .8-1.3 .2-1.2-.5-1-1.3 .1 0-.3 1.3-.3 1.2-2.3 1.3-1.2 .7-1.2 0-2.5 1.7-2.9 1.3-.8 1.2-7.5 1.2 .8 1.3-.3 1.2-1.1 .6-1.8-.5-1.2 .3-1.3 .9-1.9 1.2-1.4 1.2 .4 2.5-2.7 2.5-.6 1.2 1.9 1.3-.3 1.2-1.1 .8 .8-.1 1.2 .5 1.2 2.5-1.4 .4 .2 .8 1.7 1.3 0 .9 .8 .2 1.2 1.1 1.3 .3 .9 1.2-1.4 1.2 .5 2.5-.9 1.2 0 1.7-2.9-.4-1.4 2.5 1.2 1.2-.2 .6 1.7 1.3 1.2 .6 1.5 1.2-.2 .9 1.2 .3 1.6 1.3-.3 .4-1.3-1.1-1.2 1.9-3.5 1.3 .4 .3-1.9-.3-.9-1.3 1.9-1.2 .1-.4-1.1 3.5-3.7-.1-1.3-.6-1.2 1.3-1.9 1.2-.1 2.8-4.2-.3-.5-1.2 .4-.4-1.1 .2-2.5-.3-1.2 .5-1.9 1.2 0 .3-.6 2.2-1.2 .6 2.4 .6 .6 0-5.5-1.2-1.3 0-4.9-1.3-1.3 0-3.7-1.2-1.2 0-3.7-.4-.5-.8 1-2.5 .4-1.2-.3-1.3-4.5-.7 1.4-.5 2.8-3 2.1 .5 .9 1.7 .4-2.2 3.7 1.1 1.2-.6 1.7-3.7 2.4-.5-.3-.5-2.5-1.5 .2-1.2 1.2-.3-.2 .2-2.5-1-1.2 .3-1.2-.3-1.3-1.4 .5-1.5 2 1.4 1.2-1.6 2.5 .5 .8 1.4 .5-.9 2.4-1.2 1.3 1.9 .5 1.2 1.8 1.3-.2 .3 .3-.7 2.5-.9 .6-1.2 1.8-1.2 .2-1.3 1.3-2.4 1.5-1.3 1.6-1.2 .2-2.5 2.7-1.2 .3-1.3 1.2-.7-.2 .4-1.3-.3-1.2-.6-.4-1.2 .2-1.3 4.1-1.2-.4-2.5 .9-1.2 .7-1.3 1.6-1.2 0-1.2-.5 0-1.5-1.8 1.5 .6 1.2-2 3.7-.6 .7-1.2-.1-.9 .7-1.6 2.9-1.4 .8-.6 1.2-1.4 3.8 .3 3.7-1.4 2.5 .1 1.2-.5 1.5-1.3-1.2-1.2-.2-.8 1.1-.4 4.3-1.3 1.6-.2 1.6 .2 .2 1.3-.8 .5 4.3-.2 1.2-1.6 .8-1.2 1.9-2.5 1.7-2.5 .6-1.2 3.7-1.7 2.5-4.5 3.7-1.2-.4-1.3 .3-1.7 1.3-2 2.6-2.5 1.9-1.2 2.4-1.2-.1-1.3 .5-2.3 1.4-1.4 1.5-1.2 .2-2.5 1.4-1.2-.1-5 4.9-1.2 .7-2.5 3-3.7 2.1-1.3 2.9-1.2 .4-1.2 0-1.3 2.8-2.4 1.6-1.3 .2-1.2-.5-1.3 3.2-1.2 .6-1.7-.1-.9-1.3-1.1-.3-1 1.6 .4 2.4-.6 1.1-1.3-.6-.4-1.7-.8-.7-2.2 3.2 1.4 1.2-.1 1.3-2.8 3-1.3-.1-.7-.5 .2-2.4-.7-.3-1.2 1.5-2.5 .3-1.2 2.2-1.3 .3-1.2 2.2 .7 1.2zM150.4 518.6l.6 0-.4 .2zM265.5 426.9l.2-.4 .4 .4-.4 .4zM264.4 414.5l0-.3 0 .4zM265.1 413.3l.6-.2 0 .5zM264.7 402.1l1-1.8 .6 .6 .2 1.2-.8 1.1zM132 521.3l.2-.3-.4 0zM91.2 519l0-.7-.7 .3zM70.1 517.5l1.3 1.1 .6-2.5-.6-.6-1.5 1.8zM56.5 516.1l.6-1.3-.6-.4 0 1.8zM83.7 516.5l0-.9-.4 .5zM56.9 511.1l.7-1.2-1.1-.7 0 2.8zM60.2 509.4l.8-.7 .1-1.3-.9-.6-.6 1.9zM154.3 508.4l.1-1-.1-.3-.1 .3zM211.2 461.9l.5-.3-.5-.5-.3 .5zM271.9 441.5l.5-1-.5-.7-.5 .7zM271.9 438.3l.4-1.5-.4-.7-1.4 .7 .2 1.2zM274.3 426.8l.8-1.2-.8-.7-.5 .7zM238.5 419l.3-.8-.3-1.2-.5 1.2zM276.8 415.8l1.3-.4 0-.9-.6-.6-.7 .5 0 1.3zM250.8 403.4l.4 0-.4 0zM260.7 401l1.9-1.4-.6-.4-1.3-.1-.4 .5 .2 1.3zM66.4 398.7l1.2-1.2 1.7-.3 2.1-2.2 .7-.3 .6-1.3-.1-.7-1.2 .2-.2-.7 .7-1.2 1.9-1.9 1 .6-.1 1.3 .4 .4 1.2 .3 1.2-1 .3 .3 .2 2.4 .8 .6 1.2-.6 1.3-2 3.7-2.5 1.2-1.5 .2-1.4-.7-1.2 .4-1.3-.3-2.5 .4-2.2 1.2-1.7 1.3-.5 .6-1.7-.7-1.3 .6-1.2-.1-1.3-1.4-1.2 .9-1.2 .1-1.3-1.3-.7-1.2 1.4-1-.7 .4-1.2-1.4-1.3-.4-1.2 .4-1.2-.5-1.1-1.2-.6-.4-4.5 .8-1.3-.6-1.2 1.9-3.7 .8-.4 .1 1.6 1.1 1.9 1.2-.2 1.3-1.9 2.5-.4 1.2 1 .4-2.9-.3-2.4 1.1-4 1.3-1.2 1.2 .6 1.6-2.9 .9-.8 3.7-1.8 .2-2.3-.7-1.3 .5-.2 1.2-3.3 1.5 1.1 .2 1.2 .8 .6 2.8-1.8 .7-1.3-2-1.2 1.6-2.5 .4-1.2-1-3.6-1.3-.2-.4-1.2 .4-1.4-1.2 .1-.7-1.2 .7-1.1 1.2 .6 .9-.7 .3-2.5 .7-1.2-1.1-1.3 2.8-3.7 1.4-1.2 1.2-.2 1.2-2.3-8.6 .3-13.6-.3 0 2.1 1.4 .4 0 1.2-3 3.7 1.6 .4 1.2-1.9 .3 .3 1.1 5-.1 2.4 .8 1.3-.5 2.4 .2 1.3 .7 1.2-1.2 2.2-1.3-.7-1.2 1-.4 1.2-.8 .9-3.8-1.5-1.2 1.1-.4 .8 .8 2.5-.4 1.2 .1 1.2 1.2 1.3-.7 2.4 .4 1.3-1 1.2-.9-1.2-1.6-.9-1.2 1.3-2.5 .9-1.8-1.3-.7-1.6-1.2-.1-.2 .4 .7 1.3-1.7 3.3-1.3 .2-1.2 1.1-1.4 .3-.3 3.8-.8 3.1-1.2-.7-1.3-2-1.6 .8-2.1 2-1.2 .1-1.1-.9 .1-1.2-.2-.3-.5 .3-.8 5 .9 2.4-.1 1.3 .5 .7 1.2-.5 1.2-2.7-.6-1.2 .6-1 .7 1-.7 1.2 2.5 .7 .3 .5-.2 1.3 1.4 2.5 .6 2.4-.9 2.5-4.9 3.7 0 1.7 1.2-.1 .2 .9-.8 1.2 .2 2.5-1.1 2.5 .3 1.1 .4 .1-.3 3.7 1 2.5-.7 1.3-.1 1.2 .9 1.2-1.2 2.1-1.6-.8 .2-1.3-1.1-2.4-.8 2.4-.4 .7-.5-.7 .2-2.4-1.3-1.3 1.1-1.2-.1-1.3-1-1.2-.9-2.3 0 20.6 1.2-1 1.3 0 .8-1.2 1.7-1.3 1 1.3 .2 1.3 2.3 0 .3 1.2zM62.6 392.2l.1-.5 .3 .5-.3 .1zM74.2 383.5l.1-1.2-.5-.7-2-.6-.8-1.2 .4-6.2 2.4 .2 .6 1.1-.3 1.2 1.7 1.2-.1 5-.2 1.2-.4 .3zM67.4 381l.2-.2 0 .3zM78.4 379.8l.4-.5 .3 .5-.3 1.1zM64.5 377.3l.7-.1 0 .3zM71.2 372.4l.2-.9 .4 .9-.4 1.2zM79.9 369.9l-.7-2.5 .8-.9 .8 .9-.8 3.1zM66.7 366.2l.9-.8 .7 .8-.7 .7zM78.5 364.9l.3-1.2 1.2-.5 .3 .5-.3 1.4-1.2 .3zM76.1 352.6l.2-1.9 .6 .6-.6 1.7zM76.3 348.8l-1.2-1.2 0-1.4-1-1.1-1.5 0-.1-1.2 2.6-2.2 1.1 .9 .4 3.8-.3 2.5zM98.3 335.2l1.5-1.4 1.3-.4 .5 .6-1.8 1.4-1.2 .1zM91.1 334l1.3-.9 .3 .9-.3 .4-1.2-.4zM94.7 331.5l.4 0-.2 .4zM91.1 330.3l.1-1.3 1.2-.6 .9 .6-2.1 1.4zM94.2 327.8l.7-2.1 1.2 .7-1.2 2.1zM102.4 327.8l1.1-.6 .3 .6-.3 1zM97.2 311.7l1.9-1.3-.5-.7-1.3 .1-.8-.6 0-1.2 .8-1.8 2.5-1.1 .6 .4 .3 3.7-.7 1.2 .1 1.3-2.8 .2zM107.5 306.7l1-2 1 .8-.5 1.2-.5 .4zM97.1 304.2l.2-.7 0 1.2zM257 398.5l2.5-2.4 1.2-.1 0-.3-2.4-.2-.8-.8-.1-1.3-.4-.4-.3 1.7-.7 1.2 .8 1.3 .1 1.2zM257 391.1l.2-1.4-.2-.3-.2 .3 .1 1.3zM263.2 389.9l.6-.2-.6-.2-.2 .2zM270.6 387.4l.3-.2-.3-.3-.2 .3zM270.6 383.7l-1.2-1.4 0-2.5-1.2-1.2 0-1.3-1.3-.9-1.3 2.2 1.3 .7 1.3-.2 .5 .7 .4 1.2-.1 1.3 .6 1.2zM60.2 378.9l.2-.3-.3 0zM94.9 376.3l.3-1.4-.3-.7-.4 .7 .3 1.2zM62.7 360.4l.8-1.6-.8-.3-.5 1.5zM87.4 355.6l.6-.6-.6-.8-.7 .8zM86.2 324.5l.4-.4-.4-.7-.3 .7zM92.4 318.4l.4-.5-.1-1.3-.4 0-.1 1.3z" clip-path="url(#p9298c22aac)" style="fill: #2c728e; stroke: #615252; stroke-opacity: 0.8; stroke-width: 0.9"/>
<path d="M145.6 526l9.6 0 .3-.7 1.3-.2 1.2-1.6-.4-2.5 .5-1.2 1.1-1.6 1.4-.9 .3-1.2 .8-.3 1.2 .5 .8-1.5-.3-1.2 .5-1.2 3.7-3.7 4.5-7.5 2-2.5 4.7-2.4 1.5-1.6 1.2 .2 5-4.8 1.2 0 6.2-3.5 1.2-1.5 1.3-2.5 1.2 .2 5-3.5 1.2-.1 4.9-4.3 2.5-.8 1.3-1.2 1.2-.5 1.2-1.6 1.3-.9 1.4 .3 .6-2.4 1.4-1.3 1.5-2.2 1.3-.6 .6-.9-.6-.4-1.3 .8-.4-1.6 1.7-1.3 .8-1.2 .4-1.2-.6-1.3 1.8-2.3 1.4-.2 2-2.4 1.1-2.5-.4-2.5 .7-2.5 .7-1.2 .9-3.7 1.2-1.3-.5-2.4 1.6-2.1 1 .8 .2 1.3 1.3 0 1 1.2 .2 1.3 1.3 1 1.2-1.4 .2 1.6 2.3 1.6 1.7-1.6 2-.7 1.2 .5 1.3 3.3 2.4 2 2.5 3.1 1.8 .5 .7 2.4 1.2-.8 1.3 .1 .4 .7 .1 1.3 .7 .5 1.2 .1 .6 .6-.6 1.3 1.3 .7 1.1-.8 .4-1.2 .9-1 1.3 1 0 1.4 2 1.1 .2 1.2-1.2 1.3 .2 .7 1.3-.1 .7 .6-.1 1.2-.8 1.3 .7 2.5-.3 1.2 2.4 1.2-.5 1.3-2.5 1.2 .3 1.2 2.5-.7 1.3-1.7 1.8 3.1 .6-.7 0-3.7 1-.9 0-1.5-.7-1.3 1-2.5 1.2-1.2 0-6.2 1.3-1.2 0-17.4 .8-.9 .1-.6-.9-1 0-16.4-1.3 .3 0-1.3 .7-.5-1.3-1.9-.6-2.4-2.2 1.2-.3 .6-1.2 0-.5 1.9 .3 1.2-.2 2.5 .4 1.1 1.2-.4 .3 .5-2.8 4.2-1.2 .1-1.3 1.9 .6 1.2 .1 1.3-3.5 3.7 .4 1.1 1.2-.1 1.3-1.9 .3 .9-.3 1.9-1.3-.4-1.9 3.5 1.1 1.2-.4 1.3-1.3 .3-.3-1.6-.9-1.2-1.2 .2-.6-1.5-1.3-1.2-.6-1.7-1.2 .2-2.5-1.2 .4 1.4-1.7 2.9-1.2 0-2.5 .9-1.2-.5-1.2 1.4-.3-.9-1.1-1.3-.2-1.2-.9-.8-1.3 0-.8-1.7-.4-.2-2.5 1.4-.5-1.2 .1-1.2-.8-.8-1.2 1.1-1.3 .3-1.2-1.9-2.5 .6-2.5 2.7-1.2-.4-1.2 1.4-.9 1.9-.3 1.3 .5 1.2-.6 1.8-1.2 1.1-1.3 .3-1.2-.8-1.2 7.5-1.3 .8-1.7 2.9 0 2.5-.7 1.2-1.3 1.2-1.2 2.3-1.3 .3 0 .3 1.3-.1 .5 1-.2 1.2-.8 1.3 .7 1.2-.4 1.3-1.1 1-1.2 2.6-2.5 1.8-1.2 1.4-3.7 1.8-2.5 3.3-1.2 .4-5 3.9-1.2 .1-2.5 2.9-3.7 2.4-2.5 2.5-1.2 .3-5 3.9-1.2 .2-2.5 1.5-1.2-.2-1.3 1.3-1.2 .5-1 1.8-2.7 2.7-4.6 6-1.6 .9-1.3 2.1-2.4 .5-1.3 2-1.2 .4-2.5 1.7-1.5 2.3 .8 1.2-1.8 2.7-1.2 .1-4.9 3.7-.6-1.5-.7-.7-1.3 1.9 .6 2.5zM221 457.9l.4 0-.3 .2zM263.3 450.4l1.1-1.5 0 1.9zM256.6 448l.1-3.8-.7-1.2 1-2.3 1.1 1.1-.8 2.4 .5 2.5-.8 1.7zM252.9 445.5l.4-1.5 1.2-.1 .2 .3-1.4 1.5zM271.4 440.5l.5-.7 .5 .7-.5 1zM270.7 438l-.2-1.2 1.4-.7 .4 .7-.4 1.5zM273.8 425.6l.5-.7 .8 .7-.8 1.2zM150.6 518.8l.4-.2-.6 0zM266.9 466.9l.9-.4-1 0zM238.5 440.7l.2-.2-.2-.5-.1 .5zM265.7 427.3l.4-.4-.4-.4-.2 .4zM264.4 414.6l0-.4 0 .3zM265.7 413.6l0-.5-.6 .2zM62.7 392.3l.3-.1-.3-.5-.1 .5zM61.5 388.9l1.2 .4 1.2-2.1-.9-1.2 .1-1.2 .7-1.3-1-2.5 .3-3.7-.4-.1-.3-1.1 1.1-2.5-.2-2.5 .8-1.2-.2-.9-1.2 .1 0-1.7 4.9-3.7 .9-2.5-.6-2.4-1.4-2.5 .2-1.3-.3-.5-2.5-.7 .7-1.2-.7-1-.6 1 .6 1.2-1.2 2.7-1.2 .5-.5-.7 .1-1.3-.9-2.4 .8-5 .5-.3 .2 .3-.1 1.2 1.1 .9 1.2-.1 2.1-2 1.6-.8 1.3 2 1.2 .7 .8-3.1 .3-3.8 1.4-.3 1.2-1.1 1.3-.2 1.7-3.3-.7-1.3 .2-.4 1.2 .1 .7 1.6 1.8 1.3 2.5-.9 1.2-1.3 1.6 .9 .9 1.2 1-1.2-.4-1.3 .7-2.4-1.2-1.3-.1-1.2 .4-1.2-.8-2.5 .4-.8 1.2-1.1 3.8 1.5 .8-.9 .4-1.2 1.2-1 1.3 .7 1.2-2.2-.7-1.2-.2-1.3 .5-2.4-.8-1.3 .1-2.4-1.1-5-.3-.3-1.2 1.9-1.6-.4 3-3.7 0-1.2-1.4-.4 0-2.1-14.9 0-.4 1.2 .8 1.3-.4 2.5 .8 1.2-.8 7.1-.4-3.4-1.8-1.2 .4-1.3-.4-1.2 .1-2.5-.3-.8-1.3 .2-1.3-.6 1.7-1.3 .2-1.2-3.5 0-.8 .8-1.2-.8-1.5 0-.8 1.2 .1 2.5 .9 1.3 1.3-.1 1.2-1.7 1.3 0 .9 .5-.8 1.3-.2 1.2 1.3 2 1.2 .7 .7 1-.5 2.5 .5 1.2-.2 1.3-.9 2.4-1.4 1.3 2 1.2-1.4 1.3-.5 1.2 .5 .7 1.8 .5-1.8 3.2-1.2 .9-1.3-.3-1.2 1.5-.5-.3-.2-1.2-1.3-2.5-.4-2.5-1.3 .1-3.7 4.8-1.3-.6-2.2 3.1 1.4 1.3 .1 2.4 .7 1.3-1.2 2.5 .3 1.2-.3 1.5-.3-1.5-1-1.2-1.2 0 0 37.3 .9 2.3 1 1.2 .1 1.3-1.1 1.2 1.3 1.3-.2 2.4 .5 .7 .4-.7 .8-2.4 1.1 2.4-.2 1.3zM60.1 378.6l.3 0-.2 .3zM62.2 360l.5-1.5 .8 .3-.8 1.6zM62.2 340.2l.5-.6 .3 .6-.3 .3zM61.2 331.5l.3-1.1 1.2 .5 0 .8-1.2 .2zM71.8 331.5l.8-.7 .5 .7-.5 .8zM85.9 324.1l.3-.7 .4 .7-.4 .4zM92.2 317.9l.1-1.3 .4 0 .1 1.3-.4 .5zM87.2 316.6l.1-1.2 .4 0 .1 1.2-.4 .4zM75.1 383.8l.4-.3 .2-1.2 .1-5-1.7-1.2 .3-1.2-.6-1.1-2.4-.2-.4 6.2 .8 1.2 2 .6 .5 .7-.1 1.2zM67.6 381.1l0-.3-.2 .2zM78.8 380.9l.3-1.1-.3-.5-.4 .5zM65.2 377.5l0-.3-.7 .1zM71.4 373.6l.4-1.2-.4-.9-.2 .9zM67.6 366.9l.7-.7-.7-.8-.9 .8zM76.3 353l.6-1.7-.6-.6-.2 1.9zM76.3 348.9l.3-2.5-.4-3.8-1.1-.9-2.6 2.2 .1 1.2 1.5 0 1 1.1 0 1.4 1.2 1.2zM57.1 338.9l-.6-1.3 0 2.5zM56.5 335.2l.3-1.2-.3-.4 0 1.7zM91.2 334l1.2 .4 .3-.4-.3-.9-1.3 .9zM94.9 331.9l.2-.4-.4 0zM91.2 330.4l2.1-1.4-.9-.6-1.2 .6-.1 1.3zM94.9 328.5l1.2-2.1-1.2-.7-.7 2.1zM63.9 325l.7-.9-.8 0zM68.9 315.6l.6-1.4-.6-1.3 .7-2.5-.7-.8-.7 .8 .6 2.5-.1 2.5zM97.3 311.9l2.8-.2-.1-1.3 .7-1.2-.3-3.7-.6-.4-2.5 1.1-.8 1.8 0 1.2 .8 .6 1.3-.1 .5 .7-1.9 1.3zM97.3 304.7l0-1.2-.2 .7z" clip-path="url(#p9298c22aac)" style="fill: #277e8e; stroke: #615252; stroke-opacity: 0.8; stroke-width: 0.9"/>
<path d="M155.5 526l10.3 0-.2-2.5 .5-2.5-1-1.2 .3-1.3 2.5-3.7 0-1.2 1.5-2.5 1-3.9 2.5-2.8 1.2-2.6 2.5-2.1 2.4-1.1 1.3-1.3 2.5-1 3.7-3.8 2.4-.8 2.3-1.6 3.9-1.1 1.3-3 6.2-4.2 2.4-.1 1.3-.9 1.2-.2 2.5-1.9 2.5-1 1.2 .5 1-.5 .2-1.7 1.3-1.8 1.2 1.7 2.5-.1 2.5-4.1 1.3 1 1.5-3.7-.4-1.2 .1-3.7 1.2-2.3 2.5-1 .2 .8 1 .5 .2-3 1-1.8 2.5-.8 .6-1.1-.1-1.3-1.1-1.2 .5-1.2-.4-3.7 1.2-2.5-.9-1.3 .2-1 1.2-.1 .6 1.1 1.9 .5 1.3 1 2.4-1.5 1.9 1.3 .6 1.3 2.3 1.2 .2 1.4 1.2-2.7 .1 1.3 1.2 2.4 1.2 .7 1.2-.9 2.5 .2 1.6 1.3 2.4 3.7 2.9 4.9 .3 1.3-.8 2.5-2.4 2.4-1.5 4.3-1.7 1.9 .4 1.1 1.3-.4 .2 .6-.2 .6-1.3-.3-1 3.4 1 .6 1.3-1 .5 .4 .5 1.2-.4 1.3 1.5 1.2 .4 2.1 1.2-1.7 1.2-.3 1.1 1.1-1.3 2.5-2.1 1.3 1.1 .5 1.2-.5 1.3 .6 .2 .6-2.7 2.2 0 .8 1.2 .1 1 .6-.1 1.3 .4 .6 .6-4.4 .6-.5 .3 3 1.6 1.3-.1 1.2 .7 .7 0-1.9 1.2-1.3 0-1.2 1.3-1.3 0-1.2 1.2-1.2 0-2.5 1.2-1.3 0-2.4 1.3-1.3 0-2.5 1.2-1.2 0-3.7 .6-.6-1.8-3.1-1.3 1.7-2.5 .7-.3-1.2 2.5-1.2 .5-1.3-2.4-1.2 .3-1.2-.7-2.5 .8-1.3 .1-1.2-.7-.6-1.3 .1-.2-.7 1.2-1.3-.2-1.2-2-1.1 0-1.4-1.3-1-.9 1-.4 1.2-1.1 .8-1.3-.7 .6-1.3-.6-.6-1.2-.1-.7-.5-.1-1.3-.4-.7-1.3-.1-1.2 .8-.7-2.4-1.8-.5-2.5-3.1-2.4-2-1.3-3.3-1.2-.5-2 .7-1.7 1.6-2.3-1.6-.2-1.6-1.2 1.4-1.3-1-.2-1.3-1-1.2-1.3 0-.2-1.3-1-.8-1.6 2.1 .5 2.4-1.2 1.3-.9 3.7-.7 1.2-.7 2.5 .4 2.5-1.1 2.5-2 2.4-1.4 .2-1.8 2.3 .6 1.3-.4 1.2-.8 1.2-1.7 1.3 .4 1.6 1.3-.8 .6 .4-.6 .9-1.3 .6-1.5 2.2-1.4 1.3-.6 2.4-1.4-.3-1.3 .9-1.2 1.6-1.2 .5-1.3 1.2-2.5 .8-4.9 4.3-1.2 .1-5 3.5-1.2-.2-1.3 2.5-1.2 1.5-6.2 3.5-1.2 0-5 4.8-1.2-.2-1.5 1.6-4.7 2.4-2 2.5-4.5 7.5-3.7 3.7-.5 1.2 .3 1.2-.8 1.5-1.2-.5-.8 .3-.3 1.2-1.4 .9-1.1 1.6-.5 1.2 .4 2.5-1.2 1.6-1.3 .2-.3 .7zM259.4 480.2l-.3-1.3 .4-.7 1.3 .7-1.3 2zM266.8 466.5l1 0-.9 .4zM230.6 454.1l.4-.6 .7 .6-.7 .9zM238.4 440.5l.1-.5 .2 .5-.2 .2zM275.3 465.6l.3-.3 0-4.3-1 1.8 .7 1.3 0 1.2zM233.5 460.2l.5-1.1-.5-1.7-.7 1.7zM221.1 458.1l.3-.2-.4 0zM264.4 450.8l0-1.9-1.1 1.5zM257 448.4l.8-1.7-.5-2.5 .8-2.4-1.1-1.1-1 2.3 .7 1.2-.1 3.8zM253.3 445.7l1.4-1.5-.2-.3-1.2 .1-.4 1.5zM278.9 433.4l.4-.3-.3-.3-.1 .3zM59 342.9l.3-1.5-.3-1.2 1.2-2.5-.7-1.3-.1-2.4-1.4-1.3 2.2-3.1 1.3 .6 2.4-3.5 1.3-1.3 1.2-.2 .5 1.3 0 1.3 1.3 2.5 .2 1.2 .5 .3 1.2-1.5 1.3 .3 1.2-.9 1.8-3.2-1.8-.5-.5-.7 .5-1.2 1.4-1.3-2-1.2 1.4-1.3 1.1-3.7-.5-1.2 .5-2.5-.7-1-1.2-.7-1.3-2 .2-1.2 .8-1.3-.9-.5-1.3 0-1.2 1.7-1.4 .1-.8-1.3-.1-2.5 .8-1.2-8.4 0-2.5 2.5 0 28.1 .3 .4-.3 3.6 .6 1.3-.6 1.3 1.2 0 1 1.2 .1 1.2zM63.8 324.1l.8 0-.7 .9zM68.7 315.4l.1-2.5-.6-2.5 .7-.8 .7 .8-.7 2.5 .6 1.3-.6 1.4zM62.7 340.5l.3-.3-.3-.6-.5 .6zM61.5 331.9l1.2-.2 0-.8-1.2-.5-.3 1.1zM72.6 332.3l.5-.8-.5-.7-.8 .7zM87.4 317l.4-.4-.1-1.2-.4 0-.1 1.2zM77.5 316.3l.8-7.1-.8-1.2 .4-2.5-.8-1.3 .4-1.2-3.1 0-.2 1.2-1.7 1.3 1.3 .6 1.3-.2 .3 .8-.1 2.5 .4 1.2-.4 1.3 1.8 1.2 .2 2.5zM70.1 303.8l.8-.8-2 0z" clip-path="url(#p9298c22aac)" style="fill: #238a8d; stroke: #615252; stroke-opacity: 0.8; stroke-width: 0.9"/>
<path d="M166.7 526l.9 0 .6-1.2 .4-1.3-.3-1.2 1.3-3.7 .1-2.5 1.9-6.1 1.3-.8 1.1-3 .1-1.3 2.5-2.8 2.4-.7 1.3-1.5 2.5-1.1 1.6-1.3 2.1-3 2.4-.1 1.3-1 4.9-1.8 1.3-1.9 2.4-2.1 5-2.9 2.5-.8 1.2 .4 2.5-1.4 2.5-.7 2.4 1.1 1.3-1.3 2.4-.1 1.3 1 1.2 .3 1.3-1.7 1.2-.6 1.2 .1 1.3-1.4 1.2-.6 1-1.3-.5-3.7 .8-1.9 1 .6 .2 1.5 1.2 .9 1.3-1.6 1.3 .5 .4 1.2 .7 .7 1.3-1.8 1.2 0 .5-1.4-.4-2.5 .4-3.7-.6-4.9 .7-2.5-.8-1.2-.6-3.8 .2-1.2 .6-1 2.5 .4 .5-1.9 .7-.7 1.6 .7-.2 1.3 1.5 1.2-.8 2.5 1.9 1.2-.4 1.3 .1 .6 1.3 .6 2.8-3.7 1.1-2.5 1-1.2 1.3-.4 1.2 .4 1.6 1.2 1.9 5 1.1 1.2 1.2 3.7-.6 1.3-1.5 1.4-6.8 10.9-.6 .8-1.3 .5-.7 2.5 .8 3.2 1.2-1.2 .2 1.7 2 1.2-.1 2.5 .9 1.2 .2 2.5 .9 1.3 .7 2.4 1 1.3-.2 1.2 .6 .7 1.2-.6 1.3 .6 .2 1.8 2.5 2.5 .2 .8 .8-.8 0-1.3 1.2-1.2 0-1.3 1.2-1.2 0-1.2 1.3-1.3 0-.5-.7-.7 .1-1.2-1.6-1.3-.3-3-.6 .5-.6 4.4-.4-.6 .1-1.3-1-.6-1.2-.1 0-.8 2.7-2.2-.2-.6-1.3-.6-1.2 .5-1.1-.5 2.1-1.3 1.3-2.5-1.1-1.1-1.2 .3-1.2 1.7-.4-2.1-1.5-1.2 .4-1.3-.5-1.2-.5-.4-1.3 1-1-.6 1-3.4 1.3 .3 .2-.6-.2-.6-1.3 .4-.4-1.1 1.7-1.9 1.5-4.3 2.4-2.4 .6-1.3 .2-1.2-.3-1.3-4.5-7.4-1.2-1.6-1.2-.9-2.5-.2-1.2 .9-1.2-.7-.8-1.2-.5-2.5-1.2 2.7-.2-1.4-2.3-1.2-.6-1.3-1.9-1.3-2.4 1.5-1.3-1-1.9-.5-.6-1.1-1.2 .1-.2 1 .9 1.3-1.2 2.5-.1 1.2 .5 2.5-.5 1.2 1.1 1.2 .1 1.3-.6 1.1-2.5 .8-1 1.8-.2 3-1-.5-.2-.8-2.5 1-1.2 2.3-.1 3.7 .4 1.2-1.5 3.7-1.3-1-2.5 4.1-2.5 .1-1.2-1.7-1.3 1.8-.2 1.7-1 .5-1.2-.5-2.5 1-2.5 1.9-1.2 .2-1.3 .9-2.4 .1-6.2 4.2-1.3 3-3.9 1.1-2.3 1.6-2.4 .8-3.7 3.8-2.5 1-1.3 1.3-2.4 1.1-2 1.5-1.7 3.2-2.5 2.8-1 3.9-1.5 2.5 0 1.2-2.5 3.7-.3 1.3 1 1.2-.5 2.5 .2 2.5zM232.8 459.1l.7-1.7 .5 1.7-.5 1.1zM259.5 480.9l1.3-2-1.3-.7-.4 .7 .3 1.3zM231 455l.7-.9-.7-.6-.4 .6z" clip-path="url(#p9298c22aac)" style="fill: #1f968b; stroke: #615252; stroke-opacity: 0.8; stroke-width: 0.9"/>
<path d="M167.9 526l2.8 0 1.1-8.7-.3-1.2 2.6-1.3 0-2.4 1.2-5 1.3-2.4 2.4-1 1.3-1.7 3.9-2.3 2.3-3 1.1-.7 5.1-2.1 2.4-.2 3.7-2.4 1.3-1.3 4.9-2.2 1.3-1.7 2.4 .7 3.8-1.9 1.2 .3 1.2 1.8 5-.9 1.2 .4 2.5-1.4 6.2 1.7 1.2 1 1.7-1.7 .8-4 .4 .2-.3 1.3 1.1 1.1 1.3-.2 .5 .3-.2 1.3 .9 1.2 1.3 .7 1.2-3.1 .9 2.4 1.6 .9 1.2 .3-1.2 1 0 .8 2.4-.6 2.5-2.1 .8 .9-.1 2.5 .6 1.3 0 1.7 1.2 .6 1.2-.4 1.3 2.6 2.6 2.9 1 2.5 1.8 1.2 1.4 3.1 1.8-1.9 0-1.2 .5-.4-.2-.8-2.5-2.5-.2-1.8-1.3-.6-1.2 .6-.6-.7 .2-1.2-1-1.3-.7-2.4-.9-1.3-.2-2.5-.9-1.2 .1-2.5-2-1.2-.2-1.7-1.2 1.2-.8-3.2 .7-2.5 1.3-.5 .6-.8 6.8-10.9 1.5-1.4 .6-1.3-.3-1.2-.9-2.5-1.1-1.2-1.9-5-1.6-1.2-1.2-.4-1.3 .4-1 1.2-1.1 2.5-2.8 3.7-1.3-.6-.1-.6 .4-1.3-1.9-1.2 .8-2.5-1.5-1.2 .2-1.3-1.6-.7-.7 .7-.5 1.9-2.5-.4-.6 1-.2 1.2 .6 3.8 .8 1.2-.7 2.5 .6 4.9-.4 3.7 .4 2.5-.5 1.4-1.2 0-1.3 1.8-.7-.7-.4-1.2-1.3-.5-1.3 1.6-1.2-.9-.2-1.5-1-.6-.8 1.9 .5 3.7-1 1.3-1.2 .6-1.3 1.4-1.2-.1-1.2 .6-1.3 1.7-1.2-.3-1.3-1-2.4 .1-1.3 1.3-2.4-1.1-2.5 .7-2.5 1.4-1.2-.4-2.5 .8-5 2.9-2.4 2.1-1.3 1.9-4.9 1.8-1.3 1-2.4 .1-2.1 3-1.6 1.3-2.5 1.1-1.3 1.5-2.4 .7-2.5 2.8-.1 1.3-1.1 3-1.3 .8-1.9 6.1-.4 3.7-1 2.5 .3 1.2-1 2.5zM241.1 480.2l-1.9-1.3 .1-1.2 1.6-3.2 .7-5.5-.6-1.2 1.1-5 .8 1.3 .5 0 2.5-2.4 1.2-1.7 2.5-4.1 1.2-3 1.3-.7 1.2 .2 1.2 1.6 3.7 8.8-8.6 12.2-2.5 2.3-1.2 2.1-2.5 1.4-1.2-.1z" clip-path="url(#p9298c22aac)" style="fill: #1fa287; stroke: #615252; stroke-opacity: 0.8; stroke-width: 0.9"/>
<path d="M171.6 526l.7 0 .4-1.2-.1-2.5 .3-.6 3.4-4.4-.5-1.2 .8-2.5-.3-2.5 .7-2.4 .8-1.4 1.2-.3 2.5-3.3 3.7-1.9 2.5-3.1 1.2-.1 5-2.7 1.2 0 5-3 1.2 0 3.7-1.4 1.3-1.4 3.7-1.2 1.2 .5 2.5-.5 1.2 .8 1.3 .2 2.4-.3 1.3-.6 1.2 .8 2.5-.5 3.7 .8 2.5-.1 .6 1.3 1.9 .6 2.4-1.6 1.3 1.8 1.2 .5 1.3 1.8 2.4-.8 .4 1.4 .9 1 2.4 .2 1.3 1.2 1.2-.3 1 2.9 1.5 2.4 2 .1 1.2 1.2 1.7 .2 .7 1 1.2 5 .6 1 0-1 1.3-1.2 0-1.3 .6-.6-.6-1.8-1.3-1.9-1.3-.6-1-2.5-2.6-2.9-1.3-2.6-1.2 .4-1.2-.6 0-1.7-.6-1.3 .1-2.5-.8-.9-2.5 2.1-2.4 .6 0-.8 1.2-1-1.2-.3-1.6-.9-.9-2.4-1.2 3.1-1.3-.7-.9-1.2 .2-1.3-.5-.3-1.3 .2-1.1-1.1 .3-1.3-.4-.2-.8 4-1.7 1.7-1.2-1-6.2-1.7-2.5 1.4-1.2-.4-5 .9-1.2-1.8-1.2-.3-3.8 1.9-2.4-.7-1.3 1.7-4.9 2.2-1.3 1.3-3.7 2.4-2.4 .2-6.2 2.8-2.3 3-3.9 2.3-1.3 1.7-2.4 .9-.7 1.3-1.8 6.2 0 2.4-2.6 1.3 .3 1.2-1.1 8.7zM242.2 480.7l1.2 .1 2.5-1.4 1.2-2.1 2.5-2.3 8.6-12.2-3.7-8.8-1.2-1.6-1.2-.2-1.3 .7-1.2 3-2.5 4.1-1.2 1.7-2.5 2.4-.5 0-.8-1.3-1.1 5 .6 1.2-.7 5.5-1.6 3.2-.1 1.2 1.9 1.3zM241.2 478.9l-.3-1.2 1.3-6.2 1.8-5 5.5-8.6 1.8-3.8 .8-1 1.2 .3 1.7 3.2 2.1 6.2-1.2 2.5-2.6 3-2 3.2-1.7 2.3-2.5 2.3-1.2 1.9-2.5 1.8-1.2-.1z" clip-path="url(#p9298c22aac)" style="fill: #28ae80; stroke: #615252; stroke-opacity: 0.8; stroke-width: 0.9"/>
<path d="M172.9 526l1.6 0 .3-1.2 1.8-2.5 .3-1.3-.3-1.2 1.1-2.5 .1-2.9 1.6-3.3-.1-1.2 .5-1.2 1.7-2.5 1.6-1.3 2.1-.8 2.5-3.1 11.1-4.4 1.3-1 1.2-.4 3.7 .1 2.5-2.2 5-1.5 1.2 0 4.9 1.7 1.3-.7 3.7-.6 5 2 1.2-.5 .7 .3 .6 1.2 1.2 .6 2.4-.2 2.5 .6 1.3 1.9 2.4 .5 1.1 1.6 1.4 .7 1.2 1.3 1.3 .7 1.2-.3 .3 1.3 1.1 1.2 1.1 3 2.5 2.5 .6 2 .6 .6 1.7 .2 2-2.3-.6-1-1.2-5-.7-1-1.7-.2-1.2-1.2-2-.1-1.5-2.4-1-2.9-1.2 .3-1.3-1.2-2.4-.2-.9-1-.4-1.4-2.4 .8-1.3-1.8-1.2-.5-1.3-1.8-2.4 1.6-1.9-.6-.6-1.3-2.5 .1-3.7-.8-2.5 .5-1.2-.8-1.3 .6-2.4 .3-1.3-.2-1.2-.8-2.5 .5-1.2-.5-3.7 1.2-1.3 1.4-3.7 1.4-1.2 0-5 3-1.2 0-5 2.7-1.2 .1-2.5 3.1-3.7 1.9-1.2 1.2-1.3 2.1-1.2 .3-1.5 3.8 .3 2.5-.8 2.5 .5 1.2-3.7 5 .2 1.2-.5 2.5zM242.2 479.7l1.2 .1 2.5-1.8 1.2-1.9 2.5-2.3 1.7-2.3 2-3.2 2.6-3 1.2-2.5-2.1-6.2-1.7-3.2-1.2-.3-.8 1-1.8 3.8-5.5 8.6-1.8 5-1.3 6.2 .3 1.2zM242.7 478.9l-.9-1.2 1.6-7.5 1.1-2.4 3.9-6.9 3.3-3 .4-.8 1.2-.2 1.2 1-.3 1.2 1 2.5-.4 1.2 .5 1.3-.4 1.2-1.6 1.7-3.7 5.7-2.5 2.2-1.2 1.8-2.5 2.4zM253.3 460.5l.3-.2-.4 0z" clip-path="url(#p9298c22aac)" style="fill: #38b977; stroke: #615252; stroke-opacity: 0.8; stroke-width: 0.9"/>
<path d="M175.3 526l1.9 0 .5-2.5 1.2-2.5 0-2.4 1.7-3.8 .9-4.7 1.7-2.7 2.7-1.2 1.8-2.1 1.2-.3 5-3.3 1.2-.2 2.5-1.6 1.2 .8 5-2.3 1.2 .6 1.3-.6 1.2-1.6 3.7-.7 2.5-1.3 1.2 1.8 2.5 .6 1.2 .9 2.5-.8 2.5-.2 1.2 .9 3.8 1.1 1.2-.9 1.2 .1 1.3 1.8 2.6-.2 1.1 .9 1.2 .3 1.3 1.9 1.2 .5 1.2-.4 4.8 5.5 .2 2.5 1.2 .4 1.3-.3 .5 1.1 0 1.3 1.1 1.2 .4 1.2 1.7 .7 .6 1.2 1.8-1.9 0-1.2 .5-.4-1.7-.2-.6-.6-.6-2-2.5-2.5-1.1-3-1.1-1.2-.3-1.3-1.2 .3-1.3-.7-1.2-1.3-1.4-.7-1.1-1.6-2.4-.5-1.3-1.9-2.5-.6-2.4 .2-1.2-.6-.6-1.2-.7-.3-1.2 .5-5-2-3.7 .6-1.3 .7-4.9-1.7-3.7 .6-2.5 .9-2.5 2.2-3.7-.1-1.2 .4-1.3 1-11.1 4.4-2.5 3.1-2.1 .8-1.6 1.3-2.2 3.7 .1 1.2-1.6 3.3-.1 2.9-1.1 2.5 .3 1.2-.3 1.3-1.8 2.5-.3 1.2zM222.4 497.6l0-.7-.1 .6zM243.4 479.1l2.5-2.4 1.2-1.8 2.5-2.2 3.7-5.7 1.6-1.7 .4-1.2-.5-1.3 .4-1.2-1-2.5 .3-1.2-1.2-1-1.2 .2-.4 .8-3.3 3-3.9 6.9-1.1 2.4-1.6 7.5 .9 1.2zM243.3 476.4l0-2.4 .9-3.8 4.2-7.2 2.9 4.8-1.7 3.9-2.5 1.8-2.5 2.9-1.2 .5zM253.2 460.3l.4 0-.3 .2z" clip-path="url(#p9298c22aac)" style="fill: #50c46a; stroke: #615252; stroke-opacity: 0.8; stroke-width: 0.9"/>
<path d="M177.8 526l1.2 0 1.3-2.3 1.5-7.6 1.3-3.7 3.4-3.5 1.2-2.2 1.2-.4 1.6-1.4 2.2-.6 4.9-2.6 1.2 0 5-1.8 2.5-.1 1.2-1.3 2.5-1.1 1.2 1 1.3 .2 1.2-.6 2.5 1.1 1.2-.3 1.2 1.2 2.5 .5 1.3 1.1 .7-.4 .5-1 2.5 1.1 2.5 .5 2.4-1.4 1.3 .5 1.2 1.8 1.2 .4 1.3 1.2 2.3 .6 1.4 2.1 1.2-.5 1.3 .7 2 3.9 1.2 1.3 1 2.4 3.2 2.5 1.1 2.6 1.4-1.3 0-1.3 .6-.6-.2-.6-.4-.6-1.7-.7-.4-1.2-1.1-1.2 0-1.3-.5-1.1-1.3 .3-1.2-.4-.2-2.5-4.8-5.5-1.2 .4-1.2-.5-1.3-1.9-1.2-.3-1.1-.9-2.6 .2-1.3-1.8-1.2-.1-1.2 .9-3.8-1.1-1.2-.9-2.5 .2-2.5 .8-1.2-.9-2.5-.6-1.2-1.8-2.5 1.3-3.7 .7-1.2 1.6-1.3 .6-1.2-.6-5 2.3-1.2-.8-2.5 1.6-1.2 .2-5 3.3-1.2 .3-1.8 2.1-2.7 1.2-1.7 2.7-.9 4.7-1.7 3.8 0 2.4-1.2 2.5-.5 2.5zM222.3 497.5l.1-.6 0 .7zM243.4 476.9l1.2-.5 2.5-2.9 2.5-1.8 1.7-3.9-2.9-4.8-4.2 7.2-.9 3.8 0 2.4zM245.8 471.5l.1-1.8 .3 .5-.3 1.4zM248.1 470.2l.3-.4 0 .7z" clip-path="url(#p9298c22aac)" style="fill: #6ccd5a; stroke: #615252; stroke-opacity: 0.8; stroke-width: 0.9"/>
<path d="M179 526l3.1 0-.1-2.5 .4-1.2 1.8-2.5-.3-1.2 .8-2.5 1.8-1.8 .7-3.2 3-2 1.2-1.8 2.5-.9 1.5-.2 2.2-1.9 1.2 .3 3.8-.6 1.2-1.1 2.5 .9 1.2-1.2 2.5-1.5 1.2 0 1.3 1.1 1.2-.7 1.2 .4 1.3 1.1 1.2-.4 1.2 .2 3.8 2 4.9-.2 2.5 .9 1.2-.8 1.3 .6 1.2 1.1 1.2 .3 .9 .7 .4 1.4 2.1 1.1 1.6 2.8 2.5 0 1.6 .9 .1 1.2 1.7 2.5 0 1.3 1.3 1.2 .5 1.2 2 1.4 .2-1.4 1.1-1.1-1.1-2.6-3.2-2.5-1-2.4-1.2-1.3-2-3.9-1.3-.7-1.2 .5-1.4-2.1-2.3-.6-1.3-1.2-1.5-.6-.4-1.3-1.8-.8-2.4 1.4-2.5-.5-2.5-1.1-.5 1-.7 .4-1.3-1.1-2.5-.5-1.2-1.2-1.2 .3-2.5-1.1-1.2 .6-1.3-.2-1.2-1-2.5 1.1-1.2 1.3-2.5 .1-5 1.8-1.2 0-4.9 2.6-2.2 .6-1.6 1.4-1.2 .4-1.2 2.2-2.5 2.2-1.2 2.1-2.5 10.3-1.3 2.5zM245.9 471.6l.3-1.4-.3-.5-.1 1.8zM248.4 470.5l0-.7-.3 .4z" clip-path="url(#p9298c22aac)" style="fill: #8bd646; stroke: #615252; stroke-opacity: 0.8; stroke-width: 0.9"/>
<path d="M182.8 526l1.9 0 .5-1.4 1.3-.8 1.2-2.8-.4-1.2 .4-1.5 1.2-2 1.3-.5 1.2-4 2.5-2.4 1.2 .1 1.3 1.1 .7-.7 .5-1.7 .2 .5 4.8 2 .9-.8 1.5-2.5 1.3 1.2 1.2 .2 1.2 1 1.3 .1 1.2-1.5 1.3 .2 1.2-1.3 1.2-.4 1.3 1 1.2-1.2 1.2-.2 2.5 .5 1.3 1 1.2 .2 1-.8 .7 0 .8 .9 1.2-.1 2.5 1.3 1.2-.5 1.3 .2 .7 .7 .5 2.7 1.2 0 1.3 1.6 2 .6 .3 1.3 1.3 1.2 1.3 5.1 1.3 0 .8 1.1 .3 2.5 2.6 0 3.5-3.6-2-1.4-.5-1.2-1.3-1.2 0-1.3-1.7-2.5-.1-1.2-1.6-.9-2.5 0-1.2-2.4-2.5-1.5-.4-1.4-.9-.7-1.2-.3-2.5-1.7-1.2 .8-2.5-.9-4.9 .2-3.8-2-1.2-.2-1.2 .4-1.3-1.1-1.2-.4-1.2 .7-1.3-1.1-1.2 0-2.5 1.5-1.2 1.2-2.5-.9-1.2 1.1-3.8 .6-1.2-.3-2.2 1.9-1.5 .2-2.5 .9-1.2 1.8-2.5 1.4-1 1.9 .1 1.2-.3 .7-1.8 1.8-.8 2.5 .3 1.2-1.8 2.5-.4 1.2 .1 2.5z" clip-path="url(#p9298c22aac)" style="fill: #addc30; stroke: #615252; stroke-opacity: 0.8; stroke-width: 0.9"/>
<path d="M185.2 526l4 0 2.8-2.5 1.1-2.5-.5-1.2 1-2.5-.5-1.2 .8-1.6 1.2-.6 2.5 5.1 1.2-1.2 1.3-.2 1.2-1 1.2 2 1.3-.2 .8-1.1 .4-3 1.3 1.4 2.4-.8 1.3 2.2 2.5-.3 .7 .5-.1 1.3 .6 .7 .5-2-.2-1.2 .9-1.8 2.5-1.2 .9-.7 .3-1.3 2.5-1.4 .5 1.4-.4 1.3 1.9 1.2-.2 2.5 1.3 1.2-1 2.5 .4 .7 1.2-1.1 0-.8 1.3-1.3 1.2 0 .7 .7-.3-.7 .9-1.1 1.1 1.1-1.1 1.9 0 .6 .5 .5 3.2-2.8 .3 1.1-.1 1.2 1.7 2.5-.3 1.2 2.1 .3 1.2 1.1 1.3-.4 1.2 .1 .2 1.4 3.4 0-.3-2.5-.8-1.1-1.3 0-1.3-5.1-1.3-1.2-.3-1.3-2-.6-1.3-1.6-1.2 0-.5-2.7-.7-.7-1.3-.2-1.2 .5-2.5-1.3-1.2 .1-.8-.9-.7 0-1 .8-1.2-.2-1.3-1-2.5-.5-1.2 .2-1.2 1.2-1.3-1-1.2 .4-1.2 1.3-1.3-.2-1.2 1.5-1.3-.1-1.2-1-1.2-.2-1.3-1.2-1.5 2.5-.9 .8-4.8-2-.2-.5-.5 1.7-.7 .7-1.3-1.1-1.2-.1-2.5 2.4-1.2 4-1.3 .5-1.2 2-.4 1.5 .4 1.2-1.2 2.8-1.3 .8-.5 1.4zM196.5 516.1l1.1-.5 1.2-1.3 .7 .5-.3 1.3-.4 .4-1.2-.1zM228.2 513.6l.4-.3 0 .5zM203.8 526l.9 0-.9-1.1-.7 1.1zM198.8 521.1l1.6-.1 .7-1.2-1-.6-1.5 1.8zM221.1 521.9l.6-.9-.6-.4-.7 .4zM219.9 517.6l.2-.3-.2-.3-.2 .3zM219.9 513.8l1-1.4-1-.5-.8 .5 .4 1.2z" clip-path="url(#p9298c22aac)" style="fill: #cde11d; stroke: #615252; stroke-opacity: 0.8; stroke-width: 0.9"/>
<path d="M190.2 526l12.9 0 .7-1.1 .9 1.1 16.4 0 1.3-1.2 0-1.3 1.2-1.2 0-1.3 1.2-1.2 0-.4-1.2 1.1-.4-.7 1-2.5-1.3-1.2 .2-2.5-1.9-1.2 .4-1.3-.5-1.4-2.5 1.4-.3 1.3-.9 .7-2.5 1.2-.9 1.8 .2 1.2-.5 2-.6-.7 .1-1.3-.7-.5-2.5 .3-1.3-2.2-2.4 .8-1.3-1.4-.4 3-.8 1.1-1.3 .2-1.2-2-1.2 1-1.3 .2-1.2 1.2-2.5-5.1-1.2 .6-.8 1.6 .5 1.2-1 2.5 .5 1.2-1.1 2.5-2.8 2.5zM198.6 521l1.5-1.8 1 .6-.7 1.2-1.6 .1zM220.4 521l.7-.4 .6 .4-.6 .9zM219.7 517.3l.2-.3 .2 .3-.2 .3zM219.5 513.6l-.4-1.2 .8-.5 1 .5-1 1.4zM233.5 526l6.4 0-.2-1.4-1.2-.1-1.3 .4-1.2-1.1-2.1-.3 .3-1.2-1.7-2.5 .1-1.2-.3-1.1-3.2 2.8 3.2 3.2 0 1.3zM229.1 518.6l.6-1.3-1.1-1.1-.9 1.1 .9 1.3 0 .6zM197.6 516.4l1.2 .1 .4-.4 .3-1.3-.7-.5-1.2 1.3-1.1 .5zM228.6 513.8l0-.5-.4 .3z" clip-path="url(#p9298c22aac)" style="fill: #efe51c; stroke: #615252; stroke-opacity: 0.8; stroke-width: 0.9"/>
</g>
<g id="matplotlib.axis_9">
<g id="xtick_9">
<g id="line2d_49">
<g>
<use href="#mfb5e76a77d" x="56.5" y="526" style="stroke: #000000; stroke-width: 0.9"/>
</g>
</g>
</g>
<g id="xtick_10">
<g id="line2d_50">
<g>
<use href="#mfb5e76a77d" x="130.8" y="526" style="stroke: #000000; stroke-width: 0.9"/>
</g>
</g>
</g>
<g id="xtick_11">
<g id="line2d_51">
<g>
<use href="#mfb5e76a77d" x="205" y="526" style="stroke: #000000; stroke-width: 0.9"/>
</g>
</g>
</g>
<g id="xtick_12">
<g id="line2d_52">
<g>
<use href="#mfb5e76a77d" x="279.3" y="526" style="stroke: #000000; stroke-width: 0.9"/>
</g>
</g>
</g>
</g>
<g id="matplotlib.axis_10">
<g id="ytick_25">
<g id="line2d_53">
<g>
<use href="#m0a2475117b" x="56.5" y="507.4" style="stroke: #000000; stroke-width: 0.9"/>
</g>
</g>
</g>
<g id="ytick_26">
<g id="line2d_54">
<g>
<use href="#m0a2475117b" x="56.5" y="470.2" style="stroke: #000000; stroke-width: 0.9"/>
</g>
</g>
</g>
<g id="ytick_27">
<g id="line2d_55">
<g>
<use href="#m0a2475117b" x="56.5" y="433.1" style="stroke: #000000; stroke-width: 0.9"/>
</g>
</g>
</g>
<g id="ytick_28">
<g id="line2d_56">
<g>
<use href="#m0a2475117b" x="56.5" y="395.9" style="stroke: #000000; stroke-width: 0.9"/>
</g>
</g>
</g>
<g id="ytick_29">
<g id="line2d_57">
<g>
<use href="#m0a2475117b" x="56.5" y="358.8" style="stroke: #000000; stroke-width: 0.9"/>
</g>
</g>
</g>
<g id="ytick_30">
<g id="line2d_58">
<g>
<use href="#m0a2475117b" x="56.5" y="321.6" style="stroke: #000000; stroke-width: 0.9"/>
</g>
</g>
</g>
</g>
<g id="line2d_59">
<path d="M160.5 433.1l-.5-5.2-1.3-5-2.2-4.7-4.7-6.1-6.2-4.8-4.7-2.2-5-1.3-5.1-.4-5.2 .4-5 1.3-4.7 2.2-6.1 4.8-3.4 3.9-3.5 6.9-1.4 5-.4 5.2 1 7.7 1.7 4.8 2.6 4.5 3.4 4 3.9 3.3 4.5 2.6 7.4 2.4 5.2 .4 5.1-.4 7.4-2.4 4.5-2.6 4-3.3 3.3-4 2.6-4.5 1.8-4.8 1-7.7" clip-path="url(#p9298c22aac)" style="fill: none; stroke-dasharray: 3.72,1.92; stroke-dashoffset: 0; stroke: #000000; stroke-width: 1.2"/>
</g>
<g id="line2d_60">
<path d="M190.2 433.1l-.6-8.3-.7-4.1-2.3-8-3.4-7.5-2-3.6-4.9-6.7-2.8-3.1-3-2.9-6.5-5.1-7.2-4.2-7.7-3.1-4-1.1-8.1-1.5-4.2-.2-8.2 .2-4.2 .6-8 2-3.9 1.4-7.4 3.7-3.6 2.2-6.5 5.1-3 2.9-5.3 6.3-2.3 3.5-2.1 3.6-3.4 7.5-2.2 8-1.2 8.2-.1 4.2 .1 4.1 1.2 8.2 1 4.1 2.8 7.8 3.9 7.3 2.3 3.4 5.3 6.4 6.2 5.5 3.3 2.5 3.6 2.2 7.4 3.6 7.9 2.6 4 .8 8.3 .9 4.1 0 8.3-.9 4-.8 7.9-2.6 3.8-1.7 7.2-4.1 3.3-2.5 6.2-5.5 2.8-3.1 4.9-6.7 3.8-7.3 1.6-3.9 2.3-8 .7-4 .6-8.3" clip-path="url(#p9298c22aac)" style="fill: none; stroke-dasharray: 3.72,1.92; stroke-dashoffset: 0; stroke: #000000; stroke-width: 1.2"/>
</g>
<g id="line2d_61">
<path d="M219.9 433.1l-.5-9.3-1.5-9.3-2.4-9-3.3-8.7-6.7-12.3-5.5-7.6-6.2-6.9-6.9-6.2-7.6-5.5-8.1-4.7-8.5-3.8-13.4-4-9.2-1.4-9.3-.5-14 1.1-9.1 1.9-8.9 2.9-8.5 3.8-8.1 4.7-7.5 5.5-7 6.2-9 10.7-5.1 7.8-4.2 8.3-3.4 8.7-2.4 9-1.5 9.3-.5 9.3 .5 9.3 1.5 9.2 2.4 9 3.4 8.8 4.2 8.3 5.1 7.8 9 10.7 7 6.2 7.5 5.5 12.3 6.7 8.7 3.3 9 2.4 9.3 1.5 9.3 .5 9.3-.5 9.2-1.5 9-2.4 8.7-3.3 12.3-6.7 7.6-5.5 6.9-6.2 6.2-7 5.5-7.5 6.7-12.3 3.3-8.8 2.4-9 1.5-9.2 .5-9.3" clip-path="url(#p9298c22aac)" style="fill: none; stroke-dasharray: 3.72,1.92; stroke-dashoffset: 0; stroke: #000000; stroke-width: 1.2"/>
</g>
<g id="line2d_62">
<path d="M249.6 433.1l-.7-12.4-1.9-12.3-1.5-6.1-3.8-11.8-5.1-11.4-6.2-10.8-7.3-10.1-8.3-9.2-9.3-8.3-10-7.4-10.8-6.2-11.3-5.1-11.9-3.8-12.1-2.6-6.2-.8-12.4-.6-12.5 .6-12.2 1.9-6.1 1.5-11.8 3.8-11.4 5.1-10.8 6.2-10 7.4-9.3 8.3-4.2 4.5-7.9 9.7-6.7 10.4-5.7 11.1-4.4 11.6-3.3 12.1-1.9 12.3-.7 12.4 .7 12.4 1.9 12.3 3.3 12 4.4 11.7 5.7 11.1 6.7 10.4 7.9 9.7 4.2 4.5 9.3 8.3 10 7.3 5.4 3.3 11 5.6 11.6 4.5 12.1 3.2 12.2 2 12.5 .6 12.4-.6 12.3-2 12-3.2 11.6-4.5 11.1-5.6 5.3-3.3 10-7.3 9.3-8.3 8.3-9.3 7.3-10 6.2-10.8 5.1-11.4 3.8-11.8 1.5-6.1 1.9-12.3 .7-12.4" clip-path="url(#p9298c22aac)" style="fill: none; stroke-dasharray: 3.72,1.92; stroke-dashoffset: 0; stroke: #000000; stroke-width: 1.2"/>
</g>
<g id="line2d_63">
<path d="M279.3 433.1l-.8-15.6-1.5-10.2-3.5-15.2-3.2-9.9-3.8-9.6-7.1-13.8-5.5-8.9-6.1-8.3-10.2-11.8-7.4-7.2-8-6.7-8.4-6.1-8.8-5.5-13.8-7-14.5-5.6-10-2.9-10.1-2.1-10.3-1.5-10.3-.7-15.6 .3-10.3 1.1-15.3 2.9-9.9 2.9-14.5 5.6-13.9 7-8.8 5.5-12.4 9.4-7.7 6.9-10.6 11.4-6.4 8.2-5.8 8.6-5.8 10.2M-1 501.7l7.2 12.4 5.9 8.5 6.6 8 7 7.6 11.6 10.4 8.3 6.3 8.7 5.6 9.9 5.5M197.3 566l7.7-4.2 8.8-5.5 8.4-6.1 8-6.6 7.4-7.2 6.9-7.8 6.4-8.1 5.8-8.6 5.2-9 4.6-9.3 3.8-9.7 3.2-9.8 2.6-10.1 1.8-10.2 1-10.3 .4-10.4" clip-path="url(#p9298c22aac)" style="fill: none; stroke-dasharray: 3.72,1.92; stroke-dashoffset: 0; stroke: #000000; stroke-width: 1.2"/>
</g>
<g id="line2d_64">
<path d="M56.5 433.1l222.8 0" clip-path="url(#p9298c22aac)" style="fill: none; stroke: #000000; stroke-width: 1.5; stroke-linecap: square"/>
</g>
<g id="line2d_65">
<path d="M130.8 526l0-223" clip-path="url(#p9298c22aac)" style="fill: none; stroke: #000000; stroke-width: 1.5; stroke-linecap: square"/>
</g>
<g id="patch_63">
<path d="M56.5 526l0-223" style="fill: none; stroke: #000000; stroke-width: 0.9; stroke-linejoin: miter; stroke-linecap: square"/>
</g>
<g id="patch_64">
<path d="M279.3 526l0-223" style="fill: none; stroke: #000000; stroke-width: 0.9; stroke-linejoin: miter; stroke-linecap: square"/>
</g>
<g id="patch_65">
<path d="M56.5 526l222.8 0" style="fill: none; stroke: #000000; stroke-width: 0.9; stroke-linejoin: miter; stroke-linecap: square"/>
</g>
<g id="patch_66">
<path d="M56.5 303l222.8 0" style="fill: none; stroke: #000000; stroke-width: 0.9; stroke-linejoin: miter; stroke-linecap: square"/>
</g>
<g id="line2d_66">
<path d="M130.8 371.1" clip-path="url(#p9298c22aac)" style="fill: none; stroke: #ff0000; stroke-width: 1.5; stroke-linecap: square"/>
<g clip-path="url(#p9298c22aac)">
<use href="#m2eb061f581" x="130.8" y="371.1" style="fill: #ff0000; stroke: #ff0000; stroke-width: 2.1"/>
</g>
</g>
<g id="PathCollection_3">
<g clip-path="url(#p9298c22aac)">
<use href="#m4749da2731" x="93.9" y="327.8"/>
<use href="#m4749da2731" x="104.2" y="330.1"/>
<use href="#m4749da2731" x="119.7" y="333.6"/>
<use href="#m4749da2731" x="105.5" y="339.6"/>
<use href="#m4749da2731" x="105" y="350.1"/>
<use href="#m4749da2731" x="107.1" y="349.2"/>
<use href="#m4749da2731" x="103.7" y="357"/>
<use href="#m4749da2731" x="114.6" y="359.1"/>
<use href="#m4749da2731" x="144.6" y="341.4"/>
<use href="#m4749da2731" x="140.9" y="353.3"/>
<use href="#m4749da2731" x="144.6" y="355"/>
<use href="#m4749da2731" x="140" y="359.1"/>
<use href="#m4749da2731" x="141.1" y="360.8"/>
<use href="#m4749da2731" x="128.4" y="359.7"/>
<use href="#m4749da2731" x="127.3" y="365.6"/>
<use href="#m4749da2731" x="129.4" y="367.7"/>
<use href="#m4749da2731" x="131" y="369.8"/>
<use href="#m4749da2731" x="134.2" y="368.8"/>
<use href="#m4749da2731" x="141.5" y="372"/>
<use href="#m4749da2731" x="151.3" y="326"/>
<use href="#m4749da2731" x="155.6" y="325"/>
<use href="#m4749da2731" x="169.2" y="332.2"/>
<use href="#m4749da2731" x="180.4" y="331.4"/>
<use href="#m4749da2731" x="175.5" y="340.2"/>
<use href="#m4749da2731" x="157.7" y="347.1"/>
<use href="#m4749da2731" x="150.6" y="357"/>
<use href="#m4749da2731" x="155.3" y="360.2"/>
<use href="#m4749da2731" x="159.4" y="361.1"/>
<use href="#m4749da2731" x="161.7" y="360.3"/>
<use href="#m4749da2731" x="164.1" y="359.8"/>
<use href="#m4749da2731" x="166.5" y="359.3"/>
<use href="#m4749da2731" x="149" y="364.3"/>
<use href="#m4749da2731" x="172.4" y="354.5"/>
<use href="#m4749da2731" x="181.6" y="361.4"/>
<use href="#m4749da2731" x="185.1" y="364.3"/>
<use href="#m4749da2731" x="193.6" y="364.3"/>
<use href="#m4749da2731" x="205.6" y="363"/>
<use href="#m4749da2731" x="183.3" y="368.6"/>
<use href="#m4749da2731" x="174.4" y="374.7"/>
<use href="#m4749da2731" x="155.3" y="375.5"/>
<use href="#m4749da2731" x="156.9" y="377"/>
<use href="#m4749da2731" x="158.5" y="378.2"/>
<use href="#m4749da2731" x="137.8" y="379"/>
<use href="#m4749da2731" x="128.8" y="380.5"/>
<use href="#m4749da2731" x="155.3" y="382.2"/>
<use href="#m4749da2731" x="156.9" y="384.5"/>
<use href="#m4749da2731" x="140.2" y="384.5"/>
<use href="#m4749da2731" x="151.3" y="387.2"/>
<use href="#m4749da2731" x="135.4" y="386.1"/>
<use href="#m4749da2731" x="136.2" y="388.5"/>
<use href="#m4749da2731" x="182.5" y="383.7"/>
<use href="#m4749da2731" x="181.6" y="388.5"/>
<use href="#m4749da2731" x="185.6" y="387.2"/>
<use href="#m4749da2731" x="183.3" y="390.9"/>
<use href="#m4749da2731" x="186.4" y="391.7"/>
<use href="#m4749da2731" x="176.9" y="386.9"/>
<use href="#m4749da2731" x="196" y="388.5"/>
<use href="#m4749da2731" x="199.2" y="383"/>
<use href="#m4749da2731" x="133.1" y="391.7"/>
<use href="#m4749da2731" x="144.2" y="390.1"/>
<use href="#m4749da2731" x="145" y="392.1"/>
<use href="#m4749da2731" x="141.8" y="396.5"/>
<use href="#m4749da2731" x="160.1" y="396.5"/>
<use href="#m4749da2731" x="160.9" y="399.7"/>
<use href="#m4749da2731" x="138.6" y="398.9"/>
<use href="#m4749da2731" x="149" y="400.5"/>
<use href="#m4749da2731" x="211.9" y="399.7"/>
<use href="#m4749da2731" x="133.7" y="382.6"/>
<use href="#m4749da2731" x="133.4" y="394.1"/>
<use href="#m4749da2731" x="125.7" y="394.9"/>
<use href="#m4749da2731" x="140.9" y="398.1"/>
<use href="#m4749da2731" x="142.5" y="402.1"/>
<use href="#m4749da2731" x="140.1" y="400.5"/>
<use href="#m4749da2731" x="136.9" y="406.8"/>
<use href="#m4749da2731" x="147.3" y="408.4"/>
<use href="#m4749da2731" x="150.4" y="403.6"/>
<use href="#m4749da2731" x="160.8" y="408.4"/>
<use href="#m4749da2731" x="173.5" y="413.2"/>
<use href="#m4749da2731" x="158.4" y="416.4"/>
<use href="#m4749da2731" x="153.6" y="421.2"/>
<use href="#m4749da2731" x="154.8" y="422.8"/>
<use href="#m4749da2731" x="173.5" y="423.6"/>
<use href="#m4749da2731" x="131.4" y="427.6"/>
<use href="#m4749da2731" x="164" y="434"/>
<use href="#m4749da2731" x="174.4" y="437.2"/>
<use href="#m4749da2731" x="163.2" y="445.9"/>
<use href="#m4749da2731" x="160.8" y="452.3"/>
<use href="#m4749da2731" x="161.6" y="453.9"/>
<use href="#m4749da2731" x="173.5" y="448.3"/>
<use href="#m4749da2731" x="183.8" y="381"/>
<use href="#m4749da2731" x="196" y="390.1"/>
<use href="#m4749da2731" x="187.7" y="403.6"/>
<use href="#m4749da2731" x="213.3" y="403.6"/>
<use href="#m4749da2731" x="219.6" y="402.1"/>
<use href="#m4749da2731" x="185.4" y="412.4"/>
<use href="#m4749da2731" x="186.2" y="414.1"/>
<use href="#m4749da2731" x="192.6" y="418.8"/>
<use href="#m4749da2731" x="209.3" y="415.6"/>
<use href="#m4749da2731" x="222.8" y="419.6"/>
<use href="#m4749da2731" x="221.5" y="421.2"/>
<use href="#m4749da2731" x="186.9" y="430"/>
<use href="#m4749da2731" x="189.4" y="434"/>
<use href="#m4749da2731" x="175" y="435.5"/>
<use href="#m4749da2731" x="175.8" y="438.7"/>
<use href="#m4749da2731" x="183.8" y="436.4"/>
<use href="#m4749da2731" x="185.4" y="441.9"/>
<use href="#m4749da2731" x="179" y="441.9"/>
<use href="#m4749da2731" x="194.9" y="438.7"/>
<use href="#m4749da2731" x="197.3" y="441.1"/>
<use href="#m4749da2731" x="202.9" y="434.3"/>
<use href="#m4749da2731" x="229.2" y="439.6"/>
<use href="#m4749da2731" x="202.1" y="445.1"/>
<use href="#m4749da2731" x="206.9" y="446.7"/>
<use href="#m4749da2731" x="180.6" y="449.9"/>
<use href="#m4749da2731" x="182.2" y="451.5"/>
<use href="#m4749da2731" x="196.5" y="452.3"/>
<use href="#m4749da2731" x="198.9" y="454.7"/>
<use href="#m4749da2731" x="210.8" y="452.3"/>
<use href="#m4749da2731" x="159.8" y="454.6"/>
<use href="#m4749da2731" x="159.8" y="460.6"/>
<use href="#m4749da2731" x="183.7" y="452.6"/>
<use href="#m4749da2731" x="218.8" y="460.9"/>
<use href="#m4749da2731" x="175.7" y="465.7"/>
<use href="#m4749da2731" x="183.7" y="467.3"/>
<use href="#m4749da2731" x="184.5" y="469.7"/>
<use href="#m4749da2731" x="186.9" y="464.9"/>
<use href="#m4749da2731" x="188.5" y="470.5"/>
<use href="#m4749da2731" x="186.9" y="474.5"/>
<use href="#m4749da2731" x="164.6" y="472.1"/>
<use href="#m4749da2731" x="209.2" y="465.7"/>
<use href="#m4749da2731" x="208.4" y="468.1"/>
<use href="#m4749da2731" x="181.3" y="478.4"/>
<use href="#m4749da2731" x="182.9" y="480.9"/>
<use href="#m4749da2731" x="174.1" y="481.6"/>
<use href="#m4749da2731" x="195.7" y="484.1"/>
<use href="#m4749da2731" x="202.1" y="481.3"/>
<use href="#m4749da2731" x="199.3" y="498.4"/>
</g>
</g>
</g>
<g id="axes_6">
<g id="patch_67">
<path d="M295.1 526l11.3 0 0-223-11.3 0z" style="fill: #ffffff"/>
</g>
<g id="patch_68">
<path d="M295.1 526l11.3 0 0-14.5-11.3 0z" clip-path="url(#pd67575f0bb)" style="fill: #460a5d"/>
</g>
<g id="patch_69">
<path d="M295.1 514.8l11.3 0 0-14.4-11.3 0z" clip-path="url(#pd67575f0bb)" style="fill: #481c6e"/>
</g>
<g id="patch_70">
<path d="M295.1 503.7l11.3 0 0-14.5-11.3 0z" clip-path="url(#pd67575f0bb)" style="fill: #472d7b"/>
</g>
<g id="patch_71">
<path d="M295.1 492.6l11.3 0 0-14.5-11.3 0z" clip-path="url(#pd67575f0bb)" style="fill: #443b84"/>
</g>
<g id="patch_72">
<path d="M295.1 481.4l11.3 0 0-14.5-11.3 0z" clip-path="url(#pd67575f0bb)" style="fill: #3e4a89"/>
</g>
<g id="patch_73">
<path d="M295.1 470.2l11.3 0 0-14.4-11.3 0z" clip-path="url(#pd67575f0bb)" style="fill: #38598c"/>
</g>
<g id="patch_74">
<path d="M295.1 459.1l11.3 0 0-14.5-11.3 0z" clip-path="url(#pd67575f0bb)" style="fill: #31668e"/>
</g>
<g id="patch_75">
<path d="M295.1 448l11.3 0 0-14.5-11.3 0z" clip-path="url(#pd67575f0bb)" style="fill: #2c728e"/>
</g>
<g id="patch_76">
<path d="M295.1 436.8l11.3 0 0-14.5-11.3 0z" clip-path="url(#pd67575f0bb)" style="fill: #277e8e"/>
</g>
<g id="patch_77">
<path d="M295.1 425.6l11.3 0 0-14.4-11.3 0z" clip-path="url(#pd67575f0bb)" style="fill: #238a8d"/>
</g>
<g id="patch_78">
<path d="M295.1 414.5l11.3 0 0-14.5-11.3 0z" clip-path="url(#pd67575f0bb)" style="fill: #1f968b"/>
</g>
<g id="patch_79">
<path d="M295.1 403.4l11.3 0 0-14.5-11.3 0z" clip-path="url(#pd67575f0bb)" style="fill: #1fa287"/>
</g>
<g id="patch_80">
<path d="M295.1 392.2l11.3 0 0-14.5-11.3 0z" clip-path="url(#pd67575f0bb)" style="fill: #28ae80"/>
</g>
<g id="patch_81">
<path d="M295.1 381l11.3 0 0-14.4-11.3 0z" clip-path="url(#pd67575f0bb)" style="fill: #38b977"/>
</g>
<g id="patch_82">
<path d="M295.1 369.9l11.3 0 0-14.5-11.3 0z" clip-path="url(#pd67575f0bb)" style="fill: #50c46a"/>
</g>
<g id="patch_83">
<path d="M295.1 358.8l11.3 0 0-14.5-11.3 0z" clip-path="url(#pd67575f0bb)" style="fill: #6ccd5a"/>
</g>
<g id="patch_84">
<path d="M295.1 347.6l11.3 0 0-14.5-11.3 0z" clip-path="url(#pd67575f0bb)" style="fill: #8bd646"/>
</g>
<g id="patch_85">
<path d="M295.1 336.4l11.3 0 0-14.4-11.3 0z" clip-path="url(#pd67575f0bb)" style="fill: #addc30"/>
</g>
<g id="patch_86">
<path d="M295.1 325.3l11.3 0 0-14.5-11.3 0z" clip-path="url(#pd67575f0bb)" style="fill: #cde11d"/>
</g>
<g id="patch_87">
<path d="M295.1 314.2l11.3 0 0-11.2-11.3 0z" clip-path="url(#pd67575f0bb)" style="fill: #efe51c"/>
</g>
<g id="matplotlib.axis_11"/>
<g id="matplotlib.axis_12">
<g id="ytick_31">
<g id="line2d_67">
<g>
<use href="#m253cf10b20" x="306.4" y="526" style="stroke: #000000; stroke-width: 0.9"/>
</g>
</g>
</g>
<g id="ytick_32">
<g id="line2d_68">
<g>
<use href="#m253cf10b20" x="306.4" y="481.4" style="stroke: #000000; stroke-width: 0.9"/>
</g>
</g>
</g>
<g id="ytick_33">
<g id="line2d_69">
<g>
<use href="#m253cf10b20" x="306.4" y="436.8" style="stroke: #000000; stroke-width: 0.9"/>
</g>
</g>
</g>
<g id="ytick_34">
<g id="line2d_70">
<g>
<use href="#m253cf10b20" x="306.4" y="392.2" style="stroke: #000000; stroke-width: 0.9"/>
</g>
</g>
</g>
<g id="ytick_35">
<g id="line2d_71">
<g>
<use href="#m253cf10b20" x="306.4" y="347.6" style="stroke: #000000; stroke-width: 0.9"/>
</g>
</g>
</g>
<g id="ytick_36">
<g id="line2d_72">
<g>
<use href="#m253cf10b20" x="306.4" y="303" style="stroke: #000000; stroke-width: 0.9"/>
</g>
</g>
</g>
</g>
<g id="patch_88">
<path d="M295.1 526l0-223" style="fill: none; stroke: #000000; stroke-width: 0.9; stroke-linejoin: miter; stroke-linecap: square"/>
</g>
<g id="patch_89">
<path d="M306.4 526l0-223" style="fill: none; stroke: #000000; stroke-width: 0.9; stroke-linejoin: miter; stroke-linecap: square"/>
</g>
<g id="patch_90">
<path d="M295.1 526l11.3 0" style="fill: none; stroke: #000000; stroke-width: 0.9; stroke-linejoin: miter; stroke-linecap: square"/>
</g>
<g id="patch_91">
<path d="M295.1 303l11.3 0" style="fill: none; stroke: #000000; stroke-width: 0.9; stroke-linejoin: miter; stroke-linecap: square"/>
</g>
</g>
<g id="axes_7">
<g id="patch_92">
<path d="M456.6 526l222.9 0 0-223-222.9 0z" style="fill: #ffffff"/>
</g>
<g id="QuadContourSet_4">
<path d="M556.9 417.1l2.1-1.4-2.1-.1-.1 1.4zM554.4 415.4l1.3-.9 2-3.7-.8-.5-.8 .5-2.2 2.5-.2 1.2zM564.3 407.2l2-1.4 .5-1.2-1.2-.4-1.7 .4-.7 1.2 .9 1.3zM529.7 403.5l2.9-3.9-.5-.9-1.4 .9-1.5 3.8zM563.1 400.9l1.2 .5 .8-.5-.8-.6-1.3 .6zM542 399.7l1.3 .6 1.2-.2 1.3-2.9 1.8-2.5-.6-.8-1.3 .8-2.4 2.4-1.3 2.5zM530.9 396.2l1.6-1.5-.4-.5-1.2 .5-.3 1.2zM560.6 396l2.5-.8 1.9-1.8-.1-1.2-.6-.7-1.2 .2-2.6 3 0 1.2zM528.4 393.8l.6-.4 .7-1.3-1.3-.3-.8 1.6zM540.8 389l1.2 0 1.4-.5 1.1-1.6 .3-.9-.3-1.2-1.2 .5-2.8 3.2zM549.5 386.3l.3-.3-1 0zM540.8 383.6l.3-.1-.4 0zM545.8 383.8l1.4-.3-.2-.3-1.3 .3zM542 383.2l.2-.9-.7 0z" clip-path="url(#pf8aac5d967)" style="fill: #460a5d; stroke: #615252; stroke-opacity: 0.8; stroke-width: 0.9"/>
<path d="M574.2 448.4l1.3 0 .1-.4-.1-.4-1.3 .4zM565.6 446.8l1.2 .3 1.2-.4 2.5-1.6 1.3-.4 1.2 1.2 2.1-1.7-.3-3.7 .4-1.2 2.4-1.3 1.6-1.8 1.2 .2 1.3-.6 1.9-1.5 .9-1.2-.4-.7-2.4 0-.7-.6 1.5-2.4 1.6-1.3 3.3-3.7-.8-1.4-2.5 1.1-.7-.9 3.2-3.9 2.5-.9 2.5-.3 1.8-2.4-.4-1.2-1.8-1.2 .5-1.3 .3-2.5-.6-1.2-1.1-.9-2.4 .9-.2-1.2 1.4-1.4 2.5-.9 1.2-1.8 2.3-.9 .6-1.2-.4-.9-1.2-.2-3.8 .8-2.4 1.2-.4-.9 3.1-5-.3-.2-2.4 1.2-1.1-1 2.4-4.9-1.3-.6-.5-.7-.2-2.5-1.3-1.2 .2-2.5-.7-1.1-2.5 .5-.8-.6-.4-1-1.3 1.3-.8-.3-.8-1.3-2.1-.5-.4-.7 1-2.5-.3-1.2-1.5-.2-1.3-2.1-1.2 0-2.5 1.4-1.2 0-2 .9-3 .6-.4-.6 .1-1.2-1.2-1.3-.4-2.5-.5-.9-1.3 .3-1.1-.6 2.3-2.5 .3-1.2-.2-.4-1.3-.2-2.5 .8-.7-.2-.2-2.5-.3-.2-1.2 1.3-1.3-1.3-1.2-.5-1.2 .1-1.3-1.3-1.2-.1-1.3 .8-1.7 2.4-3.2 3.1-2.5 1.2-2.5-.5-1.3 1.2-1.1 2-2.5-1.3-5 2.3-3.7 0-1.7 .7-1.3 1.3-.7 2.4-1.2 1.3 0 1.9 1.5 .5-.9 1.3-1.9 .7-2.5 .1-4.2 4.1-.2 1.3 .7 .8 1.3-.4 1.2-1.2 0 1.6-2.5 3-2.5 1.6-.5 .8-.6 2.5 1.1 .7 3.1-3.2 3.1-1.3-1.2 3.2-2 .6-1.1 2.4-1.2 1.3 .6 .5 3.4-1.8 1.5-1.8 .7 .6-.4 1.2 .5 1.3 .5 .2 1.2-.5 1.4 .3-.6 2.5-1.1 1.2-.4 1.2 .7 .8 1.3 .3 .3 1.4-2.8 1.9-2.4 4.3 2.8 1.2 .9 2.5 4.9 .6 .5 .7-.3 1.2 1 .7 2.5-2.6 1.2-.8 .8 .2-.2 2.5 .7 .5 1.2 .1 1.5-.6 1.8 2.5-.5 2.4 .9 .6 3.7-1.9 .6 .1-.2 1.2-1.8 3.8 .2 .2 2.2-1.5 1.5-2.8 2.5-.3 .3 .6-.9 1.3-1.9 1.4-3 3.5-.3 2.5 .8 .8 1.3-.8 1.2-2.1 2.5-1.4 1.2-1.7 2.5 .6 1.2-1.1 2.5-.9 2.5 1 .7 .7-1.9 3-1.3 1-1.2-1.7-1.7 1.4 .4 .5 1.3 .1 .6 .6 .1 1.3 .5 1.1 2.5-2 1.2-.3 1.3-1.4 1.2-.6 1.2 .2 2.5-1.2 1.3-1 1.2-1.9 1.2 0 1.3 2.6 1.8-.5 .6-.6 .1 .6-.6 1.2-.1 2.5 1.9 1.3-.7 2.4-2 2.5 .2 .9 1.2-.2 .7 .6-.3 1.2-1.6 1.3-1.3 2.4zM539.1 423.2l.5-1.3 2.4-2.2 1.3-1.9 1.2-.7 .8 1.1-5.7 6.1zM524.4 418.2l.3-.4 0 .7zM538.3 418.2l.4-1.2 .9-1.2 1.2-.3 .5 .2 0 1.3-.5 .9-1.2 .7zM556.8 417l.1-1.4 2.1 .1-2.1 1.4zM583.5 417l1.9-1.7 1.2 .1 .1 .3-1 1.3-1.6 .8zM535.9 414.5l1.2-.4 .4 .4-.4 .3zM541.8 414.5l.4 0-.2 .4zM553.7 414.5l.2-1.2 2.2-2.5 .8-.5 .8 .5-2 3.7-1.3 .9zM527 413.3l.2-1.7 1.2-.7 1.3 0 .8 1.1-2.1 2-1.2-.1zM589.3 412l1-.6 .8 .6-.8 .6zM564.1 407.1l-.9-1.3 .7-1.2 1.7-.4 1.2 .4-.5 1.2-2 1.4zM529.2 403.4l1.5-3.8 1.4-.9 .5 .9-2.9 3.9zM563 400.9l1.3-.6 .8 .6-.8 .5-1.2-.5zM542 399.6l1.3-2.5 2.4-2.4 1.3-.8 .6 .8-1.8 2.5-1.3 2.9-1.2 .2-1.3-.6zM516.8 397.2l1.7-3.4 3.7-1.3 .2 .9-1.4 .6-1.2 2.5-2.5 1.2zM530.6 395.9l.3-1.2 1.2-.5 .4 .5-1.6 1.5zM560.5 395.9l0-1.2 2.6-3 1.2-.2 .6 .7 .1 1.2-1.9 1.8-2.5 .8zM527.6 393.4l.8-1.6 1.3 .3-.7 1.3-.6 .4zM522.1 388.5l-.7-1.3 .8-1.8 1.1 .6 0 1.2-1.1 1.3zM540.5 388.5l2.8-3.2 1.2-.5 .3 1.2-.3 .9-1.1 1.6-1.4 .5-1.2 0zM525.9 386l-.9-1.2 .9-.4 .7 .4-.7 1.2zM548.8 386l1 0-.3 .3zM540.7 383.5l.4 0-.3 .1zM545.7 383.5l1.3-.3 .2 .3-1.4 .3zM541.5 382.3l.7 0-.2 .9zM530.3 374.9l1.8-3.2 1.3-.3 1.2 1-.3 2.5-.9 .7-2.5 .2zM551.7 368.7l-.1-1.3 .4-.8 1.2-.2 1.1 1-2.3 1.3zM559.4 442l1.3-.2-1.2-1.3-.1-.7-.5 2zM552 440.6l4.9-2.8 2.5 1.4 1.8-2.4-.6-1.4-1.2 .6-.5-.4-.8-2.1-.4 .8-2.5 1.3-.9 1.2-2.3 1.8-.6 .7 .4 1.2zM581.7 440.9l1.7-.4 2.7-2.5 .7-1.2-1.4-.2-2.5 1.6-1.1 1.1-.4 1.2zM561.9 434l1.3-.9 0-1.3-1.3 .3-.4 1zM509.8 408.4l1.3 .4 .5-.5 .2-1.2-.7-.6-.7 .6-.6 1.2zM513.6 404.9l.4-.3-.4-.9-.5 .9zM596.5 399.8l0-.5-.4 .3zM597.8 398.5l0-.3-.3 .2zM516 378l2.5-.7 .7-1.2-.7-.6-1.2 .4-1.5 1.4zM569.3 374.5l.4-.9 2.5-2.5 .1-1.2-.5-.5-1.3 .5-1.8 2.5 .2 1.2zM516 373.2l1.4-.8-.1-.5-1.6 .5z" clip-path="url(#pf8aac5d967)" style="fill: #481c6e; stroke: #615252; stroke-opacity: 0.8; stroke-width: 0.9"/>
<path d="M563.1 462.3l1.2 .2 1.3-.7 3.7-3.7 2.3-1.5 .6-1.2 .8-.2 1.2 1.4 1.3 0 .5-2.5 2-1.3 1.5 .1-2.8 3.4-1.2 .3 1.2 1.1 5-3.1 3.7-.2 1.8-1.5 .3-1.2-.3-2.5 1.3-3.7 1.8-1.3 1-1.2-.2-1.2 .7-1.3 1.3-1.2 .5-1.3 .2-4.9 2.4-3.7 .3-1.3-.7-1.2 0-1.3 2-3.1 2.9-1.8 1.2-1.2 .5-1.3 .3-1.5-1.2-.1-1.3 .5-.7-.1 2.2-3.7 .9-5 1.2-3.7-1.7-2.5 .7-2.5-.1-1.2-1.2-.4-.8-.8 1.4-3.8-.9-1.2-1-2.3-2.4-.3-1-1.1 .7-1.3-1-1.2-1.2 .7-1.2-1.2-2.5 1-.6-.5 1.1-3.7-1.8-.4-.4-.9 .2-1.2 2.2-2.5 .4-1.2-.4-1.2-2-2.1-1.2-.1-2.5 1.4-.7-.5 .7-2.7-3.6-1-1.3-2.5-1.3-1.1-2.4 1.5-1.2-.4-.1-1.3-2.5-.7-.3-.5 .8-2.4-.5-.8-2.4 .2-1.3 .8-1.1-.2 1.5-2.5 .3-2.5-.7-1.8-2.5-1.8-.5 1.1-1.9 1.5-1.3 .2-1.2 .8-1.2 1.2-2.6 .1-.1-1.3 2.3-2.5 .6-2.4-1.5-.1-2.2-1.2-1.4-2.5-1.3-.6-2.5 1.2-1.2-.3-1.3 1-2.8 1.2-.5 1.3 .8 .5 1.3-.4 1.2-1.3 .7 1.2-.7 1.6-3.7 2.5-.5-.4-.3-2.5-.4-.1-2.5 2.1-1.3 .4-2.4-.1-1.3-2.3-1.2-1.1-1.2 .3-2.3 2-1.5 .3-1.5 3.5-2.2 2.4-1.2 .8-1.3-1-1.2 .9-1.2 .1-1.3-.5-3.7 1.1-2.5 2.2-1.2 .4-.9 1-.4 1.2-2.5 2.5-.6 2.5-.9 1.2-.5 1.3 1.2 1.2-.1 1.2-.3 .4-1.2-.4-1.2 .2-2.5 1.3-3.3 4.7 1.7 2.5-.3 1.2-3.1 3.2-4.9 2.2-1.4 2.1 .6 1.2 2 .5 1.3-.2 2.4-2.9 3.8-3 .2 .7-.4 1.2 1 2.5 .2 1.2-.6 3.7 .4 2.5-1.9 2.5 .1 1.2 1.7 1.3 2 3.7 1.6 1.2 .8 2.5 3 1.2 1.2 3.8-.1 2.4 .7 1.2 2.4-1 1.3 .5 .4 .6-.1 2.4 .7 1.3 2.5 1.2 .2 1.4 3.1 1.1 .6 1.3 3.7-.9 1.3 1.2 1.2 .3 3.1 1.8 .4 1.3-1 2.7 1.2 1.4 .5 2.1 .8 1.1 1.8-1.1 1.1 0-.4 1.2-1.3 1.2 0 1.5 2.5 .9 1.2-1.4 1.2 .3-1.7 2.5 .4 1.2 2.9-2.5 1-2.5 1.2-1 1.2 .4 1.1 3.1-1.4 2.5 .3 1.2 .8 1.3 .4 .2 1.3-1.3 1.6-.2-1.1 2.5 .7 .7 2.5-.5 2.5-1.7 .3 .3-.8 2.4 .5 1.1 1.2-1.7 1.2 .4 .1 2.7 1.2 .3 1.2 1.7 1.3 .5 .8 2.5zM580.1 451.7l.5 0-.2 .3zM551.8 449.2l1.4-1.4 1.2-.3 .5 .5-.8 1.2-.9 .6-1.2-.2zM574.2 448l1.3-.4 .1 .4-.1 .4-1.3 0zM565.5 446.7l1.3-2.4 1.6-1.3 .3-1.2-.7-.6-1.2 .2-.2-.9 2-2.5 .7-2.4-1.9-1.3 .1-2.5 .6-1.2-.1-.6-.6 .6-1.8 .5-1.3-2.6-1.2 0-1.2 1.9-1.3 1-2.5 1.2-1.2-.2-1.2 .6-1.3 1.4-1.2 .3-2.5 2-.5-1.1-.1-1.3-.6-.6-1.3-.1-.4-.5 1.7-1.4 1.2 1.7 1.3-1 1.9-3-.7-.7-2.5-1-2.5 .9-1.2 1.1-2.5-.6-1.2 1.7-2.5 1.4-1.2 2.1-1.3 .8-.8-.8 .3-2.5 3-3.5 1.9-1.4 .9-1.3-.3-.6-2.5 .3-1.5 2.8-2.2 1.5-.2-.2 1.8-3.8 .2-1.2-.6-.1-3.7 1.9-.9-.6 .5-2.4-1.8-2.5-1.5 .6-1.2-.1-.7-.5 .2-2.5-.8-.2-1.2 .8-2.5 2.6-1-.7 .3-1.2-.5-.7-4.9-.6-.9-2.5-2.8-1.2 2.4-4.3 2.8-1.9-.3-1.4-1.3-.3-.7-.8 .4-1.2 1.1-1.2 .6-2.5-1.4-.3-1.2 .5-.5-.2-.5-1.3 .4-1.2-.7-.6-1.5 1.8-3.4 1.8-.6-.5 1.2-1.3 1.1-2.4 2-.6 1.2-3.2-3.1 1.3-3.1 3.2-1.1-.7 .6-2.5 .5-.8 2.5-1.6 2.5-3 0-1.6-1.2 1.2-1.3 .4-.7-.8 .2-1.3 4.2-4.1 2.5-.1 1.9-.7 .9-1.3-1.5-.5 0-1.9 1.2-1.3 .7-2.4 1.3-1.3 1.7-.7 3.7 0 5-2.3 2.5 1.3 1.1-2 1.3-1.2 2.5 .5 2.5-1.2 3.2-3.1 1.7-2.4 1.3-.8 1.2 .1 1.3 1.3 1.2-.1 1.2 .5 1.3 1.3 1.2-1.3 .3 .2 .2 2.5 .7 .2 2.5-.8 1.3 .2 .2 .4-.3 1.2-2.3 2.5 1.1 .6 1.3-.3 .5 .9 .4 2.5 1.2 1.3-.1 1.2 .4 .6 3-.6 2-.9 1.2 0 2.5-1.4 1.2 0 1.3 2.1 1.5 .2 .3 1.2-1 2.5 .4 .7 2.1 .5 .8 1.3 .8 .3 1.3-1.3 .4 1 .8 .6 2.5-.5 .7 1.1-.2 2.5 1.3 1.2 .2 2.5 .5 .7 1.3 .6-2.4 4.9 1.1 1 2.4-1.2 .3 .2-3.1 5 .4 .9 2.4-1.2 3.8-.8 1.2 .2 .4 .9-.6 1.2-2.3 .9-1.2 1.8-2.5 .9-1.4 1.4 .2 1.2 2.4-.9 1.1 .9 .6 1.2-.3 2.5-.5 1.3 1.8 1.2 .4 1.2-1.8 2.4-2.5 .3-2.5 .9-3.2 3.9 .7 .9 2.5-1.1 .8 1.4-3.3 3.7-1.6 1.3-1.5 2.4 .7 .6 2.4 0 .4 .7-.9 1.2-1.9 1.5-1.3 .6-1.2-.2-1.6 1.8-2.4 1.3-.4 1.2 .3 3.7-2.1 1.7-1.2-1.2-1.3 .4-2.5 1.6-1.2 .4-1.2-.3zM558.9 441.8l.5-2 .1 .7 1.2 1.3-1.3 .2zM551.8 440.5l-.4-1.2 .6-.7 2.3-1.8 .9-1.2 2.5-1.3 .4-.8 .8 2.1 .5 .4 1.2-.6 .6 1.4-1.8 2.4-2.5-1.4-4.9 2.8zM581.4 440.5l.4-1.2 1.1-1.1 2.5-1.6 1.4 .2-.7 1.2-2.7 2.5-1.7 .4zM561.5 433.1l.4-1 1.3-.3 0 1.3-1.3 .9zM509.8 408.3l.6-1.2 .7-.6 .7 .6-.2 1.2-.5 .5-1.3-.4zM513.1 404.6l.5-.9 .4 .9-.4 .3zM596.1 399.6l.4-.3 0 .5zM597.5 398.4l.3-.2 0 .3zM515.8 377.3l1.5-1.4 1.2-.4 .7 .6-.7 1.2-2.5 .7zM568.9 373.6l-.2-1.2 1.8-2.5 1.3-.5 .5 .5-.1 1.2-2.5 2.5-.4 .9zM515.7 372.4l1.6-.5 .1 .5-1.4 .8zM529 363.7l.5-1.2 1.8-1.3 .8-.5 1.3 .1 .3 .4-.9 1.3-1.9 1.4-1.2 .3zM562.5 361.2l.5-1.2 .5 0 .1 1.2-.5 .5zM545.6 357.5l.2-.2 0 .3zM549.5 454.3l.3-.2-.3-.4-.2 .4zM594.1 443.1l0-.5-.8 .4zM539.6 424.3l5.7-6.1-.8-1.1-1.2 .7-1.3 1.9-2.4 2.2-.5 1.3zM524.7 418.5l0-.7-.3 .4zM539.6 418.6l1.2-.7 .5-.9 0-1.3-.5-.2-1.2 .3-.9 1.2-.4 1.2zM584.1 417.8l1.6-.8 1-1.3-.1-.3-1.2-.1-1.9 1.7zM537.1 414.8l.4-.3-.4-.4-1.2 .4zM542 414.9l.2-.4-.4 0zM527.2 413.9l1.2 .1 2.1-2-.8-1.1-1.3 0-1.2 .7-.2 1.7zM590.3 412.6l.8-.6-.8-.6-1 .6zM498.7 399l1.7-1.8-.5-.7-1.8 .7-.3 1.2zM517.3 397.7l2.5-1.2 1.2-2.5 1.4-.6-.2-.9-3.7 1.3-1.7 3.4zM473.9 394l1-.6-1-.3-.4 .3zM485.1 391.5l.5-.5-.8 0zM486.3 390.2l.6-.5-.8 0zM481.4 388.9l1.2-.7 .4-1-1.6-.8-.7 .8 .5 1.3zM493.8 389l.1-1.8-.8 1.3zM522.2 388.5l1.1-1.3 0-1.2-1.1-.6-.8 1.8 .7 1.3zM525.9 386l.7-1.2-.7-.4-.9 .4 .9 1.2zM530.9 375.8l2.5-.2 .9-.7 .3-2.5-1.2-1-1.3 .3-1.8 3.2zM552 368.7l2.3-1.3-1.1-1-1.2 .2-.4 .8 .1 1.3zM532.1 354.1l3-1.5 .7-1.3-1.2-1.1-1.2 .7-1.1 1.7-.2 1.2z" clip-path="url(#pf8aac5d967)" style="fill: #472d7b; stroke: #615252; stroke-opacity: 0.8; stroke-width: 0.9"/>
<path d="M565.6 471.5l1.2 0 5-2.5 0-2.4 1.2 .5 .4-.6 3.3-1.3 5-3 2.4-.2 1.3-1.4 2.8-1.5 .5-2.5 1.6-.9 .8-1.6 3.5-3.7 1.2-2.4 2-2 .3-.5-.6-1.3 0-1.2 .8-1.2 .4-2.5-.5-1.3-1-1.2 .4-1.2 1.9-2.5 .2-1.3-1.9-1.2 1.2-1.7 1.1 .5-.3 1.2 .4 .4 .7-1.6-.7-.4-.2-.9 1.5-1 1.2 1.4 1.3-.5-.1-2.4 1.4-1.2 .6-1.2 .2-3.7 .8-2.5 0-3.7 .9-1.3 .5-2.5 .9-1.2-.3-.5-1.2 .8-.1-.3-.3-1.2 .6-2.5-.8-2.5 .9-3.7 2-2.5-1.1-.9-1.2 .2-1.3-1.1-1.2-.3-.2-1.6 1.3-2.5-1.1-1.1-1.2 .9-.5-1 1.7-2.7 2.5-1.1 .8-1.2-.5-1.2-2.8-.5-.7-.8 .1-1.2 .8-1.2-.2-.9-1.2 .5-2.5 1.7-1.1-2.6-1.4 .4-1.2-.5-1.3-2.3 .2-2.5-1.5-1.3 .4-3.7-.3-.6-1.6-.6-1.8-3.7-.3-1.5-1-1-2.7 .4-1.3 1 .3-2.6-.3-.5-1.2 .3-2.5-1.6-1.2 0-1.3-1.5-2.4 1-.7-.2-.9-2.5-.9-.5-1.3 .2-.5-.9 .5-1.6 2.5-1.5 3-3.1 0-1.3-.5-.8-6.2 4.1-1.2-1.8-1.4-.2 1.4-3.3 0-1.3-1.3-.2-1.2 .7-1.3-1.9-1.8-.2 1.1-2.5 .1-1.3-.6-.8-2.5 1.2-1.2 0-1.2 2-1.3 .3-.7-1.4-.5-.2-2.5 2.8-1.2 0-2.5 2-1.2-.2-2.5 1.2-1.3-.3-.2-.4 4.2-6.2-.2-.3-1.3 .2-1.2 1.2-1.5 .2 .2-3.9-1.2 .4-1.1-.2-1.4-1.6-1.2-.7-1.3 .1-2.4 .5-1.3 1.7-3.7 2.6-1.2-.7-1.3-2-1.9 2.5-1.8 1.1-.7 1.4 .3 5-.8 1.7-5 1.5-2.4 2.3-1.4 .7-1 1.2-.9 2.5 1.3 1.2-.5 .3-1.3-.5-1.2 1-2.5 2.8-2.2 1.4-1 2.5-2.1 2.4-2.1 1.5-1.2 .4-1.3 1.2-2.1 3.1-.9 2.5 .5 1.2 1.3-.5 .4 .6-.4 .3-1.3-.2-1.2 .8-1.2 .1-2.6-2.3-3.6-.7-6.4 4.4-2.3 3.2-1.2 .1-1.3 .8-1.2-.2-1.2-2-1.3-.4-1.2 .3-6.9 3.2-1.7 2.5-2.6 2.2-3.7 .5-1.2-.7-2.5 1.6 0 3.7 .4 .1-.4 .3 0 8.8 5 .4 1.2-.3 1.8-1.8 .7-1.3 1.2-.8 .9 .9 1.6 .6 3.7-.7 1.2 1 1.3 .5 2.5-1.6 1.2 .7 2.5-1.6 1.2 1.4 2.5-.2 2.5-1 1.2 1.4 1.5 .7 .3 2.5 .7 .9 4.9 1.2 0 1.9 .6 1 1.8 1.2 .1 1.5 2.3 2.2 .5 1.3 2.2 1.1-1.3 2.5 0 1.5 1.3 .2 1.2-.8 1.2 1 1.3-.1 .8 .8-1.6 2.4 .4 1.3 .4 .3 1.2-.5 1.1 .2-.1 2.4 .2 .5 2.3 .8-.2 1.2 .4 1.3 1.3-.4 1.6 .4 0 3.7 .8 .8 3.8 .9 .5 .8-.8 2.4 .3 .3 1.2 .1 1.2 2.2 1.7-.1 2.3-1.2-.1 1.2-.6 1.3 .3 1.2 1.4 .3 1.4 .9 1 2.5 2.5 1 1.3 0 .5 1.5 .7 .7 1.3 0 .5 .5-.1 1.3 .8 .8 2.5-.3 1.6 .7 1.5 2.5 .1 2.5 .5 .4 2.5 1 1.2-.4 2.5-1.6 .6 .6-1.9 2.4 0 1.5 2.5 .2 .7 .8 .6 2 2.4-.1 1.3 1.2 2.4 .9 1.1 1 1.4-.1 1.3 1.4 2.6-.1 1 1.2 .1 1.3zM562.7 461.6l-.8-2.5-1.3-.5-1.2-1.7-1.2-.3-.1-2.7-1.2-.4-1.2 1.7-.5-1.1 .8-2.4-.3-.3-2.5 1.7-2.5 .5-.7-.7 1.1-2.5-1.6 .2-1.3 1.3-.4-.2-.8-1.3-.3-1.2 1.4-2.5-1.1-3.1-1.2-.4-1.2 1-1 2.5-2.9 2.5-.4-1.2 1.7-2.5-1.2-.3-1.2 1.4-2.5-.9 0-1.5 1.3-1.2 .4-1.2-1.1 0-1.8 1.1-.8-1.1-.5-2.1-1.2-1.4 1-2.7-.4-1.3-3.1-1.8-1.2-.3-1.3-1.2-3.7 .9-.6-1.3-3.1-1.1-.2-1.4-2.5-1.2-.7-1.3 .1-2.4-.4-.6-1.3-.5-2.4 1-.7-1.2 .1-2.4-1.2-3.8-3-1.2-.8-2.5-1.6-1.2-2-3.7-1.7-1.3-.1-1.2 1.9-2.5-.4-2.5 .6-3.7-.2-1.2-1-2.5 .4-1.2-.2-.7-3.8 3-2.4 2.9-1.3 .2-2-.5-.6-1.2 1.4-2.1 4.9-2.2 3.1-3.2 .3-1.2-1.7-2.5 3.3-4.7 2.5-1.3 1.2-.2 1.2 .4 .3-.4 .1-1.2-1.2-1.2 .5-1.3 .9-1.2 .6-2.5 2.5-2.5 .4-1.2 .9-1 1.2-.4 2.5-2.2 3.7-1.1 1.3 .5 1.2-.1 1.2-.9 1.3 1 1.2-.8 2.2-2.4 1.5-3.5 1.5-.3 2.3-2 1.2-.3 1.2 1.1 1.3 2.3 2.4 .1 1.3-.4 2.5-2.1 .4 .1 .3 2.5 .5 .4 3.7-2.5 .7-1.6-.7-1.2-1.2 1.3-1.3 .4-.8-.5 .5-1.3 2.8-1.2 1.3-1 1.2 .3 2.5-1.2 1.3 .6 1.4 2.5 2.2 1.2 1.5 .1-.6 2.4-2.3 2.5 .1 1.3 2.6-.1 1.2-1.2 1.2-.8 1.3-.2 1.9-1.5 .5-1.1 2.5 1.8 .7 1.8-.3 2.5-1.5 2.5 1.1 .2 1.3-.8 2.4-.2 .5 .8-.8 2.4 .3 .5 2.5 .7 .1 1.3 1.2 .4 2.4-1.5 1.3 1.1 1.3 2.5 3.6 1-.7 2.7 .7 .5 2.5-1.4 1.2 .1 2 2.1 .4 1.2-.4 1.2-2.2 2.5-.2 1.2 .4 .9 1.8 .4-1.1 3.7 .6 .5 2.5-1 1.2 1.2 1.2-.7 1 1.2-.7 1.3 1 1.1 2.4 .3 1 2.3 .9 1.2-1.4 3.8 .8 .8 1.2 .4 .1 1.2-.7 2.5 1.7 2.5-1.2 3.7-.9 5-2.2 3.7 .7 .1 1.3-.5 1.2 .1-.3 1.5-.5 1.3-1.2 1.2-2.9 1.8-2 3.1 0 1.3 .7 1.2-.3 1.3-2.4 3.7-.2 4.9-.5 1.3-1.3 1.2-.7 1.3 .2 1.2-1 1.2-1.8 1.3-1.3 3.7 .3 2.5-.3 1.2-1.8 1.5-3.7 .2-5 3.1-1.2-1.1 1.2-.3 2.8-3.4-1.5-.1-2 1.3-.5 2.5-1.3 0-1.2-1.4-.8 .2-.6 1.2-2.3 1.5-3.7 3.7-1.3 .7-1.2-.2zM549.3 454.1l.2-.4 .3 .4-.3 .2zM593.3 443l.8-.4 0 .5zM497.8 398.4l.3-1.2 1.8-.7 .5 .7-1.7 1.8zM473.5 393.4l.4-.3 1 .3-1 .6zM484.8 391l.8 0-.5 .5zM486.1 389.7l.8 0-.6 .5zM481.2 388.5l-.5-1.3 .7-.8 1.6 .8-.4 1-1.2 .7zM493.1 388.5l.8-1.3-.1 1.8zM486.1 381l.1-1.2 1.4-.6 .5 .6-1.8 1.3zM532.1 353.8l.2-1.2 1.1-1.7 1.2-.7 1.2 1.1-.7 1.3-3 1.5zM529.2 348.8l-.4-1.2 .9-.6 1.2 .2 0 .5-1.2 1.3zM560.5 345.1l.1-.4 .3 .4-.3 .3zM561.5 343.9l.4-.5 0 .8zM562.6 342.6l.5-.3 .4 .3-.4 .2zM564.2 341.4l.4 0-.3 .2zM536.3 340.2l0-1.3 .8-1.2 2.5-1.4 .3 .1 0 1.3-1.6 2.1-1.2 .6zM594.1 455.5l0-.5-.5 .4zM580.4 452l.2-.3-.5 0zM552 449.6l1.2 .2 .9-.6 .8-1.2-.5-.5-1.2 .3-1.4 1.4zM499.9 367.5l1.3-.1 2.5-1.4 3.1-4.8-.7-.9-3.7 1.8-.9 1.6-1.7 1.2-.4 1.3 .5 1.2zM529.7 364.2l1.2-.3 1.9-1.4 .9-1.3-.3-.4-1.3-.1-.8 .5-1.8 1.3-.5 1.2zM563.1 361.7l.5-.5-.1-1.2-.5 0-.5 1.2zM502.4 360.6l2.6-3.1-.1-.6-1.2-.3-1.3 .3-.7 .6-.3 1.3 .3 1.2zM545.8 357.6l0-.3-.2 .2zM590.3 355.3l.4-.3-.4-.3-.5 .3zM573 345.2l2.1-1.3 .7-1.3-.3-.3-3.1 1.6 .5 1.2zM561.9 336.5l1.2-.3 1.3-2.2 2.5-2.5 .3-1.2-.4-.3-3.7 2-1.7 3.2 .2 1.2zM576.7 335.4l0-.3-.3 .1zM529.7 333.6l1.2-.2 .5-.7 1.2-2.4-.5-1-1.2 .3-.9 .7-1.1 1.2-.2 1.2z" clip-path="url(#pf8aac5d967)" style="fill: #443b84; stroke: #615252; stroke-opacity: 0.8; stroke-width: 0.9"/>
<path d="M565.6 476.3l3.7-.8 1.2-.9 2.5-.6 2.5-1.4 .7 .1 .5 .7 .1 1.8 2.4-.3 2.2-2.2 1.5-2.8 5-2.9 3.4-2.9 .6-1.3-.5-1.2 .6-1.3 2.1-1.4 1.2 .6 3.4-2.9 1.5-6.2 2.3-2.4 1.2-2.5 1.9-1.3 .2-3.7 2.4-2.5-.3-2.4 1-2.5 2.2-3.7-1-2.5 1.3-.9 3-5.3-.1-1.2-1.7 .2-.7-.2 .4-2.5 3.4-3.7-.6-.9-2.3-.4 2.3-3.2 .5-1.7-1.8-2.5 1.7-3.7-1.5-1.3 1.6-4.9 1-1.3-.3-.3-1.2 .3-.3-1.2 .6-1.2 3.2-3.8 .5-1.2-.3-.9-3.7 .1-2.5-1.1-.1-1.8 .7-2.5-.6-.7-1.7-.5-.1-1.3 .7-1.2-.1-.7-1.2-.7-1.2-3.6 1.2-2.5-1.3-.9-2.5 .5-1.2-1.4-1.2 .1-1.3 1.8-1.2 .2-1.2-.2 1.2-2.7 2.8-3.5 .1-1.3-.4-.4-2.5 2.1-2.5 .6-2.3-1-.1-1.3 .9-2.4-.1-1.3-.7-1.2 .3-1.3 2-.5 .8-1.9-.8-1.5-2.5-.1-1.2-1.2-2.5-.7 0-.6 1.4-2.1-.1-1.5-1.3 0-2.5 .8-.4-.6 1.8-2.5 .3-1.2-.4-.2-1.3 .4-1.2 1.4-1.2 .3-1.3-.5-2.5 .8-.4-1 2.3-4.9-.6-.5-1.3 0-2.7-3.2 .8-2.5 0-1.2-.5-.3-2.5 .3-.3-1.3 1.5-1.7 2.5-1.5 1.2 .3 .8-.8-.8-.2-1.2-1.9-1.2 .3-2.5 2.5-4.3 3-.7 1.4-.8-.1 .8-2.6-1.2 .4-.6-.3-.7-1.3-1.2-.7-2.5 1.4-1.2-.3 .7-2.8-3-1.3 .2-1.2 4.4-5-2.3 0-1.2-1.8-1.3-.5-1.2 .6-.6-.7 1-2.5 .1-2.5-.7-1.2 .2-1.2 1.2-.8 2.3-3-3.6 0-1.8 1.2-3.1 .8-3.7 3.3-1.2 .3-.7-.6 .5-1.3 4.7-3.7-10.5 0-1.2 1.2-2.7 1.5-2.5 .3-.8-.5 .4-1.3-.8-1-1.3 .3-.9-.5-6.3 0 .3 1.2 2.8 2.5-.5 1.3-1.6 1.2-2.4 .6-2.5 1.2-.9-.6 2.1-3 2.3-1.9 0-1.3-1-.9-1.6 .9-.9 1.2-1.3 .5-2.6 3.3-1.8 3.7 .7 1 1.3-.9 .3 1.2-1.1 2.4 0 1.3 .8 .5 1.2-1.1 1.1 .6-3.6 4.4-1.2 .4-1.2-1.2-3 1.3-1.1 2.5 .3 3.7-.9 2.5-3 3.7 .2 3.3-1.2-.5-1.3 .3-6.8 6.8-1.2 2.5-1.9 1.6-1.2 .4-3.3 4.2 .8 3.7-1.2 .4-1 2.1 1 .4 .5 .8 0 1.3-9.2 6.8-.9-.6 .3-1.3 1.9-.7 2.4-3 2.1-1.2 1-1.3 .4-1.2-2.2 .1-3.7 3.1-1.3 1.7-3.7 2.3-1.2-.3-4.3 4.2-3.2 2-2.4 2.4-2.5 0-.7 .6-.6 1.7-2.4 0-1.3-.4-1.2-.9-2.5 .9-.5-1.3 .7-1.2-.2-.4-2.5 .5-1.2 .9 0 3.5 .5 .4-.5 1.3 0 7.3 2.5-1.6 1.2 .7 3.7-.5 2.6-2.2 1.7-2.5 6.9-3.2 1.2-.3 1.3 .4 1.2 2 1.2 .2 1.3-.8 1.2-.1 2.3-3.2 6.4-4.4 3.6 .7 2.6 2.3 1.2-.1 1.2-.8 1.3 .2 .4-.3-.4-.6-1.3 .5-.5-1.2 .9-2.5 2.1-3.1 1.3-1.2 1.2-.4 2.1-1.5 2.1-2.4 1-2.5 2.2-1.4 2.5-2.8 1.2-1 1.3 .5 .5-.3-1.3-1.2 .9-2.5 1-1.2 1.4-.7 2.4-2.3 5-1.5 .8-1.7-.3-5 .7-1.4 1.8-1.1 1.9-2.5 1.3 2 1.2 .7 3.7-2.6 1.3-1.7 2.4-.5 1.3-.1 1.2 .7 1.4 1.6 1.1 .2 1.2-.4-.2 3.9 1.5-.2 1.2-1.2 1.3-.2 .2 .3-4.2 6.2 .2 .4 1.3 .3 2.5-1.2 1.2 .2 2.5-2 1.2 0 2.5-2.8 .5 .2 .7 1.4 1.3-.3 1.2-2 1.2 0 2.5-1.2 .6 .8-.1 1.3-1.1 2.5 1.8 .2 1.3 1.9 1.2-.7 1.3 .2 0 1.3-1.4 3.3 1.4 .2 1.2 1.8 6.2-4.1 .5 .8 0 1.3-3 3.1-2.5 1.5-.5 1.6 .5 .9 1.3-.2 .9 .5 .9 2.5 .7 .2 2.4-1 1.3 1.5 1.2 0 2.5 1.6 1.2-.3 .3 .5-.3 2.6 1.3-1 2.7-.4 1 1 .3 1.5 1.8 3.7 1.6 .6 .3 .6-.4 3.7 1.5 1.3-.2 2.5 1.3 2.3 1.2 .5 1.4-.4 1.1 2.6 2.5-1.7 1.2-.5 .2 .9-.8 1.2-.1 1.2 .7 .8 2.8 .5 .5 1.2-.8 1.2-2.5 1.1-1.7 2.7 .5 1 1.2-.9 1.1 1.1-1.3 2.5 .2 1.6 1.2 .3 1.3 1.1 1.2-.2 1.1 .9-2 2.5-.9 3.7 .8 2.5-.6 2.5 .3 1.2 .1 .3 1.2-.8 .3 .5-.9 1.2-.5 2.5-.9 1.3 0 3.7-.8 2.5-.2 3.7-.6 1.2-1.4 1.2 .1 2.4-1.3 .5-1.2-1.4-1.5 1 .2 .9 .7 .4-.7 1.6-.4-.4 .3-1.2-1.1-.5-1.2 1.7 1.9 1.2-.2 1.3-1.9 2.5-.4 1.2 1 1.2 .5 1.3-.4 2.5-.8 1.2 0 1.2 .6 1.3-.3 .5-2 2-1.2 2.4-3.5 3.7-.8 1.6-1.6 .9-.5 2.5-2.8 1.5-1.3 1.4-2.4 .2-5 3-3.3 1.3-.4 .6-1.2-.5 0 2.4-1.3 .9-3.7 1.6-1.2 0-.1-1.3-1-1.2-2.6 .1-1.3-1.4-1.4 .1-1.1-1-2.4-.9-1.3-1.2-2.4 .1-.6-2-.7-.8-1.2 .1-1.4-.5 .1-1.3 1.9-2.4-.6-.6-2.5 1.6-1.2 .4-2.5-1-.5-.4-.1-2.5-1.5-2.5-1.6-.7-2.5 .3-.8-.8 .1-1.3-.5-.5-1.3 0-.7-.7-.5-1.5-1.3 0-2.5-1-1-2.5-1.4-.9-1.4-.3-.3-1.2 .6-1.3 .1-1.2-2.3 1.2-1.8 0-1.1-2.1-1.5-.4 .8-2.4-.5-.8-3.8-.9-.8-.8 0-3.7-1.6-.4-1.3 .4-.4-1.3 .2-1.2-2.3-.8-.2-.5 .1-2.4-1.1-.2-1.2 .5-.4-.3-.4-1.3 1.6-2.4-.8-.8-1.3 .1-1.2-1-1.2 .8-1.3-.2 0-1.5 1.3-2.5-2.2-1.1-.5-1.3-2.3-2.2-.1-1.5-1.8-1.2-.6-1 0-1.9-4.9-1.2-.7-.9-.3-2.5-1.5-.7-1.2-1.4-2.5 1-2.5 .2-1.2-1.4-2.5 1.6-1.2-.7-2.5 1.6-1.3-.5-1.2-1-3.7 .7-1.6-.6-.9-.9-1.2 .8-.7 1.3-1.8 1.8-1.2 .3-5-.4 0 2.9 1.2 0 1.3 .9 1.2 .1 1.3-.5 2.4 .7 1.3-.5 1.2 1 6.2-3.2 2.5 1.2 3.7-.8 4.9-2.2 1.3 .8 2.5 4.1 2.4 .7 1.3 1.2 1.2 .2 1.3 1.9 2.4 1-1.5 2.5-.1 1.2 .4 .3 2.6-.3-.5 2.5 1.5 4.9 1.7 1.3 .9 1.9 1.2 1.2 .9 1.8-.7 2.5 .4 1.2 .7 .7 1.2-.2 1.2-.9 1.3-.3 1.1 .7-1.1 2.7 1.2 .4 1.2-.7 .5 2.6 3.3 .6 2.4 4 2.5 1 1.3 1.8 1.5 0 2.2 1.7 1.2 0 .7 .8-.4 2.5 2.2 2.2 1.2 4.3 2.1 3.4 1.6-.1 1.3-.7 1.2-1.5 1.3-.4 .3 .2 .4 2.5 2.1 0 .8 1.2 .1 1.6 2.4 2.6 2.5 1 2.5 .3 .4 .7-.2 1.3 .4 1.2 3.1-.4 .8 .4 .5 1.8 1.2-.2 .7 .9-.9 1.2-.1 1.3 .3 .4 1.2-.2 1.3-1 1.2-.1 2.5-.9 2.5-.2 .6 .7 0 1.3 .6 .9 1.7 .3zM593.6 455.4l.5-.4 0 .5zM499.9 367.4l-.5-1.2 .4-1.3 1.7-1.2 .9-1.6 3.7-1.8 .7 .9-3.1 4.8-2.5 1.4-1.3 .1zM501.7 360l-.3-1.2 .3-1.3 .7-.6 1.3-.3 1.2 .3 .1 .6-2.6 3.1zM589.8 355l.5-.3 .4 .3-.4 .3zM505.9 351.3l1.5-1.6 1.1 .4-1.1 1.5-1.3 .2zM503.4 348.8l-.4-1.2 .7-.7 2.4-1 .4 .5-1.6 2.3-1.2 .4zM506.8 345.1l.6-.6 .4 .6-.4 .5zM572.9 345.1l-.5-1.2 3.1-1.6 .3 .3-.7 1.3-2.1 1.3zM508.3 343.9l.3-.2 0 .4zM509.6 342.6l.2-.1 0 .4zM513.6 342.6l-1.2-2.4 2.4-2.1 1.5-.4-.3-.9-1.2 .2-.5-.6 .5-.8 1.2 .4 1.3 .9 .6-1.7 2.2-1.2 2.1-1.9 .6 .6-.6 1.1-1.2 .6-1.6 2-2.8 5-.6 2.2-1.2-.3zM561.6 336.4l-.2-1.2 1.7-3.2 3.7-2 .4 .3-.3 1.2-2.5 2.5-1.3 2.2-1.2 .3zM576.4 335.2l.3-.1 0 .3zM516.9 332.7l.4-.5 .7 .5-.7 .9zM528.7 332.7l.2-1.2 1.1-1.2 .9-.7 1.2-.3 .5 1-1.2 2.4-.5 .7-1.2 .2zM531.8 321.6l-.5-1.3 .9-1.2 1.2-.7 .9 .7-.2 1.2-.7 1-1.3 .4zM555.5 317.9l1.2 0-1 .5zM532.3 314.2l.4-1.3 2.5-2.5 .7-.4 1.2 .2 .2 .2-.3 1.3-3.6 3zM540.1 311.7l.7-1.7 1.2 .1 .2 .3-1.4 1.6zM543.1 309.2l.2-.2 0 .3zM539.3 306.7l.3-.6 .3 .6-.3 .5zM536.6 304.2l.5-.6 0 .9zM457 392.2l-.4-.1 0 .4zM486.3 381.1l1.8-1.3-.5-.6-1.4 .6-.1 1.2zM461.6 374l0-.6-.6 .2zM471.5 372.5l0-.7-.1 .6zM472.7 371.7l.3-.6-.2-1.2-1.1 1.2zM600.2 360.1l2.5-.4 2-3.4-.1-1.3-.7 0-3.7 3.3-1.1 .5 .4 1.2zM529.7 349l1.2-1.3 0-.5-1.2-.2-.9 .6 .4 1.2zM560.6 345.4l.3-.3-.3-.4-.1 .4zM561.9 344.2l0-.8-.4 .5zM563.1 342.8l.4-.2-.4-.3-.5 .3zM564.3 341.6l.3-.2-.4 0zM537.1 340.4l1.2-.6 1.6-2.1 0-1.3-.3-.1-2.5 1.4-.8 1.2 0 1.3zM573 323.6l3.1-2 0-1.3-.6-1.2-2.5-1.7-.5 1.7-2.4 2.5 1.7 .6 .4 .6zM576.7 323.1l0-.7-.3 .4zM511.1 321.4l1.4-1.1-.2-.3-1.6 .3zM569.3 316.5l1.4-1.1-.1-1.2-1.6 1.2zM569.3 310.6l0-.4-.3 .2zM568 305.3l1.3-.7 1.3-1.6-2.2 0-.9 1.2z" clip-path="url(#pf8aac5d967)" style="fill: #3e4a89; stroke: #615252; stroke-opacity: 0.8; stroke-width: 0.9"/>
<path d="M561.9 481.7l3.7-.9 1.2 .5 2.5 0 2.5-1.8 1.2 .2 2.5-1.1 4.9 .2 2.5-1.8 2.5-.9 3.2-4.6 .5-2.5 1.2-1.7 1.3-.7 3.7-.2 1.7-1.1 2.2-2.5 2.4-3.7 .1-2.5 2.3-6 1.7-1.4 3.2-4 1.3-2.2 .2-1.2-.9-1.3 .3-1.2 4.1-4.8 1.4-2.7 0-2.4 1.7-3.8-.4-3.7 .7-1.2 .3-2.5 1.7-2.5 .8-3.1 1.4-1.8-1.4-1.1-1.3-2.6 1.3-1.8 1.2-.7 .4-1.2-.3-1.3 .2-1.2 .7-2.5 .6-1.2 1.3-1.3-.6-1.2-1.2-1.3 .4-1.2 2.1-1.2 .5-1.3-.3-1.2-1.3-.5-1.5-2 2.3-6.2 0-1.2 2.9-2.6 1.3-2.4-1.3-.8-2.5 .5-1.2-.2-.9-.7 .4-1.3 3-1.7 .6-2-.4-1.2 .6-2.5-.8-2.6-1.3-.4-1.2 .6-1.8 1.2-1.9 2.4-1.1-1.2 1.6-1.2 .3-1.3-1.8-2.4 .3-1.3 2.6-2.5 .5-.3 .7 .3-1.2 2.5 .5 .4 2.7-1.6 .8-2.5 1.5-.5 .7-.7-1.2-1.3-.2-1.2 .7-2.5-2.3-1.2 .7-3.8-.9-.3-.8 1.6-1.7 .7-4.9 5.8-2.5 1.2-.8-.3 .1-1.2 3.3-2.5 1.2-1.2 1.2-1.9 3.7-3.1 0-1.4-1.3-.3-1.2 .1-2.5 2.6-1.2 .4-.5-.2-.8-1.1-.9-.1 2.2-.4 3.7-3.3 .4-1.3-.4-1-1.2 .2-1.3 1.2-1.2 .5-1.1-.9 0-1.2 2-2.5 .4-1.2-1.6-1.2-.4-1.3 3.1-2.5 1.5-2.4-.2-1.1-5-.6-2.4 2.4-.7-.7-.6-2.2-.4-.3 .2-2.5-.6-1.2-2.9 .7-.5-.7 .4-1.3 1.7-2.4-.3-.5-2.5 0-.4-.8 .5-1.2-.1-1.6-3.7 2.5-.7 1.6-1.8 1.5-1.3-.7-2.4 1.1-.8-.7 .8-2 2.9-4.2-.5-1.8-.2 .6-2.2 .6 0-.9 1.9-1 1.8-.3 1.2 .9 1.3-.1 0-2.5-1.3-1.7-4.3 0-.6 .3-.9-.3-26.3 0-1.3 1.6-1.3 .7-.5-1.1 .9-1.2-1.8 0-2.3 3-1.2 .7-.2 1.3 .7 1.2-.1 2.5-1 2.5 .6 .7 1.2-.6 1.3 .5 1.2 1.8 2.3 0-4.4 5-.2 1.2 3 1.3-.7 2.8 1.2 .3 2.5-1.4 1.2 .7 .7 1.3 .6 .3 1.2-.4-.8 2.6 .8 .1 .7-1.4 4.3-3 2.5-2.5 1.2-.3 1.2 1.9 .8 .2-.8 .8-1.2-.3-2.5 1.5-1.5 1.7 .3 1.3 2.5-.3 .5 .3 0 1.2-.8 2.5 2.7 3.2 1.3 0 .6 .5-2.3 4.9 .4 1 2.5-.8 1.3 .5 1.2-.3 1.2-1.4 1.3-.4 .4 .2-.3 1.2-1.8 2.5 .4 .6 2.5-.8 1.3 0 .1 1.5-1.4 2.1 0 .6 2.5 .7 1.2 1.2 2.5 .1 .8 1.5-.8 1.9-2 .5-.3 1.3 .7 1.2 .1 1.3-.9 2.4 .1 1.3 2.3 1 2.5-.6 2.5-2.1 .4 .4-.1 1.3-2.8 3.5-1.2 2.7 1.2 .2 1.2-.2 1.3-1.8 1.2-.1 1.2 1.4 2.5-.5 1.3 1-1.2 2.4 1.2 3.6 1.2 .7 .1 .7-.7 1.2 .1 1.3 1.7 .5 .6 .7-.7 2.5 .1 1.8 2.5 1.1 3.7-.1 .3 .9-1.2 2.5-2.5 2.5-.6 1.2 .3 1.2 1.2-.3 .3 .3-1 1.3-1.6 4.9 1.5 1.3-1.7 3.7 1.8 2.5-.5 1.7-2.3 3.2 2.3 .4 .6 .9-3.4 3.7-.4 2.5 .7 .2 1.7-.2 .1 1.2-3 5.3-1.3 .9 1 2.5-2.2 3.7-1 2.5 .3 2.4-2.4 2.5-.2 3.7-1.9 1.3-1.2 2.5-2.3 2.4-1.5 6.2-3.4 2.9-1.2-.6-2.1 1.4-.6 1.3 .5 1.2-.6 1.3-3.4 2.9-5 2.9-1.5 2.8-2.2 2.2-2.4 .3-.1-1.8-.5-.7-.7-.1-2.5 1.4-2.5 .6-1.2 .9-3.7 .8-.8-1.1-1.7-.3-.6-.9 0-1.3-.6-.7-2.5 .2-2.5 .9-1.2 .1-1.3 1-1.2 .2-.3-.4 .1-1.3 .9-1.2-.7-.9-1.2 .2-.5-1.8-.8-.4-3.1 .4-.4-1.2 .2-1.3-.4-.7-2.5-.3-2.5-1-2.4-2.6-.1-1.6-.8-1.2-2.1 0-.4-2.5-.3-.2-1.3 .4-1.2 1.5-1.3 .7-1.6 .1-2.1-3.4-1.2-4.3-2.2-2.2 .4-2.5-.7-.8-1.2 0-2.2-1.7-1.5 0-1.3-1.8-2.5-1-2.4-4-3.3-.6-.5-2.6-1.2 .7-1.2-.4 1.1-2.7-1.1-.7-1.3 .3-1.2 .9-1.2 .2-.7-.7-.4-1.2 .7-2.5-.9-1.8-1.2-1.2-.9-1.9-1.7-1.3-1.5-4.9 .5-2.5-2.6 .3-.4-.3 .1-1.2 1.5-2.5-2.4-1-1.3-1.9-1.2-.2-1.3-1.2-2.4-.7-2.5-4.1-1.3-.8-4.9 2.2-3.7 .8-2.5-1.2-6.2 3.2-1.2-1-1.3 .5-2.4-.7-1.3 .5-1.2-.1-1.3-.9-1.2 0 0 4 1.2-.5 1.3 .2 1.2 .8 3.7 .7 2.5-.4 .8 .5 .4 1.7 3.8-1.2 1.2-.1 1.2 .9 3.8-1.6 3.7-.8 2.4-1.5-.2 1.4-1.2 1.2-1 2.1-1.7 1.7 .1 1.2 2.8-.4 .9 .4 .1 2.5 1.5-.5 .9 .5-.6 2.5 .9 1.2 1.3-.3 4 .3-1.1 1.2-.2 1.3 1 .4 2.5-.9 1.2 .1 .3 .4-1.1 3.7 .8 .8 1.2 .3 .3 1.4 1 .5 1.2-.3 .6 1-.1 2.5 1.8 2.5 .2 1.8 2.5 2 1.2 .4 .2 .7-1.4 4 1.2 .5 1.9-.8 .5-1.2 1.3-.8 1.2-.2 .3 1 2.2 .5 .9 .7-.2 1.3-1.6 2.5 .9 1.1 1.3 .3 1.2 1 1.2 .1 .7 2.4 .6 .5 1.2 .2 1.3 1.3 2.4-1 1.4 .2-.5 2.5 1.8 1.3 .8 1.2-1 3.7 3.7 1.6 2.5 1.8 1.2 0 .2 1.6 1.1 1 3.7-1.6 1 .6 .2 .5 1.3 .8 1.2 2.4 4.7 2.5-.2 2.4 .5 .5 2.4-.2 2.5 1.7 1.3-.3 2.4 .9 1.3-.4 2.4 .6 1.3-.4 1.2 .6 .7 2zM613.5 430.6l.4-.5 .8 .5-.8 .6zM620.6 368.7l0-1.3 .7-.8 1 .8-1 1.4zM599.5 360l-.4-1.2 1.1-.5 3.7-3.3 .7 0 .1 1.3-2 3.4-2.5 .4zM613.2 357.5l-1-1.2-.1-1.3 .5-1.1 1.3 .7 1.2-.6 1.2-1.4 3.8-1.4 .4 1.4-2.2 3.7-3.2 1.6-1.2-.1zM608.6 353.8l.2-1.2 .7-1.3 1.9-1.4 1.8 .2 .1 1.2-.7 .2-2.4 2.1-1.3 .6zM614 342.6l1.1-1.1 .4 1.1-.4 .2zM605.4 338.9l.9-1.2 .8 0-.7 1.7zM605.7 332.7l.7-1.4 2.5-1.6 1.8-3.2 .7-.5 1.2-.1 .6 1.9-.6 .7-6.2 4.9zM613.8 330.3l-.1-1.3 1.1 0-.9 1.3zM605 327.8l-1-1-1.3 .4-.8-.7-.2-2.4-.4-1.3 .2-.8 3.9-.4 .3 2.5 .7 .3 1.3 0 2.5-1.7 1.2 0-1.2 2.3-2.5 1.4-1.3 1.2-1.2 .3zM591.3 326.5l-.8-1.2 1.1-.7 1.2 0 .3 .7-1.5 1.4zM593.2 324.1l1.3-2.5 4-2.5 1.7-2.2 .4 1-.3 1.2-2.5 2.8-1.3 .4-2.4 2.1zM572.2 322.8l-.4-.6-1.7-.6 2.4-2.5 .5-1.7 2.5 1.7 .6 1.2 0 1.3-3.1 2zM576.4 322.8l.3-.4 0 .7zM591.3 321.6l.3-1.7 1.2-1 .6 .2-.3 1.2-1.5 1.6zM606.1 320.3l.3-.4 .5 .4-.5 .7zM593.7 317.9l.4-.4 .6 .4-.6 .8zM569 315.4l1.6-1.2 .1 1.2-1.4 1.1zM569 310.4l.3-.2 0 .4zM606.4 450.4l2 0 1-1.2-.5-.4-1 .4-1.5 1.2zM508.6 444.4l0-.3-1.1 .1zM492.5 429.7l1.3-1.7-1.3-.3-.9 1.7zM487.6 424.7l.9-.3 1.3-1.2-1-1.7 0 .4-1.2 1.1-.5 1.4zM456.6 381l.5-1.2-.5-.4 0 1.7zM460.3 377.4l2.5-.9 1.2 .9 1.3 .4 2.4 0 .6-1.7 .7-.6 2.5 0 2.4-2.4 3.2-2 4.3-4.2 1.2 .3 3.7-2.3 1.3-1.7 3.7-3.1 2.2-.1-.4 1.2-1 1.3-2.1 1.2-2.4 3-1.9 .7-.3 1.3 .9 .6 9.2-6.8 0-1.3-.5-.8-1-.4 1-2.1 1.2-.4-.8-3.7 3.3-4.2 1.2-.4 1.9-1.6 1.2-2.5 6.8-6.8 1.3-.3 1.2 .5-.2-3.3 3-3.7 .9-2.5-.3-3.7 1.1-2.5 3-1.3 1.2 1.2 1.2-.4 3.6-4.4-1.1-.6-1.2 1.1-.8-.5 0-1.3 1.1-2.4-.3-1.2-1.3 .9-.7-1 2-4 2.4-3 1.3-.5 .9-1.2 1.6-.9 1 .9 0 1.3-2.3 1.9-2.1 3 .9 .6 2.5-1.2 2.4-.6 1.6-1.2 .5-1.3-2.8-2.5-.3-1.2-17.5 0-1.3 2-1.2 .9-2.5 4.5-5.4 5-.4 1.2 .3 1.3 1 1.2 0 1.2-1 2.5 .6 .6 1.2 0 .5 .7-1.7 3.6-2.5 2.1-2.5 1.3-1.2-.3-1.3 .6-1.4 1.3 .1 1.3 1.3-.1 2.5-1.9 1.9 2-.7 .6-2.4 .2-5.3 5.4-.7 1.2-.2 2.2 1.2-.4 1.3 .1 .4 .6-.8 1.2-.9 1-1.2-.5-1.3-1.6-3.7 3.1-2.8 3-.1 3.7-.8 .4-1.2 2.8-2.5 .4-5 4.9-2.4 1.9-.7-.5-.5-2.5-.7-1.2 .8-3.7-.2-.5-1.2-.4-3.7 1.2-1 .9-.9 2.5 1.9 1.2-.7 1.3-1.8 1.7-2.5 1.3-1.2 .3-1.3-.8-1.2 .7 0 10.2 1.2-.9 2.5-.5 .2 .4-.7 1.2 .3 1.2zM461 373.6l.6-.2 0 .6zM471.4 372.4l.1-.6 0 .7zM471.7 371.1l1.1-1.2 .2 1.2-.3 .6zM492.7 350.1l1.1-1.1 .4 1.1-.4 .2zM500.8 332.7l1.6-1.7 1.3 .5-.3 1.2-1 .7-1.2-.1zM510.7 320.3l1.6-.3 .2 .3-1.4 1.1zM505.8 316.6l.3-.4 0 .6zM510.6 311.7l.5-.8 0 .9zM461.6 361.5l.4-.3-.8 0zM506.1 351.8l1.3-.2 1.1-1.5-1.1-.4-1.5 1.6zM503.7 349.1l1.2-.4 1.6-2.3-.4-.5-2.4 1-.7 .7 .4 1.2zM507.4 345.6l.4-.5-.4-.6-.6 .6zM508.6 344.1l0-.4-.3 .2zM509.8 342.9l0-.4-.2 .1zM514.8 343.3l1.2 .3 .6-2.2 2.8-5 1.6-2 1.2-.6 .6-1.1-.6-.6-2.1 1.9-2.2 1.2-.6 1.7-1.3-.9-1.2-.4-.5 .8 .5 .6 1.2-.2 .3 .9-1.5 .4-2.4 2.1 1.2 2.4zM632.4 340.1l1.1-1.2-1.1-.7-.8 .7zM517.3 333.6l.7-.9-.7-.5-.4 .5zM532.1 321.7l1.3-.4 .7-1 .2-1.2-.9-.7-1.2 .7-.9 1.2 .5 1.3zM615.1 320.6l.5-.3-1.1 0zM555.7 318.4l1-.5-1.2 0zM533.4 314.7l3.6-3 .3-1.3-.2-.2-1.2-.2-.7 .4-2.5 2.5-.4 1.3zM540.8 312l1.4-1.6-.2-.3-1.2-.1-.7 1.7zM543.3 309.3l0-.3-.2 .2zM553.2 308.6l1.2-.3 3.7-3.3 3.1-.8 1.8-1.2-5.3 0-4.7 3.7-.5 1.3zM539.6 307.2l.3-.5-.3-.6-.3 .6zM540.8 306l2.5-.3 2.7-1.5 1.2-1.2-9.8 0 .9 .5 1.3-.3 .8 1-.4 1.3zM537.1 304.5l0-.9-.5 .6z" clip-path="url(#pf8aac5d967)" style="fill: #38598c; stroke: #615252; stroke-opacity: 0.8; stroke-width: 0.9"/>
<path d="M558.1 484.8l5-1.3 2.5 1 4.9 .3 3.7-.9 3.8-1.4 2.4 .5 7.5-3.7 3.4-2.9 .5-1.2-.2-1-.8-.2 .7-1.3 1.3-1.1 2.5-.6 2.5-1.3 2.4-.4 2.5-2 2.1-5.7 4.1-3.9 1.3-.6 1.1-3 4.5-6.1-1.9-1.8-1.4-3.2 2.6-2 2.2-.5 1-1.2-.7-.3-1.3 .2-.1-1.2 1.9-2.4 2.4-5 .5-2.5 2.1-4.9-.6-1.5-1.2 .4-.5-1.4 2.4-2.5 2-7.4 0-2.5 2.4-3.7 5.3-3.7 1-1.3 1.6-3.7 .2-2.5 .5-1.2-1.5-5 .8-1.2 1.9-1.1 2.5 .2 1.6-1.6 1.2-2.5 .2-3.7 1.9-4.3 1.3-1.9 .3-1.2-1-1.2-.1-1.3 1.6-1.2 .1-1.3-.9-1.6-1.3 2.1-1.2 1.1-3.7 .8-1.2-1.1 1.2-.9 1.2-.3 1.3-.7 1.2-1.5 2.5-1.5 1.2 1.4 2.7-1.5-.2-1.3-2.5 .6-.5-1.7-.7-.7-2.5 1-.5-1.6 1.2-2.5-.7-.2-1.2 .2-3.8-1.2 2.4-5 .2-1.2-1.3-.2-.5-1 .5-1 4.8-2.8 1.6-2.2-1.5-1.5-2.4 2.7-2.7-.2-1.2 1.2 .1-2.6-1.2-2.3 1.6-2.5 .9-2.4-2.5-.6-.4-.7 .6-1-7.3-7.4-.3 .5-1.3 .5-1.6-1.3 0-1.2 .4-.3 1.3 .3-2.5-2.5-1.3 0-1-1-.2 .2-.1-.5-3.6-3.6-1.3 0-2.5-2.5-1.2 0-2.5-2.5-1.2 0-2.5-2.5-1.2 0-1.3-1.2-1.2 0-1.6-1.6 .5 1.6-.1 1.7-1.3 .1-1.2-.9-1.8 .3-2.1 1.3 .2 .6 2.2-.6 .2-.6 .5 1.8-3.3 5-.4 1.2 .8 .7 2.4-1.1 1.3 .7 1.8-1.5 .7-1.6 3.7-2.5 .1 1.6-.5 1.2 .4 .8 2.5 0 .3 .5-1.7 2.4-.4 1.3 .5 .7 2.9-.7 .6 1.2-.2 2.5 .4 .3 .6 2.2 .7 .7 2.4-2.4 5 .6 .2 1.1-1.5 2.4-3.1 2.5 .4 1.3 1.6 1.2-.4 1.2-2 2.5 0 1.2 1.1 .9 1.2-.5 1.3-1.2 1.2-.2 .4 1-.4 1.3-3.7 3.3-2.2 .4 .9 .1 .8 1.1 .5 .2 1.2-.4 2.5-2.6 1.2-.1 1.3 .3 0 1.4-3.7 3.1-1.2 1.9-1.2 1.2-3.3 2.5-.1 1.2 .8 .3 2.5-1.2 4.9-5.8 1.7-.7 .8-1.6 .9 .3-.7 3.8 2.3 1.2-.7 2.5 .2 1.2 1.2 1.3-.7 .7-1.5 .5-.8 2.5-2.7 1.6-.5-.4 1.2-2.5-.7-.3-2.4 1.9-.7 .9-.3 1.3 1.8 2.4-.3 1.3-1.6 1.2 1.1 1.2 1.9-2.4 1.8-1.2 1.2-.6 1.3 .4 .8 2.6-.6 2.5 .4 1.2-.6 2-3 1.7-.4 1.3 .9 .7 1.2 .2 2.5-.5 1.3 .8-1.3 2.4-2.9 2.6 0 1.2-2.3 6.2 1.5 2 1.3 .5 .3 1.2-.5 1.3-2.1 1.2-.4 1.2 1.2 1.3 .6 1.2-1.3 1.3-.6 1.2-.7 2.5-.2 1.2 .3 1.3-.4 1.2-1.2 .7-1.3 1.8 1.3 2.6 1.4 1.1-1.4 1.8-.8 3.1-1.7 2.5-.3 2.5-.7 1.2 .4 3.7-1.7 3.8 0 2.4-1.4 2.7-4.1 4.8-.3 1.2 .9 1.3-.2 1.2-1.3 2.2-3.2 4-1.7 1.4-2.3 6-.1 2.5-2.4 3.7-2.2 2.5-1.7 1.1-3.7 .2-1.3 .7-1.2 1.7-.5 2.5-3.2 4.6-2.5 .9-2.5 1.8-4.9-.2-2.5 1.1-1.2-.2-2.5 1.8-2.5 0-1.2-.5-3.7 .9-.6-.3-.7-2-1.2-.6-1.3 .4-2.4-.6-1.3 .4-2.4-.9-1.3 .3-2.5-1.7-2.4 .2-.5-.5 .2-2.4-4.7-2.5-1.2-2.4-1.3-.8-.2-.5-1-.6-3.7 1.6-1.1-1-.2-1.6-1.2 0-2.5-1.8-3.7-1.6 1-3.7-.8-1.2-1.8-1.3 .5-2.5-1.4-.2-2.4 1-1.3-1.3-1.2-.2-.6-.5-.7-2.4-1.2-.1-1.2-1-1.3-.3-.9-1.1 1.6-2.5 .2-1.3-.9-.7-2.2-.5-.3-1-1.2 .2-1.3 .8-.5 1.2-1.9 .8-1.2-.5 1.4-4-.2-.7-1.2-.4-2.5-2-.2-1.8-1.8-2.5 .1-2.5-.6-1-1.2 .3-1-.5-.3-1.4-1.2-.3-.8-.8 1.1-3.7-.3-.4-1.2-.1-2.5 .9-1-.4 .2-1.3 1.1-1.2-4-.3-1.3 .3-.9-1.2 .6-2.5-.9-.5-1.5 .5-.1-2.5-.9-.4-2.8 .4-.1-1.2 1.7-1.7 1-2.1 1.2-1.2 .5-1.2-.8 0-1.9 1.3-3.7 .8-3.8 1.6-1.2-.9-1.2 .1-3.8 1.2-.4-1.7-.8-.5-2.5 .4-3.7-.7-1.2-.8-1.3-.2-1.2 .5 0 11.7 .9-1.7 2.8-1.9 1.6 .7 .3 1.2-.9 2.5 .3 1.3 1.2 .6 1.2 0 2.5-.9 0 1-1.5 2.9 .3 .5 1.2 .2 1.2-.3 1.1 .9-.5 1.2-1.3 1.3-.1 1.2 .8 .2 1.3-.8 .5-1.9 3.2-2.8 2.5-1.2 .4 .3 .8 .9 .9 .3-1.3 1.3-.1 1.2 .6 1.3 1.2 .8 1.2 0 .2 .4-.2 1.6-2.5 1.8 0 .7 1.3 .4 3.7-1.3-.3 1.8 .3 .9 1.2-.2 1.2-1.3 2.7-.7 0 1.3-1.4 .7-1.2 3 1.2 .5 2.5-.5 2.4 .2 1.3-.7 .3 .5-.6 2.5 .3 .3 2.5 .6 0 1.5 1.2 .2 1.2-.6 1.3 .4-.5 2.5 .5 1 1.2-.4 1.2 .3 1.9 1.6 .6 1.3 1.3 .3 2.4-.4 1.3 2.3 1.2 .2 .5 1.2-1.3 2.5 .8 1.1 2.5-.6 1.2 .4 2.5 4 6.2 1.1-1.2 4 2.4 .1 1.3 1.5 4.9 1.8 5 4.4 2.5-.8 1.2 .2 1.2 1.3 2.5 1 1.2 1.3 3.8 2.4 0 3 2.4-1.3 6.2 .2 2.2 .9 .7 1.3zM606.4 450.4l1.5-1.2 1-.4 .5 .4-1 1.2-2 0zM507.5 444.2l1.1-.1 0 .3zM491.6 429.4l.9-1.7 1.3 .3-1.3 1.7zM487.1 424.4l.5-1.4 1.2-1.1 0-.4 1 1.7-1.3 1.2-.9 .3zM474.7 418.2l.5-.4 0 .5zM632.7 377.3l-.2-1.2 .7-1.2 3-2.2 1.2-.1 .4 1-.5 1.3-3.6 2.6zM633.1 371.1l.6-1.3 1.8-1.1 .7-.9 .2 .9-1.3 2.4-1.4 1zM633.8 363.7l1.1-.5 .3 .5-.3 .3zM635.9 362.5l.3-.2 0 .3zM631.6 338.9l.8-.7 1.1 .7-1.1 1.2zM614.5 320.3l1.1 0-.5 .3zM621.3 439.5l1.9-1.5-.7-.2-3.3 .2 1.2 1.3zM623.8 436.9l.2-.1-.3 0zM613.9 431.2l.8-.6-.8-.5-.4 .5zM625 417.2l.5-.2-.7 0zM621.3 368.8l1-1.4-1-.8-.7 .8 0 1.3zM648.5 367.8l.5-.4-.5-1.1-1 1.1zM457.8 365l1.3 .8 2.5-.9 1.7-1.2 2-2.5-1.9-1.2 .6-2.1 1.3-1.3 2.4-1 1.3-.2 1.2 .4 .2 .5-.8 3.7 .7 1.2 .5 2.5 .7 .5 2.4-1.9 5-4.9 2.5-.4 1.2-2.8 .8-.4 .1-3.7 .9-1.3 5.6-4.8 1.3 1.6 1.2 .5 1.7-2.2-.4-.6-1.3-.1-1.2 .4 .2-2.2 .7-1.2 5.3-5.4 2.4-.2 .7-.6-1.9-2-2.5 1.9-1.3 .1-.1-1.3 1.4-1.3 1.3-.6 1.2 .3 2.5-1.3 2.4-2 .8-1.3 1-2.4-.5-.7-1.2 0-.6-.6 1-2.5 0-1.2-1-1.2-.3-1.3 .4-1.2 5.4-5 2.5-4.5 1.2-.9 1.3-2-19.5 0-1.6 1.4-.9-.2 .8-1.2-3.9 0 .5 1.2 1.4 1.3-.4 1.4-.9 1.1-.2 1.2-.7 0 .1-1.2-.8 0 .1 1.3 1.6 3.6-.9 2.5 .6 3.7-.5 1.2-2.1 1.7-1.2-.3-1.3 .4-3.1 3.2-1 2.5 1.2 2.5-2 2.2-1.2-1 .7-1.2-.7-.2-4.2 3.9-.8 1.2 2.5-.2 .5 1.4-1.8 1.8-1.9 3.2-1.8 .8-2.5-.2-3.7 2.9-1.4 2.7 .2 .9 1.2-.3 1.3-.8 .5 .2-.4 1.2-2.6 2-1.2 0-1.3-.4-2.5 1-1.2-.6 0 14.9zM461.2 361.2l.8 0-.4 .3zM467.9 347.6l-.8-1.2 1.9-1.4 1.2 .2 1.3-.3 1.2-1.6 .4 .6-.4 1.3-2.5 3-1.2 .2zM477.5 338.9l.7 0-.5 .2zM479.8 336.4l.3-1.3 1.3-.3 .2 .4-1.5 2zM490.9 310.4l.4-.4 0 .6zM613.9 357.8l1.2 .1 3.2-1.6 2.2-3.7-.4-1.4-3.8 1.4-1.2 1.4-1.2 .6-1.3-.7-.5 1.1 .1 1.3 1 1.2zM608.9 354.2l1.3-.6 2.4-2.1 .7-.2-.1-1.2-1.8-.2-1.9 1.4-.7 1.3-.2 1.2zM493.8 350.3l.4-.2-.4-1.1-1.1 1.1zM615.1 342.8l.4-.2-.4-1.1-1.1 1.1zM606.4 339.4l.7-1.7-.8 0-.9 1.2zM639.9 337l1.9-.6-.7-.5-1.2-.1-.7 .6zM642.4 335.9l.4-.3-.7-.6-.3 .2zM501.2 333.3l1.2 .1 1-.7 .3-1.2-1.3-.5-1.6 1.7zM606.4 333.4l6.2-4.9 .6-.7-.6-1.9-1.2 .1-.7 .5-1.8 3.2-2.5 1.6-.7 1.4zM613.9 330.3l.9-1.3-1.1 0 .1 1.3zM478.9 329.8l.9-.8-1.1 0zM605.2 327.9l1.2-.3 1.3-1.2 2.5-1.4 1.2-2.3-1.2 0-2.5 1.7-1.3 0-.7-.3-.3-2.5-3.9 .4-.2 .8 .4 1.3 .2 2.4 .8 .7 1.3-.4 1 1zM591.6 326.7l1.5-1.4-.3-.7-1.2 0-1.1 .7 .8 1.2zM594.1 324.4l2.4-2.1 1.3-.4 2.5-2.8 .3-1.2-.4-1-1.7 2.2-4 2.5-1.3 2.5zM472.7 323l1.2 .6 3-3.3 .5-1.2-1-.6-1.5 .6-2.2 2.2-.2 1.5zM591.6 321.9l1.5-1.6 .3-1.2-.6-.2-1.2 1-.3 1.7zM606.4 321l.5-.7-.5-.4-.3 .4zM594.1 318.7l.6-.8-.6-.4-.4 .4zM506.1 316.8l0-.6-.3 .4zM511.1 311.8l0-.9-.5 .8zM597.8 303.3l.6-.3-1.5 0z" clip-path="url(#pf8aac5d967)" style="fill: #31668e; stroke: #615252; stroke-opacity: 0.8; stroke-width: 0.9"/>
<path d="M560.6 487.8l3.7-.9 2.5 .9 2.5-.3 3.7-.8 2.5-1.3 2.5 .7 2.4-.9 8.7-4.5 2.5-1.8 1.4-1.2 1.1-2.5 1.2-.9 1.2-.4 2.5 .4 3.7-.9 1.3-1.3 3-1.9 .8-1.2 0-1.2 3.6-1.4 1.2-1.2 3.7-1 2.6-1.4 .1 1.3-2.4 2.4 .2 1.3 .8 .4 2.5-1.4 1.2-.1 1.2 1.3 3.8-2.8 1.6-2.4-.4-.6-2.5 1-.3-.4 2.8-3.9 1.2 1 2.3 .4 1.4 2 1.3 .1 1.2-2.6 1.3-1.5 0-1-2.5 1.2-.4-.6 2-3.8-.1-1.2-1.8 0-2.2-1.4-.6-1.1 .6-1 1.2 .7 1.3-1 .5-1.1-1.4-2.5 .5-1.3 1.5-1.2 .3-1.2-2.7-1.9-1.2-.2-1.2 .5-.6-.9-.1-1.3 .6-1.2-.5-2.5 .9-2.5 .1-2.4-.8-3.8-1.7-1.2 .3-1.2 3.1-3.7 .7-2.5 1.8-1.3 .2-3.7 1.7-1.2 .5-1.7 2.1-2 .7-5-.8-1.2 .4-2.2 2.5 .6 3.2-2.1 .9-1.3-.4-1.3-2.4 1.7-1-.4-.4-1.2 .6-1.3 2-1.3 2.5-2.9 2.4-1.2 1.3-2 1.2-.1 .3 1.3 1 .7 2.7-4.4 .3-1.2-.6-.4-1.2 1.2-1.2 .4-1.5-2.5 2.7-1.5 3.7-1.1 .4 1.4 .8 .2 2.5-1.5 1.1 .1-.5 1.2 .1 1.2 .6 .3 3.3-2.7-.9-.5-1.2 .2-.9-1 3-4.9-.9-.4-1.2 .2-.8-1.1 1.4-3.1-.6-.6 0-1.2-1.2-1.3 0-1.2-1.3-1.2-1.2-2.3-1.3-.6-.4-.8 .2-1.6-1-.9 0-1.3-2.5-2.4 0-1.3-2.4-2.5 0-1.2-2.5-2.5 0-1.2-3.5-3.5-1.6 2.2-4.8 2.8-.5 1 .5 1 1.3 .2-.2 1.2-2.4 5 3.8 1.2 1.2-.2 .7 .2-1.2 2.5 .5 1.6 2.5-1 .7 .7 .5 1.7 2.5-.6 .2 1.3-2.7 1.5-1.2-1.4-2.5 1.5-1.2 1.5-1.3 .7-1.2 .3-1.2 .9 1.2 1.1 3.7-.8 1.2-1.1 1.3-2.1 .9 1.6-.1 1.3-1.6 1.2 .1 1.3 1 1.2-.3 1.2-1.3 1.9-1.9 4.3-.2 3.7-1.2 2.5-1.6 1.6-2.5-.2-1.9 1.1-.8 1.2 1.5 5-.5 1.2-.2 2.5-1.6 3.7-1 1.3-5.3 3.7-2.4 3.7 0 2.5-2 7.4-2.4 2.5 .5 1.4 1.2-.4 .6 1.5-2.1 4.9-.5 2.5-2.4 5-1.9 2.4 .1 1.2 1.3-.2 .7 .3-1 1.2-2.2 .5-2.6 2 1.4 3.2 1.9 1.8-4.5 6.1-1.1 3-1.3 .6-4.1 3.9-2.1 5.7-2.5 2-2.4 .4-2.5 1.3-2.5 .6-1.3 1.1-.7 1.3 .8 .2 .2 1-1.5 2.3-2.4 1.8-6.2 3.3-1.3 .4-2.4-.5-3.8 1.4-4.9 .9-2.5-.4-1.2 .1-2.5-1-5 1.3-1.5-2.2-2.2-.9-6.2-.2-2.4 1.3 0-3-3.8-2.4-1.2-1.3-2.5-1-1.2-1.3-1.2-.2-2.5 .8-5-4.4-4.9-1.8-1.3-1.5-2.4-.1 1.2-4-6.2-1.1-2.5-4-1.2-.4-2.5 .6-.8-1.1 1.3-2.5-.5-1.2-1.2-.2-1.3-2.3-2.4 .4-1.3-.3-.6-1.3-1.9-1.6-1.2-.3-1.2 .4-.5-1 .5-2.5-1.3-.4-1.2 .6-1.2-.2 0-1.5-2.5-.6-.3-.3 .6-2.5-.3-.5-1.3 .7-2.4-.2-2.5 .5-1.2-.5 1.2-3 1.4-.7 0-1.3-2.7 .7-1.2 1.3-1.2 .2-.3-.9 .3-1.8-3.7 1.3-1.3-.4 0-.7 2.5-1.8 .2-1.6-.2-.4-1.2 0-1.2-.8-.6-1.3 .1-1.2 1.3-1.3-.9-.3-.8-.9-.4-.3-2.5 1.2-3.2 2.8-.5 1.9-1.3 .8-.8-.2 .1-1.2 1.3-1.3 .5-1.2-1.1-.9-1.2 .3-1.2-.2-.3-.5 1.7-3.7-.2-.2-1.2 .6-2.5 .3-1.2-.6-.3-1.3 .9-2.5-.6-1.5-1.3-.4-2.8 1.9-.9 1.7 0 13.8 2.5 .3 2-2.2 1.7-.2-2 2.7 .8 1.2 3.7-1 2.4 1.2 1.3 1.1 .2 2.5 1 1 1.3-.5 2.4 .1 2.5-1.8 1.3 2.4 1.2 .3 2.5 2.9 2.8-.7 .3 1.2 .6 .6 1.2-.3 3.6 2.2 1.4 1.5 1.2 .3 1.5 5.6-.6 2.5 .4 .5 1.2 .1 2.5-1.2 3.7-1 1.2 0 .8 .4-.4 1.2 2.1 1.1 .5 2.6 2 .8 .2 1.7 .8 1.3 1.4 0 3.8 2.4 1.2 .3 1.2-.3 1.4 2.5 2.4 1.2-1.6 2.5 .3 .8 1.3 0 3.7-1.4 2.4 .5 1.3 3 3.7 2.2 2.5-.2-1.1 2.6 1.1 .7 2.5-.9 1.2 .9 1.2 .3 2.5-.9 1 1.1 .4 1.2-.4 1.3 .2 1.2 1.3 .6 2.5-.6 2.4 .4 1.3-.5 2.5-.3 1.7 1.7 2 .1 1.2 .7 2.5 0 .7 .4zM605.3 467.8l2.4-1.5-.1 1.5-1.2 .9zM622.7 459.1l1.3-1.2 .4 1.2-.6 .8zM625.4 455.4l.3-1.3 .6-.4 1.2 .1 .2 .3-.6 1.3-.8 .8zM623.1 452.9l.7-1.6 1.2 .4-1.2 1.9zM625.1 450.4l.3-1.2-.4-.7-3.7 1.1-.7-.4 0-1.2 1.9-2.2 3.8-2.2 .2 .6-.2 1.4 .5 1.1 1.3 1.3 0 1.2-.6 .8-1.2 .5zM620.4 439.3l-1.2-1.3 3.3-.2 .7 .2-1.9 1.5zM623.7 436.8l.3 0-.2 .1zM624.8 417l.7 0-.5 .2zM628.4 412l.2-1.2 2.6-1.6 .4 .3-.6 1.3-2.3 1.4zM648.2 383.5l.3-.4 .4 .4-.4 .5zM649.5 382.3l.3-.3 .5 .3-.5 .2zM647.5 367.4l1-1.1 .5 1.1-.5 .4zM651.8 355l.5-.5 .7 .5-.7 .6zM653.3 353.8l1.4-.7 .5 .7-1.7 .4zM612.6 468l1.9-.2-2.1 0zM633.7 466.6l0-.5-.1 .4zM634.9 465.9l.6-.6-.6-.8-1 .8zM502.4 458l.3-.1-.3-1-.3 1zM638.6 449.8l1.3-.7 .4-1.1 1.3-1.3 .3-1.2-1.6-1.3-.4-1-3.7 1.5-.8 .8-.2 1.2 1 .1 2.4-1.3 1.3 .8-.6 1.7-1.3 1.2zM470.2 444.7l.7-.5-.7-.8-.9 .8zM471.5 443.2l0-.3-.4 .1zM457.8 437.7l1.1-.9 .5-1.2-.3-1.1-1.3 .3-1.2 1.6 0 1.5zM475.2 418.3l0-.5-.5 .4zM633.7 377.5l3.6-2.6 .5-1.3-.4-1-1.2 .1-3 2.2-.7 1.2 .2 1.2zM633.7 372.1l1.4-1 1.3-2.4-.2-.9-.7 .9-1.8 1.1-.6 1.3zM634.9 364l.3-.3-.3-.5-1.1 .5zM636.2 362.6l0-.3-.3 .2zM457.8 351.4l2.5-1 1.3 .4 1.2 0 2.6-2 .4-1.2-.5-.2-1.3 .8-1.2 .3-.2-.9 1.4-2.7 3.7-2.9 2.5 .2 1.8-.8 1.9-3.2 1.8-1.8-.5-1.4-2.5 .2 .8-1.2 4.2-3.9 .7 .2-.7 1.2 1.2 1 2-2.2-1.2-2.5 1-2.5 3.1-3.2 1.3-.4 1.2 .3 2.1-1.7 .5-1.2-.6-3.7 .9-2.5-1.6-3.6-.1-1.3 .8 0-.1 1.2 .7 0 .2-1.2 .9-1.1 .4-1.4-1.4-1.3-.5-1.2-25.6 0-1.3 .3-.4-.3-1.7 0-1.7 2-.2-.5-1 1 0 24.3 1.2 .2 1.3-.5 3.3-3 .3-1.2-1.1-1.1-1.3-.1-.5-1.3 .4-1.2 2.5-1.3 2.6-2.2 1.1 1 .1 .8 1.5 .4-.5 3.8-1.4 1.2-1.3 2.5-2 .5-5.3 5.7-.4 1.2 .3 1.2-.8 1.1 0 13.3 1 .5zM478.7 329l1.1 0-.9 .8zM467.7 327.8l-.4-1.3 .4-.7 1.4 .7-1.4 1.3zM472.5 322.8l.2-1.5 2.2-2.2 1.5-.6 1 .6-.5 1.2-3 3.3-1.2-.6zM462.6 315.4l1.4-2.8 2.5-2.6 1.2 .1 .7 1.6-.3 1.2-2.8 1.4-2.5 1.8zM462.4 309.2l.4-.4 .6 .4-.6 .6zM463.8 308l1.5-1.4 1.2 .1-.7 1.3-1.8 .4zM469 348.4l1.2-.2 2.5-3 .4-1.3-.4-.6-1.2 1.6-1.3 .3-1.2-.2-1.9 1.4 .8 1.2zM638.6 342.7l1.1-1.3 2.7 .2 2.4-2.7 0-1.2-2-2.1-.4 .3-.6-.7 .3-.2-2.2-2.2-.9 2.4-1.6 2.5 1.2 2.3-.1 2.6zM639.2 336.4l.7-.6 1.2 .1 .7 .5-1.9 .6zM477.7 339.1l.5-.2-.7 0zM480.1 337.2l1.5-2-.2-.4-1.3 .3-.3 1.3zM637.4 332.2l2.4 .5-2.2-2.2-.6 1zM628.7 324.1l1.3-.5 .3-.5-1.5-1.5-1.3-.3-.4 .3 0 1.2 1.6 1.3zM623.8 318.3l.2-.2-.4-.2zM491.3 310.6l0-.6-.4 .4zM492.5 304.4l1.6-1.4-1.7 0-.8 1.2z" clip-path="url(#pf8aac5d967)" style="fill: #2c728e; stroke: #615252; stroke-opacity: 0.8; stroke-width: 0.9"/>
<path d="M558.1 491.4l5-1.8 2.5 .3 3.7-.4 2.5-.9 4.9-.6 5-1.3 4.9-2.9 2.5-.1 1.2-.6 5-3.4 3.7-.8 3-2.5 2-.9 1.2-1.5 2.5 .2 2.5-.8 1.2 .2 .6 1.6 3.1 1.4 3.7-1.3 1.3-.9 2.4-.2 3.5-2.7 .6-1.3 .9-.6 1.2 0 1.3 1.3 2.4 0 1.3 .6 1.2-.1 2.5-1.3 7.2-7.3 1.6-6.2 1.5-2.5-1.2-2.4 .7-2.5-.1-1.2-2.4-2.5-.1-2.5-1.4-2.5-.4-2.5 .8-6.2-1.2-1.2 .2-2.5-.2-.2-1.3 .4-1.7-.2-.2-1.2 2.4-2.5 .3-1.2-.8-.9-1.2-.3-.2-1.3 1.7-2.5 .2-1.2-.5-.3-1.2 .1-1.3-.8 .1-1.5 1.2-2.3 1.2-.4 2.5-2 1.2-.1 2.1-1.4 .1-2.5-.9-.7-3.7 3.3-1.3 .5-.3-.6 2-2.5 2-1.4 1.6-2.3 .9-.5 1.2 .1 1.2-2.1 .3-2.4 2.3-2.1 1.2-2.4 1.2-.7 1.3 .2 1.2-.9 2.5-.3 2.5-1.7 .8 .4-.4 1.3-1.2 1.2-.1 1.2 .9 .5 1.2-.4 1.2-1.5 1.3 0 1.2-.7 .6-2.8 .7-1.3 1.2-.7 1.6-.1-.4-.4 0-2.5-1.2-1.2 0-2.5-1.2-1.2 0-1.3-1.3-1.2 0-1.2-1.2-1.3 0-2.5-1.3-1.2 0-1.2-.6-.7-1.4 3.1 .8 1.1 1.2-.2 .9 .4-3 4.9 .9 1 1.2-.2 .9 .5-3.3 2.7-.6-.3-.1-1.2 .5-1.2-1.1-.1-2.5 1.5-.8-.2-.4-1.4-3.7 1.1-2.7 1.5 1.5 2.5 1.2-.4 1.2-1.2 .6 .4-.3 1.2-2.7 4.4-1-.7-.3-1.3-1.2 .1-1.3 2-2.4 1.2-2.5 2.9-2 1.3-.6 1.3 .4 1.2 1 .4 2.4-1.7 .4 1.3-.9 1.3-3.2 2.1-2.5-.6-.4 2.2 .8 1.2-.7 5-2.1 2-.5 1.7-1.7 1.2-.2 3.7-1.8 1.3-.7 2.5-3.1 3.7-.3 1.2 1.7 1.2 .8 3.8-.1 2.4-.9 2.5 .5 2.5-.6 1.2 .1 1.3 .6 .9 1.2-.5 1.2 .2 2.7 1.9-.3 1.2-1.5 1.2-.5 1.3 1.4 2.5-.5 1.1-1.3 1-1.2-.7-.6 1 .6 1.1 2.2 1.4 1.8 0 .1 1.2-2 3.8 .4 .6 2.5-1.2 .2 .6-1.5 1.9-1.2 2.6-1.3-.1-1.4-2-2.3-.4-1.2-1-2.8 3.9 .3 .4 2.5-1 .4 .6-1.6 2.4-3.8 2.8-1.2-1.3-1.2 .1-2.5 1.4-.8-.4-.2-1.3 2.4-2.4-.1-1.3-2.6 1.4-3.7 1-1.2 1.2-3.6 1.4 0 1.2-.8 1.2-3 1.9-1.3 1.3-3.7 .9-2.5-.4-1.2 .4-1.3 .9-1.2 2.7-3.7 2.8-7.4 4-3.7 1.4-2.5-.7-2.5 1.3-3.7 .8-2.5 .3-2.5-.9-3.7 .9-1.2-.6-2.5 0-1.2-.7-2-.1-1.7-1.7-2.5 .3-1.3 .5-1.2-.5-3.7 .7-1.3-.5-.2-1.3 .4-1.3-.4-1.2-1-1.1-2.5 .9-1.2-.3-1.2-.9-2.5 .9-1.1-.7 1.1-2.6-2.5 .2-3.7-2.2-1.3-3-2.4-.5-3.7 1.4-1.3 0-.3-.8 1.6-2.5-2.4-1.2-1.4-2.5-1.2 .3-1.2-.3-3.8-2.4-1.4 0-.8-1.3-.2-1.7-2-.8-.5-2.6-2.1-1.1 .4-1.2-.8-.4-1.2 0-3.7 1-2.5 1.2-1.2-.1-.4-.5 .6-2.5-1.5-5.6-1.2-.3-1.4-1.5-3.6-2.2-1.2 .3-1.3-2-2.4 .9-2.5-2.9-1.2-.3-1.3-2.4-2.5 1.8-2.4-.1-1.3 .5-1-1-.2-2.5-1.3-1.1-2.4-1.2-3.7 1-.8-1.2 2-2.7-1.7 .2-2 2.2-2.5-.3 0 2.7 1.2-1.6 1.3-.3 .3 1.1-.5 1.2-1.1 .9-1.2 .2 0 7.2 2.5 1.1 .4 .5-.3 2.5 1.1 .7 1.3-.2 1.2 .3 1.2-1.6 .4 .8-.4 .8-.7 .4 .7 .4 5-2.7 1.5 1.1 1 1.7 2.4 1.3 2.5-1.1 1.3 1.5 2.4-.7 .5 1-.5 2.7 3.7-1.4 2.5 .4 2.5-1.2 .7 2 1 1.2 .2 1.3-.7 2.9 1.5 .8 1 2.3 3.7-.8 .9 1 0 2.4 1.6 .6 1.2-.1 3.8-3.1 .4 2.6 2.1 1.3 0 2.4 1.2 1.2 1.8 .1 3.1 4.4 1.3 .3 1.2 1 3.7 .2 .4 1.5 3.3 .6 1.3 1.6 1.2 0 1.2 1.2 1.3 .2 1.2-.2 1.3 .9 2.4 .4 .7 .3 .6 1.6 1.2 .8 1.3-.3 1.2 .8 2.5 .8 1.2 1.2 2.5 .9 4.9-1.1 1.3 1 1.2 .2 2.5-.5 4.2 2zM612.4 467.8l2.1 0-1.9 .2zM633.6 466.5l.1-.4 0 .5zM633.9 465.3l1-.8 .6 .8-.6 .6zM500.9 462.8l.3-.2 0 .6zM502.1 457.9l.3-1 .3 1-.3 .1zM638 449.2l1.3-1.2 .6-1.7-1.3-.8-2.4 1.3-1-.1 .2-1.2 .8-.8 3.7-1.5 .4 1 1.6 1.3-.3 1.2-1.3 1.3-.4 1.1-1.3 .7zM469.3 444.2l.9-.8 .7 .8-.7 .5zM471.1 443l.4-.1 0 .3zM606.4 468.7l1.2-.9 .1-1.5-2.4 1.5zM623.8 459.9l.6-.8-.4-1.2-1.3 1.2zM626.3 456.2l.8-.8 .6-1.3-.2-.3-1.2-.1-.6 .4-.3 1.3zM475.2 454.4l1.2-.3-1.3 0zM623.8 453.6l1.2-1.9-1.2-.4-.7 1.6zM626.3 450.5l1.2-.5 .6-.8 0-1.2-1.3-1.3-.5-1.1 .2-1.4-.2-.6-3.8 2.2-1.9 2.2 0 1.2 .7 .4 3.7-1.1 .4 .7-.3 1.2zM628.7 412.2l2.3-1.4 .6-1.3-.4-.3-2.6 1.6-.2 1.2zM648.5 384l.4-.5-.4-.4-.3 .4zM649.8 382.5l.5-.2-.5-.3-.3 .3zM660.9 362l0-.8-2.5-2.4-.2-1.6-.2 1.6 .4 .8 1.3 .6 .7 1zM652.3 355.6l.7-.6-.7-.5-.5 .5zM653.5 354.2l1.7-.4-.5-.7-1.4 .7zM457.4 336.4l-.3-1.2 .4-1.2 5.3-5.7 2-.5 1.3-2.5 1.4-1.2 .4-1.3 .1-2.5-1.5-.4-.1-.8-1.1-1-2.6 2.2-2.5 1.3-.4 1.2 .5 1.3 1.3 .1 1.1 1.1-.3 1.2-3.3 3-1.3 .5-1.2-.2 0 7.7zM467.7 327.8l1.4-1.3-1.4-.7-.4 .7 .4 1.3zM456.8 322.8l-.2-.5 0 1.6zM462.8 316.1l2.5-1.8 2.8-1.4 .3-1.2-.7-1.6-1.2-.1-2.5 2.6-1.4 2.8zM462.8 309.8l.6-.6-.6-.4-.4 .4zM464 308.4l1.8-.4 .7-1.3-1.2-.1-1.5 1.4zM457.8 305l1.7-2-.4 0-1.5 1.5zM461.6 303.3l1.3-.3-1.7 0z" clip-path="url(#pf8aac5d967)" style="fill: #277e8e; stroke: #615252; stroke-opacity: 0.8; stroke-width: 0.9"/>
<path d="M537.1 493.9l2.5 .4 4.9-2.2 1.3-.2 1.2 1.3 1.2-.1 1.3-.7 2.5 .8 4.9 0 3.7-.8 1.3 .4 4.9-1.6 6.2-.1 3.7-1.5 3.7-.5 12.4-5.4 2.5-.3 12.4-6.1 2.5 1 6.1 .9 2.5-.2 2.5-.8 2.5 .9 2.5-1.2 2.4-2 6.2-2.1 3.7-.7 6.4-4.1 2-4.9 2.3-2.5 .6-1.3-.1-1.2-1.3-1.2 1.7-5-.7-2.5 .2-2.4-2.2-3.8 0-2.4-1.4-3.8 1.6-3.7-.6-2.5 .2-1.8 2.1-3.1 1.4-7.4 1.1-2.5 .8-1.3 3.3-3.2 .8-1.7 .4-1.3-1.2 0-.8-1.2 .5-1.2 5.2-6.7 1.5-.8-.2-.6-1.5-.6 .6-1.2 .9-.5 .5 .5 0 1.2 .7 .3 1.5-.3 1 1.5 1.2-.7 1.3-1.8 1.2-.7 1.3-2 2.4-1.8 0-1.9-1.2-1.3 0-2.5-.9-.8-1.6 .1-1.2 .7-.7 1.3-.6 2.8-1.2 .7-1.3 0-1.2 1.5-1.2 .4-.9-.5 .1-1.2 1.2-1.2 .4-1.3-.8-.4-2.5 1.7-2.5 .3-1.2 .9-1.3-.2-1.2 .7-1.2 2.4-2.3 2.1-.3 2.4-1.2 2.1-1.2-.1-.9 .5-1.6 2.3-2 1.4-2 2.5 .3 .6 1.3-.5 3.7-3.3 .9 .7-.1 2.5-1.8 1.2-1.5 .3-1.2 .7-1.3 1.3-1.2 .4-.8 1.1-.5 2.7 1.3 .8 1.2-.1 .5 .3-.2 1.2-1.7 2.5 .1 1.2 1.3 .4 .8 .9-.3 1.2-2.4 2.5 .2 1.2 1.7 .2 1.3-.4 .2 .2-.2 2.5 1.2 1.2-.8 6.2 .4 2.5 1.4 2.5 .1 2.5 2.4 2.5 .1 1.2-.7 2.5 1.2 2.4-1.5 2.5-1.6 6.2-7.2 7.3-2.5 1.3-1.2 .1-1.3-.6-2.4 0-1.3-1.3-1.2 0-.9 .6-.6 1.3-3.5 2.7-2.4 .2-1.3 .9-3.7 1.3-3.1-1.4-.6-1.6-1.2-.2-2.5 .8-2.5-.2-1.2 1.5-2 .9-3 2.5-3.7 .8-5 3.4-1.2 .6-2.5 .1-2.5 1.7-3.7 1.6-8.6 1.5-2.5 .9-3.7 .4-2.5-.3-5 1.8-4.9-2.1-2.5 .5-1.2-.2-1.3-1-4.9 1.1-2.5-.9-1.2-1.2-2.5-.8-1.2-.8-1.3 .3-1.2-.8-.6-1.6-.7-.3-2.4-.4-1.3-.9-1.2 .2-1.3-.2-1.2-1.2-1.2 0-1.3-1.6-3.3-.6-.4-1.5-3.7-.2-1.2-1-1.3-.3-3.1-4.4-1.8-.1-1.2-1.2 0-2.4-2.1-1.3-.4-2.6-3.8 3.1-1.2 .1-1.6-.6 0-2.4-.9-1-3.7 .8-1-2.3-1.5-.8 .7-2.9-.2-1.3-1-1.2-.7-2-2.5 1.2-2.5-.4-3.7 1.4 .5-2.7-.5-1-2.4 .7-1.3-1.5-2.5 1.1-2.4-1.3-1-1.7-1.5-1.1-5 2.7-.7-.4 .7-.4 .4-.8-.4-.8-1.2 1.6-1.2-.3-1.3 .2-1.1-.7 .3-2.5-.4-.5-2.5-1.1 0 12.3 2.5 .9 1.2-.7 .7 .3-.9 2.4 .2 1.3 1.3-.5 1.2-1.5 2.5-1.1 1.2-1.5 .4 .9-.1 1.2 .9 .2 1.3-.5 2.5 1 1.2 0 .6 .5 .6 2.4 3.8 1.2 1.2-.2 3.7-2.3 .8 .2 2.3 4.9 3.1 1.5 2.9-.2 .8 2.4 1.3-.2 1.2 .2 1.2 1.2 3.7 2 1.3 0 2.5 1.3 2.7-.7 1 2.2 1.2 .3 1.7 2.4 3.3 2.1 2.4 1.3 2.5-.6 1.3 .9 .2 1.3 2.6 1.2 .9 1 2.4-.3 1.3 1 2.2 .8 1.5 1.2 2.5-.4 .8 .4 .6 1.3 1.5 1.2 .7 2.5zM467.2 456.6l.3-1.2 1.5-.5 0 .8-1.3 1.1zM475.1 454.1l1.3 0-1.2 .3zM501.2 463.2l0-.6-.3 .2zM464 461.7l0-.6-.3 .5zM672.1 397.4l1.4-.2-.2-.6-2.2 .6zM674.5 396.3l-.2-.7-.7 .3z" clip-path="url(#pf8aac5d967)" style="fill: #238a8d; stroke: #615252; stroke-opacity: 0.8; stroke-width: 0.9"/>
<path d="M539.6 497.7l2.4 .1 3.8-1 2.4 .2 3.8-1.4 3.7 .1 1.2-.3 2.5 .6 2.5-1.4 2.4-.7 6.2-.6 9.9-3.1 7.5-2.8 4.9-1.2 6.2-2.9 6.2-2.4 5-.8 2.4 1.5 2.5 .2 11.2-1.1 3.7-1.8 2.4-1.9 1.3 .7 1.2-.4 5-3.6 6.2-2.9 2-1.8 2.9-3.7 1.3-2.1 .3-1.6-1.1-6.2 .2-3.7-.8-2.5-.2-2.5-1.2-2.5-.2-3.7 .2-1.2 1-1.3 .6-2.4 2.5-3.8-.1-1-1.5-.2 .1-1.2 1.3-2.5 2.5-2.5 .2-1.2-1.4-.4-1-.9 .4-1.2 1.1-1.2 2-.9 3-2.9 1-2.4 .2-3.8 .8-1 3.7-1 1.2 0 1.3 .9 5.8-5 .3-1.8-2.4 1-1.3-.1-.1-.4 2.6-2.2 1.2 .2 1.3 .9-1.3-1.4 0-3.3-.9-.4 .7-.3-1-.9 0-1.8-2.4 1.8-1.3 2-1.2 .7-1.3 1.8-1.2 .7-1-1.5-1.5 .3-.7-.3 0-1.2-.5-.5-.9 .5-.6 1.2 1.5 .6 .2 .6-1.5 .8-5.2 6.7-.5 1.2 .8 1.2 1.2 0-.9 2.5-3.6 3.7-1.9 3.8-1.4 7.4-1.9 2.5-.4 1.2 .6 3.7-1.6 3.7 1.4 3.8 0 2.4 2.2 3.8-.2 2.4 .7 2.5-1.7 5 1.3 1.2 .1 1.2-.6 1.3-2.3 2.5-2 4.9-1.6 1.2-4.8 2.9-3.7 .7-6.2 2.1-2.4 2-2.5 1.2-2.5-.9-2.5 .8-2.5 .2-6.1-.9-2.5-1-12.4 6.1-2.5 .3-12.4 5.4-3.7 .5-3.7 1.5-6.2 .1-4.9 1.6-1.3-.4-3.7 .8-4.9 0-2.5-.8-1.3 .7-1.2 .1-1.2-1.3-1.3 .2-4.9 2.2-1.3-.1-1.3-.4-.7-2.5-1.5-1.2-.6-1.3-.8-.4-2.5 .4-1.5-1.2-2.2-.8-1.3-1-2.4 .3-.9-1-2.6-1.2-.2-1.3-1.3-.9-2.5 .6-2.4-1.3-3.3-2.1-1.7-2.4-1.2-.3-1-2.2-2.7 .7-2.5-1.3-1.3 0-3.7-2-1.2-1.2-1.2-.2-1.3 .2-.8-2.4-2.9 .2-3.1-1.5-2.3-4.9-.8-.2-3.7 2.3-1.2 .2-3.8-1.2-.6-2.4-.6-.5-1.2 0-2.5-1-1.3 .5-.9-.2 .1-1.2-.4-.9-1.2 1.5-2.5 1.1-1.2 1.5-1.3 .5-.2-1.3 .9-2.4-.7-.3-1.2 .7-2.5-.9 0 8.8 1 .3 .4 1.3 1.1 .9 2.5 .1 1.2 .7 1.2-.1 3.7-1.9 1.3-.2 1.8 1.7-.5 1.2 1.2 1 1.2 0 1.2-1.1 1.3-.2 0 2.9 2.5-1 .7 .9-.7 3.1 2.4-.1 1.4-.5 1.1-2 .8 2 1.7 0 1.1 2.5 1.4 .5 1.2 1.5 6.2-3.5 1.2 .7 1.3 0 .4 .8 0 2.5 2 1.3 2.2-.1 4-2.1 .8 .9-.1 1.2-1 2.5 .3 .2 1.3 0 1.2 .7 6.8 1.6 .6 1.9 2.5-.3 3.7 2.2 1.3 1.6 1.2 .4 2.5 .2 1.2-.2 1.3-.9 1.2-.1 1 2.6 1.5 .4 2.5 2.3 1.2 .2 1.5 .8zM489.5 475.2l.5-.3 .6 .3-.6 .6zM480 470.2l.4 0-.3 .4zM463.7 461.6l.3-.5 0 .6zM671.1 397.2l2.2-.6 .2 .6-1.4 .2zM467.7 471.8l1.8-.3 .3-1.3-.8-.3-1.3 .8-.4 .8zM467.7 456.8l1.3-1.1 0-.8-1.5 .5-.3 1.2z" clip-path="url(#pf8aac5d967)" style="fill: #1f968b; stroke: #615252; stroke-opacity: 0.8; stroke-width: 0.9"/>
<path d="M537.1 500.6l2.5 .2 3.7-1 3.7 .3 2.5-.9 2.5 .4 1.2-.6 2.5-.1 3.7-1.4 2.5-1.4 6.1-1.3 2.5 0 12.4-4.6 9.9-2.6 2.5-1.4 7.4-2.9 1.3 .2 3.7-.6 3.7 .7 6.2-.6 2.5 .5 2.4-.6 2.5 .7 3.7-1.6 2.8-.6 8.4-6.2 6.2-2.7 6.2-6 1.1-1.2 .3-1.2 .2-3.8-.6-2.4-.8-7.5-.8-2.4 0-2.5-1.1-2.5 .4-1.2 4.9-5 .4-1.2-.5-2.5 .2-.4 2.4-.4 2.2-1.7 .1-2.5 1.5-.5-.3-2 .3-1.3 1.2-1.5 2.8-.9 3.7-2.4 .9-1.1 .2-1.4-1.5-1.3 .5-1.2 4.5-5 2.5-1.7 0-.7-1.2-1.3 0-4.8-1.3-.9-1.2-.2-2.6 2.2 .1 .4 1.3 .1 2.4-1 0 .9-.3 .9-5.8 5-1.3-.9-1.2 0-3.7 1-.8 1-.2 3.8-1 2.4-3 2.9-2 .9-1.1 1.2-.4 1.2 1 .9 1.4 .4-.2 1.2-2.5 2.5-1.3 2.5-.1 1.2 1.5 .2 .1 1-2.5 3.8-.6 2.4-1 1.3-.2 1.2 .2 3.7 1.2 2.5 .2 2.5 .8 2.5-.2 3.7 1.1 6.2-.8 2.5-3.7 4.9-3.3 2.6-4.9 2.1-5 3.6-1.2 .4-1.3-.7-2.4 1.9-3.7 1.8-11.2 1.1-2.5-.2-2.4-1.5-5 .8-6.2 2.4-6.2 2.9-4.9 1.2-7.5 2.8-9.9 3.1-6.2 .6-2.4 .7-2.5 1.4-2.5-.6-1.2 .3-3.7-.1-3.8 1.4-2.4-.2-3.8 1-2.4-.1-3.7-1.2-2.5-2.3-1.5-.4-1-2.6-1.2 .1-1.3 .9-1.2 .2-2.5-.2-1.2-.4-1.3-1.6-3.7-2.2-2.5 .3-.6-1.9-6.8-1.6-1.2-.7-1.3 0-.3-.2 1-2.5 .1-1.2-.8-.9-4 2.1-2.2 .1-2-1.3 0-2.5-.4-.8-1.3 0-1.2-.7-6.2 3.5-1.2-1.5-1.4-.5-1.1-2.5-1.7 0-.8-2-1.1 2-1.4 .5-2.4 .1 .7-3.1-.7-.9-2.5 1 0-2.9-1.3 .2-1.2 1.1-1.2 0-1.2-1 .5-1.2-1.8-1.7-1.3 .2-3.7 1.9-1.2 .1-1.2-.7-2.5-.1-1.1-.9-.4-1.3-1-.3 0 6.8 1.2-.6 2.5 .9 2.5-.9 .1 1.6-.4 1.2 .3 1.1 2.5-.5 2.4 .5 2.5-.9 3.3 2.3 .6 1.2 1.1 .6 1.2-.2 1.3 .7-.4 1.4 .4 .7 1.2-.8 1.2 0 1.3 1.8 3.7 .6 2.5-.6 1 .8-.5 1.2 .7 1.3 2.2-1.3 2.8-.6 3 .6 1 1.3 2.1 .8 1.3 1.5 1.2-.3 1.2 .4 .2 1.3-1.9 2.5 .5 .6 1.3-.1 2.4-2.2 2.5-1.2 3.7 2.4 3.7-.4 .4 .9 .9 .7 2.5 .2 1.2 2 1.2 0 1.3 1.1 1.2 .3 3.7-.1 2.5-.5 1.2 .5 1.3 1.7 1.2 .3 1.3 1.2zM467.3 471.5l.4-.8 1.3-.8 .8 .3-.3 1.3-1.8 .3zM456.7 476.4l1-1.2-1.1-.4 0 1.7zM490 475.8l.6-.6-.6-.3-.5 .3zM480.1 470.6l.3-.4-.4 0z" clip-path="url(#pf8aac5d967)" style="fill: #1fa287; stroke: #615252; stroke-opacity: 0.8; stroke-width: 0.9"/>
<path d="M527.2 503.9l1.2-.3 3.7-2.3 1.3 .2 1.3 1 4.9 1 3.7-.1 3.7-1.3 2.5 .4 1.2-.1 3.7-.8 9.9-4.7 2.5-.6 3.7-.3 12.4-4.7 6.2-1.1 11.1-4.7 6.2-.8 1.3 .4 13.6-.2 2.5 .4 2.5-.3 8.6-3.5 6.2-5 5.2-2.5 3.5-3 5.1-5.7 .1-6.2-2.1-12.4 .3-1.2 1.2-2.5 1.2-1.2 6.6-3.2 2.4-3.2 2.5-1.8 .4-.5-.4-.8-1.8-.5 .4-1.2 1.4-1.5 1.3-.2 .5 1.7 .7 .5 .9-.5 1-1.2 3-2.6 2.3-1.2 .7-1.2 .8-.3 0-9.6-1.3-1.2 0-5.5-2.5 1.7-4.5 5-.5 1.2 1.5 1.3-.2 1.4-.9 1.1-3.7 2.4-2.8 .9-1.2 1.5-.3 1.3 .3 2-1.5 .5-.1 2.5-2.2 1.7-2.4 .4-.2 .4 .5 2.5-.4 1.2-4.9 5-.4 1.2 1.1 2.5 0 2.5 .8 2.4 .8 7.5 .6 2.4-.5 5-3.6 4-3.7 3.2-6.2 2.7-8.4 6.2-2.8 .6-3.7 1.6-2.5-.7-2.4 .6-2.5-.5-6.2 .6-3.7-.7-3.7 .6-1.3-.2-7.4 2.9-2.5 1.4-9.9 2.6-12.4 4.6-2.5 0-6.1 1.3-2.5 1.4-3.7 1.4-2.5 .1-1.2 .6-2.5-.4-2.5 .9-3.7-.3-3.7 1-1.3-.1-1.2-.1-2.5-1.8-1.2-.3-1.3-1.7-1.2-.5-2.5 .5-3.7 .1-1.2-.3-1.3-1.1-1.2 0-1.2-2-2.5-.2-.9-.7-.4-.9-3.7 .4-3.7-2.4-2.5 1.2-2.4 2.2-1.3 .1-.5-.6 1.9-2.5-.2-1.3-1.2-.4-1.2 .3-1.3-1.5-2.1-.8-1-1.3-3-.6-2.8 .6-2.2 1.3-.7-1.3 .5-1.2-1-.8-2.5 .6-3.7-.6-1.3-1.8-1.2 0-1.2 .8-.4-.7 .4-1.4-1.3-.7-1.2 .2-1.1-.6-.6-1.2-3.3-2.3-2.5 .9-2.4-.5-2.5 .5-.3-1.1 .4-1.2-.1-1.6-2.5 .9-2.5-.9-.9 .3-.3 2.1 1.1 .4-1.1 1.3 0 8.2 2.5-1.4 1.2 .9 3.7-1 1 .7 .3 1.7 2.4 2.1 6.2-.8 2.5-.9 .4 .4-1.1 2.4 .7 1 2.5-.7 1.2 1 1.3 .2 2.4-1.1 2.6 .9 .6 1.2-.2 1.3 .8 .6 1.2 .1 2.5-1.4 3.7-.4 1.2 .2 3.7 3.8 2.5 .7 0 2.8 4.5 1 4.2-1.7 1.2 .3 2.5-1.2 .9 1.3-.3 1.3 .6 1 2.5 0 1.3 1.2 1.2-.2 1.2-1 1.3 0 1.2 1.2 1.2 0 .7 1.5zM527 500l.3 0-.1 .6zM673.3 432.9l1.8-1.1 .7-1.2-1.3-.6-1.1 .6-.8 1.2z" clip-path="url(#pf8aac5d967)" style="fill: #28ae80; stroke: #615252; stroke-opacity: 0.8; stroke-width: 0.9"/>
<path d="M528.4 507.8l1.3 0 1.2-.9 2.5-.7 1.2 1.4 1.3-.1 4.9-1 3.7-1.8 2.5 0 2.5-.5 2.5 .1 7.4-2.9 4.9-3.1 8.7-1.7 6.2-3.2 9.4-2.1 11.6-4.6 5-.8 6.2 .1 4.9 .9 2.5-.5 7.5 .2 7.4-2.9 7.4-6 6.5-3.7 2.8-2.5 5.5-6.2 .3-1.2-.4-2.5 .8-3.7-1-2.5 .6-3.7-.8-1.3-.3-1.2 .7-2.5 1.4-2.6 2.5-.8 1.2-.8 2.5-.1 1.2-.6 1.9-1.3 1.9-1.9 1.2-.6 1.2 1.7 3.7-.7 3.8-1.5 0-3.2 1.2-1.2-1.2-1.3 0-7.7-.8 .3-.7 1.2-2.3 1.2-3 2.6-1 1.2-.9 .5-.7-.5-.5-1.7-1.3 .2-1.4 1.5-.4 1.2 1.8 .5 .4 .8-.4 .5-2.5 1.8-2.4 3.2-6.6 3.2-1.2 1.2-1.5 3.7 2.1 12.4-.1 6.2-1 1.2-4.1 4.5-3.5 3-5.2 2.5-6.2 5-8.6 3.5-2.5 .3-2.5-.4-13.6 .2-1.3-.4-4.9 .5-2.5 .6-9.9 4.4-6.2 1.1-12.4 4.7-3.7 .3-2.5 .6-9.9 4.7-4.9 .9-2.5-.4-3.7 1.3-3.7 .1-4.9-1-1.3-1-1.3-.2-3.7 2.3-1.2 .3-.6-.2-.7-1.5-1.2 0-1.2-1.2-1.3 0-1.2 1-1.2 .2-1.3-1.2-2.5 0-.6-1 .3-1.3-.9-1.3-2.5 1.2-1.2-.3-4.2 1.7-4.5-1 0-2.8-2.5-.7-3.7-3.8-1.2-.2-3.7 .4-2.5 1.4-1.2-.1-.8-.6 .2-1.3-.6-1.2-2.6-.9-2.4 1.1-1.3-.2-1.2-1-2.5 .7-.7-1 1.1-2.4-.4-.4-2.5 .9-6.2 .8-2.4-2.1-.3-1.7-1-.7-3.7 1-1.2-.9-1.3 .4-1.2 1 0 8 1.2 .7 1.3-.1 1.9-2 1.8-.3 .4 .3-.3 1.3-.8 1.2 .7 .2 1.2-.5 1.7 1.5 2.2 1.3 1.1 2.4 1.2 .7 1.3 .2 2.2-.9 2.7-2.3 2.5-1.2 1.2 1.3 2.1 1 .4 1.3 2.5-1.1 .4 1-.2 1.3 1 .3 2.5-1.2 2.5-1.6 1.2 1.9 1.3-.2 1.2-1.3 3.7 .8 1.2 3 1.3 .5 1.2-.1 .4 .4-.9 2.4 .5 .5 2.5-1.3 6.2-1.7 2.5 1.8 1.2-.1 1.2 1.8 3.8-.4 1.2 1 2.5-.1 1.2 .4 2.5-.3 .9 .9zM672.6 431.8l.8-1.2 1.1-.6 1.3 .6-.7 1.2-1.8 1.1zM527.2 500.6l.1-.6-.3 0zM461.6 495.1l0-.8-.3 .7z" clip-path="url(#pf8aac5d967)" style="fill: #38b977; stroke: #615252; stroke-opacity: 0.8; stroke-width: 0.9"/>
<path d="M497.5 510.4l2.4-1.1 2.5-.3 1.3 .8 2 .1 1.7 .7 .5-.7 0-1.2 .7-.1 .5 .1 .8 1.2 2.4 .5 3.7-1.2 1.3 1.6 2.5-1.1 2.1 .2 4 1.2 5-1.3 1.2 .6 5-.6 7.4-2.1 2.5-1.1 5-.2 7.4-3.1 4.9-3.4 7.5-1.7 7.4-3.7 13.6-3.6 5-2.3 4.9-1.5 7.5-.1 6.1 .9 11.2-.3 6.2-2.7 6.2-5.3 7.4-4.6 4-3.5 5.7-6.2 .8-2.5 .1-2.5 1.3-2.4 .6-3.8-.3-3.7-1.6-1.2-.2-1.2 .7-1.4 1.3-.8 8.7-2.5 3.7-1.6 4.9-.6 1.3-.6 0-3-3.8 1.5-3.7 .7-1.2-1.7-1.2 .6-1.9 1.9-1.9 1.3-1.2 .6-2.5 .1-1.2 .8-2.5 .8-1.4 2.6-.7 2.5 .3 1.2 .8 1.3-.6 3.7 1 2.5-.8 3.7 .4 2.5-.3 1.2-5.5 6.2-3.1 2.7-6.2 3.5-7.4 6-7.4 2.9-7.5-.2-2.5 .5-4.9-.9-6.2-.1-5 .8-11.6 4.6-9.4 2.1-6.2 3.2-8.7 1.7-4.9 3.1-7.4 2.9-2.5-.1-2.5 .5-2.5 0-3.7 1.8-4.9 1-1.3 .1-1.2-1.4-2.5 .7-1.2 .9-1.3 0-1.2-1.3-2.5 .3-1.2-.4-2.5 .1-1.2-1-3.8 .4-1.2-1.8-1.2 .1-2.5-1.8-6.2 1.7-2.5 1.3-.5-.5 .9-2.4-.4-.4-1.2 .1-1.3-.5-1.2-3-3.7-.8-1.2 1.3-1.3 .2-1.2-1.9-2.5 1.6-2.5 1.2-1-.3 .2-1.3-.4-1-2.5 1.1-.4-1.3-2.1-1-1.2-1.3-2.5 1.2-2.7 2.3-2.2 .9-1.3-.2-1.2-.7-1.1-2.4-2.2-1.3-1.7-1.5-1.2 .5-.7-.2 .8-1.2 .3-1.3-.4-.3-1.8 .3-1.9 2-1.3 .1-1.2-.7 0 8.3 4.9-3.5 1.3 .1 1.8 1.1 .7 3.1 2.4 2.1 3.8-.6 1.2-1.2 .9 .4 0 1.2 .3 .1 2.5-1.6 1.3 .1 1.2 .9 2.5 .8 1.2 1 2.5-.1-.5 1.3 .5 .9 3.7-1.1 2.5 .8 2.5-.6 1.2 .7 1.3 3zM461.3 495l.3-.7 0 .8z" clip-path="url(#pf8aac5d967)" style="fill: #50c46a; stroke: #615252; stroke-opacity: 0.8; stroke-width: 0.9"/>
<path d="M493.8 516.2l1.2 .6 1.2-.3 3.7-2.4 2.5-.6 1.3 1.4 1.2 .3 3.7 0 2.5-.8 1.2 .3 1.3 .9 2.4-.5 1.3 1.1 3.7-1.3 2.5-1.4 3.7-.6 1.2 1.4 1.3-.1 4.9-2.2 6.2-.4 1.2-.3 3.8-2.3 3.7-.2 9.9-4.3 6.2-3.4 6.2-2 6.2-3.1 14.8-4.2 5-2.4 4.9-1.5 6.2 0 6.2 .9 7.4-.1 2.5 .4 2.5-.2 1.2-.5 5-2.6 6.5-5.6 7.9-5 4.8-3.7 4.3-4.3 2.5-3.1 .7-3.8 4.1-6.2 .2-1.2-.8-1.2 2-3.3 2.5-2.5 1.2-.7 1.2 .6 2.5-.5 1.2 .1 3.8-1 0-3.9-1.3 .6-4.9 .6-3.7 1.6-8.7 2.5-1.3 .8-.7 1.4 .2 1.2 1.6 1.2 .3 3.7-.6 3.8-1.3 2.4-.1 2.5-.8 2.5-5.7 6.2-4 3.5-7.4 4.6-6.2 5.3-6.2 2.7-11.2 .3-6.1-.9-7.5 .1-4.9 1.5-5 2.3-13.6 3.6-7.4 3.7-7.5 1.7-4.9 3.4-7.4 3.1-5 .2-2.5 1.1-7.4 2.1-5 .6-1.2-.6-5 1.3-4.9-1.4-1.9 .2-1.8 .9-1.3-1.6-3.7 1.2-1.2-.1-1.2-.4-.8-1.2-.5-.1-.7 .1 0 1.2-.5 .7-1.7-.7-2-.1-1.3-.8-2.5 .3-2.4 1.1-1.2-.5-1.3-3-1.2-.7-2.5 .6-2.5-.8-3.7 1.1-.5-.9 .5-1.3-2.5 .1-1.2-1-2.5-.8-1.2-.9-1.3-.1-2.5 1.6-.3-.1 0-1.2-.9-.4-1.2 1.2-3.8 .6-2.4-2.1-.7-3.1-1.8-1.1-1.2-.1-5 3.5 0 5.8 1.2-.6 1.3 .1 .3 1.1-.8 2.5 .5 .4 3.7 1.1 1.2-.2 1.3-1.2 1.2 .1 1.2 .9 1.3-.6 1.2 .5-.3 1.5 .3 .5 1.3-.2 4.9-3 .7 .2 .1 1.2 1.7 .2 2.5 1 1.2 1.4 1.2 .4 1.7-.5 3.3-2.5 1.2-.1 2.6 1.4 1.2 1.1-.1 2.6zM484 511.1l1.1-1.1 .6 1.1-.6 .8z" clip-path="url(#pf8aac5d967)" style="fill: #6ccd5a; stroke: #615252; stroke-opacity: 0.8; stroke-width: 0.9"/>
<path d="M473.9 521.2l1.3 .6 1.2-.4 1.3-1.7 1.2 .1 2.5-1.4 2.4-.8 .4 1-.4 1.3 1.3 .4 2.5-.7 1.2 .6 2.5-.3 2.5 .1 3.7-.8 .6 1.8 .6 .3 2.5-1.7 3.7 .6 2.5-.4 1.2 .8 1.2 0 1.7-.8 .8 1.4 1.3-.1 3.7-1.4 1.2 .8 2.5-1.6 4.9-.7 7.5-2.6 2.5-1.4 3.7-.6 7.4-2.3 9.9-4.7 5-1.6 3.7-2.6 13.6-5.9 13.6-3.9 3.7-1.9 5.3-1.9 5.9-.2 6.2 .9 7.4 0 3.7 .7 2.5-.1 6.9-3.7 6.8-6.2 3.6-2.3 6.2-3 4.8-3.4 5.1-5.8 1.3-2.1 2-2 3.7-5 .6-1.2-1.2-2.5 .5-1.2 2.1-2.5 2.2-1.2 3.7 2.2 2.5-.5 0-5.3-3.8 1-1.2-.1-2.5 .5-1.2-.6-1.2 .7-3.9 4.5-.6 1.3 .8 1.2-.2 1.2-4.1 6.2-.7 3.8-2.5 3.1-5.8 5.5-11.2 7.5-6.5 5.6-6 3-2.7 .3-2.5-.4-7.4 .1-6.2-.9-6.2 0-4.9 1.5-5 2.4-14.8 4.2-6.2 3.1-6.2 2-6.2 3.4-9.9 4.3-3.7 .2-3.8 2.3-7.4 .7-4.9 2.2-1.3 .1-1.2-1.4-3.7 .6-2.5 1.4-3.7 1.3-1.3-1.1-2.4 .5-1.3-.9-1.2-.3-2.5 .8-3.7 0-1.2-.3-1.3-1.4-2.5 .6-2.8 2-2.1 .7-1.3-.7 .1-2.6-1.2-1.1-2.6-1.4-1.2 .1-3.3 2.5-1.7 .5-1.2-.4-1.2-1.4-2.5-1-1.7-.2-.1-1.2-.7-.2-4.9 3-1.3 .2-.3-.5 .3-1.5-1.2-.5-1.3 .6-1.2-.9-1.2-.1-1.3 1.2-1.2 .2-3.7-1.1-.5-.4 .8-2.5-.3-1.1-1.3-.1-1.2 .6 0 6.9 1.3-.1-.1 3.7 1.3-.3 2.5 .8 2.4 .1 1.3-.7 2.4-.2 .6-.9 1.9-.6 .8 .6 0 1.2 .5 .9 2.4 0 .4 .4-.6 1.2 .1 1.2zM484.3 517.3l.8-.2 0 .4zM485.1 511.9l.6-.8-.6-1.1-1.1 1.1z" clip-path="url(#pf8aac5d967)" style="fill: #8bd646; stroke: #615252; stroke-opacity: 0.8; stroke-width: 0.9"/>
<path d="M471.5 525.1l1.2 0 1.5 .9 19.2 0 4.1-.5 .4 .5 2 0 3.8-2.8 1.2 0 2.5 2.8 2.1 0 2.8-.8 1.3 .5 1.2-.1 3.7-2.1 1.3-.3 1.1 .3 .1 .4 .1-.4 1.7-1.2 4.4-2.4 1.2 .5 1.3-.4 6.2-4.1 4.9-.7 3.7-1.1 11.2-5.6 3.7-1 7.4-4.7 13.6-6 12.4-3.6 8.7-3.5 1.2-.4 3.7 0 6.2 .9 8.7 .1 2.5 .7 3.7 0 7.4-3.7 5.9-5.9 3.7-2.5 6.5-2.5 5.4-3.7 12-10.3 2.3-3.3 .3-1.2-.4-1.3 .2-.5 2.5-2.2 3.7-.7 1.3-1.5 0-2-2.5 .5-3.7-2.2-2.2 1.2-2.1 2.5-.5 1.2 1.2 2.5-.6 1.2-3.7 5-2 2-1.3 2.1-5.1 5.8-4.8 3.4-6.2 3-3.6 2.3-6.8 6.2-6.9 3.7-2.5 .1-3.7-.7-7.4 0-6.2-.9-5.9 .2-5.3 1.9-3.7 1.9-13.6 3.9-13.6 5.9-3.7 2.6-5 1.6-9.9 4.7-7.4 2.3-3.7 .6-2.5 1.4-7.5 2.6-4.9 .7-2.5 1.6-1.2-.8-3.7 1.4-1.3 .1-.8-1.4-1.7 .8-1.2 0-1.2-.8-2.5 .4-3.7-.6-2.5 1.7-.6-.3-.6-1.8-3.7 .8-2.5-.1-2.5 .3-1.2-.6-2.5 .7-1.3-.4 .4-1.3-.4-1-2.4 .8-2.5 1.4-1.2-.1-1.3 1.7-1.2 .4-1.4-.8-.1-1.2 .6-1.2-.4-.4-2.4 0-.5-.9 0-1.2-.8-.6-1.9 .6-.6 .9-2.4 .2-1.3 .7-2.4-.1-2.5-.8-1.3 .3 .1-3.7-1.3 .1 0 6.8 1.2 .1 .4 1.7 2.1 .8 1.3 1.3 2.4-.5 2.5-1.3 3.7-.8 .4 .5-.1 2.5zM518.5 526l2.1 0-.8-1.1-1.5 1.1zM485.1 517.5l0-.4-.8 .2z" clip-path="url(#pf8aac5d967)" style="fill: #addc30; stroke: #615252; stroke-opacity: 0.8; stroke-width: 0.9"/>
<path d="M457.8 526l16.4 0-1.5-.9-2.2-.3 .1-2.5-.4-.5-3.7 .8-2.5 1.3-2.4 .5-1.3-1.3-2.1-.8-.4-1.7-1.2-.1 0 5.5zM493.8 526l4.1 0-.4-.5-4.1 .5zM499.9 526l7.5 0-2.5-2.8-1.2 0-3.8 2.8zM509.8 526l8.5 0 1.5-1.1 .8 1.1 3.8 0 2.8-1.8 1.9-1.9 5.5-3.5 3.7-1.2 2.5 0 5-2.9 3.7-1.3 4.9-3 5-1.8 1.2-1.2 .8 0 6.6-4.2 12.4-5.7 7.5-2.5 3-.5 .7-.7 1.4 0 2.3-1.2 5.6-2 .6-.5 9.9 0 1.2 .7 16 .5 7.5-3.7 3.8-3.3 2.5-2.9 1.2-.8 6.2-2.4 3.7-1.9 3.7-2.2 5-4.1 2.4-1.2 2.5 .2 1.3-.8 1.3-1.7 1.6-3.7 1.6-2.5 4.1-2.8 0-4.3-3.7 .7-1.9 1.5-.8 1.2 .4 1.3-.3 1.2-2.3 3.3-12 10.3-5.4 3.7-6.5 2.5-3.7 2.5-5.9 5.9-7.4 3.7-3.7 0-2.5-.7-7.4 0-6.2-.9-5-.1-11.1 4.3-11.2 3.2-13.6 6-7.4 4.7-3.7 1-11.2 5.6-3.7 1.1-4.9 .7-6.2 4.1-1.3 .4-1.2-.5-1.3 .5-4.8 3.1-.1 .4-.1-.4-1.1-.3-1.3 .3-3.7 2.1-1.2 .1-1.3-.5-2.8 .8z" clip-path="url(#pf8aac5d967)" style="fill: #cde11d; stroke: #615252; stroke-opacity: 0.8; stroke-width: 0.9"/>
<path d="M524.7 526l5 0 0-1.2 2.4-2.5 1.3 0 1.2-1.3 1.3 0 1.2-1.2 1.2 0 1.3-1.2 1.2 0 1.2-1.3 1.3 0 1.2-1.2 1.3 0 1.2-1.3 2.5 0 2.5-2.4 1.2 0 1.2-1.3 1.3 0 1.2-1.2 1.2 0 1.3-1.3-5 1.8-4.9 3-3.7 1.3-5 2.9-2.5 0-3.7 1.2-5.5 3.5-1.9 1.9-2.8 1.8zM561.9 507.4l.7-.7-1.2 .7zM564.3 506.2l1.3-1.3 1.2 0 1.2-1.2 1.3 0 1.2-1.2 1.3 0 1.2-1.3 1.2 0 1.3-1.2 1.2 0 1.3-1.3 1.2 0 1.2-1.2 2.5 0 .9-.9-3.4 .9-12.4 5.7-4.5 3zM585.4 496.3l1.2 0 1-1-2.7 1zM589.1 495l1.2 0 .6-.5-1.9 .5zM594.1 493.8l.8-.9-1.9 .9zM596.5 492.6l1.3 0 1.2-1.3 1.2 0 .7-.7-5.1 2zM612.6 491.3l9.3 0-9.8-.5zM628.7 491.3l1.3 0 1.2-1.2 1.2 0 1.3-1.2-5.1 2.4zM634.9 488.8l2.5-2.4 1.2 0 3.8-3.8 1.2 0 1.2-1.2 1.3 0 1.2-1.2 1.2 0 1.3-1.3 1.2 0 1.3-1.2 1.2 0 1.2-1.3 1.3 0 1.2-1.2 1.2 0 1.3-1.2 2.5 0 1.2-1.3 1.2 0 2.5-2.5 1.3 0 6.1-6.1 0-1.3 1.3-1.2 0-1.3 1.2-1.2 0-1.6-4.1 2.8-1.6 2.5-1.6 3.7-1.3 1.7-1.3 .8-2.5-.2-2.4 1.2-5 4.1-3.7 2.2-3.7 1.9-6.2 2.4-1.2 .8-2.5 2.9-3.8 3.3-2.4 1.2z" clip-path="url(#pf8aac5d967)" style="fill: #efe51c; stroke: #615252; stroke-opacity: 0.8; stroke-width: 0.9"/>
</g>
<g id="matplotlib.axis_13">
<g id="xtick_13">
<g id="line2d_73">
<g>
<use href="#mfb5e76a77d" x="456.6" y="526" style="stroke: #000000; stroke-width: 0.9"/>
</g>
</g>
</g>
<g id="xtick_14">
<g id="line2d_74">
<g>
<use href="#mfb5e76a77d" x="530.9" y="526" style="stroke: #000000; stroke-width: 0.9"/>
</g>
</g>
</g>
<g id="xtick_15">
<g id="line2d_75">
<g>
<use href="#mfb5e76a77d" x="605.2" y="526" style="stroke: #000000; stroke-width: 0.9"/>
</g>
</g>
</g>
<g id="xtick_16">
<g id="line2d_76">
<g>
<use href="#mfb5e76a77d" x="679.5" y="526" style="stroke: #000000; stroke-width: 0.9"/>
</g>
</g>
</g>
</g>
<g id="matplotlib.axis_14">
<g id="ytick_37">
<g id="line2d_77">
<g>
<use href="#m0a2475117b" x="456.6" y="507.4" style="stroke: #000000; stroke-width: 0.9"/>
</g>
</g>
</g>
<g id="ytick_38">
<g id="line2d_78">
<g>
<use href="#m0a2475117b" x="456.6" y="470.2" style="stroke: #000000; stroke-width: 0.9"/>
</g>
</g>
</g>
<g id="ytick_39">
<g id="line2d_79">
<g>
<use href="#m0a2475117b" x="456.6" y="433.1" style="stroke: #000000; stroke-width: 0.9"/>
</g>
</g>
</g>
<g id="ytick_40">
<g id="line2d_80">
<g>
<use href="#m0a2475117b" x="456.6" y="395.9" style="stroke: #000000; stroke-width: 0.9"/>
</g>
</g>
</g>
<g id="ytick_41">
<g id="line2d_81">
<g>
<use href="#m0a2475117b" x="456.6" y="358.8" style="stroke: #000000; stroke-width: 0.9"/>
</g>
</g>
</g>
<g id="ytick_42">
<g id="line2d_82">
<g>
<use href="#m0a2475117b" x="456.6" y="321.6" style="stroke: #000000; stroke-width: 0.9"/>
</g>
</g>
</g>
</g>
<g id="line2d_83">
<path d="M560.6 433.1l-.4-5.2-1.4-5-3.6-6.9-3.3-3.9-6.1-4.8-4.7-2.2-5-1.3-5.2-.4-5.2 .4-5 1.3-4.7 2.2-6.1 4.8-3.3 3.9-3.6 6.9-1.4 5-.4 5.2 .4 5.1 1.4 5.1 3.6 6.8 3.3 4 4 3.3 4.4 2.6 7.4 2.4 5.2 .4 5.2-.4 7.4-2.4 4.4-2.6 4-3.3 3.3-4 3.6-6.8 1.4-5.1 .4-5.1" clip-path="url(#pf8aac5d967)" style="fill: none; stroke-dasharray: 3.72,1.92; stroke-dashoffset: 0; stroke: #000000; stroke-width: 1.2"/>
</g>
<g id="line2d_84">
<path d="M590.3 433.1l-.5-8.3-.8-4.1-2.2-8-1.6-3.8-3.9-7.3-4.9-6.7-2.7-3.1-3-2.9-6.6-5.1-7.1-4.2-7.7-3.1-4-1.1-8.2-1.5-4.1-.2-8.3 .2-4.1 .6-8.1 2-3.9 1.4-3.8 1.7-7.1 4.2-6.6 5.1-3 2.9-2.7 3.1-4.9 6.7-3.9 7.3-1.6 3.8-2.2 8-.8 4.1-.5 8.3 .5 8.3 .8 4 1 4.1 2.8 7.8 3.9 7.3 4.9 6.7 2.7 3.1 6.2 5.5 3.4 2.5 3.5 2.2 7.4 3.6 7.9 2.6 4.1 .8 8.2 .9 4.2 0 8.2-.9 4.1-.8 7.9-2.6 7.4-3.6 3.5-2.2 3.4-2.5 6.2-5.5 2.7-3.1 4.9-6.7 3.9-7.3 2.8-7.8 1-4.1 .8-4 .5-8.3" clip-path="url(#pf8aac5d967)" style="fill: none; stroke-dasharray: 3.72,1.92; stroke-dashoffset: 0; stroke: #000000; stroke-width: 1.2"/>
</g>
<g id="line2d_85">
<path d="M620.1 433.1l-.5-9.3-1.5-9.3-4-13.4-3.8-8.5-4.6-8.1-5.5-7.6-6.3-6.9-6.9-6.2-7.5-5.5-8.1-4.7-8.5-3.8-8.9-2.9-9.2-1.9-13.9-1.1-13.9 1.1-9.2 1.9-8.9 2.9-8.5 3.8-8.1 4.7-7.5 5.5-6.9 6.2-6.3 6.9-5.5 7.6-4.6 8.1-3.8 8.5-4 13.4-1.5 9.3-.5 9.3 .5 9.3 1.5 9.2 2.4 9 3.3 8.8 6.7 12.3 5.5 7.5 6.3 7 6.9 6.2 7.5 5.5 12.3 6.7 8.7 3.3 9.1 2.4 9.2 1.5 9.3 .5 9.3-.5 9.2-1.5 9.1-2.4 8.7-3.3 12.3-6.7 7.5-5.5 6.9-6.2 6.3-7 5.5-7.5 6.7-12.3 3.3-8.8 2.4-9 1.5-9.2 .5-9.3" clip-path="url(#pf8aac5d967)" style="fill: none; stroke-dasharray: 3.72,1.92; stroke-dashoffset: 0; stroke: #000000; stroke-width: 1.2"/>
</g>
<g id="line2d_86">
<path d="M649.8 433.1l-.7-12.4-1.9-12.3-3.2-12.1-4.5-11.6-2.7-5.6-6.2-10.8-7.3-10.1-8.3-9.2-9.3-8.3-10.1-7.4-10.7-6.2-11.4-5.1-11.8-3.8-6.1-1.5-12.3-1.9-12.4-.6-12.4 .6-12.3 1.9-6.1 1.5-11.8 3.8-11.4 5.1-10.7 6.2-10.1 7.4-9.3 8.3-8.3 9.2-7.3 10.1-6.2 10.8-2.7 5.6-4.5 11.6-3.2 12.1-1.9 12.3-.7 12.4 .7 12.4 1.9 12.3 3.2 12 4.5 11.7 5.6 11.1 6.8 10.4 7.9 9.7 4.2 4.5 9.3 8.3 10.1 7.3 10.7 6.3 5.6 2.6 11.7 4.5 12 3.2 12.3 2 12.4 .6 12.4-.6 12.3-2 12-3.2 11.7-4.5 5.6-2.6 10.7-6.3 10.1-7.3 9.3-8.3 4.2-4.5 7.9-9.7 6.8-10.4 5.6-11.1 4.5-11.7 3.2-12 1.9-12.3 .7-12.4" clip-path="url(#pf8aac5d967)" style="fill: none; stroke-dasharray: 3.72,1.92; stroke-dashoffset: 0; stroke: #000000; stroke-width: 1.2"/>
</g>
<g id="line2d_87">
<path d="M679.5 433.1l-.4-10.4-1-10.3-1.8-10.2-2.6-10.1-3.2-9.9-3.8-9.6-7.1-13.8-5.5-8.9-6.1-8.3-6.7-8-7.2-7.5-11.7-10.2-8.4-6.1-8.8-5.5-9.2-4.8-9.4-4.3-9.8-3.5-10-2.9-10.1-2.1-10.3-1.5-10.3-.7-10.4 0-15.5 1.4-10.2 1.8-10.1 2.5-9.8 3.2-9.6 3.9-9.4 4.5-8.9 5.2-8.6 5.8-8.2 6.4-11.4 10.6-6.9 7.7-6.4 8.2-5.8 8.6-5.2 9-6.6 14.1-3.5 9.7-2.9 10-2.1 10.2-1.5 10.2-.7 10.4 0 10.4 1.3 15.5 1.8 10.2 2.6 10.1 3.2 9.8 3.8 9.7 4.6 9.3 5.2 9 5.8 8.6 6.4 8.1 6.9 7.8 7.5 7.2 7.9 6.6 8.4 6.1 8.8 5.5 7.7 4.2M597.5 566l7.7-4.2 8.8-5.5 8.4-6.1 7.9-6.6 7.5-7.2 6.9-7.8 6.4-8.1 5.8-8.6 5.2-9 4.6-9.3 3.8-9.7 3.2-9.8 2.6-10.1 1.8-10.2 1-10.3 .4-10.4" clip-path="url(#pf8aac5d967)" style="fill: none; stroke-dasharray: 3.72,1.92; stroke-dashoffset: 0; stroke: #000000; stroke-width: 1.2"/>
</g>
<g id="line2d_88">
<path d="M456.6 433.1l222.9 0" clip-path="url(#pf8aac5d967)" style="fill: none; stroke: #000000; stroke-width: 1.5; stroke-linecap: square"/>
</g>
<g id="line2d_89">
<path d="M530.9 526l0-223" clip-path="url(#pf8aac5d967)" style="fill: none; stroke: #000000; stroke-width: 1.5; stroke-linecap: square"/>
</g>
<g id="patch_93">
<path d="M456.6 526l0-223" style="fill: none; stroke: #000000; stroke-width: 0.9; stroke-linejoin: miter; stroke-linecap: square"/>
</g>
<g id="patch_94">
<path d="M679.5 526l0-223" style="fill: none; stroke: #000000; stroke-width: 0.9; stroke-linejoin: miter; stroke-linecap: square"/>
</g>
<g id="patch_95">
<path d="M456.6 526l222.9 0" style="fill: none; stroke: #000000; stroke-width: 0.9; stroke-linejoin: miter; stroke-linecap: square"/>
</g>
<g id="patch_96">
<path d="M456.6 303l222.9 0" style="fill: none; stroke: #000000; stroke-width: 0.9; stroke-linejoin: miter; stroke-linecap: square"/>
</g>
<g id="line2d_90">
<path d="M530.9 371.1" clip-path="url(#pf8aac5d967)" style="fill: none; stroke: #ff0000; stroke-width: 1.5; stroke-linecap: square"/>
<g clip-path="url(#pf8aac5d967)">
<use href="#m2eb061f581" x="530.9" y="371.1" style="fill: #ff0000; stroke: #ff0000; stroke-width: 2.1"/>
</g>
</g>
<g id="PathCollection_4">
<g clip-path="url(#pf8aac5d967)">
<use href="#m4749da2731" x="494" y="327.8"/>
<use href="#m4749da2731" x="504.3" y="330.1"/>
<use href="#m4749da2731" x="519.8" y="333.6"/>
<use href="#m4749da2731" x="505.6" y="339.6"/>
<use href="#m4749da2731" x="505.1" y="350.1"/>
<use href="#m4749da2731" x="507.2" y="349.2"/>
<use href="#m4749da2731" x="503.8" y="357"/>
<use href="#m4749da2731" x="514.7" y="359.1"/>
<use href="#m4749da2731" x="544.7" y="341.4"/>
<use href="#m4749da2731" x="541" y="353.3"/>
<use href="#m4749da2731" x="544.7" y="355"/>
<use href="#m4749da2731" x="540.1" y="359.1"/>
<use href="#m4749da2731" x="541.2" y="360.8"/>
<use href="#m4749da2731" x="528.5" y="359.7"/>
<use href="#m4749da2731" x="527.4" y="365.6"/>
<use href="#m4749da2731" x="529.5" y="367.7"/>
<use href="#m4749da2731" x="531.1" y="369.8"/>
<use href="#m4749da2731" x="534.3" y="368.8"/>
<use href="#m4749da2731" x="541.7" y="372"/>
<use href="#m4749da2731" x="551.5" y="326"/>
<use href="#m4749da2731" x="555.8" y="325"/>
<use href="#m4749da2731" x="569.4" y="332.2"/>
<use href="#m4749da2731" x="580.5" y="331.4"/>
<use href="#m4749da2731" x="575.7" y="340.2"/>
<use href="#m4749da2731" x="557.9" y="347.1"/>
<use href="#m4749da2731" x="550.7" y="357"/>
<use href="#m4749da2731" x="555.5" y="360.2"/>
<use href="#m4749da2731" x="559.5" y="361.1"/>
<use href="#m4749da2731" x="561.9" y="360.3"/>
<use href="#m4749da2731" x="564.3" y="359.8"/>
<use href="#m4749da2731" x="566.6" y="359.3"/>
<use href="#m4749da2731" x="549.1" y="364.3"/>
<use href="#m4749da2731" x="572.6" y="354.5"/>
<use href="#m4749da2731" x="581.8" y="361.4"/>
<use href="#m4749da2731" x="585.3" y="364.3"/>
<use href="#m4749da2731" x="593.8" y="364.3"/>
<use href="#m4749da2731" x="605.7" y="363"/>
<use href="#m4749da2731" x="583.4" y="368.6"/>
<use href="#m4749da2731" x="574.6" y="374.7"/>
<use href="#m4749da2731" x="555.5" y="375.5"/>
<use href="#m4749da2731" x="557.1" y="377"/>
<use href="#m4749da2731" x="558.7" y="378.2"/>
<use href="#m4749da2731" x="538" y="379"/>
<use href="#m4749da2731" x="528.9" y="380.5"/>
<use href="#m4749da2731" x="555.5" y="382.2"/>
<use href="#m4749da2731" x="557.1" y="384.5"/>
<use href="#m4749da2731" x="540.3" y="384.5"/>
<use href="#m4749da2731" x="551.5" y="387.2"/>
<use href="#m4749da2731" x="535.6" y="386.1"/>
<use href="#m4749da2731" x="536.3" y="388.5"/>
<use href="#m4749da2731" x="582.6" y="383.7"/>
<use href="#m4749da2731" x="581.8" y="388.5"/>
<use href="#m4749da2731" x="585.8" y="387.2"/>
<use href="#m4749da2731" x="583.4" y="390.9"/>
<use href="#m4749da2731" x="586.6" y="391.7"/>
<use href="#m4749da2731" x="577" y="386.9"/>
<use href="#m4749da2731" x="596.1" y="388.5"/>
<use href="#m4749da2731" x="599.3" y="383"/>
<use href="#m4749da2731" x="533.2" y="391.7"/>
<use href="#m4749da2731" x="544.3" y="390.1"/>
<use href="#m4749da2731" x="545.2" y="392.1"/>
<use href="#m4749da2731" x="542" y="396.5"/>
<use href="#m4749da2731" x="560.2" y="396.5"/>
<use href="#m4749da2731" x="561.1" y="399.7"/>
<use href="#m4749da2731" x="538.8" y="398.9"/>
<use href="#m4749da2731" x="549.1" y="400.5"/>
<use href="#m4749da2731" x="612.1" y="399.7"/>
<use href="#m4749da2731" x="533.9" y="382.6"/>
<use href="#m4749da2731" x="533.5" y="394.1"/>
<use href="#m4749da2731" x="525.8" y="394.9"/>
<use href="#m4749da2731" x="541" y="398.1"/>
<use href="#m4749da2731" x="542.6" y="402.1"/>
<use href="#m4749da2731" x="540.3" y="400.5"/>
<use href="#m4749da2731" x="537.1" y="406.8"/>
<use href="#m4749da2731" x="547.4" y="408.4"/>
<use href="#m4749da2731" x="550.6" y="403.6"/>
<use href="#m4749da2731" x="561" y="408.4"/>
<use href="#m4749da2731" x="573.7" y="413.2"/>
<use href="#m4749da2731" x="558.5" y="416.4"/>
<use href="#m4749da2731" x="553.8" y="421.2"/>
<use href="#m4749da2731" x="554.9" y="422.8"/>
<use href="#m4749da2731" x="573.7" y="423.6"/>
<use href="#m4749da2731" x="531.5" y="427.6"/>
<use href="#m4749da2731" x="564.1" y="434"/>
<use href="#m4749da2731" x="574.5" y="437.2"/>
<use href="#m4749da2731" x="563.4" y="445.9"/>
<use href="#m4749da2731" x="561" y="452.3"/>
<use href="#m4749da2731" x="561.7" y="453.9"/>
<use href="#m4749da2731" x="573.7" y="448.3"/>
<use href="#m4749da2731" x="584" y="381"/>
<use href="#m4749da2731" x="596.2" y="390.1"/>
<use href="#m4749da2731" x="587.9" y="403.6"/>
<use href="#m4749da2731" x="613.4" y="403.6"/>
<use href="#m4749da2731" x="619.8" y="402.1"/>
<use href="#m4749da2731" x="585.5" y="412.4"/>
<use href="#m4749da2731" x="586.3" y="414.1"/>
<use href="#m4749da2731" x="592.7" y="418.8"/>
<use href="#m4749da2731" x="609.4" y="415.6"/>
<use href="#m4749da2731" x="623" y="419.6"/>
<use href="#m4749da2731" x="621.7" y="421.2"/>
<use href="#m4749da2731" x="587.1" y="430"/>
<use href="#m4749da2731" x="589.5" y="434"/>
<use href="#m4749da2731" x="575.2" y="435.5"/>
<use href="#m4749da2731" x="575.9" y="438.7"/>
<use href="#m4749da2731" x="584" y="436.4"/>
<use href="#m4749da2731" x="585.5" y="441.9"/>
<use href="#m4749da2731" x="579.1" y="441.9"/>
<use href="#m4749da2731" x="595.1" y="438.7"/>
<use href="#m4749da2731" x="597.5" y="441.1"/>
<use href="#m4749da2731" x="603" y="434.3"/>
<use href="#m4749da2731" x="629.3" y="439.6"/>
<use href="#m4749da2731" x="602.2" y="445.1"/>
<use href="#m4749da2731" x="607.1" y="446.7"/>
<use href="#m4749da2731" x="580.8" y="449.9"/>
<use href="#m4749da2731" x="582.3" y="451.5"/>
<use href="#m4749da2731" x="596.7" y="452.3"/>
<use href="#m4749da2731" x="599" y="454.7"/>
<use href="#m4749da2731" x="611" y="452.3"/>
<use href="#m4749da2731" x="560" y="454.6"/>
<use href="#m4749da2731" x="560" y="460.6"/>
<use href="#m4749da2731" x="583.9" y="452.6"/>
<use href="#m4749da2731" x="618.9" y="460.9"/>
<use href="#m4749da2731" x="575.9" y="465.7"/>
<use href="#m4749da2731" x="583.9" y="467.3"/>
<use href="#m4749da2731" x="584.6" y="469.7"/>
<use href="#m4749da2731" x="587.1" y="464.9"/>
<use href="#m4749da2731" x="588.6" y="470.5"/>
<use href="#m4749da2731" x="587.1" y="474.5"/>
<use href="#m4749da2731" x="564.7" y="472.1"/>
<use href="#m4749da2731" x="609.4" y="465.7"/>
<use href="#m4749da2731" x="608.5" y="468.1"/>
<use href="#m4749da2731" x="581.5" y="478.4"/>
<use href="#m4749da2731" x="583.1" y="480.9"/>
<use href="#m4749da2731" x="574.3" y="481.6"/>
<use href="#m4749da2731" x="595.8" y="484.1"/>
<use href="#m4749da2731" x="602.2" y="481.3"/>
<use href="#m4749da2731" x="599.5" y="498.4"/>
</g>
</g>
</g>
<g id="axes_8">
<g id="patch_97">
<path d="M695.1 526l11.3 0 0-223-11.3 0z" style="fill: #ffffff"/>
</g>
<g id="patch_98">
<path d="M695.1 526l11.3 0 0-14.5-11.3 0z" clip-path="url(#pb80fedbe0d)" style="fill: #460a5d"/>
</g>
<g id="patch_99">
<path d="M695.1 514.8l11.3 0 0-14.4-11.3 0z" clip-path="url(#pb80fedbe0d)" style="fill: #481c6e"/>
</g>
<g id="patch_100">
<path d="M695.1 503.7l11.3 0 0-14.5-11.3 0z" clip-path="url(#pb80fedbe0d)" style="fill: #472d7b"/>
</g>
<g id="patch_101">
<path d="M695.1 492.6l11.3 0 0-14.5-11.3 0z" clip-path="url(#pb80fedbe0d)" style="fill: #443b84"/>
</g>
<g id="patch_102">
<path d="M695.1 481.4l11.3 0 0-14.5-11.3 0z" clip-path="url(#pb80fedbe0d)" style="fill: #3e4a89"/>
</g>
<g id="patch_103">
<path d="M695.1 470.2l11.3 0 0-14.4-11.3 0z" clip-path="url(#pb80fedbe0d)" style="fill: #38598c"/>
</g>
<g id="patch_104">
<path d="M695.1 459.1l11.3 0 0-14.5-11.3 0z" clip-path="url(#pb80fedbe0d)" style="fill: #31668e"/>
</g>
<g id="patch_105">
<path d="M695.1 448l11.3 0 0-14.5-11.3 0z" clip-path="url(#pb80fedbe0d)" style="fill: #2c728e"/>
</g>
<g id="patch_106">
<path d="M695.1 436.8l11.3 0 0-14.5-11.3 0z" clip-path="url(#pb80fedbe0d)" style="fill: #277e8e"/>
</g>
<g id="patch_107">
<path d="M695.1 425.6l11.3 0 0-14.4-11.3 0z" clip-path="url(#pb80fedbe0d)" style="fill: #238a8d"/>
</g>
<g id="patch_108">
<path d="M695.1 414.5l11.3 0 0-14.5-11.3 0z" clip-path="url(#pb80fedbe0d)" style="fill: #1f968b"/>
</g>
<g id="patch_109">
<path d="M695.1 403.4l11.3 0 0-14.5-11.3 0z" clip-path="url(#pb80fedbe0d)" style="fill: #1fa287"/>
</g>
<g id="patch_110">
<path d="M695.1 392.2l11.3 0 0-14.5-11.3 0z" clip-path="url(#pb80fedbe0d)" style="fill: #28ae80"/>
</g>
<g id="patch_111">
<path d="M695.1 381l11.3 0 0-14.4-11.3 0z" clip-path="url(#pb80fedbe0d)" style="fill: #38b977"/>
</g>
<g id="patch_112">
<path d="M695.1 369.9l11.3 0 0-14.5-11.3 0z" clip-path="url(#pb80fedbe0d)" style="fill: #50c46a"/>
</g>
<g id="patch_113">
<path d="M695.1 358.8l11.3 0 0-14.5-11.3 0z" clip-path="url(#pb80fedbe0d)" style="fill: #6ccd5a"/>
</g>
<g id="patch_114">
<path d="M695.1 347.6l11.3 0 0-14.5-11.3 0z" clip-path="url(#pb80fedbe0d)" style="fill: #8bd646"/>
</g>
<g id="patch_115">
<path d="M695.1 336.4l11.3 0 0-14.4-11.3 0z" clip-path="url(#pb80fedbe0d)" style="fill: #addc30"/>
</g>
<g id="patch_116">
<path d="M695.1 325.3l11.3 0 0-14.5-11.3 0z" clip-path="url(#pb80fedbe0d)" style="fill: #cde11d"/>
</g>
<g id="patch_117">
<path d="M695.1 314.2l11.3 0 0-11.2-11.3 0z" clip-path="url(#pb80fedbe0d)" style="fill: #efe51c"/>
</g>
<g id="matplotlib.axis_15"/>
<g id="matplotlib.axis_16">
<g id="ytick_43">
<g id="line2d_91">
<g>
<use href="#m253cf10b20" x="706.4" y="526" style="stroke: #000000; stroke-width: 0.9"/>
</g>
</g>
</g>
<g id="ytick_44">
<g id="line2d_92">
<g>
<use href="#m253cf10b20" x="706.4" y="481.4" style="stroke: #000000; stroke-width: 0.9"/>
</g>
</g>
</g>
<g id="ytick_45">
<g id="line2d_93">
<g>
<use href="#m253cf10b20" x="706.4" y="436.8" style="stroke: #000000; stroke-width: 0.9"/>
</g>
</g>
</g>
<g id="ytick_46">
<g id="line2d_94">
<g>
<use href="#m253cf10b20" x="706.4" y="392.2" style="stroke: #000000; stroke-width: 0.9"/>
</g>
</g>
</g>
<g id="ytick_47">
<g id="line2d_95">
<g>
<use href="#m253cf10b20" x="706.4" y="347.6" style="stroke: #000000; stroke-width: 0.9"/>
</g>
</g>
</g>
<g id="ytick_48">
<g id="line2d_96">
<g>
<use href="#m253cf10b20" x="706.4" y="303" style="stroke: #000000; stroke-width: 0.9"/>
</g>
</g>
</g>
</g>
<g id="patch_118">
<path d="M695.1 526l0-223" style="fill: none; stroke: #000000; stroke-width: 0.9; stroke-linejoin: miter; stroke-linecap: square"/>
</g>
<g id="patch_119">
<path d="M706.4 526l0-223" style="fill: none; stroke: #000000; stroke-width: 0.9; stroke-linejoin: miter; stroke-linecap: square"/>
</g>
<g id="patch_120">
<path d="M695.1 526l11.3 0" style="fill: none; stroke: #000000; stroke-width: 0.9; stroke-linejoin: miter; stroke-linecap: square"/>
</g>
<g id="patch_121">
<path d="M695.1 303l11.3 0" style="fill: none; stroke: #000000; stroke-width: 0.9; stroke-linejoin: miter; stroke-linecap: square"/>
</g>
</g>
</g>
<defs>
<clipPath id="p6381751999">
<rect x="51.2" y="4.5" width="223" height="222.9"/>
</clipPath>
<clipPath id="p7b3d6b9c51">
<rect x="289.4" y="4.5" width="11.2" height="222.9"/>
</clipPath>
<clipPath id="p42eccacd5f">
<rect x="456.6" y="4.5" width="222.9" height="222.9"/>
</clipPath>
<clipPath id="p87b4551f37">
<rect x="695.1" y="4.5" width="11.3" height="222.9"/>
</clipPath>
<clipPath id="p9298c22aac">
<rect x="56.5" y="303" width="222.8" height="223"/>
</clipPath>
<clipPath id="pd67575f0bb">
<rect x="295.1" y="303" width="11.3" height="223"/>
</clipPath>
<clipPath id="pf8aac5d967">
<rect x="456.6" y="303" width="222.9" height="223"/>
</clipPath>
<clipPath id="pb80fedbe0d">
<rect x="695.1" y="303" width="11.3" height="223"/>
</clipPath>
</defs>
<g font-size="14" fill="#000">
<text x="50.6" y="247.5" text-anchor="middle" textLength="24.2">−10</text>
<text x="125.5" y="247.5" text-anchor="middle">0</text>
<text x="199.9" y="247.5" text-anchor="middle">10</text>
<text x="274.2" y="247.5" text-anchor="middle">20</text>
<text x="40.8" y="213.6" text-anchor="end" textLength="24.2">−10</text>
<text x="40.8" y="176.5" text-anchor="end" textLength="17.5">−5</text>
<text x="40.8" y="139.3" text-anchor="end">0</text>
<text x="40.8" y="102.2" text-anchor="end">5</text>
<text x="40.8" y="65.0" text-anchor="end">10</text>
<text x="40.8" y="27.9" text-anchor="end">15</text>
<text x="162.7" y="264.0" text-anchor="middle" textLength="44.5">X (kpc)</text>
<text transform="translate(10.6 116.8) rotate(-90)" text-anchor="middle" textLength="44.7">Y (kpc)</text>
<text x="311.0" y="232.2">5000</text>
<text x="311.0" y="187.6">6400</text>
<text x="311.0" y="143.0">7800</text>
<text x="311.0" y="98.5">9200</text>
<text x="311.0" y="53.9">10600</text>
<text x="311.0" y="9.3">12000</text>
<text transform="translate(357.0 116.0) rotate(-90)" text-anchor="middle" textLength="36.7"><tspan font-style="italic">T</tspan><tspan font-style="italic" font-size="10" dy="2.2">e</tspan><tspan dy="-2.2"> (K)</tspan></text>
<text x="456.0" y="247.5" text-anchor="middle" textLength="24.2">−10</text>
<text x="530.9" y="247.5" text-anchor="middle">0</text>
<text x="605.2" y="247.5" text-anchor="middle">10</text>
<text x="679.5" y="247.5" text-anchor="middle">20</text>
<text x="446.2" y="213.6" text-anchor="end" textLength="24.2">−10</text>
<text x="446.2" y="176.5" text-anchor="end" textLength="17.5">−5</text>
<text x="446.2" y="139.3" text-anchor="end">0</text>
<text x="446.2" y="102.2" text-anchor="end">5</text>
<text x="446.2" y="65.0" text-anchor="end">10</text>
<text x="446.2" y="27.9" text-anchor="end">15</text>
<text x="568.0" y="264.0" text-anchor="middle" textLength="44.5">X (kpc)</text>
<text transform="translate(416.0 116.8) rotate(-90)" text-anchor="middle" textLength="44.7">Y (kpc)</text>
<text x="716.8" y="232.2">900</text>
<text x="716.8" y="187.6">1020</text>
<text x="716.8" y="143.0">1140</text>
<text x="716.8" y="98.5">1260</text>
<text x="716.8" y="53.9">1380</text>
<text x="716.8" y="9.3">1500</text>
<text transform="translate(756.5 116.0) rotate(-90)" text-anchor="middle" textLength="99.0"><tspan font-style="italic">T</tspan><tspan font-style="italic" font-size="10" dy="2.2">e</tspan><tspan dy="-2.2"> Std. Dev. (K)</tspan></text>
<text x="55.9" y="546.1" text-anchor="middle" textLength="24.2">−10</text>
<text x="130.8" y="546.1" text-anchor="middle">0</text>
<text x="205.0" y="546.1" text-anchor="middle">10</text>
<text x="279.3" y="546.1" text-anchor="middle">20</text>
<text x="46.1" y="512.2" text-anchor="end" textLength="24.2">−10</text>
<text x="46.1" y="475.1" text-anchor="end" textLength="17.5">−5</text>
<text x="46.1" y="437.9" text-anchor="end">0</text>
<text x="46.1" y="400.7" text-anchor="end">5</text>
<text x="46.1" y="363.6" text-anchor="end">10</text>
<text x="46.1" y="326.4" text-anchor="end">15</text>
<text x="167.9" y="562.6" text-anchor="middle" textLength="44.5">X (kpc)</text>
<text transform="translate(15.9 415.3) rotate(-90)" text-anchor="middle" textLength="44.7">Y (kpc)</text>
<text x="316.8" y="530.8">0</text>
<text x="316.8" y="486.2">300</text>
<text x="316.8" y="441.6">600</text>
<text x="316.8" y="397.0">900</text>
<text x="316.8" y="352.4">1200</text>
<text x="316.8" y="307.8">1500</text>
<text transform="translate(356.7 414.5) rotate(-90)" text-anchor="middle" textLength="149.0">Negative Uncertainty (K)</text>
<text x="456.0" y="546.1" text-anchor="middle" textLength="24.2">−10</text>
<text x="530.9" y="546.1" text-anchor="middle">0</text>
<text x="605.2" y="546.1" text-anchor="middle">10</text>
<text x="679.5" y="546.1" text-anchor="middle">20</text>
<text x="446.2" y="512.2" text-anchor="end" textLength="24.2">−10</text>
<text x="446.2" y="475.1" text-anchor="end" textLength="17.5">−5</text>
<text x="446.2" y="437.9" text-anchor="end">0</text>
<text x="446.2" y="400.7" text-anchor="end">5</text>
<text x="446.2" y="363.6" text-anchor="end">10</text>
<text x="446.2" y="326.4" text-anchor="end">15</text>
<text x="568.0" y="562.6" text-anchor="middle" textLength="44.5">X (kpc)</text>
<text transform="translate(416.0 415.3) rotate(-90)" text-anchor="middle" textLength="44.7">Y (kpc)</text>
<text x="716.8" y="530.8">0</text>
<text x="716.8" y="486.2">300</text>
<text x="716.8" y="441.6">600</text>
<text x="716.8" y="397.0">900</text>
<text x="716.8" y="352.4">1200</text>
<text x="716.8" y="307.8">1500</text>
<text transform="translate(756.5 414.5) rotate(-90)" text-anchor="middle" textLength="145.0">Positive Uncertainty (K)</text>
</g></svg>

</body></html>
